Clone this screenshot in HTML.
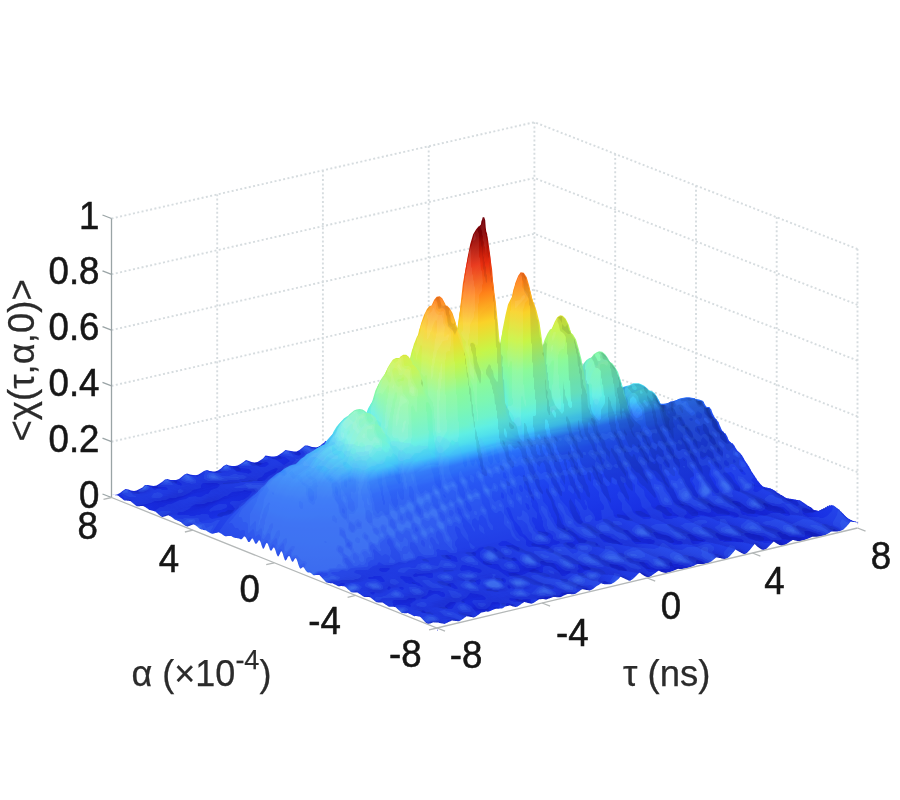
<!DOCTYPE html>
<html><head><meta charset="utf-8"><title>Ambiguity function</title><style>html,body{margin:0;padding:0;background:#fff}svg{display:block}</style></head><body>
<svg width="900" height="800" viewBox="0 0 900 800">
<rect width="900" height="800" fill="#fff"/>
<g stroke="#d6dcdf" stroke-width="1.9" stroke-dasharray="2 2.4" fill="none">
<path d="M111.5,441.7L534.4,345.4L857.5,472.2"/>
<path d="M111.5,385.9L534.4,289.6L857.5,416.4"/>
<path d="M111.5,330.1L534.4,233.8L857.5,360.6"/>
<path d="M111.5,274.3L534.4,178.0L857.5,304.8"/>
<path d="M111.5,218.5L534.4,122.2L857.5,249.0"/>
<path d="M217.2,473.4L217.2,194.4"/>
<path d="M615.2,432.9L615.2,153.9"/>
<path d="M322.9,449.4L322.9,170.4"/>
<path d="M696.0,464.6L696.0,185.6"/>
<path d="M428.7,425.3L428.7,146.3"/>
<path d="M776.7,496.3L776.7,217.3"/>
<path d="M534.4,401.2L534.4,122.2"/>
<path d="M857.5,528.0L857.5,249.0"/>
</g>
<defs><linearGradient id="g" gradientUnits="userSpaceOnUse" x1="0" y1="0" x2="-133.13" y2="-559.82"><stop offset="0" stop-color="#1422cf"/><stop offset="0.007547" stop-color="#172bdd"/><stop offset="0.01887" stop-color="#1931e4"/><stop offset="0.0566" stop-color="#1b37e8"/><stop offset="0.1132" stop-color="#1d3eec"/><stop offset="0.1887" stop-color="#2150f3"/><stop offset="0.2358" stop-color="#2a72f9"/><stop offset="0.283" stop-color="#34a0fc"/><stop offset="0.3396" stop-color="#44d4f6"/><stop offset="0.3962" stop-color="#60f0e2"/><stop offset="0.4717" stop-color="#8cfa98"/><stop offset="0.566" stop-color="#c8f546"/><stop offset="0.6604" stop-color="#fad228"/><stop offset="0.7547" stop-color="#ff8219"/><stop offset="0.8491" stop-color="#e82d0f"/><stop offset="0.9434" stop-color="#8a0000"/><stop offset="1" stop-color="#6e000a"/></linearGradient>
<linearGradient id="h1" href="#g"><stop offset="0" stop-color="#1422cf"/><stop offset="0.007547" stop-color="#172bdd"/><stop offset="0.01887" stop-color="#1931e4"/><stop offset="0.0566" stop-color="#1b37e8"/><stop offset="0.1132" stop-color="#1d3eec"/><stop offset="0.1887" stop-color="#2150f3"/><stop offset="0.2358" stop-color="#2a72f9"/><stop offset="0.2547" stop-color="#2f89fa"/><stop offset="0.2736" stop-color="#349ffc"/><stop offset="0.3019" stop-color="#3cbbf9"/><stop offset="0.3302" stop-color="#45d5f6"/><stop offset="0.3585" stop-color="#52e2ec"/><stop offset="0.3868" stop-color="#5fefe3"/><stop offset="0.4151" stop-color="#6ef3ca"/><stop offset="0.4434" stop-color="#7df7b1"/><stop offset="0.4717" stop-color="#8cfa98"/><stop offset="0.566" stop-color="#c8f546"/><stop offset="0.6604" stop-color="#fad228"/><stop offset="0.7547" stop-color="#ff8219"/><stop offset="0.8491" stop-color="#e82d0f"/><stop offset="0.9434" stop-color="#8a0000"/><stop offset="1" stop-color="#6e000a"/></linearGradient>
<linearGradient id="h2" href="#g"><stop offset="0" stop-color="#1422cf"/><stop offset="0.007547" stop-color="#172bdd"/><stop offset="0.01887" stop-color="#1931e4"/><stop offset="0.0566" stop-color="#1b37e8"/><stop offset="0.1132" stop-color="#1d3eec"/><stop offset="0.1887" stop-color="#2150f3"/><stop offset="0.2358" stop-color="#2a72f9"/><stop offset="0.2547" stop-color="#308dfb"/><stop offset="0.2736" stop-color="#36a8fb"/><stop offset="0.3019" stop-color="#3fc5f8"/><stop offset="0.3302" stop-color="#4adaf2"/><stop offset="0.3585" stop-color="#57e7e8"/><stop offset="0.3868" stop-color="#63f1dc"/><stop offset="0.4151" stop-color="#71f4c5"/><stop offset="0.4434" stop-color="#7ef7af"/><stop offset="0.4717" stop-color="#8cfa98"/><stop offset="0.566" stop-color="#c8f546"/><stop offset="0.6604" stop-color="#fad228"/><stop offset="0.7547" stop-color="#ff8219"/><stop offset="0.8491" stop-color="#e82d0f"/><stop offset="0.9434" stop-color="#8a0000"/><stop offset="1" stop-color="#6e000a"/></linearGradient>
<linearGradient id="h3" href="#g"><stop offset="0" stop-color="#1422cf"/><stop offset="0.007547" stop-color="#172bdd"/><stop offset="0.01887" stop-color="#1931e4"/><stop offset="0.0566" stop-color="#1b37e8"/><stop offset="0.1132" stop-color="#1d3eec"/><stop offset="0.1887" stop-color="#2150f3"/><stop offset="0.2358" stop-color="#2a72f9"/><stop offset="0.2547" stop-color="#3191fb"/><stop offset="0.2736" stop-color="#39b0fa"/><stop offset="0.3019" stop-color="#42cff7"/><stop offset="0.3302" stop-color="#4fdfee"/><stop offset="0.3585" stop-color="#5cece4"/><stop offset="0.3868" stop-color="#68f2d5"/><stop offset="0.4151" stop-color="#74f5c0"/><stop offset="0.4434" stop-color="#80f7ac"/><stop offset="0.4717" stop-color="#8cfa98"/><stop offset="0.566" stop-color="#c8f546"/><stop offset="0.6604" stop-color="#fad228"/><stop offset="0.7547" stop-color="#ff8219"/><stop offset="0.8491" stop-color="#e82d0f"/><stop offset="0.9434" stop-color="#8a0000"/><stop offset="1" stop-color="#6e000a"/></linearGradient>
<linearGradient id="h4" href="#g"><stop offset="0" stop-color="#1422cf"/><stop offset="0.007547" stop-color="#172bdd"/><stop offset="0.01887" stop-color="#1931e4"/><stop offset="0.0566" stop-color="#1b37e8"/><stop offset="0.1132" stop-color="#1d3eec"/><stop offset="0.1887" stop-color="#2150f3"/><stop offset="0.2358" stop-color="#2a72f9"/><stop offset="0.2547" stop-color="#3296fb"/><stop offset="0.2736" stop-color="#3bb8f9"/><stop offset="0.3019" stop-color="#47d7f4"/><stop offset="0.3302" stop-color="#54e4ea"/><stop offset="0.3585" stop-color="#62f0df"/><stop offset="0.3868" stop-color="#6cf3cd"/><stop offset="0.4151" stop-color="#77f5bb"/><stop offset="0.4434" stop-color="#81f8aa"/><stop offset="0.4717" stop-color="#8cfa98"/><stop offset="0.566" stop-color="#c8f546"/><stop offset="0.6604" stop-color="#fad228"/><stop offset="0.7547" stop-color="#ff8219"/><stop offset="0.8491" stop-color="#e82d0f"/><stop offset="0.9434" stop-color="#8a0000"/><stop offset="1" stop-color="#6e000a"/></linearGradient>
<linearGradient id="h5" href="#g"><stop offset="0" stop-color="#1422cf"/><stop offset="0.007547" stop-color="#172bdd"/><stop offset="0.01887" stop-color="#1931e4"/><stop offset="0.0566" stop-color="#1b37e8"/><stop offset="0.1132" stop-color="#1d3eec"/><stop offset="0.1887" stop-color="#2150f3"/><stop offset="0.2358" stop-color="#2a72f9"/><stop offset="0.2547" stop-color="#339afc"/><stop offset="0.2736" stop-color="#3ec0f8"/><stop offset="0.3019" stop-color="#4cdcf0"/><stop offset="0.3302" stop-color="#59e9e7"/><stop offset="0.3585" stop-color="#68f2d5"/><stop offset="0.3868" stop-color="#71f4c6"/><stop offset="0.4151" stop-color="#7af6b6"/><stop offset="0.4434" stop-color="#83f8a7"/><stop offset="0.4717" stop-color="#8cfa98"/><stop offset="0.566" stop-color="#c8f546"/><stop offset="0.6604" stop-color="#fad228"/><stop offset="0.7547" stop-color="#ff8219"/><stop offset="0.8491" stop-color="#e82d0f"/><stop offset="0.9434" stop-color="#8a0000"/><stop offset="1" stop-color="#6e000a"/></linearGradient>
<linearGradient id="h6" href="#g"><stop offset="0" stop-color="#1422cf"/><stop offset="0.007547" stop-color="#172bdd"/><stop offset="0.01887" stop-color="#1931e4"/><stop offset="0.0566" stop-color="#1b37e8"/><stop offset="0.1132" stop-color="#1d3eec"/><stop offset="0.1887" stop-color="#2150f3"/><stop offset="0.2358" stop-color="#2a72f9"/><stop offset="0.2547" stop-color="#349efc"/><stop offset="0.2736" stop-color="#40c8f7"/><stop offset="0.3019" stop-color="#51e1ec"/><stop offset="0.3302" stop-color="#5fefe3"/><stop offset="0.3585" stop-color="#6ef3cb"/><stop offset="0.3868" stop-color="#75f5be"/><stop offset="0.4151" stop-color="#7df7b1"/><stop offset="0.4434" stop-color="#84f8a5"/><stop offset="0.4717" stop-color="#8cfa98"/><stop offset="0.566" stop-color="#c8f546"/><stop offset="0.6604" stop-color="#fad228"/><stop offset="0.7547" stop-color="#ff8219"/><stop offset="0.8491" stop-color="#e82d0f"/><stop offset="0.9434" stop-color="#8a0000"/><stop offset="1" stop-color="#6e000a"/></linearGradient>
</defs>
<g fill="url(#g)">
<path transform="translate(111.5,497.5)scale(.5)" d="M4,-5l-4-1l6 1l5-1l6-3l5-4l6-4l6 1l5 2l6 1l5-1l6-3l6-3l5-5l6 0l5 1l6 1l6-1l5-3l6-4l6-5l5-1l6 2l5 0l6 0l6-2l5-4l6-5l5-2l6 2l6 1l5 1l6-2l5-3l6-4l6-2l5 2l6 1l5 0l6-2l6-4l5-5l6-3l5 2l6 1l6 0l5-1l6-3l6-4l5-4l6 2l5 2l6 1l6-1l5-3l6-4l5-6l6 1l6 1l5 0l6-1l5-3l6-4l6-5l5 1l6 1l5 1l6 0l6-3l5-4l6-5l5 0l6 2l6 2l5 0l1 0l1-1l2 0l1-1l1 0l0-1l2 0l1-1l1-1l1-1l0 0l2-1l1-1l1-1l2-1l0-1l1-1l1-1l4 1l5 2l6 1l6-1l5-2l6-4l5-5l6-2l6 2l5 1l6 0l5-2l6-3l6-5l5-2l6 2l5 1l6 1l6-2l5-4l6-5l5-4l6 2l6 1l5 1l6-1l5-4l6-5l6-5l5 3l6 2l6 1l5-1l6-4l5-4l6-6l6 3l5 2l6 2l5-1l6-4l6-4l5-5l6 1l5 2l6 1l6-1l5-3l6-5l5-4l6 0l6 2l5 1l6-1l5-3l6-4l6-4l5-1l6 2l6 1l5 0l6-3l5-5l6-4l6-2l5 3l6 1l5 0l6-3l6-4l5-5l6-2l5 2l6 1l4 1l0 13l-841 200z"/>
<path transform="translate(113.3,498.2)scale(.5)" d="M4,-6l-4-1l6 1l5-1l6-2l5-3l6-3l6 1l5 1l6 1l5-1l6-3l6-3l5-4l6 0l5 0l6 0l6-1l5-3l6-4l6-4l5-1l6 1l5 1l6-1l6-3l5-3l6-4l5-2l6 1l6 0l5 0l6-1l5-3l6-3l6-2l5 2l6 1l5 0l6-2l6-3l5-4l6-3l5 1l6 0l6 1l5-2l6-2l6-4l5-3l6 2l5 1l6 0l6-1l5-3l6-4l5-4l6 0l6 0l5 0l6-1l5-3l6-3l6-4l5 0l6 0l5 1l6-1l6-2l5-3l6-5l5 0l6 1l6 1l5 0l1 0l1-1l2 0l1-1l1 0l0 0l2-1l1 0l1-1l1-1l0 0l2-1l1-1l1 0l2-1l0-1l1 0l1-1l4 0l5 1l6 1l6 0l5-3l6-3l5-4l6-2l6 1l5 0l6 0l5-2l6-3l6-3l5-3l6 2l5 0l6 1l6-2l5-4l6-4l5-4l6 1l6 1l5 1l6-2l5-3l6-4l6-4l5 2l6 1l6 1l5-1l6-4l5-4l6-4l6 2l5 2l6 0l5-1l6-2l6-4l5-4l6 0l5 2l6 0l6-1l5-3l6-4l5-4l6 0l6 1l5 1l6-1l5-2l6-4l6-4l5 0l6 1l6 0l5-1l6-2l5-4l6-4l6-1l5 1l6 1l5-1l6-2l6-4l5-4l6-2l5 2l6 0l4 1l0 13l-841 200z"/>
<path transform="translate(115.1,498.9)scale(.5)" d="M4,-7l-4-1l6 1l5 0l6-2l5-2l6-3l6 1l5 0l6 1l5-1l6-2l6-3l5-4l6-1l5 0l6 0l6-2l5-2l6-3l6-4l5-1l6 1l5 0l6-1l6-3l5-3l6-3l5-2l6 0l6 0l5-1l6-1l5-3l6-3l6-1l5 1l6 1l5 0l6-2l6-2l5-3l6-3l5 1l6 0l6 0l5-2l6-2l6-3l5-3l6 1l5 1l6 0l6-2l5-2l6-4l5-4l6 0l6-1l5 0l6-1l5-2l6-3l6-3l5 0l6 0l5 0l6-1l6-2l5-3l6-4l5-1l6 0l6 1l5 0l1 0l1-1l2 0l1 0l1-1l0 0l2 0l1-1l1 0l1-1l0 0l2-1l1 0l1-1l2-1l0 0l1-1l1-1l4 1l5 1l6 0l6-1l5-2l6-3l5-3l6-2l6 0l5 1l6-1l5-1l6-3l6-3l5-2l6 0l5 0l6 0l6-2l5-3l6-4l5-3l6 1l6 0l5 1l6-2l5-3l6-3l6-3l5 1l6 1l6 0l5-1l6-3l5-4l6-4l6 1l5 2l6 0l5-1l6-2l6-4l5-3l6 0l5 1l6 0l6-1l5-3l6-3l5-3l6-1l6 1l5 0l6-1l5-2l6-3l6-4l5-1l6 1l6 0l5-1l6-3l5-3l6-3l6-2l5 1l6 1l5-1l6-3l6-3l5-3l6-2l5 0l6 0l4 1l0 14l-841 200z"/>
<path transform="translate(116.9,499.7)scale(.5)" d="M4,-7l-4-2l6 1l5 0l6-2l5-1l6-3l6 1l5 0l6 0l5-1l6-2l6-2l5-4l6-1l5 0l6-1l6-2l5-2l6-2l6-3l5-1l6 0l5 0l6-1l6-2l5-3l6-3l5-2l6 0l6-1l5-1l6-2l5-2l6-3l6-1l5 1l6 0l5 0l6-1l6-2l5-3l6-2l5 0l6 0l6-1l5-1l6-2l6-2l5-3l6 1l5-1l6 0l6-2l5-2l6-3l5-4l6 0l6-1l5-1l6 0l5-2l6-2l6-3l5-1l6 0l5 0l6-1l6-2l5-2l6-4l5-1l6-1l6 1l5-1l1 0l1 0l2-1l1 0l1 0l0-1l2 0l1 0l1-1l1-1l0 0l2 0l1-1l1 0l2-1l0 0l1-1l1 0l4 0l5 0l6 1l6-1l5-2l6-2l5-3l6-2l6 0l5 0l6-1l5-1l6-3l6-3l5-2l6 0l5 0l6-1l6-1l5-3l6-3l5-3l6 0l6 0l5 0l6-1l5-2l6-3l6-3l5 0l6 1l6 0l5-1l6-3l5-3l6-4l6 1l5 0l6 1l5-1l6-3l6-2l5-3l6 0l5 0l6 0l6-1l5-2l6-3l5-3l6-1l6 0l5 0l6-1l5-2l6-3l6-3l5-1l6 0l6 0l5-1l6-3l5-2l6-3l6-2l5 1l6 0l5-1l6-3l6-3l5-3l6-2l5 0l6-1l4 1l0 15l-841 200z"/>
<path transform="translate(118.7,500.4)scale(.5)" d="M4,-6l-4-3l6 1l5 0l6-2l5-2l6-2l6 0l5 1l6-1l5-1l6-2l6-2l5-3l6-1l5-1l6-1l6-1l5-2l6-2l6-3l5-1l6 0l5 0l6-1l6-2l5-3l6-2l5-2l6-1l6-1l5-1l6-2l5-2l6-2l6-2l5 0l6 0l5 0l6-1l6-1l5-3l6-2l5 0l6 0l6-1l5-1l6-2l6-2l5-2l6-1l5 0l6-1l6-2l5-2l6-3l5-3l6-1l6-1l5 0l6-1l5-1l6-2l6-2l5-1l6-1l5 0l6-1l6-1l5-3l6-3l5-1l6-1l6-1l5 0l1-1l1 0l2 0l1-1l1 0l0 0l2 0l1-1l1 0l1-1l0 0l2 0l1-1l1-1l2 0l0 0l1-1l1 0l4 0l5 0l6 0l6-1l5-1l6-2l5-3l6-2l6 0l5 0l6-1l5-1l6-3l6-2l5-2l6-1l5 0l6-1l6-2l5-2l6-3l5-2l6-1l6 1l5-1l6-1l5-2l6-3l6-2l5 0l6 0l6 0l5-1l6-3l5-3l6-3l6 0l5 0l6 0l5-1l6-2l6-2l5-3l6 0l5 0l6 0l6-1l5-3l6-2l5-3l6 0l6-1l5 0l6-1l5-2l6-2l6-3l5-1l6-1l6 0l5-1l6-2l5-3l6-3l6-1l5 0l6 0l5-2l6-2l6-3l5-3l6-2l5 0l6-2l4 1l0 16l-841 200z"/>
<path transform="translate(120.5,501.1)scale(.5)" d="M4,-4l-4-3l6 0l5-1l6-1l5-2l6-2l6-1l5 0l6-1l5-1l6-2l6-2l5-3l6-1l5-1l6-1l6-1l5-2l6-1l6-2l5-1l6 0l5-1l6-1l6-2l5-2l6-2l5-2l6-1l6-1l5-1l6-2l5-2l6-3l6-1l5-1l6 0l5-1l6 0l6-2l5-2l6-1l5 0l6-1l6-1l5-1l6-2l6-2l5-2l6-1l5-1l6-1l6-2l5-2l6-3l5-2l6-1l6-1l5 0l6-1l5-1l6-1l6-3l5 0l6-1l5-1l6-1l6-1l5-2l6-3l5-2l6-1l6-1l5 0l1-1l1 0l2 0l1-1l1 0l0 0l2-1l1 0l1-1l1 0l0 0l2-1l1 0l1-1l2 0l0 0l1-1l1 0l4-1l5 0l6 0l6 0l5-1l6-2l5-3l6-1l6-1l5 0l6-1l5-1l6-3l6-2l5-2l6-1l5 0l6-1l6-2l5-2l6-2l5-3l6 0l6 0l5 0l6-1l5-2l6-3l6-3l5 0l6 0l6 0l5-1l6-3l5-2l6-3l6-1l5 0l6 0l5-1l6-2l6-3l5-2l6 0l5 0l6-1l6-1l5-2l6-2l5-3l6 0l6 0l5-1l6-1l5-2l6-2l6-3l5-1l6 0l6-1l5-1l6-2l5-2l6-3l6-1l5 0l6-1l5-1l6-3l6-3l5-2l6-3l5-1l6-1l4 0l0 17l-841 200z"/>
<path transform="translate(122.3,501.9)scale(.5)" d="M4,-3l-4-3l6 0l5-1l6-2l5-2l6-2l6-1l5-1l6-1l5-1l6-2l6-3l5-2l6-1l5-1l6-1l6-1l5-1l6-1l6-2l5-1l6 0l5-1l6-1l6-2l5-1l6-2l5-2l6 0l6-2l5-1l6-2l5-2l6-2l6-2l5-1l6-1l5-1l6-1l6-1l5-2l6-1l5 0l6-1l6-1l5-1l6-2l6-2l5-2l6-1l5-1l6-2l6-2l5-2l6-2l5-2l6-1l6 0l5-1l6 0l5-1l6-2l6-2l5-1l6-1l5-1l6-1l6-1l5-2l6-2l5-2l6-1l6-1l5-1l1 0l1-1l2 0l1-1l1 0l0 0l2 0l1-1l1 0l1-1l0 0l2 0l1-1l1-1l2 0l0 0l1-1l1 0l4-1l5 0l6-1l6 0l5-1l6-2l5-2l6-1l6-1l5 0l6-1l5-2l6-1l6-3l5-2l6 0l5-1l6-1l6-2l5-2l6-2l5-2l6 0l6 0l5-1l6-1l5-2l6-2l6-3l5 0l6-1l6 0l5-1l6-2l5-3l6-3l6 0l5-1l6 0l5-1l6-3l6-2l5-2l6-1l5 0l6 0l6-1l5-2l6-2l5-2l6-1l6 0l5-1l6-1l5-2l6-2l6-2l5-1l6-1l6-1l5-1l6-2l5-2l6-2l6-1l5-1l6-1l5-1l6-3l6-2l5-3l6-2l5-2l6-2l4 1l0 17l-841 200z"/>
<path transform="translate(124.2,502.6)scale(.5)" d="M4,-4l-4 0l6-1l5-2l6-2l5-2l6-2l6-1l5-1l6-2l5-1l6-2l6-2l5-2l6-1l5-1l6-1l6-1l5-1l6-1l6-1l5-1l6-1l5-1l6-1l6-1l5-2l6-2l5-1l6 0l6-1l5-2l6-1l5-2l6-3l6-2l5-1l6-1l5-2l6-1l6-1l5-2l6-1l5 0l6-1l6-1l5-1l6-2l6-2l5-2l6-1l5-2l6-1l6-2l5-2l6-2l5-1l6-1l6 0l5-1l6-1l5-1l6-1l6-2l5-1l6-2l5-1l6 0l6-2l5-1l6-3l5-1l6-2l6-1l5-1l1 0l1 0l2-1l1 0l1 0l0 0l2-1l1 0l1-1l1 0l0 0l2-1l1 0l1-1l2-1l0 0l1 0l1-1l4 0l5-2l6 0l6 0l5-1l6-2l5-2l6-1l6-1l5 0l6-1l5-2l6-1l6-2l5-2l6-1l5-1l6-1l6-1l5-2l6-2l5-2l6 0l6-1l5 0l6-2l5-1l6-3l6-2l5-1l6 0l6-1l5-1l6-2l5-3l6-2l6-1l5 0l6-1l5-1l6-3l6-2l5-2l6-1l5 0l6 0l6-2l5-1l6-2l5-2l6-1l6 0l5-1l6-1l5-2l6-2l6-2l5-1l6-1l6 0l5-2l6-1l5-2l6-2l6-1l5-1l6-1l5-2l6-2l6-3l5-3l6-2l5-2l6-2l4 2l0 16l-841 200z"/>
<path transform="translate(126.0,503.3)scale(.5)" d="M4,-5l-4-1l6 0l5-1l6-2l5-2l6-2l6-1l5-2l6-1l5-2l6-2l6-1l5-2l6-1l5-1l6 0l6-1l5-1l6-1l6-1l5-1l6-1l5-1l6-2l6-1l5-2l6-1l5-1l6-1l6-1l5-1l6-1l5-2l6-2l6-2l5-2l6-1l5-2l6-2l6-1l5-1l6-2l5 0l6-1l6-1l5-2l6-1l6-2l5-2l6-1l5-2l6-1l6-2l5-1l6-2l5-1l6-1l6 0l5-1l6-1l5-1l6-1l6-2l5-2l6-1l5-1l6-1l6-2l5-1l6-2l5-2l6-1l6-1l5-1l1 0l1-1l2 0l1 0l1-1l0 0l2 0l1-1l1 0l1 0l0 0l2-1l1-1l1 0l2-1l0 0l1 0l1-1l4-1l5-1l6-1l6-1l5-1l6-1l5-2l6-1l6-1l5 0l6-1l5-2l6-1l6-2l5-2l6-1l5-1l6-1l6-1l5-1l6-2l5-2l6 0l6-1l5-1l6-1l5-2l6-2l6-2l5-1l6-1l6-1l5-1l6-2l5-2l6-3l6-1l5 0l6-1l5-1l6-2l6-3l5-2l6-1l5 0l6-1l6-1l5-1l6-2l5-2l6-1l6 0l5-1l6-1l5-2l6-2l6-2l5-1l6 0l6-1l5-1l6-2l5-1l6-2l6-1l5-1l6-2l5-1l6-2l6-3l5-3l6-2l5-2l6-2l4 3l0 14l-841 200z"/>
<path transform="translate(127.8,504.0)scale(.5)" d="M4,-6l-4-1l6 0l5-1l6-1l5-2l6-2l6-1l5-1l6-2l5-2l6-1l6-2l5-2l6 0l5-1l6-1l6 0l5-1l6-1l6-2l5-1l6-1l5-1l6-2l6-1l5-1l6-2l5-1l6 0l6-1l5-1l6-2l5-1l6-2l6-2l5-1l6-2l5-2l6-2l6-1l5-2l6-1l5-1l6-1l6-1l5-2l6-1l6-2l5-2l6-1l5-1l6-2l6-1l5-1l6-2l5-1l6 0l6-1l5-1l6-1l5-1l6-2l6-2l5-1l6-2l5-1l6-1l6-2l5-1l6-2l5-1l6-2l6-1l5 0l1-1l1 0l2 0l1-1l1 0l0 0l2 0l1-1l1 0l1-1l0 0l2 0l1-1l1 0l2-1l0 0l1 0l1-1l4-1l5-2l6-1l6 0l5-2l6-1l5-2l6-1l6-1l5-1l6 0l5-2l6-1l6-2l5-2l6-1l5-1l6 0l6-1l5-2l6-1l5-2l6-1l6-1l5-1l6-1l5-2l6-2l6-2l5-1l6-1l6-1l5-1l6-2l5-2l6-2l6-1l5-1l6-1l5-1l6-2l6-2l5-3l6-1l5 0l6-1l6-1l5-1l6-2l5-2l6-1l6 0l5-1l6-1l5-2l6-2l6-1l5-1l6-1l6-1l5-1l6-1l5-2l6-2l6-1l5-1l6-1l5-2l6-2l6-2l5-3l6-2l5-2l6-2l4 3l0 13l-841 200z"/>
<path transform="translate(129.6,504.8)scale(.5)" d="M4,-6l-4-2l6 0l5 0l6-1l5-2l6-1l6-2l5-1l6-1l5-2l6-1l6-2l5-1l6-1l5-1l6 0l6-1l5-1l6-1l6-2l5-1l6-2l5-1l6-2l6-1l5-1l6-2l5-1l6 0l6-1l5-1l6-1l5-1l6-2l6-1l5-2l6-2l5-2l6-2l6-2l5-1l6-2l5-1l6-1l6-1l5-2l6-1l6-2l5-1l6-2l5-1l6-1l6-1l5-1l6-1l5-1l6-1l6-1l5-1l6-1l5-2l6-1l6-2l5-2l6-2l5-1l6-1l6-2l5-1l6-2l5-1l6-1l6-1l5-1l1 0l1 0l2-1l1 0l1 0l0 0l2-1l1 0l1 0l1-1l0 0l2 0l1-1l1 0l2-1l0 0l1 0l1-1l4-1l5-2l6-1l6-1l5-1l6-2l5-1l6-2l6-1l5-1l6 0l5-2l6-1l6-2l5-1l6-1l5-1l6-1l6-1l5-1l6-2l5-1l6-1l6-1l5-1l6-2l5-2l6-1l6-3l5-1l6-1l6-1l5-1l6-2l5-2l6-2l6-1l5-1l6 0l5-2l6-2l6-2l5-2l6-1l5-1l6-1l6-1l5-1l6-2l5-2l6-1l6 0l5-1l6-1l5-2l6-1l6-2l5-1l6-1l6-1l5-1l6-1l5-2l6-1l6-2l5-1l6-1l5-1l6-2l6-2l5-3l6-2l5-2l6-2l4 3l0 12l-841 200z"/>
<path transform="translate(131.4,505.5)scale(.5)" d="M4,-4l-4-3l6-1l5 0l6-1l5-1l6-2l6-1l5-1l6-2l5-1l6-1l6-2l5-1l6 0l5-1l6-1l6-1l5-1l6-2l6-1l5-2l6-1l5-2l6-2l6-1l5-1l6-2l5-1l6-1l6-1l5-1l6-1l5 0l6-2l6-1l5-1l6-2l5-2l6-2l6-2l5-1l6-2l5-2l6-1l6-1l5-1l6-2l6-1l5-2l6-1l5-1l6-1l6-1l5-1l6-1l5-1l6-1l6-1l5-1l6-2l5-1l6-2l6-2l5-2l6-2l5-1l6-1l6-2l5-1l6-2l5-1l6-1l6-1l5-1l1 0l1 0l2 0l1-1l1 0l0 0l2 0l1 0l1-1l1 0l0 0l2 0l1-1l1 0l2-1l0 0l1 0l1-1l4-1l5-2l6-1l6-1l5-2l6-1l5-2l6-1l6-2l5-1l6 0l5-2l6-1l6-2l5-1l6-1l5-1l6-1l6-1l5-1l6-2l5-1l6-1l6-1l5-2l6-1l5-2l6-1l6-2l5-2l6-1l6-1l5-1l6-2l5-2l6-2l6-1l5 0l6-1l5-1l6-2l6-2l5-2l6-2l5 0l6-1l6-1l5-2l6-2l5-2l6-1l6 0l5-1l6-1l5-2l6-1l6-2l5-1l6-1l6-1l5-1l6-1l5-2l6-1l6-2l5-1l6-1l5-1l6-2l6-2l5-2l6-2l5-2l6-2l4 3l0 11l-841 200z"/>
<path transform="translate(133.2,506.2)scale(.5)" d="M4,-3l-4-3l6 0l5-1l6-2l5-1l6-1l6-1l5-1l6-2l5-1l6-1l6-1l5-1l6-1l5-1l6-1l6-1l5-1l6-2l6-2l5-2l6-1l5-2l6-2l6-1l5-2l6-1l5-1l6-1l6-1l5-1l6-1l5-1l6-1l6-1l5-1l6-1l5-2l6-2l6-2l5-2l6-1l5-2l6-2l6-1l5-1l6-2l6-1l5-2l6-1l5-1l6-1l6-1l5 0l6-1l5-1l6-2l6-1l5-1l6-2l5-2l6-2l6-2l5-1l6-2l5-1l6-2l6-1l5-1l6-2l5-1l6-1l6-2l5 0l1 0l1 0l2-1l1 0l1 0l0 0l2 0l1 0l1-1l1 0l0 0l2 0l1-1l1 0l2 0l0-1l1 0l1 0l4-1l5-2l6-2l6-1l5-1l6-1l5-2l6-2l6-2l5-1l6 0l5-2l6-1l6-1l5-2l6-1l5-1l6-1l6-1l5-1l6-2l5-1l6-2l6-1l5-1l6-1l5-2l6-2l6-1l5-2l6-1l6-1l5-1l6-2l5-1l6-2l6-2l5 0l6-1l5-1l6-2l6-2l5-2l6-1l5-1l6-1l6-1l5-1l6-2l5-2l6-1l6-1l5-1l6-1l5-2l6-1l6-2l5-1l6-1l6-1l5-1l6-1l5-2l6-2l6-1l5-1l6-1l5-2l6-1l6-2l5-2l6-1l5-2l6-2l4 3l0 10l-841 200z"/>
<path transform="translate(135.0,506.9)scale(.5)" d="M4,-1l-4-3l6-1l5-2l6-1l5-1l6-2l6-1l5-1l6-1l5-1l6-1l6-1l5-1l6-1l5-1l6-1l6-1l5-2l6-2l6-2l5-2l6-2l5-1l6-2l6-1l5-2l6-1l5-1l6-2l6-1l5-1l6-1l5-1l6-1l6-1l5-1l6-1l5-1l6-2l6-1l5-2l6-2l5-2l6-1l6-2l5-1l6-2l6-1l5-1l6-1l5-1l6-1l6-1l5-1l6-1l5-1l6-2l6-1l5-2l6-2l5-2l6-1l6-2l5-2l6-1l5-2l6-1l6-1l5-1l6-2l5-1l6-2l6-1l5 0l1-1l1 0l2 0l1 0l1 0l0 0l2 0l1-1l1 0l1 0l0 0l2 0l1-1l1 0l2 0l0 0l1-1l1 0l4-1l5-2l6-1l6-1l5-1l6-2l5-2l6-2l6-1l5-2l6 0l5-2l6-1l6-1l5-2l6-1l5-1l6-1l6-1l5-1l6-2l5-2l6-1l6-1l5-2l6-1l5-1l6-2l6-2l5-1l6-1l6-1l5-1l6-2l5-1l6-2l6-2l5 0l6-1l5-1l6-1l6-2l5-2l6-2l5 0l6-1l6-1l5-2l6-2l5-2l6-1l6-1l5-1l6-1l5-2l6-1l6-2l5-1l6-1l6-1l5-1l6-2l5-1l6-2l6-1l5-1l6-2l5-1l6-1l6-2l5-2l6-1l5-1l6-2l4 3l0 9l-841 200z"/>
<path transform="translate(136.8,507.6)scale(.5)" d="M4,-3l-4 0l6-1l5-2l6-2l5-1l6-1l6-1l5-1l6-1l5-1l6-1l6-1l5-1l6-1l5-2l6-1l6-2l5-2l6-2l6-2l5-2l6-1l5-2l6-1l6-2l5-1l6-1l5-2l6-1l6-2l5-1l6-1l5-1l6-1l6-1l5-1l6-1l5-1l6-1l6-1l5-2l6-1l5-2l6-2l6-2l5-1l6-2l6-1l5-1l6-1l5-1l6-1l6-1l5-1l6-1l5-2l6-1l6-2l5-2l6-2l5-2l6-1l6-2l5-1l6-2l5-1l6-1l6-1l5-1l6-2l5-1l6-2l6-1l5-1l1 0l1 0l2 0l1-1l1 0l0 0l2 0l1 0l1 0l1 0l0 0l2-1l1 0l1 0l2-1l0 0l1 0l1 0l4-1l5-2l6-1l6-1l5-1l6-1l5-2l6-2l6-2l5-1l6-1l5-2l6-1l6-1l5-2l6-1l5-1l6-1l6-1l5-2l6-1l5-2l6-2l6-1l5-1l6-2l5-1l6-1l6-2l5-1l6-1l6-1l5-1l6-2l5-1l6-2l6-2l5 0l6-1l5-1l6-1l6-2l5-2l6-1l5-1l6-1l6-1l5-2l6-2l5-2l6-1l6-1l5-1l6-1l5-2l6-1l6-2l5-1l6-1l6-1l5-1l6-2l5-2l6-1l6-2l5-1l6-1l5-1l6-2l6-1l5-1l6-2l5-1l6-1l4 1l0 10l-841 200z"/>
<path transform="translate(138.6,508.4)scale(.5)" d="M4,-4l-4 0l6-1l5-2l6-1l5-1l6-2l6-1l5 0l6-1l5-1l6-1l6-1l5-1l6-2l5-1l6-2l6-2l5-2l6-2l6-2l5-1l6-2l5-1l6-1l6-2l5-1l6-1l5-2l6-1l6-2l5-2l6-1l5-1l6-1l6-1l5-1l6-1l5-1l6-1l6-1l5-1l6-1l5-2l6-2l6-2l5-1l6-2l6-1l5-1l6-1l5-1l6-2l6-1l5-1l6-1l5-2l6-1l6-2l5-2l6-2l5-2l6-1l6-1l5-2l6-1l5-1l6-1l6-1l5-1l6-2l5-1l6-2l6-2l5-1l1 0l1 0l2 0l1 0l1 0l0 0l2-1l1 0l1 0l1 0l0 0l2 0l1-1l1 0l2 0l0 0l1 0l1-1l4-1l5-1l6-1l6-1l5-1l6-1l5-2l6-2l6-2l5-2l6 0l5-2l6-1l6-2l5-1l6-2l5-1l6-1l6-1l5-1l6-2l5-2l6-1l6-2l5-1l6-1l5-2l6-1l6-1l5-2l6 0l6-1l5-2l6-1l5-1l6-2l6-2l5-1l6 0l5-1l6-2l6-1l5-2l6-1l5-1l6-1l6-1l5-1l6-2l5-2l6-2l6-1l5-1l6-1l5-2l6-2l6-1l5-2l6 0l6-1l5-2l6-1l5-2l6-2l6-1l5-1l6-1l5-2l6-1l6-2l5-1l6-1l5-1l6-1l4 0l0 11l-841 200z"/>
<path transform="translate(140.4,509.1)scale(.5)" d="M4,-6l-4 0l6-1l5 0l6-2l5-1l6-1l6-1l5-1l6-1l5-1l6-1l6-1l5-1l6-2l5-1l6-2l6-2l5-2l6-2l6-2l5-1l6-1l5-1l6-2l6-1l5-1l6-1l5-2l6-1l6-2l5-2l6-2l5-1l6-1l6-2l5 0l6-1l5-1l6-1l6-1l5-1l6-1l5-1l6-2l6-2l5-1l6-2l6-1l5-1l6-1l5-2l6-1l6-1l5-1l6-2l5-2l6-2l6-2l5-1l6-2l5-2l6-1l6-1l5-1l6-1l5-1l6-1l6-1l5-2l6-1l5-2l6-1l6-2l5-1l1 0l1 0l2-1l1 0l1 0l0 0l2 0l1 0l1-1l1 0l0 0l2 0l1 0l1-1l2 0l0 0l1 0l1-1l4 0l5-2l6-1l6-1l5 0l6-1l5-2l6-2l6-2l5-2l6-1l5-1l6-1l6-2l5-1l6-2l5-1l6-1l6-1l5-2l6-2l5-1l6-2l6-1l5-1l6-2l5-1l6-1l6-1l5-2l6-1l6-1l5-1l6-1l5-1l6-2l6-2l5-1l6-1l5-1l6-1l6-1l5-2l6-1l5-1l6-1l6-1l5-1l6-2l5-3l6-1l6-1l5-1l6-1l5-2l6-2l6-1l5-2l6-1l6-1l5-1l6-2l5-1l6-2l6-1l5-2l6-1l5-1l6-2l6-1l5-2l6-1l5-1l6-2l4 1l0 12l-841 200z"/>
<path transform="translate(142.2,509.8)scale(.5)" d="M4,-7l-4-1l6 0l5 0l6-1l5-1l6-1l6-1l5-1l6-1l5-1l6-1l6-2l5-1l6-2l5-2l6-2l6-2l5-1l6-2l6-2l5-1l6-1l5-1l6-1l6-1l5-1l6-1l5-2l6-1l6-2l5-2l6-2l5-1l6-2l6-1l5-2l6-1l5-1l6 0l6-1l5-1l6-1l5-1l6-1l6-2l5-2l6-1l6-1l5-1l6-2l5-1l6-1l6-2l5-1l6-2l5-2l6-2l6-2l5-1l6-2l5-1l6-1l6-1l5-1l6-1l5-1l6-1l6-1l5-2l6-1l5-2l6-1l6-2l5-1l1 0l1-1l2 0l1 0l1 0l0 0l2-1l1 0l1 0l1 0l0 0l2-1l1 0l1 0l2-1l0 0l1 0l1 0l4-1l5-2l6-1l6 0l5-1l6-1l5-2l6-1l6-2l5-2l6-1l5-1l6-1l6-2l5-1l6-2l5-1l6-1l6-2l5-1l6-2l5-2l6-1l6-1l5-1l6-2l5-1l6-1l6-1l5-2l6-1l6-1l5-1l6-1l5-2l6-1l6-2l5-1l6-1l5-1l6-1l6-2l5-1l6-2l5-1l6 0l6-1l5-2l6-2l5-2l6-1l6-1l5-1l6-1l5-2l6-2l6-2l5-1l6-1l6-1l5-1l6-2l5-1l6-2l6-2l5-1l6-1l5-1l6-2l6-2l5-1l6-2l5-1l6-2l4 0l0 14l-841 200z"/>
<path transform="translate(144.0,510.6)scale(.5)" d="M4,-6l-4-2l6 0l5-1l6 0l5-1l6-1l6-1l5-2l6-1l5-1l6-1l6-2l5-1l6-2l5-2l6-2l6-2l5-2l6-1l6-1l5-1l6-1l5-1l6-1l6-1l5-1l6-1l5-2l6-1l6-2l5-2l6-1l5-2l6-2l6-2l5-1l6-2l5-1l6-1l6 0l5-1l6-1l5-1l6-1l6-1l5-2l6-1l6-1l5-2l6-1l5-1l6-2l6-2l5-1l6-2l5-2l6-2l6-1l5-2l6-1l5-1l6-1l6-1l5-1l6-1l5-1l6-1l6-1l5-2l6-1l5-2l6-1l6-2l5-1l1-1l1 0l2 0l1 0l1-1l0 0l2 0l1 0l1-1l1 0l0 0l2 0l1 0l1-1l2 0l0 0l1-1l1 0l4-1l5-1l6-2l6 0l5-1l6-1l5-1l6-2l6-2l5-1l6-1l5-1l6-1l6-2l5-2l6-1l5-2l6-1l6-1l5-1l6-2l5-2l6-1l6-1l5-1l6-1l5-2l6-1l6-1l5-2l6-1l6-1l5-1l6-1l5-2l6-1l6-2l5-1l6-1l5-1l6-1l6-2l5-2l6-1l5-1l6-1l6-1l5-1l6-2l5-2l6-2l6-1l5-1l6-1l5-1l6-2l6-2l5-1l6-1l6-1l5-1l6-2l5-1l6-2l6-2l5-1l6-1l5-1l6-2l6-2l5-2l6-1l5-2l6-2l4 0l0 15l-841 200z"/>
<path transform="translate(145.9,511.3)scale(.5)" d="M4,-5l-4-3l6 0l5 0l6-1l5-1l6-1l6-2l5-1l6-1l5-2l6-1l6-2l5-2l6-1l5-2l6-2l6-2l5-1l6-1l6-1l5-1l6-1l5-1l6-1l6-1l5-1l6-1l5-2l6-1l6-1l5-2l6-2l5-2l6-1l6-2l5-2l6-2l5-1l6-2l6 0l5-1l6-1l5-1l6-1l6-1l5-1l6-1l6-2l5-1l6-1l5-2l6-1l6-2l5-2l6-1l5-2l6-2l6-1l5-2l6-1l5-1l6 0l6-1l5-2l6-1l5-1l6-1l6-1l5-2l6-1l5-1l6-2l6-2l5-1l1 0l1-1l2 0l1 0l1-1l0 0l2 0l1 0l1-1l1 0l0 0l2 0l1-1l1 0l2 0l0-1l1 0l1 0l4-1l5-2l6-2l6 0l5-1l6-1l5-1l6-2l6-1l5-2l6-1l5 0l6-1l6-2l5-2l6-1l5-2l6-1l6-1l5-1l6-2l5-1l6-2l6-1l5-1l6-1l5-1l6-2l6-1l5-1l6-2l6-1l5-1l6-1l5-2l6-1l6-2l5-1l6-1l5-1l6-2l6-1l5-2l6-2l5-1l6 0l6-1l5-2l6-2l5-2l6-1l6-1l5-1l6-1l5-1l6-2l6-2l5-1l6-1l6-1l5-1l6-2l5-1l6-2l6-1l5-1l6-2l5-1l6-2l6-2l5-2l6-2l5-2l6-2l4 1l0 15l-841 200z"/>
<path transform="translate(147.7,512.0)scale(.5)" d="M4,-4l-4-3l6 0l5-1l6-1l5-1l6-1l6-2l5-1l6-1l5-2l6-2l6-2l5-1l6-2l5-2l6-2l6-1l5-1l6-1l6-1l5 0l6-1l5-1l6-1l6-2l5-1l6-1l5-1l6-2l6-1l5-2l6-1l5-2l6-2l6-1l5-2l6-2l5-2l6-2l6-1l5-1l6-1l5 0l6-1l6-2l5-1l6-1l6-1l5-1l6-1l5-2l6-2l6-1l5-2l6-1l5-2l6-2l6-1l5-1l6-1l5-1l6-1l6-1l5-1l6-1l5-2l6-1l6-1l5-2l6-1l5-1l6-2l6-2l5-1l1 0l1-1l2 0l1 0l1 0l0-1l2 0l1 0l1-1l1 0l0 0l2 0l1-1l1 0l2 0l0-1l1 0l1 0l4-1l5-2l6-2l6-1l5-1l6 0l5-2l6-1l6-2l5-1l6-1l5-1l6-1l6-1l5-2l6-2l5-1l6-1l6-1l5-1l6-2l5-1l6-1l6-2l5 0l6-1l5-2l6-1l6-2l5-1l6-1l6-2l5-1l6-1l5-2l6-1l6-2l5-1l6-1l5-1l6-2l6-1l5-2l6-2l5-1l6-1l6-1l5-1l6-2l5-2l6-2l6 0l5-1l6-1l5-1l6-2l6-2l5-1l6-1l6-1l5-1l6-1l5-2l6-2l6-1l5-1l6-1l5-2l6-2l6-2l5-2l6-2l5-2l6-3l4 1l0 16l-841 200z"/>
<path transform="translate(149.5,512.7)scale(.5)" d="M4,-5l-4 0l6-2l5-1l6-1l5-1l6-1l6-2l5-1l6-2l5-1l6-2l6-2l5-2l6-1l5-2l6-1l6-1l5-1l6-1l6-1l5-1l6 0l5-2l6-1l6-1l5-2l6-1l5-1l6-2l6-1l5-1l6-2l5-1l6-2l6-1l5-2l6-2l5-2l6-2l6-2l5-1l6-1l5-1l6-1l6-1l5-1l6-1l6-1l5-1l6-1l5-2l6-2l6-1l5-2l6-1l5-2l6-1l6-1l5-1l6-1l5-1l6-1l6-1l5-1l6-1l5-2l6-2l6-1l5-1l6-2l5-1l6-2l6-1l5-2l1 0l1 0l2-1l1 0l1 0l0 0l2-1l1 0l1 0l1-1l0 0l2 0l1 0l1-1l2 0l0 0l1-1l1 0l4-1l5-2l6-2l6-1l5-1l6-1l5-1l6-2l6-1l5-2l6 0l5-1l6-1l6-1l5-2l6-2l5-1l6-1l6-1l5-1l6-1l5-2l6-1l6-1l5-1l6-1l5-1l6-2l6-1l5-2l6-1l6-1l5-2l6-1l5-2l6-1l6-1l5-2l6-1l5-1l6-2l6-1l5-2l6-2l5-1l6-1l6-1l5-2l6-1l5-2l6-2l6-1l5 0l6-1l5-1l6-2l6-2l5-1l6-1l6-1l5-1l6-1l5-2l6-2l6-1l5-1l6-1l5-2l6-2l6-2l5-2l6-2l5-3l6-3l4 1l0 17l-841 200z"/>
<path transform="translate(151.3,513.5)scale(.5)" d="M4,-5l-4-1l6-1l5-1l6-1l5-2l6-1l6-1l5-1l6-2l5-1l6-2l6-2l5-2l6-1l5-1l6-2l6 0l5-1l6-1l6-1l5 0l6-1l5-2l6-1l6-2l5-1l6-2l5-1l6-2l6-1l5-1l6-1l5-2l6-1l6-1l5-2l6-2l5-2l6-2l6-2l5-2l6-1l5-1l6-1l6-1l5-1l6-1l6-1l5-1l6-2l5-1l6-2l6-1l5-2l6-1l5-1l6-1l6-1l5-1l6-1l5-1l6-1l6-1l5-1l6-2l5-2l6-1l6-2l5-1l6-2l5-1l6-2l6-1l5-2l1 0l1 0l2 0l1-1l1 0l0 0l2 0l1-1l1 0l1 0l0 0l2-1l1 0l1 0l2-1l0 0l1 0l1-1l4-1l5-2l6-2l6-1l5-1l6-1l5-1l6-2l6-2l5-1l6-1l5 0l6-1l6-1l5-2l6-2l5-1l6-1l6-1l5-1l6-1l5-1l6-2l6-1l5-1l6-1l5-1l6-1l6-2l5-1l6-2l6-1l5-2l6-1l5-1l6-2l6-1l5-2l6-1l5-1l6-2l6-1l5-2l6-2l5-1l6-1l6-2l5-1l6-2l5-1l6-2l6-1l5 0l6-1l5-1l6-2l6-2l5-1l6-1l6-1l5-1l6-1l5-2l6-2l6-1l5-1l6-1l5-1l6-2l6-3l5-2l6-3l5-2l6-3l4 2l0 16l-841 200z"/>
<path transform="translate(153.1,514.2)scale(.5)" d="M4,-5l-4-2l6-1l5-1l6-1l5-1l6-1l6-1l5-1l6-2l5-1l6-2l6-2l5-1l6-1l5-1l6-1l6-1l5-1l6 0l6-1l5-1l6-2l5-1l6-2l6-2l5-1l6-2l5-1l6-2l6-1l5-1l6-1l5-1l6-1l6-2l5-1l6-2l5-2l6-2l6-2l5-2l6-1l5-2l6-1l6-1l5-2l6 0l6-1l5-1l6-2l5-1l6-2l6-1l5-1l6-1l5-1l6-1l6-1l5-1l6-1l5-1l6-1l6-1l5-2l6-2l5-2l6-1l6-2l5-1l6-2l5-1l6-2l6-1l5-2l1 0l1 0l2 0l1-1l1 0l0 0l2 0l1 0l1-1l1 0l0 0l2 0l1-1l1 0l2 0l0-1l1 0l1 0l4-1l5-2l6-2l6-2l5-1l6-1l5-1l6-2l6-1l5-2l6-1l5 0l6-1l6-1l5-2l6-2l5-1l6-1l6-1l5-1l6-1l5-1l6-2l6-1l5-1l6-1l5-1l6-1l6-2l5-1l6-2l6-1l5-1l6-2l5-1l6-2l6-1l5-2l6-1l5-1l6-2l6-1l5-2l6-2l5-1l6-1l6-1l5-2l6-1l5-2l6-2l6 0l5-1l6-1l5-1l6-2l6-2l5-1l6-1l6-1l5-1l6-1l5-2l6-2l6-1l5-1l6-1l5-1l6-2l6-2l5-3l6-2l5-3l6-3l4 3l0 15l-841 200z"/>
<path transform="translate(154.9,514.9)scale(.5)" d="M4,-4l-4-3l6-1l5-1l6-1l5-1l6-1l6-1l5-1l6-2l5-1l6-2l6-1l5-1l6-1l5-1l6-1l6-1l5 0l6-1l6-1l5-2l6-1l5-2l6-2l6-2l5-1l6-2l5-1l6-2l6-1l5-1l6-1l5-1l6-1l6-1l5-1l6-2l5-2l6-2l6-2l5-1l6-2l5-2l6-1l6-2l5-1l6-1l6-1l5-1l6-2l5-1l6-2l6-1l5-1l6-1l5-1l6-1l6-1l5-1l6-1l5-1l6-1l6-1l5-2l6-2l5-2l6-1l6-2l5-1l6-2l5-1l6-2l6-1l5-2l1 0l1 0l2 0l1 0l1-1l0 0l2 0l1 0l1-1l1 0l0 0l2 0l1 0l1-1l2 0l0 0l1 0l1-1l4-1l5-2l6-1l6-2l5-1l6-1l5-2l6-1l6-2l5-2l6 0l5-1l6-1l6-1l5-2l6-2l5-1l6-1l6-1l5-1l6-1l5-1l6-2l6-1l5-1l6-1l5-1l6-1l6-2l5-1l6-2l6-1l5-1l6-2l5-1l6-2l6-1l5-2l6-1l5-1l6-2l6-1l5-2l6-1l5-2l6-1l6-1l5-1l6-2l5-2l6-1l6-1l5-1l6-1l5-1l6-2l6-1l5-2l6-1l6-1l5-1l6-1l5-2l6-2l6-1l5-1l6-1l5-1l6-2l6-2l5-2l6-3l5-2l6-2l4 2l0 14l-841 200z"/>
<path transform="translate(156.7,515.6)scale(.5)" d="M4,-2l-4-4l6-1l5-1l6-1l5-2l6-1l6-1l5-1l6-1l5-2l6-1l6-2l5-1l6 0l5-1l6-1l6-1l5-1l6-1l6-1l5-2l6-1l5-2l6-2l6-2l5-2l6-1l5-2l6-1l6-1l5-2l6-1l5-1l6-1l6 0l5-1l6-2l5-1l6-2l6-1l5-2l6-2l5-2l6-1l6-2l5-2l6-1l6-1l5-1l6-2l5-1l6-2l6-1l5-1l6-1l5 0l6-1l6-1l5-2l6-1l5-1l6-2l6-1l5-2l6-2l5-1l6-2l6-1l5-2l6-1l5-1l6-2l6-1l5-2l1 0l1 0l2 0l1-1l1 0l0 0l2 0l1 0l1-1l1 0l0 0l2 0l1 0l1-1l2 0l0 0l1 0l1-1l4 0l5-2l6-2l6-1l5-1l6-2l5-1l6-2l6-2l5-1l6-1l5-1l6-1l6-1l5-2l6-2l5-1l6-1l6-1l5-1l6-1l5-2l6-1l6-2l5 0l6-1l5-1l6-2l6-1l5-2l6-1l6-1l5-1l6-2l5-1l6-2l6-1l5-2l6-1l5-1l6-1l6-2l5-1l6-2l5-1l6-1l6-2l5-1l6-1l5-2l6-2l6 0l5-1l6-1l5-2l6-1l6-2l5-2l6-1l6-1l5-1l6-1l5-2l6-2l6-2l5 0l6-1l5-1l6-2l6-2l5-2l6-2l5-2l6-2l4 2l0 13l-841 200z"/>
<path transform="translate(158.5,516.4)scale(.5)" d="M4,-1l-4-3l6-1l5-2l6-1l5-2l6-1l6-2l5-1l6-1l5-2l6-1l6-1l5-1l6-1l5 0l6-1l6-1l5-1l6-2l6-1l5-2l6-2l5-2l6-2l6-1l5-2l6-1l5-2l6-1l6-2l5-1l6-1l5-1l6-1l6-1l5-1l6-1l5-1l6-1l6-2l5-1l6-2l5-2l6-2l6-1l5-2l6-2l6-1l5-1l6-1l5-2l6-2l6-1l5-1l6-1l5 0l6-1l6-2l5-1l6-2l5-1l6-2l6-1l5-2l6-1l5-2l6-1l6-2l5-1l6-1l5-2l6-1l6-2l5-1l1 0l1 0l2 0l1-1l1 0l0 0l2 0l1 0l1-1l1 0l0 0l2 0l1 0l1-1l2 0l0 0l1 0l1-1l4 0l5-2l6-1l6-2l5-1l6-1l5-1l6-2l6-2l5-2l6-1l5-1l6-1l6-1l5-2l6-2l5-1l6-1l6-1l5-1l6-1l5-2l6-2l6-1l5-1l6-1l5-1l6-1l6-2l5-2l6-1l6-1l5-1l6-1l5-1l6-2l6-2l5-1l6-1l5-1l6-1l6-2l5-1l6-2l5-1l6-1l6-1l5-1l6-2l5-1l6-2l6-1l5-1l6-1l5-2l6-1l6-2l5-2l6-1l6-1l5-1l6-1l5-2l6-2l6-2l5-1l6-1l5-1l6-1l6-2l5-2l6-2l5-1l6-2l4 2l0 12l-841 200z"/>
<path transform="translate(160.3,517.1)scale(.5)" d="M4,0l-4-2l6-2l5-2l6-2l5-2l6-1l6-1l5-2l6-1l5-2l6-1l6-1l5-1l6 0l5-1l6-1l6-1l5-2l6-2l6-1l5-2l6-2l5-2l6-2l6-1l5-2l6-1l5-1l6-1l6-2l5-1l6-1l5-2l6-1l6-1l5 0l6-1l5-1l6-1l6-1l5-2l6-1l5-2l6-2l6-2l5-2l6-1l6-2l5-1l6-1l5-2l6-2l6-1l5-1l6-1l5-1l6-1l6-1l5-2l6-2l5-1l6-2l6-1l5-2l6-2l5-1l6-1l6-1l5-1l6-2l5-1l6-1l6-2l5-1l1 0l1 0l2-1l1 0l1 0l0 0l2 0l1-1l1 0l1 0l0 0l2 0l1-1l1 0l2 0l0 0l1 0l1-1l4 0l5-2l6-1l6-1l5-1l6-2l5-1l6-2l6-1l5-2l6-1l5-1l6-1l6-2l5-2l6-2l5-2l6 0l6-1l5-1l6-1l5-2l6-2l6-2l5-1l6-1l5-1l6-1l6-2l5-1l6-1l6-1l5-1l6-1l5-2l6-1l6-2l5-1l6-1l5-1l6-2l6-1l5-1l6-1l5-2l6-1l6-1l5-1l6-1l5-2l6-2l6-1l5-1l6-1l5-1l6-2l6-2l5-2l6-1l6-1l5-1l6-2l5-1l6-2l6-2l5-1l6-1l5-1l6-2l6-1l5-2l6-2l5-1l6-2l4 2l0 12l-841 200z"/>
<path transform="translate(162.1,517.8)scale(.5)" d="M4,-2l-4 0l6-1l5-2l6-2l5-2l6-2l6-1l5-2l6-1l5-2l6-1l6-1l5-1l6-1l5-1l6-1l6-1l5-2l6-2l6-2l5-2l6-1l5-2l6-2l6-1l5-1l6-1l5-2l6-1l6-1l5-1l6-2l5-1l6-1l6-1l5-1l6-1l5-1l6-1l6-1l5-1l6-1l5-2l6-1l6-2l5-2l6-2l6-1l5-2l6-1l5-2l6-2l6-1l5-1l6-1l5-1l6-2l6-1l5-2l6-2l5-2l6-1l6-2l5-1l6-2l5-1l6-1l6-1l5-1l6-1l5-1l6-2l6-1l5-1l1 0l1-1l2 0l1 0l1 0l0-1l2 0l1 0l1 0l1-1l0 0l2 0l1 0l1 0l2-1l0 0l1 0l1 0l4-1l5-1l6-1l6-1l5-1l6-1l5-2l6-1l6-2l5-2l6-1l5-1l6-1l6-2l5-2l6-2l5-2l6-1l6 0l5-1l6-2l5-2l6-2l6-1l5-1l6-1l5-1l6-2l6-1l5-2l6-1l6-1l5-1l6-1l5-1l6-1l6-2l5-1l6-1l5-1l6-2l6-1l5-1l6-1l5-2l6-1l6-1l5-1l6-1l5-2l6-1l6-2l5-1l6-1l5-2l6-1l6-2l5-2l6-1l6-1l5-1l6-2l5-1l6-2l6-2l5-1l6-1l5-1l6-2l6-2l5-2l6-1l5-1l6-1l4 2l0 11l-841 200z"/>
<path transform="translate(163.9,518.5)scale(.5)" d="M4,-5l-4 1l6-1l5-1l6-2l5-1l6-2l6-2l5-1l6-1l5-2l6-1l6-1l5-1l6-1l5-1l6-2l6-2l5-1l6-2l6-2l5-2l6-2l5-1l6-2l6-1l5-1l6-1l5-1l6-1l6-1l5-2l6-1l5-2l6-1l6-1l5-1l6-1l5-1l6-1l6-1l5-1l6-1l5-1l6-1l6-2l5-2l6-2l6-1l5-2l6-1l5-2l6-2l6-1l5-1l6-2l5-1l6-1l6-2l5-2l6-2l5-2l6-1l6-2l5-1l6-1l5-2l6-1l6-1l5 0l6-1l5-2l6-1l6-1l5-2l1 0l1 0l2 0l1-1l1 0l0 0l2 0l1 0l1-1l1 0l0 0l2 0l1 0l1-1l2 0l0 0l1 0l1-1l4 0l5-1l6-2l6 0l5-1l6-1l5-2l6-1l6-2l5-2l6-1l5-1l6-2l6-1l5-2l6-2l5-2l6-1l6-1l5-1l6-1l5-2l6-2l6-2l5-1l6-1l5-1l6-1l6-2l5-2l6-1l6 0l5-1l6-1l5-1l6-2l6-1l5-1l6-1l5-2l6-1l6-1l5-1l6-2l5-1l6-1l6-1l5-1l6-1l5-2l6-1l6-2l5-1l6-1l5-2l6-2l6-2l5-1l6-1l6-1l5-1l6-2l5-1l6-2l6-2l5-1l6-1l5-1l6-2l6-2l5-2l6-1l5-1l6-1l4 2l0 11l-841 200z"/>
<path transform="translate(165.8,519.2)scale(.5)" d="M4,-8l-4 2l6-1l5-1l6-1l5-1l6-2l6-1l5-1l6-2l5-1l6-1l6-2l5-1l6-1l5-1l6-2l6-2l5-2l6-2l6-2l5-2l6-1l5-1l6-1l6-1l5-1l6-1l5-1l6-1l6-1l5-2l6-1l5-2l6-1l6-2l5-1l6-1l5-2l6-1l6 0l5-1l6-1l5-1l6-1l6-2l5-2l6-1l6-2l5-1l6-2l5-1l6-2l6-2l5-1l6-1l5-1l6-2l6-2l5-2l6-2l5-2l6-1l6-1l5-1l6-2l5-1l6-1l6-1l5-1l6-1l5-1l6-1l6-2l5-1l1 0l1 0l2-1l1 0l1 0l0 0l2 0l1-1l1 0l1 0l0 0l2-1l1 0l1 0l2 0l0-1l1 0l1 0l4-1l5-1l6-1l6-1l5-1l6-1l5-1l6-2l6-1l5-2l6-1l5-2l6-1l6-1l5-2l6-2l5-2l6-1l6-1l5-1l6-1l5-2l6-2l6-2l5-1l6-1l5-1l6-2l6-1l5-2l6-1l6-1l5-1l6-1l5-1l6-1l6-2l5-1l6-1l5-1l6-1l6-1l5-2l6-1l5-1l6-1l6-1l5-1l6-2l5-1l6-2l6-1l5-2l6-1l5-1l6-2l6-2l5-2l6 0l6-1l5-1l6-2l5-1l6-2l6-2l5-1l6-1l5-1l6-2l6-2l5-2l6-1l5-1l6 0l4 0l0 12l-841 200z"/>
<path transform="translate(167.6,520.0)scale(.5)" d="M4,-9l-4 0l6 0l5 0l6-1l5-1l6-1l6-1l5-2l6-1l5-2l6-1l6-1l5-2l6-1l5-2l6-1l6-2l5-2l6-2l6-2l5-1l6-2l5-1l6-1l6-1l5 0l6-1l5-1l6-1l6-2l5-1l6-1l5-2l6-1l6-2l5-2l6-1l5-2l6-1l6-1l5 0l6-1l5-1l6-1l6-2l5-1l6-2l6-1l5-1l6-2l5-2l6-1l6-2l5-1l6-1l5-2l6-2l6-2l5-2l6-2l5-1l6-1l6-1l5-1l6-2l5-1l6-1l6-1l5-1l6-1l5-1l6-2l6-1l5-1l1 0l1-1l2 0l1 0l1 0l0 0l2-1l1 0l1 0l1-1l0 0l2 0l1 0l1 0l2-1l0 0l1 0l1 0l4-1l5-2l6-1l6-1l5-1l6-1l5-1l6-1l6-2l5-2l6-1l5-1l6-1l6-2l5-2l6-1l5-2l6-1l6-1l5-1l6-1l5-2l6-2l6-2l5-1l6-1l5-1l6-1l6-2l5-2l6-1l6-1l5-1l6-1l5-1l6-2l6-1l5-1l6-1l5-1l6-1l6-2l5-1l6-1l5-1l6-1l6-2l5-1l6-1l5-2l6-1l6-2l5-1l6-1l5-2l6-1l6-2l5-2l6-1l6 0l5-1l6-2l5-2l6-1l6-2l5-1l6-1l5-1l6-2l6-2l5-2l6-2l5-1l6 0l4 0l0 13l-841 200z"/>
<path transform="translate(169.4,520.7)scale(.5)" d="M4,-8l-4-2l6 0l5 0l6-1l5-1l6-1l6-1l5-1l6-1l5-2l6-1l6-2l5-1l6-2l5-1l6-2l6-2l5-2l6-2l6-1l5-2l6-1l5 0l6-1l6-1l5-1l6-1l5-1l6-1l6-2l5-1l6-1l5-2l6-1l6-2l5-2l6-2l5-1l6-2l6-1l5-1l6-1l5-1l6-1l6-1l5-1l6-2l6-1l5-1l6-1l5-2l6-2l6-1l5-1l6-2l5-1l6-2l6-2l5-2l6-2l5-1l6-1l6-1l5-1l6-1l5-2l6-1l6-1l5-1l6-1l5-1l6-2l6-1l5-1l1 0l1-1l2 0l1 0l1-1l0 0l2 0l1 0l1 0l1-1l0 0l2 0l1 0l1-1l2 0l0 0l1 0l1-1l4-1l5-1l6-1l6-2l5-1l6-1l5-1l6-1l6-2l5-1l6-2l5-1l6-1l6-1l5-2l6-2l5-1l6-1l6-1l5-1l6-2l5-1l6-2l6-2l5-1l6-1l5-1l6-1l6-2l5-2l6-1l6-1l5-1l6-1l5-1l6-2l6-1l5-1l6-1l5-1l6-1l6-2l5-1l6-2l5-1l6-1l6-1l5-1l6-2l5-1l6-2l6-1l5-2l6-1l5-1l6-2l6-1l5-2l6-1l6-1l5-1l6-1l5-2l6-1l6-2l5-1l6-1l5-1l6-2l6-2l5-2l6-2l5-1l6-2l4 1l0 14l-841 200z"/>
<path transform="translate(171.2,521.4)scale(.5)" d="M4,-7l-4-2l6-1l5-1l6 0l5-1l6-1l6-1l5-1l6-2l5-1l6-2l6-1l5-2l6-1l5-2l6-2l6-2l5-2l6-1l6-1l5-1l6-1l5-1l6-1l6-1l5-1l6-1l5-1l6-1l6-2l5-1l6-2l5-1l6-1l6-2l5-2l6-2l5-1l6-2l6-2l5-1l6-1l5-1l6-1l6-1l5-2l6-1l6-1l5-1l6-1l5-1l6-2l6-2l5-1l6-1l5-1l6-2l6-2l5-2l6-1l5-1l6-1l6-1l5-1l6-2l5-1l6-1l6-1l5-2l6-1l5-1l6-2l6-1l5-2l1 0l1 0l2 0l1-1l1 0l0 0l2 0l1 0l1-1l1 0l0 0l2 0l1-1l1 0l2 0l0 0l1-1l1 0l4-1l5-1l6-2l6-1l5-1l6-2l5-1l6-1l6-2l5-1l6-1l5-2l6-1l6-1l5-1l6-2l5-1l6-1l6-1l5-1l6-2l5-1l6-2l6-2l5-1l6 0l5-1l6-2l6-2l5-1l6-2l6-1l5-1l6-1l5-1l6-2l6-1l5-2l6 0l5-1l6-1l6-2l5-1l6-2l5-1l6-1l6-2l5-1l6-1l5-2l6-1l6-2l5-1l6-1l5-2l6-1l6-1l5-2l6-1l6-1l5-1l6-1l5-2l6-1l6-2l5-1l6-1l5-1l6-2l6-2l5-2l6-2l5-2l6-1l4 0l0 15l-841 200z"/>
<path transform="translate(173.0,522.1)scale(.5)" d="M4,-5l-4-3l6-2l5-1l6-1l5-1l6-1l6-1l5-1l6-1l5-2l6-1l6-2l5-1l6-2l5-2l6-1l6-2l5-2l6-1l6-1l5 0l6-1l5-1l6-1l6-1l5-1l6-1l5-2l6-1l6-2l5-1l6-2l5-1l6-1l6-2l5-2l6-1l5-2l6-2l6-2l5-2l6-1l5-1l6-1l6-1l5-2l6-1l6-1l5 0l6-2l5-1l6-1l6-2l5-1l6-1l5-1l6-2l6-2l5-1l6-2l5 0l6-1l6-1l5-1l6-2l5-1l6-2l6-1l5-1l6-2l5-1l6-2l6-2l5-1l1 0l1 0l2 0l1-1l1 0l0 0l2 0l1-1l1 0l1 0l0 0l2 0l1-1l1 0l2 0l0-1l1 0l1 0l4-1l5-2l6-1l6-2l5-1l6-1l5-2l6-1l6-1l5-2l6-1l5-1l6-1l6-1l5-2l6-1l5-2l6 0l6-1l5-1l6-2l5-1l6-2l6-2l5 0l6-1l5-1l6-1l6-2l5-2l6-2l6 0l5-1l6-2l5-1l6-2l6-2l5-1l6-1l5-1l6-1l6-1l5-2l6-1l5-1l6-2l6-1l5-1l6-2l5-1l6-2l6-1l5-1l6-2l5-1l6-1l6-1l5-2l6-1l6-1l5-1l6-1l5-2l6-1l6-2l5-1l6-1l5-1l6-2l6-2l5-2l6-3l5-1l6-2l4 1l0 15l-841 200z"/>
<path transform="translate(174.8,522.9)scale(.5)" d="M4,-5l-4-2l6-2l5-1l6-2l5-1l6-1l6-1l5-1l6-2l5-1l6-2l6-1l5-2l6-1l5-2l6-1l6-2l5-1l6-1l6-1l5 0l6-1l5-1l6-1l6-1l5-2l6-1l5-2l6-1l6-2l5-1l6-2l5-1l6-1l6-2l5-1l6-2l5-2l6-2l6-2l5-1l6-2l5-2l6-1l6-1l5-1l6-1l6-1l5-1l6-1l5-1l6-2l6-1l5-1l6-1l5-1l6-2l6-1l5-2l6-1l5-1l6 0l6-1l5-1l6-2l5-2l6-1l6-1l5-2l6-1l5-2l6-2l6-2l5-1l1 0l1 0l2-1l1 0l1 0l0 0l2 0l1-1l1 0l1 0l0 0l2-1l1 0l1 0l2-1l0 0l1 0l1 0l4-1l5-2l6-2l6-1l5-1l6-2l5-1l6-2l6-1l5-1l6-2l5-1l6-1l6-1l5-1l6-1l5-2l6 0l6-1l5-1l6-2l5-1l6-2l6-2l5 0l6-1l5-1l6-1l6-2l5-2l6-1l6-1l5-1l6-1l5-2l6-2l6-2l5-1l6-1l5-1l6-1l6-1l5-2l6-1l5-2l6-1l6-1l5-2l6-1l5-2l6-1l6-1l5-1l6-2l5-1l6-1l6-1l5-1l6-1l6-2l5-1l6-1l5-2l6-1l6-2l5-1l6-1l5-1l6-2l6-2l5-2l6-3l5-2l6-2l4 1l0 16l-841 200z"/>
<path transform="translate(176.6,523.6)scale(.5)" d="M4,-5l-4-2l6-2l5-2l6-1l5-2l6-1l6-1l5-1l6-1l5-1l6-2l6-1l5-2l6-1l5-2l6-1l6-1l5-1l6-1l6 0l5-1l6-1l5-1l6-1l6-2l5-1l6-2l5-2l6-1l6-2l5-1l6-2l5-1l6-2l6-1l5-1l6-2l5-1l6-2l6-2l5-2l6-2l5-1l6-2l6-1l5-2l6-1l6 0l5-1l6-1l5-1l6-2l6-1l5-1l6-1l5-1l6-2l6-1l5-2l6-1l5 0l6-1l6-1l5-1l6-2l5-2l6-1l6-1l5-2l6-1l5-2l6-2l6-2l5-1l1 0l1-1l2 0l1 0l1 0l0 0l2-1l1 0l1 0l1-1l0 0l2 0l1 0l1 0l2-1l0 0l1 0l1 0l4-1l5-2l6-2l6-1l5-1l6-2l5-1l6-2l6-1l5-2l6-1l5-1l6-1l6-1l5-1l6-1l5-2l6-1l6-1l5-1l6-1l5-2l6-1l6-2l5 0l6-1l5-1l6-1l6-2l5-2l6-1l6-1l5-1l6-1l5-2l6-2l6-2l5-1l6-1l5-1l6-1l6-1l5-2l6-2l5-1l6-1l6-1l5-2l6-1l5-2l6-1l6-1l5-1l6-1l5-1l6-2l6-1l5-1l6-1l6-1l5-2l6-1l5-2l6-2l6-1l5-1l6-1l5-1l6-2l6-2l5-3l6-2l5-2l6-2l4 1l0 16l-841 200z"/>
<path transform="translate(178.4,524.3)scale(.5)" d="M4,-5l-4-2l6-1l5-2l6-2l5-2l6-1l6-1l5-1l6-2l5-1l6-1l6-2l5-1l6-1l5-1l6-2l6-1l5-1l6 0l6-1l5 0l6-1l5-2l6-1l6-2l5-1l6-2l5-2l6-1l6-2l5-2l6-1l5-2l6-1l6-1l5-1l6-1l5-2l6-1l6-2l5-2l6-2l5-2l6-1l6-2l5-1l6-1l6-1l5-1l6-1l5-2l6-1l6-1l5-1l6-1l5-2l6-1l6-1l5-2l6-1l5 0l6-1l6-1l5-1l6-2l5-2l6-1l6-1l5-2l6-1l5-2l6-2l6-2l5-1l1-1l1 0l2 0l1 0l1-1l0 0l2 0l1 0l1 0l1-1l0 0l2 0l1 0l1-1l2 0l0 0l1 0l1-1l4 0l5-2l6-2l6-1l5-1l6-2l5-1l6-2l6-1l5-1l6-1l5-1l6-1l6-2l5-1l6-1l5-1l6-2l6-1l5-1l6-1l5-2l6-1l6-2l5 0l6-1l5-1l6-1l6-2l5-2l6-1l6-1l5-1l6-1l5-2l6-2l6-2l5-1l6-1l5-1l6-1l6-2l5-1l6-2l5-1l6-1l6-1l5-2l6-1l5-2l6-1l6-1l5-1l6-1l5-1l6-1l6-2l5-1l6-1l6-1l5-2l6-1l5-2l6-2l6-1l5-1l6-2l5-1l6-1l6-3l5-2l6-2l5-2l6-3l4 1l0 17l-841 200z"/>
<path transform="translate(180.2,525.0)scale(.5)" d="M4,-4l-4-2l6-2l5-2l6-2l5-2l6-1l6-1l5-2l6-1l5-1l6-2l6-1l5-1l6-2l5-1l6-1l6-1l5 0l6-1l6-1l5-1l6-1l5-1l6-2l6-2l5-1l6-2l5-1l6-2l6-2l5-1l6-2l5-1l6-1l6-1l5-1l6-2l5-1l6-1l6-2l5-1l6-2l5-2l6-2l6-1l5-2l6-1l6-1l5-1l6-1l5-2l6-1l6-1l5-1l6-2l5-1l6-1l6-1l5-2l6-1l5-1l6-1l6-1l5-1l6-2l5-2l6-1l6-1l5-1l6-2l5-1l6-2l6-2l5-2l1 0l1 0l2 0l1-1l1 0l0 0l2 0l1-1l1 0l1 0l0 0l2 0l1-1l1 0l2 0l0 0l1-1l1 0l4-1l5-1l6-2l6-1l5-1l6-1l5-2l6-1l6-2l5-1l6-1l5-1l6-1l6-1l5-2l6-1l5-1l6-2l6-1l5-1l6-1l5-2l6-2l6-1l5-1l6-1l5-1l6-1l6-2l5-1l6-2l6 0l5-1l6-1l5-2l6-2l6-2l5-1l6-1l5-1l6-1l6-2l5-2l6-1l5-1l6-1l6-1l5-2l6-1l5-1l6-2l6-1l5-1l6-1l5-1l6-1l6-1l5-2l6-1l6-2l5-1l6-1l5-2l6-2l6-1l5-2l6-1l5-1l6-2l6-2l5-3l6-2l5-2l6-3l4 3l0 16l-841 200z"/>
<path transform="translate(182.0,525.8)scale(.5)" d="M4,-2l-4-3l6-2l5-2l6-2l5-2l6-2l6-1l5-2l6-1l5-2l6-1l6-2l5-1l6-1l5-1l6-1l6-1l5-1l6-1l6 0l5-1l6-2l5-1l6-2l6-2l5-2l6-1l5-1l6-2l6-1l5-2l6-1l5-2l6-1l6-1l5-1l6-1l5-1l6-1l6-1l5-2l6-1l5-2l6-2l6-1l5-2l6-1l6-2l5-1l6-1l5-1l6-2l6-1l5-2l6-1l5-1l6-1l6-2l5-1l6-2l5 0l6-2l6-1l5-1l6-2l5-2l6-1l6-1l5-1l6-1l5-2l6-2l6-2l5-1l1 0l1-1l2 0l1 0l1 0l0 0l2-1l1 0l1 0l1 0l0 0l2-1l1 0l1 0l2-1l0 0l1 0l1 0l4-1l5-2l6-1l6-1l5-1l6-1l5-2l6-1l6-1l5-2l6-1l5-1l6-1l6-1l5-2l6-1l5-2l6-1l6-1l5-1l6-2l5-1l6-2l6-1l5-1l6-1l5-1l6-2l6-1l5-2l6-1l6-1l5-1l6-1l5-1l6-2l6-2l5-1l6-1l5-1l6-1l6-2l5-2l6-1l5-1l6-1l6-1l5-2l6-1l5-1l6-2l6 0l5-1l6-1l5-2l6-1l6-1l5-2l6-1l6-2l5-1l6-2l5-1l6-2l6-1l5-2l6-1l5-1l6-2l6-2l5-2l6-2l5-2l6-3l4 2l0 16l-841 200z"/>
<path transform="translate(183.8,526.5)scale(.5)" d="M4,-1l-4-3l6-1l5-2l6-3l5-2l6-2l6-2l5-2l6-1l5-2l6-2l6-1l5-1l6-2l5-1l6 0l6-1l5-1l6-1l6-2l5-1l6-1l5-2l6-2l6-2l5-1l6-2l5-1l6-1l6-1l5-2l6-1l5-1l6-1l6-1l5-2l6-1l5-1l6 0l6-1l5-2l6-1l5-1l6-2l6-1l5-2l6-2l6-1l5-1l6-2l5-1l6-2l6-2l5-1l6-1l5-2l6-1l6-1l5-2l6-1l5-1l6-2l6-1l5-2l6-2l5-1l6-2l6 0l5-1l6-1l5-2l6-2l6-1l5-2l1 0l1 0l2 0l1-1l1 0l0 0l2 0l1 0l1-1l1 0l0 0l2 0l1 0l1-1l2 0l0 0l1 0l1-1l4-1l5-1l6-1l6-1l5-1l6-1l5-1l6-2l6-1l5-1l6-2l5-1l6-1l6-1l5-2l6-1l5-2l6-1l6-1l5-2l6-1l5-2l6-1l6-2l5-1l6-1l5-1l6-1l6-2l5-2l6-1l6-1l5 0l6-1l5-2l6-1l6-2l5-2l6 0l5-1l6-2l6-1l5-2l6-2l5-1l6 0l6-1l5-2l6-1l5-1l6-1l6-1l5-1l6-1l5-2l6-1l6-2l5-1l6-2l6-1l5-1l6-2l5-1l6-2l6-1l5-2l6-1l5-1l6-2l6-2l5-2l6-2l5-2l6-2l4 2l0 15l-841 200z"/>
<path transform="translate(185.6,527.2)scale(.5)" d="M4,-1l-4-2l6-2l5-2l6-2l5-2l6-3l6-2l5-2l6-2l5-2l6-1l6-2l5-1l6-1l5-1l6-1l6-1l5-2l6-1l6-1l5-2l6-1l5-2l6-2l6-2l5-1l6-1l5-1l6-1l6-1l5-2l6-1l5-1l6-1l6-1l5-1l6-1l5-1l6-1l6-1l5-1l6-1l5-1l6-2l6-1l5-2l6-1l6-2l5-1l6-2l5-2l6-1l6-2l5-1l6-2l5-1l6-2l6-1l5-2l6-1l5-2l6-1l6-1l5-2l6-2l5-2l6-1l6-1l5-1l6-1l5-1l6-2l6-1l5-1l1 0l1-1l2 0l1 0l1 0l0 0l2-1l1 0l1 0l1 0l0 0l2-1l1 0l1 0l2 0l0-1l1 0l1 0l4-1l5-2l6-1l6-1l5-1l6 0l5-2l6-1l6-1l5-1l6-1l5-2l6-1l6-1l5-2l6-1l5-2l6-1l6-2l5-1l6-2l5-1l6-2l6-1l5-1l6-1l5-1l6-2l6-2l5-2l6-1l6 0l5-1l6-1l5-1l6-2l6-2l5-1l6-1l5-1l6-1l6-2l5-1l6-2l5-1l6-1l6-1l5-1l6-1l5-1l6-2l6 0l5-1l6-2l5-1l6-1l6-2l5-2l6-1l6-1l5-2l6-1l5-2l6-1l6-1l5-2l6-1l5-2l6-1l6-2l5-2l6-2l5-2l6-2l4 2l0 15l-841 200z"/>
<path transform="translate(187.4,528.0)scale(.5)" d="M4,-4l-4 1l6-2l5-2l6-3l5-2l6-2l6-2l5-2l6-2l5-2l6-2l6-2l5-1l6-1l5-2l6-1l6-1l5-1l6-2l6-1l5-2l6-2l5-1l6-2l6-2l5-1l6-1l5-1l6-1l6-1l5-1l6-1l5-1l6-1l6-1l5-1l6-1l5-2l6 0l6-1l5-1l6-1l5-1l6-1l6-2l5-1l6-1l6-2l5-2l6-1l5-2l6-2l6-1l5-2l6-1l5-2l6-1l6-2l5-2l6-1l5-2l6-1l6-2l5-2l6-2l5-1l6-1l6-1l5-1l6-1l5-1l6-2l6-1l5-1l1 0l1 0l2-1l1 0l1 0l0 0l2 0l1-1l1 0l1 0l0 0l2 0l1-1l1 0l2 0l0 0l1-1l1 0l4-1l5-1l6-2l6 0l5-1l6-1l5-1l6-1l6-2l5-1l6-1l5-1l6-1l6-2l5-2l6-1l5-2l6-1l6-1l5-2l6-1l5-2l6-1l6-2l5-1l6-1l5-1l6-2l6-2l5-1l6-2l6 0l5-1l6-1l5-1l6-2l6-2l5 0l6-1l5-1l6-1l6-2l5-2l6-2l5 0l6-1l6-1l5-1l6-1l5-2l6-1l6-1l5-1l6-1l5-2l6-1l6-2l5-1l6-2l6-1l5-1l6-1l5-2l6-1l6-2l5-1l6-1l5-2l6-1l6-2l5-2l6-2l5-2l6-1l4 1l0 15l-841 200z"/>
<path transform="translate(189.3,528.7)scale(.5)" d="M4,-7l-4 2l6-2l5-2l6-2l5-2l6-3l6-2l5-2l6-2l5-2l6-1l6-2l5-1l6-2l5-1l6-1l6-2l5-1l6-2l6-1l5-2l6-2l5-1l6-2l6-2l5-1l6 0l5-1l6-1l6-1l5-1l6-1l5-1l6-1l6-1l5-1l6-2l5-1l6-1l6-1l5-1l6-1l5-1l6-1l6-1l5-1l6-1l6-2l5-2l6-1l5-2l6-2l6-1l5-2l6-1l5-2l6-1l6-2l5-2l6-1l5-2l6-1l6-2l5-2l6-2l5-1l6-1l6-1l5-1l6-1l5-2l6-1l6-2l5 0l1 0l1 0l2-1l1 0l1 0l0 0l2 0l1 0l1-1l1 0l0 0l2 0l1 0l1-1l2 0l0 0l1 0l1-1l4-1l5-1l6-2l6 0l5-1l6-1l5-1l6-1l6-2l5-1l6-1l5-1l6-1l6-2l5-2l6-1l5-2l6-1l6-1l5-1l6-2l5-1l6-2l6-1l5-1l6-1l5-2l6-1l6-2l5-2l6-1l6-1l5-1l6-1l5-1l6-2l6-2l5 0l6-1l5-1l6-1l6-2l5-1l6-2l5-1l6-1l6 0l5-2l6-1l5-1l6-2l6-1l5-1l6-1l5-1l6-2l6-2l5-1l6-1l6-1l5-2l6-1l5-1l6-1l6-2l5-1l6-1l5-2l6-1l6-2l5-2l6-2l5-1l6-2l4 2l0 14l-841 200z"/>
<path transform="translate(191.1,529.4)scale(.5)" d="M4,-10l-4 2l6-2l5-2l6-2l5-1l6-2l6-2l5-2l6-2l5-2l6-2l6-1l5-2l6-1l5-1l6-2l6-1l5-2l6-1l6-2l5-2l6-1l5-2l6-1l6-2l5-1l6 0l5-1l6-1l6-1l5-1l6-1l5-1l6-1l6-1l5-1l6-2l5-1l6-1l6-1l5-1l6-1l5-1l6-1l6-2l5-1l6-1l6-1l5-2l6-2l5-1l6-2l6-1l5-2l6-1l5-2l6-1l6-2l5-2l6-1l5-2l6-1l6-2l5-2l6-1l5-2l6-1l6-1l5-1l6-1l5-2l6-1l6-2l5 0l1 0l1 0l2-1l1 0l1 0l0 0l2 0l1 0l1 0l1-1l0 0l2 0l1 0l1 0l2-1l0 0l1 0l1 0l4-1l5-2l6-1l6-1l5-1l6-1l5-1l6-1l6-2l5-1l6-1l5-1l6-1l6-2l5-2l6-1l5-2l6-1l6-1l5-1l6-1l5-2l6-1l6-1l5-2l6-1l5-1l6-2l6-2l5-1l6-2l6-1l5-1l6-1l5-1l6-2l6-1l5-1l6-1l5 0l6-2l6-1l5-2l6-2l5 0l6-1l6-1l5-1l6-2l5-1l6-2l6 0l5-1l6-2l5-1l6-2l6-1l5-2l6-1l6-1l5-1l6-1l5-1l6-2l6-1l5-1l6-1l5-2l6-1l6-2l5-2l6-1l5-2l6-1l4 2l0 13l-841 200z"/>
<path transform="translate(192.9,530.1)scale(.5)" d="M4,-10l-4-1l6-2l5-1l6-2l5-2l6-1l6-2l5-2l6-2l5-1l6-2l6-2l5-1l6-1l5-2l6-1l6-2l5-1l6-2l6-1l5-2l6-1l5-2l6-1l6-1l5-1l6-1l5-1l6-1l6-1l5-1l6-1l5-1l6-1l6-1l5-1l6-1l5-2l6-1l6-1l5-2l6-1l5-1l6-1l6-2l5-1l6-1l6-1l5-2l6-1l5-2l6-1l6-1l5-2l6-1l5-2l6-1l6-2l5-1l6-2l5-1l6-2l6-1l5-2l6-1l5-2l6-1l6-1l5-1l6-2l5-1l6-2l6-1l5-1l1 0l1 0l2 0l1-1l1 0l0 0l2 0l1 0l1 0l1-1l0 0l2 0l1 0l1 0l2-1l0 0l1 0l1 0l4-1l5-2l6-1l6-1l5-1l6-1l5-1l6-2l6-1l5-1l6-1l5-1l6-2l6-1l5-2l6-1l5-2l6-1l6-1l5-1l6-1l5-1l6-2l6-1l5-1l6-1l5-2l6-1l6-2l5-2l6-1l6-1l5-1l6-1l5-2l6-2l6-1l5-1l6 0l5-1l6-1l6-2l5-2l6-1l5-1l6-1l6 0l5-2l6-1l5-2l6-1l6-1l5-1l6-2l5-1l6-2l6-1l5-1l6-1l6-1l5-1l6-1l5-2l6-1l6-1l5-1l6-1l5-2l6-1l6-2l5-2l6-1l5-1l6-2l4 2l0 13l-841 200z"/>
<path transform="translate(194.7,530.9)scale(.5)" d="M4,-10l-4-2l6-2l5-2l6-2l5-2l6-2l6-2l5-1l6-2l5-2l6-1l6-2l5-1l6-1l5-2l6-1l6-1l5-2l6-1l6-2l5-1l6-1l5-1l6-1l6-1l5-1l6-1l5-1l6-1l6-1l5-2l6-1l5-1l6-1l6-1l5-1l6-2l5-1l6-2l6-1l5-2l6-1l5-2l6-1l6-1l5-1l6-1l6-2l5-1l6-1l5-2l6-1l6-1l5-1l6-1l5-2l6-1l6-2l5-1l6-2l5-1l6-2l6-1l5-1l6-2l5-1l6-1l6-1l5-1l6-2l5-2l6-2l6-1l5-1l1 0l1 0l2 0l1-1l1 0l0 0l2 0l1 0l1 0l1-1l0 0l2 0l1 0l1 0l2-1l0 0l1 0l1 0l4-1l5-2l6-1l6-1l5-1l6-1l5-1l6-2l6-2l5-1l6-1l5-1l6-1l6-2l5-1l6-2l5-1l6-1l6-1l5-1l6-1l5-1l6-1l6-2l5-1l6-1l5-1l6-2l6-1l5-2l6-1l6-1l5-1l6-2l5-2l6-1l6-2l5-1l6 0l5-1l6-1l6-2l5-1l6-2l5-1l6 0l6-1l5-2l6-1l5-2l6-1l6-1l5-1l6-1l5-2l6-1l6-2l5-1l6-1l6-1l5-1l6-1l5-1l6-1l6-1l5-1l6-2l5-1l6-1l6-2l5-1l6-2l5-1l6-1l4 0l0 14l-841 200z"/>
<path transform="translate(196.5,531.6)scale(.5)" d="M4,-8l-4-3l6-3l5-3l6-3l5-2l6-2l6-2l5-2l6-2l5-1l6-2l6-1l5-1l6-1l5-2l6-1l6-1l5-2l6-1l6-1l5-1l6-1l5-1l6-1l6-1l5-1l6-1l5-1l6-1l6-1l5-2l6-1l5-1l6-1l6-2l5-1l6-1l5-1l6-2l6-1l5-2l6-2l5-2l6-1l6-2l5-1l6-1l6-1l5-2l6-1l5-1l6-1l6-1l5-1l6-1l5-1l6-2l6-1l5-2l6-1l5-1l6-2l6-1l5-1l6-1l5-1l6-1l6-1l5-2l6-1l5-2l6-2l6-2l5-1l1 0l1 0l2-1l1 0l1 0l0 0l2 0l1 0l1-1l1 0l0 0l2 0l1 0l1-1l2 0l0 0l1 0l1-1l4-1l5-1l6-2l6 0l5-1l6-1l5-2l6-2l6-1l5-2l6-1l5-1l6-1l6-1l5-2l6-1l5-1l6-1l6-1l5-1l6-1l5-1l6-1l6-2l5-1l6-1l5-1l6-1l6-2l5-1l6-1l6-2l5-1l6-1l5-2l6-2l6-2l5 0l6-1l5-1l6-1l6-2l5-1l6-2l5 0l6-1l6-1l5-1l6-2l5-2l6-1l6-1l5-1l6-1l5-2l6-1l6-2l5 0l6-1l6-1l5-1l6-1l5-1l6-2l6-1l5-1l6-1l5-1l6-2l6-1l5-2l6-1l5-2l6-1l4 0l0 15l-841 200z"/>
<path transform="translate(198.3,532.3)scale(.5)" d="M4,-7l-4-3l6-4l5-3l6-4l5-3l6-2l6-2l5-2l6-2l5-1l6-2l6-1l5-1l6-1l5-1l6-2l6-1l5-1l6-1l6-1l5-1l6-1l5 0l6-1l6-1l5-1l6-1l5-1l6-1l6-2l5-2l6-1l5-1l6-2l6-1l5-1l6-1l5-2l6-1l6-1l5-3l6-2l5-1l6-2l6-2l5-1l6-1l6-1l5-2l6-1l5-1l6 0l6-1l5-1l6-1l5-2l6-1l6-2l5-1l6-1l5-2l6-1l6-1l5-1l6-1l5-1l6 0l6-2l5-1l6-2l5-2l6-2l6-2l5-1l1 0l1 0l2 0l1-1l1 0l0 0l2 0l1 0l1-1l1 0l0 0l2 0l1 0l1-1l2 0l0 0l1-1l1 0l4-1l5-1l6-2l6-1l5-1l6-1l5-1l6-2l6-2l5-1l6-1l5-1l6-1l6-2l5-1l6-1l5-1l6-1l6 0l5-1l6-2l5-1l6-1l6-1l5-1l6-2l5-1l6-1l6-1l5-2l6-1l6-1l5-1l6-2l5-1l6-2l6-2l5-1l6-1l5-1l6-1l6-1l5-2l6-1l5-1l6-1l6-1l5-1l6-2l5-2l6-1l6-1l5-1l6-1l5-1l6-2l6-1l5-1l6 0l6-1l5-1l6-1l5-2l6-1l6-1l5-1l6-2l5-1l6-1l6-2l5-1l6-2l5-1l6-2l4 0l0 16l-841 200z"/>
<path transform="translate(200.1,533.0)scale(.5)" d="M4,-7l-4-1l6-5l5-4l6-4l5-4l6-2l6-3l5-2l6-1l5-2l6-1l6-2l5-1l6-1l5-1l6-1l6-1l5-1l6-1l6-1l5 0l6-1l5-1l6-1l6-1l5-1l6-1l5-1l6-1l6-1l5-2l6-2l5-1l6-2l6-1l5-1l6-1l5-2l6-1l6-1l5-3l6-2l5-2l6-2l6-1l5-2l6-1l6-1l5-1l6-1l5-1l6-1l6 0l5-1l6-1l5-2l6-1l6-2l5-1l6-2l5-1l6-1l6-1l5-1l6-1l5 0l6-1l6-1l5-1l6-2l5-2l6-2l6-2l5-1l1 0l1-1l2 0l1 0l1 0l0-1l2 0l1 0l1 0l1-1l0 0l2 0l1 0l1-1l2 0l0 0l1 0l1-1l4-1l5-1l6-2l6-1l5 0l6-2l5-1l6-2l6-2l5-1l6-1l5-1l6-1l6-1l5-2l6-1l5 0l6-1l6-1l5-1l6-1l5-2l6-1l6-1l5-1l6-1l5-2l6-1l6-1l5-1l6-1l6-1l5-1l6-2l5-2l6-1l6-2l5-1l6-1l5-1l6-2l6-1l5-2l6-1l5-1l6 0l6-1l5-2l6-2l5-1l6-2l6 0l5-1l6-1l5-1l6-2l6-1l5-1l6 0l6-1l5-1l6-2l5-1l6-2l6-1l5-1l6-1l5-2l6-1l6-1l5-2l6-2l5-1l6-2l4 0l0 17l-841 200z"/>
<path transform="translate(201.9,533.8)scale(.5)" d="M4,-8l-4 0l6-5l5-5l6-4l5-4l6-3l6-3l5-2l6-2l5-1l6-2l6-1l5-1l6-1l5-1l6-2l6-1l5-1l6 0l6-1l5 0l6-1l5-1l6 0l6-1l5-1l6-1l5-1l6-2l6-1l5-2l6-2l5-1l6-1l6-2l5-1l6-1l5-1l6-1l6-2l5-2l6-2l5-2l6-2l6-2l5-2l6-1l6-1l5-1l6-1l5-1l6 0l6 0l5-2l6-1l5-2l6-1l6-2l5-1l6-2l5-1l6-1l6 0l5-1l6-1l5-1l6 0l6-1l5-2l6-1l5-2l6-2l6-2l5-1l1 0l1-1l2 0l1 0l1-1l0 0l2 0l1 0l1-1l1 0l0 0l2 0l1-1l1 0l2 0l0-1l1 0l1 0l4-1l5-2l6-1l6-1l5-1l6-1l5-2l6-1l6-2l5-1l6-1l5-1l6-1l6-1l5-1l6-2l5 0l6-1l6-1l5-1l6-2l5-1l6-1l6-1l5-1l6-2l5-1l6-1l6-1l5-1l6-1l6-1l5-1l6-2l5-1l6-2l6-1l5-2l6-1l5-1l6-1l6-2l5-2l6-1l5-1l6 0l6-1l5-2l6-1l5-2l6-1l6-1l5-1l6 0l5-2l6-1l6-1l5-1l6-1l6-1l5-1l6-1l5-2l6-1l6-1l5-2l6-1l5-1l6-2l6-1l5-2l6-1l5-2l6-2l4 0l0 18l-841 200z"/>
<path transform="translate(203.7,534.5)scale(.5)" d="M4,-8l-4-1l6-5l5-5l6-4l5-4l6-4l6-3l5-2l6-2l5-2l6-2l6-1l5-1l6-1l5-2l6-1l6-1l5 0l6-1l6 0l5-1l6-1l5-1l6-1l6-1l5-1l6 0l5-1l6-2l6-1l5-2l6-1l5-2l6-1l6-1l5-1l6-2l5-1l6 0l6-2l5-2l6-2l5-2l6-2l6-2l5-1l6-2l6-1l5-1l6-1l5 0l6-1l6 0l5-1l6-2l5-2l6-2l6-1l5-2l6-1l5-1l6-1l6-1l5-1l6-1l5 0l6-1l6-1l5-1l6-1l5-2l6-2l6-1l5-2l1 0l1 0l2-1l1 0l1 0l0 0l2-1l1 0l1 0l1-1l0 0l2 0l1-1l1 0l2 0l0 0l1-1l1 0l4-1l5-2l6-1l6-1l5-1l6-1l5-1l6-2l6-2l5-1l6-1l5 0l6-1l6-2l5-1l6-1l5-1l6-1l6-1l5-1l6-1l5-2l6-1l6-1l5-1l6-1l5-1l6-2l6-1l5-1l6-1l6-1l5-1l6-1l5-1l6-2l6-1l5-2l6-1l5-1l6-2l6-1l5-2l6-1l5-1l6-1l6-1l5-1l6-2l5-1l6-1l6-1l5 0l6-1l5-1l6-2l6-1l5-1l6 0l6-1l5-2l6-1l5-2l6-1l6-1l5-2l6-1l5-1l6-2l6-1l5-2l6-2l5-2l6-2l4 0l0 20l-841 200z"/>
<path transform="translate(205.5,535.2)scale(.5)" d="M4,-8l-4-2l6-5l5-4l6-5l5-4l6-4l6-3l5-3l6-2l5-2l6-2l6-2l5-1l6-1l5-1l6-2l6-1l5 0l6-1l6 0l5-1l6-1l5-1l6-1l6-1l5-1l6-1l5-1l6-1l6-1l5-2l6-1l5-1l6-1l6-2l5-1l6-1l5-1l6-1l6-1l5-2l6-2l5-2l6-2l6-2l5-1l6-1l6-1l5-1l6-1l5-1l6-1l6 0l5-1l6-2l5-2l6-2l6-2l5-2l6-1l5-1l6-1l6-1l5-1l6-1l5 0l6 0l6-1l5-1l6-2l5-1l6-2l6-1l5-2l1 0l1 0l2 0l1-1l1 0l0 0l2 0l1-1l1 0l1-1l0 0l2 0l1 0l1-1l2 0l0 0l1-1l1 0l4-1l5-2l6-1l6-1l5 0l6-1l5-2l6-2l6-1l5-1l6-1l5-1l6 0l6-2l5-1l6-1l5-1l6-1l6-1l5-1l6-2l5-1l6-2l6-1l5-1l6-1l5-1l6-1l6-1l5-2l6-1l6 0l5-1l6-1l5-2l6-1l6-1l5-2l6-1l5-1l6-2l6-1l5-2l6-1l5-1l6-1l6-1l5-1l6-2l5-1l6-1l6-1l5 0l6-1l5-1l6-1l6-2l5-1l6 0l6-1l5-2l6-1l5-2l6-1l6-1l5-2l6-1l5-1l6-2l6-2l5-1l6-2l5-2l6-2l4 0l0 21l-841 200z"/>
<path transform="translate(207.3,535.9)scale(.5)" d="M4,-7l-4-2l6-5l5-5l6-5l5-5l6-3l6-4l5-3l6-2l5-3l6-2l6-1l5-2l6-1l5-2l6-1l6-1l5-1l6 0l6 0l5-1l6-1l5-2l6-1l6-1l5-1l6-1l5-1l6-1l6-1l5-1l6-2l5-1l6-1l6-1l5-1l6-1l5-1l6 0l6-1l5-3l6-2l5-2l6-2l6-1l5-2l6-1l6 0l5-2l6-1l5 0l6-1l6 0l5-2l6-2l5-2l6-3l6-1l5-2l6-1l5-2l6-1l6-1l5-1l6 0l5 0l6-1l6-1l5-1l6-1l5-1l6-2l6-1l5-1l1 0l1-1l2 0l1 0l1-1l0 0l2 0l1 0l1-1l1 0l0 0l2 0l1-1l1 0l2-1l0 0l1 0l1 0l4-1l5-2l6-1l6-1l5-1l6-1l5-1l6-2l6-1l5-1l6-1l5 0l6-1l6-2l5-1l6-1l5-1l6-1l6-1l5-2l6-1l5-2l6-1l6-1l5-1l6-1l5-1l6-2l6-1l5-1l6-1l6-1l5-1l6-1l5-1l6-1l6-1l5-2l6-1l5-1l6-1l6-2l5-2l6-1l5-1l6-1l6-1l5-1l6-2l5-1l6-1l6 0l5-1l6-1l5-1l6-1l6-2l5 0l6-1l6-1l5-2l6-1l5-2l6-1l6-1l5-1l6-2l5-1l6-2l6-2l5-1l6-2l5-2l6-3l4 0l0 23l-841 200z"/>
<path transform="translate(209.1,536.6)scale(.5)" d="M4,-7l-4-1l6-6l5-5l6-6l5-4l6-5l6-3l5-3l6-3l5-3l6-2l6-2l5-2l6-1l5-2l6-1l6-1l5-1l6 0l6-1l5-1l6-1l5-1l6-2l6-1l5-1l6-1l5-1l6-1l6-1l5-1l6-1l5-1l6-1l6-1l5-1l6-1l5 0l6-1l6-1l5-3l6-2l5-2l6-1l6-2l5-1l6-1l6-1l5-1l6-1l5-1l6 0l6 0l5-3l6-2l5-2l6-3l6-2l5-1l6-2l5-1l6-1l6-1l5-1l6-1l5 0l6 0l6-1l5-1l6-1l5-1l6-2l6-1l5-1l1 0l1 0l2-1l1 0l1 0l0 0l2 0l1-1l1 0l1 0l0 0l2-1l1 0l1 0l2-1l0 0l1 0l1-1l4 0l5-2l6-1l6-1l5-1l6-1l5-1l6-2l6-1l5-1l6 0l5-1l6-1l6-1l5-2l6-1l5-1l6-1l6-1l5-2l6-1l5-2l6-1l6-1l5-1l6-1l5-1l6-2l6-1l5-1l6-1l6-1l5-1l6-1l5-1l6-1l6-1l5-1l6-1l5-1l6-2l6-1l5-2l6-1l5-1l6-1l6-1l5-1l6-2l5-1l6-1l6 0l5-1l6-1l5-1l6-2l6-1l5-1l6-1l6-1l5-1l6-2l5-1l6-2l6-1l5-1l6-1l5-1l6-2l6-2l5-2l6-1l5-3l6-2l4 1l0 23l-841 200z"/>
<path transform="translate(211.0,537.4)scale(.5)" d="M4,-7l-4-1l6-7l5-6l6-6l5-5l6-5l6-3l5-4l6-3l5-3l6-2l6-2l5-2l6-2l5-1l6-2l6-1l5 0l6-1l6 0l5-2l6-1l5-2l6-1l6-1l5-2l6 0l5-1l6-1l6-1l5-1l6-1l5-1l6 0l6-1l5-1l6-1l5 0l6-1l6-1l5-3l6-2l5-2l6-2l6-1l5-1l6-1l6-1l5-1l6-1l5 0l6-1l6 0l5-3l6-2l5-3l6-2l6-2l5-2l6-1l5-2l6-1l6-1l5 0l6-1l5 0l6 0l6-1l5-1l6-2l5-1l6-1l6-1l5-1l1 0l1 0l2 0l1-1l1 0l0 0l2 0l1 0l1-1l1 0l0 0l2 0l1-1l1 0l2 0l0 0l1-1l1 0l4-1l5-1l6-1l6-1l5-1l6-1l5-1l6-2l6-1l5-1l6 0l5-1l6-1l6-1l5-2l6-1l5-1l6-1l6-1l5-2l6-1l5-2l6-1l6-1l5-1l6-1l5-1l6-1l6-2l5-1l6-1l6-1l5-1l6-1l5-1l6-1l6-1l5-1l6-1l5-1l6-1l6-2l5-1l6-1l5-1l6-1l6-1l5-1l6-2l5-1l6-1l6 0l5-1l6-1l5-1l6-2l6-1l5-1l6-1l6-1l5-1l6-2l5-1l6-1l6-1l5-1l6-1l5-1l6-2l6-2l5-2l6-1l5-2l6-3l4 1l0 24l-841 200z"/>
<path transform="translate(212.8,538.1)scale(.5)" d="M4,-10l-4 1l6-7l5-7l6-7l5-5l6-5l6-4l5-4l6-3l5-3l6-3l6-2l5-2l6-2l5-1l6-1l6-1l5-1l6-1l6 0l5-1l6-2l5-2l6-1l6-1l5-1l6-1l5-1l6-1l6-1l5-1l6-1l5-1l6 0l6-1l5 0l6-1l5 0l6 0l6-2l5-3l6-2l5-3l6-1l6-2l5-1l6-1l6 0l5-1l6-1l5-1l6 0l6 0l5-3l6-3l5-3l6-2l6-2l5-2l6-1l5-1l6-2l6 0l5-1l6 0l5 0l6 0l6-1l5-2l6-1l5-1l6-1l6-1l5-1l1 0l1 0l2 0l1-1l1 0l0 0l2 0l1 0l1 0l1-1l0 0l2 0l1 0l1-1l2 0l0 0l1 0l1 0l4-1l5-2l6-1l6 0l5-1l6-1l5-2l6-1l6-1l5-1l6 0l5-1l6-1l6-2l5-1l6-2l5-1l6-1l6-1l5-1l6-2l5-1l6-1l6-1l5-1l6 0l5-2l6-1l6-1l5-1l6-1l6-1l5-2l6-1l5-1l6-1l6-1l5 0l6-1l5-1l6-1l6-2l5-1l6-1l5-1l6-1l6-1l5-2l6-1l5-1l6-1l6 0l5-1l6-1l5-1l6-2l6-1l5-1l6-1l6-1l5-1l6-1l5-2l6-1l6-1l5 0l6-1l5-2l6-1l6-2l5-1l6-2l5-2l6-2l4 1l0 24l-841 200z"/>
<path transform="translate(214.6,538.8)scale(.5)" d="M4,-12l-4 1l6-8l5-6l6-7l5-6l6-5l6-4l5-4l6-3l5-3l6-3l6-2l5-2l6-2l5-1l6-1l6-1l5-1l6-1l6 0l5-2l6-1l5-2l6-1l6-2l5-1l6 0l5-1l6-1l6-1l5-2l6-1l5 0l6-1l6 0l5-1l6 0l5 0l6 0l6-1l5-4l6-3l5-2l6-2l6-2l5-1l6-1l6 0l5-1l6-1l5-1l6 0l6 0l5-3l6-3l5-3l6-2l6-3l5-1l6-1l5-2l6 0l6-1l5-1l6 0l5 1l6 0l6-1l5-1l6-2l5-1l6-1l6-1l5-1l1 0l1 0l2 0l1-1l1 0l0 0l2 0l1 0l1 0l1-1l0 0l2 0l1 0l1 0l2-1l0 0l1 0l1 0l4-1l5-1l6-1l6-1l5-1l6-1l5-1l6-1l6-2l5 0l6-1l5-1l6-1l6-1l5-2l6-1l5-1l6-1l6-1l5-2l6-1l5-1l6-1l6-1l5-1l6 0l5-2l6-1l6-1l5-1l6-1l6-1l5-2l6-1l5-1l6-1l6-1l5-1l6-1l5 0l6-1l6-2l5-1l6-1l5-1l6-1l6-1l5-1l6-1l5-2l6 0l6-1l5 0l6-1l5-2l6-1l6-2l5-1l6 0l6-1l5-1l6-2l5-1l6-1l6-1l5 0l6-1l5-2l6-1l6-2l5-1l6-2l5-1l6-2l4 1l0 24l-841 200z"/>
<path transform="translate(216.4,539.5)scale(.5)" d="M4,-14l-4 1l6-8l5-7l6-7l5-6l6-5l6-5l5-4l6-3l5-3l6-3l6-2l5-2l6-2l5-1l6-1l6-1l5-1l6 0l6-1l5-1l6-2l5-2l6-1l6-1l5-1l6-1l5 0l6-1l6-2l5-1l6-1l5-1l6-1l6 0l5 0l6-1l5 1l6 0l6-2l5-4l6-3l5-3l6-2l6-2l5-1l6-1l6 0l5-2l6 0l5-1l6 0l6 1l5-4l6-3l5-3l6-2l6-2l5-2l6-1l5-1l6-1l6-1l5 0l6 1l5 1l6 0l6-2l5-1l6-1l5-1l6-1l6-1l5-1l1 0l1 0l2-1l1 0l1 0l0 0l2 0l1-1l1 0l1 0l0 0l2 0l1 0l1-1l2 0l0 0l1 0l1 0l4-1l5-1l6-1l6 0l5-1l6-1l5-2l6-1l6-1l5-1l6-1l5-1l6-1l6-1l5-2l6-2l5 0l6-1l6-1l5-1l6-2l5-1l6-1l6 0l5-1l6-1l5-1l6-1l6-1l5-1l6-1l6-2l5-1l6-1l5-1l6-1l6-1l5-1l6-1l5-1l6-1l6-1l5-1l6-1l5-1l6-1l6-1l5-1l6-1l5-1l6-1l6 0l5-1l6-1l5-2l6-1l6-2l5 0l6-1l6-1l5-1l6-1l5-2l6 0l6-1l5-1l6 0l5-2l6-1l6-2l5-1l6-1l5-2l6-1l4 0l0 25l-841 200z"/>
<path transform="translate(218.2,540.3)scale(.5)" d="M4,-15l-4-1l6-8l5-8l6-8l5-6l6-6l6-5l5-4l6-3l5-4l6-2l6-2l5-2l6-2l5-1l6-1l6-1l5-1l6 0l6-1l5-1l6-2l5-1l6-1l6-1l5-1l6-1l5 0l6-1l6-2l5-2l6-1l5-1l6-1l6 0l5 0l6 0l5 0l6 0l6-1l5-5l6-4l5-3l6-2l6-2l5-1l6-1l6-1l5-1l6-1l5 0l6 1l6 1l5-4l6-4l5-3l6-2l6-2l5-2l6-1l5-1l6-1l6 0l5 0l6 1l5 2l6-1l6-1l5 0l6-2l5-1l6-1l6-1l5-1l1 0l1 0l2-1l1 0l1 0l0 0l2 0l1-1l1 0l1 0l0 0l2 0l1-1l1 0l2 0l0 0l1 0l1 0l4-1l5-1l6 0l6-1l5-1l6-1l5-1l6-2l6-1l5-1l6 0l5-1l6-2l6-1l5-2l6-1l5-1l6-1l6 0l5-1l6-2l5-1l6-1l6 0l5-1l6-1l5-1l6-1l6-1l5-1l6-1l6-1l5-1l6-1l5-2l6-1l6-1l5-1l6-1l5 0l6-1l6-1l5-1l6-1l5-1l6-1l6-1l5-1l6-1l5-1l6-1l6 0l5-1l6-1l5-1l6-2l6-1l5-1l6 0l6-1l5-1l6-1l5-2l6 0l6-1l5 0l6-1l5-1l6-2l6-1l5-1l6-1l5-2l6-1l4 0l0 26l-841 200z"/>
<path transform="translate(220.0,541.0)scale(.5)" d="M4,-14l-4-2l6-10l5-9l6-9l5-7l6-6l6-6l5-4l6-4l5-3l6-3l6-2l5-2l6-2l5-1l6-1l6-1l5 0l6 0l6-1l5-2l6-1l5-1l6-1l6-1l5-1l6 0l5-1l6-1l6-2l5-2l6-1l5-1l6-1l6 0l5-1l6 1l5 0l6 1l6-2l5-5l6-4l5-4l6-3l6-2l5-1l6-1l6-1l5-1l6 0l5-1l6 1l6 2l5-4l6-4l5-3l6-3l6-2l5-2l6-1l5-1l6-1l6 0l5 1l6 1l5 3l6-1l6 0l5-1l6-1l5-1l6-1l6-1l5-1l1-1l1 0l2 0l1 0l1-1l0 0l2 0l1 0l1 0l1-1l0 0l2 0l1 0l1 0l2 0l0 0l1-1l1 0l4 0l5-1l6-1l6 0l5-1l6-1l5-1l6-2l6-1l5-1l6 0l5-1l6-2l6-1l5-2l6-1l5-1l6 0l6-1l5-1l6-1l5-1l6-1l6 0l5-1l6-1l5-1l6-1l6-1l5-1l6-1l6-1l5-1l6-1l5-1l6-2l6-1l5-1l6-1l5 0l6-1l6-1l5-1l6-1l5-1l6-1l6 0l5-1l6-1l5-1l6-1l6 0l5-1l6-1l5-1l6-2l6-1l5 0l6-1l6 0l5-1l6-1l5-2l6 0l6-1l5 0l6-1l5-1l6-2l6-1l5-1l6-1l5-1l6-1l4 1l0 26l-841 200z"/>
<path transform="translate(221.8,541.7)scale(.5)" d="M4,-13l-4-2l6-11l5-10l6-10l5-8l6-7l6-5l5-5l6-4l5-4l6-2l6-3l5-2l6-1l5-1l6-1l6-1l5 0l6 0l6-1l5-2l6-1l5-1l6-1l6-1l5-1l6 0l5 0l6-2l6-2l5-2l6-1l5-1l6-1l6-1l5 0l6 0l5 1l6 1l6-2l5-6l6-5l5-3l6-3l6-3l5-1l6-1l6-1l5-1l6-1l5 1l6 1l6 2l5-5l6-4l5-4l6-2l6-3l5-1l6-2l5 0l6-1l6 0l5 1l6 2l5 3l6 0l6-1l5 0l6-1l5-1l6-1l6-1l5-1l1 0l1-1l2 0l1 0l1 0l0 0l2-1l1 0l1 0l1 0l0 0l2-1l1 0l1 0l2 0l0 0l1 0l1-1l4 0l5-1l6 0l6-1l5-1l6-1l5-1l6-1l6-1l5-1l6-1l5-1l6-1l6-2l5-1l6-1l5-1l6 0l6-1l5-1l6-1l5-1l6-1l6 0l5-1l6-1l5-1l6-1l6-1l5-1l6-1l6-1l5-1l6-1l5-1l6-1l6-1l5-1l6-1l5-1l6-1l6-1l5-1l6-1l5-1l6 0l6-1l5-1l6-1l5-1l6 0l6-1l5 0l6-1l5-1l6-2l6-1l5 0l6 0l6-1l5-1l6-1l5-1l6-1l6 0l5-1l6-1l5-1l6-1l6-2l5 0l6-1l5-1l6-1l4 1l0 27l-841 200z"/>
<path transform="translate(223.6,542.5)scale(.5)" d="M4,-12l-4-2l6-12l5-10l6-11l5-9l6-7l6-6l5-5l6-4l5-4l6-3l6-2l5-2l6-1l5-2l6 0l6-1l5 0l6 0l6-2l5-1l6-2l5-1l6-1l6-1l5 0l6 0l5 0l6-2l6-2l5-2l6-2l5-1l6-1l6-1l5 0l6 0l5 1l6 1l6-2l5-7l6-5l5-3l6-4l6-2l5-2l6-1l6-1l5-1l6 0l5 1l6 1l6 3l5-6l6-4l5-4l6-3l6-3l5-2l6-1l5-1l6 0l6 0l5 2l6 2l5 4l6-1l6 0l5 0l6-1l5-1l6-1l6-1l5 0l1-1l1 0l2 0l1 0l1-1l0 0l2 0l1 0l1 0l1-1l0 0l2 0l1 0l1 0l2-1l0 0l1 0l1 0l4 0l5-1l6-1l6 0l5-1l6-1l5-1l6-1l6-1l5-1l6-1l5-1l6-1l6-2l5-1l6-1l5 0l6-1l6-1l5-1l6-1l5-1l6-1l6 0l5-1l6-1l5-1l6-1l6-1l5-1l6 0l6-1l5-1l6-1l5-1l6-1l6-1l5-1l6-1l5-1l6-2l6 0l5-1l6-1l5-1l6-1l6 0l5-1l6-1l5-1l6 0l6-1l5 0l6-1l5-1l6-1l6-1l5 0l6-1l6 0l5-1l6-1l5-1l6-1l6-1l5 0l6-1l5-1l6-2l6-1l5-1l6 0l5-1l6-1l4-1l0 30l-841 200z"/>
<path transform="translate(225.4,543.2)scale(.5)" d="M4,-14l-4 0l6-13l5-11l6-12l5-9l6-8l6-7l5-5l6-5l5-4l6-3l6-2l5-2l6-2l5-1l6-1l6 0l5-1l6 0l6-1l5-2l6-2l5-1l6-1l6 0l5-1l6 0l5 0l6-2l6-2l5-2l6-2l5-1l6-1l6-1l5 0l6 1l5 1l6 1l6-3l5-7l6-5l5-5l6-3l6-3l5-2l6-1l6 0l5-1l6 0l5 1l6 2l6 3l5-7l6-5l5-4l6-3l6-3l5-2l6-2l5 0l6 0l6 0l5 2l6 3l5 4l6-1l6 0l5 0l6 0l5 0l6-1l6-1l5-1l1 0l1 0l2 0l1 0l1 0l0-1l2 0l1 0l1 0l1-1l0 0l2 0l1 0l1 0l2 0l0 0l1-1l1 0l4 0l5-1l6 0l6-1l5-1l6 0l5-2l6-1l6-1l5-1l6 0l5-1l6-2l6-1l5-1l6-1l5 0l6-1l6 0l5-1l6-2l5-1l6 0l6-1l5-1l6-1l5-1l6-1l6-1l5-1l6 0l6-1l5 0l6-1l5-2l6-1l6 0l5-1l6-1l5-1l6-2l6-1l5 0l6-1l5-1l6-1l6 0l5-1l6-1l5 0l6-1l6 0l5-1l6-1l5 0l6-1l6-1l5 0l6 0l6-1l5-1l6-1l5-1l6-1l6 0l5-1l6-1l5-1l6-1l6-2l5 0l6-1l5-1l6-1l4-2l0 34l-841 200z"/>
<path transform="translate(227.2,543.9)scale(.5)" d="M4,-16l-4 1l6-14l5-12l6-13l5-10l6-8l6-8l5-6l6-5l5-4l6-3l6-3l5-2l6-2l5-1l6-1l6-1l5 0l6 0l6-2l5-2l6-2l5-1l6-1l6 0l5-1l6 0l5 0l6-3l6-2l5-2l6-1l5-1l6-1l6-1l5 0l6 1l5 1l6 2l6-3l5-8l6-6l5-5l6-4l6-2l5-2l6-2l6 0l5-1l6 1l5 1l6 3l6 3l5-7l6-6l5-5l6-4l6-3l5-3l6-1l5-1l6 1l6 1l5 2l6 4l5 4l6-1l6 0l5 0l6 0l5 0l6 0l6 0l5-1l1 0l1 0l2 0l1 0l1 0l0-1l2 0l1 0l1 0l1 0l0 0l2-1l1 0l1 0l2 0l0 0l1 0l1 0l4-1l5 0l6-1l6 0l5-1l6-1l5-1l6-1l6-1l5-1l6 0l5-1l6-1l6-1l5-2l6 0l5-1l6 0l6-1l5-1l6-1l5-1l6-1l6 0l5-1l6-1l5-1l6-1l6-1l5-1l6 0l6-1l5 0l6-1l5-1l6-1l6-1l5-1l6-1l5-1l6-1l6-1l5-1l6 0l5-1l6-1l6 0l5-1l6 0l5-1l6 0l6-1l5 0l6-1l5-1l6 0l6-1l5 0l6 0l6-1l5 0l6-1l5-2l6 0l6-1l5 0l6-1l5-2l6-1l6-1l5-1l6-1l5 0l6-2l4-1l0 37l-841 200z"/>
<path transform="translate(229.0,544.6)scale(.5)" d="M4,-17l-4 0l6-14l5-12l6-13l5-10l6-9l6-8l5-6l6-6l5-4l6-4l6-2l5-3l6-2l5-1l6-1l6-1l5 0l6 0l6-3l5-2l6-2l5-1l6-1l6-1l5 0l6 0l5-1l6-3l6-2l5-2l6-1l5-1l6-1l6 0l5 0l6 1l5 1l6 2l6-3l5-9l6-7l5-5l6-4l6-3l5-2l6-1l6 0l5-1l6 1l5 2l6 3l6 4l5-9l6-7l5-5l6-5l6-3l5-3l6-1l5-1l6 1l6 1l5 3l6 4l5 4l6 0l6 0l5 0l6 1l5 0l6 0l6 0l5 0l1 0l1 0l2 0l1-1l1 0l0 0l2 0l1 0l1 0l1 0l0 0l2 0l1-1l1 0l2 0l0 0l1 0l1 0l4 0l5-1l6 0l6 0l5-1l6-1l5-1l6-1l6-1l5-1l6-1l5 0l6-1l6-1l5-1l6-1l5-1l6 0l6-1l5-1l6-1l5-1l6-1l6 0l5-1l6-1l5-1l6-1l6-1l5 0l6-1l6 0l5-1l6-1l5-1l6 0l6-1l5-1l6-1l5-1l6-1l6-1l5 0l6-1l5-1l6 0l6-1l5 0l6-1l5-1l6 0l6 0l5-1l6 0l5-1l6-1l6 0l5 0l6 0l6-1l5 0l6-1l5-2l6 0l6-1l5 0l6-1l5-1l6-2l6-1l5-1l6-1l5 0l6-2l4-1l0 40l-841 200z"/>
<path transform="translate(230.9,545.4)scale(.5)" d="M4,-17l-4-2l6-13l5-11l6-13l5-11l6-9l6-8l5-7l6-5l5-5l6-3l6-3l5-3l6-2l5-1l6-2l6-1l5 0l6-1l6-2l5-2l6-2l5-2l6-1l6-1l5 0l6 0l5-2l6-3l6-2l5-2l6-2l5-1l6 0l6 0l5 0l6 1l5 2l6 2l6-3l5-10l6-7l5-6l6-4l6-3l5-2l6-1l6 0l5-1l6 1l5 2l6 4l6 4l5-10l6-8l5-6l6-4l6-4l5-3l6-1l5-1l6 1l6 2l5 3l6 5l5 4l6-1l6 1l5 0l6 1l5 0l6 0l6 0l5 1l1 0l1 0l2 0l1 0l1 0l0 0l2 0l1 0l1-1l1 0l0 0l2 0l1 0l1 0l2 0l0 0l1 0l1 0l4 0l5 0l6-1l6 0l5-1l6-1l5-1l6-1l6 0l5-1l6-1l5-1l6-1l6-1l5-1l6 0l5-1l6-1l6 0l5-1l6-1l5-2l6 0l6-1l5 0l6-1l5-1l6-1l6-1l5 0l6-1l6 0l5-1l6-1l5-1l6 0l6-1l5-1l6 0l5-1l6-1l6-1l5-1l6-1l5 0l6-1l6 0l5-1l6-1l5 0l6-1l6 0l5 0l6-1l5 0l6-1l6 0l5 0l6 0l6-1l5-1l6-1l5-1l6-1l6 0l5 0l6-1l5-1l6-2l6-1l5-1l6-1l5-1l6-1l4-2l0 43l-841 200z"/>
<path transform="translate(232.7,546.1)scale(.5)" d="M4,-17l-4-1l6-15l5-12l6-14l5-11l6-10l6-8l5-7l6-5l5-5l6-4l6-3l5-3l6-2l5-2l6-1l6-1l5-1l6-1l6-3l5-2l6-2l5-2l6-1l6-1l5 0l6 0l5-3l6-3l6-3l5-2l6-1l5-1l6-1l6 1l5 0l6 2l5 2l6 2l6-3l5-11l6-8l5-6l6-5l6-3l5-2l6-1l6 0l5 0l6 1l5 2l6 5l6 3l5-11l6-8l5-7l6-5l6-4l5-3l6-1l5-1l6 1l6 2l5 4l6 6l5 4l6-1l6 1l5 0l6 1l5 0l6 1l6 0l5 1l1 0l1 0l2 0l1 1l1 0l0 0l2 0l1 0l1 0l1 0l0 0l2 0l1 0l1 0l2 0l0 0l1 0l1 0l4 0l5 0l6 0l6 0l5-1l6-1l5-1l6-1l6-1l5 0l6-1l5-1l6-1l6-1l5-1l6 0l5-1l6-1l6-1l5-1l6-1l5-1l6 0l6-1l5 0l6-1l5-1l6-1l6-1l5 0l6 0l6-1l5 0l6-1l5-1l6-1l6 0l5-1l6 0l5-1l6-1l6-1l5-1l6 0l5-1l6 0l6 0l5-1l6-1l5 0l6-1l6 0l5-1l6 0l5 0l6-1l6 0l5 0l6 0l6-1l5 0l6-1l5-2l6 0l6-1l5 0l6-1l5-1l6-1l6-2l5 0l6-1l5-1l6-2l4-3l0 48l-841 200z"/>
<path transform="translate(234.5,546.8)scale(.5)" d="M4,-18l-4 0l6-16l5-14l6-15l5-12l6-11l6-8l5-8l6-6l5-5l6-5l6-3l5-3l6-3l5-2l6-1l6-1l5 0l6-2l6-3l5-3l6-2l5-2l6-1l6-1l5 0l6 0l5-4l6-3l6-3l5-3l6-1l5-1l6 0l6 0l5 1l6 2l5 3l6 3l6-4l5-13l6-9l5-6l6-5l6-4l5-2l6-1l6 0l5 0l6 2l5 3l6 5l6 3l5-12l6-10l5-7l6-6l6-5l5-2l6-2l5 0l6 1l6 3l5 5l6 7l5 4l6-1l6 0l5 1l6 1l5 1l6 0l6 1l5 1l1 0l1 1l2 0l1 0l1 0l0 0l2 1l1 0l1 0l1 0l0 0l2 0l1 0l1 0l2 1l0 0l1 0l1 0l4 0l5 1l6 0l6 0l5-1l6 0l5-1l6-1l6-1l5-1l6-1l5 0l6-1l6-1l5-1l6-1l5 0l6-1l6-1l5-1l6-1l5-1l6-1l6 0l5 0l6-1l5 0l6-1l6-1l5 0l6 0l6-1l5 0l6-1l5-1l6-1l6 0l5-1l6 0l5-1l6-1l6-1l5 0l6-1l5 0l6 0l6 0l5-1l6-1l5 0l6 0l6-1l5 0l6 0l5-1l6 0l6 0l5 0l6 0l6 0l5-1l6-1l5-1l6-1l6 0l5 0l6-1l5-1l6-1l6-2l5 0l6-1l5-1l6-2l4-3l0 53l-841 200z"/>
<path transform="translate(236.3,547.5)scale(.5)" d="M4,-18l-4-1l6-17l5-14l6-16l5-13l6-11l6-9l5-8l6-7l5-5l6-5l6-3l5-4l6-2l5-2l6-2l6-1l5 0l6-3l6-3l5-3l6-2l5-2l6-1l6-1l5-1l6 0l5-4l6-4l6-3l5-3l6-1l5-1l6-1l6 1l5 1l6 2l5 4l6 3l6-4l5-14l6-9l5-8l6-5l6-4l5-3l6-1l6 0l5 1l6 2l5 3l6 6l6 3l5-14l6-10l5-9l6-6l6-5l5-3l6-1l5 0l6 2l6 3l5 6l6 8l5 3l6-1l6 1l5 1l6 1l5 1l6 1l6 0l5 2l1 1l1 0l2 0l1 1l1 0l0 0l2 0l1 1l1 0l1 0l0 0l2 0l1 1l1 0l2 0l0 0l1 0l1 0l4 1l5 1l6 1l6 0l5 0l6-1l5-1l6-1l6-1l5-1l6 0l5-1l6-1l6-1l5-1l6-1l5 0l6-1l6-1l5-1l6-1l5-1l6 0l6 0l5 0l6-1l5 0l6-1l6-1l5 0l6 0l6 0l5-1l6 0l5-2l6-1l6 0l5-1l6 0l5-1l6-1l6 0l5-1l6 0l5 0l6 0l6 1l5-1l6-1l5-1l6 0l6 0l5-1l6 0l5 0l6 0l6 0l5 0l6 0l6 0l5-1l6-1l5 0l6-1l6 0l5-1l6 0l5-1l6-1l6-2l5 0l6-1l5-1l6-2l4-1l0 55l-841 200z"/>
<path transform="translate(238.1,548.2)scale(.5)" d="M4,-19l-4-1l6-17l5-14l6-16l5-13l6-11l6-9l5-8l6-7l5-5l6-5l6-4l5-3l6-3l5-2l6-2l6-1l5 0l6-3l6-4l5-2l6-3l5-2l6-1l6-1l5-1l6 0l5-5l6-4l6-4l5-3l6-2l5-1l6 0l6 1l5 1l6 2l5 4l6 4l6-4l5-15l6-11l5-7l6-6l6-4l5-3l6-1l6 0l5 1l6 2l5 4l6 6l6 3l5-15l6-12l5-9l6-6l6-5l5-3l6-2l5 1l6 2l6 4l5 6l6 9l5 2l6-1l6 1l5 1l6 1l5 1l6 1l6 1l5 2l1 1l1 0l2 1l1 0l1 1l0 0l2 0l1 0l1 1l1 0l0 0l2 0l1 1l1 0l2 0l0 0l1 1l1 0l4 1l5 1l6 2l6 0l5 0l6-1l5-1l6-1l6-1l5 0l6-1l5-1l6-1l6-1l5-1l6-1l5-1l6-1l6-1l5-1l6 0l5-1l6 0l6 0l5-1l6 0l5 0l6-1l6 0l5-1l6 0l6 0l5 0l6-1l5-1l6-2l6 0l5-1l6-1l5 0l6-1l6 0l5-1l6 0l5 1l6 0l6 1l5-1l6-1l5-1l6 0l6-1l5 0l6 0l5 0l6 0l6 0l5 0l6 0l6 0l5 0l6-1l5-1l6 0l6-1l5 0l6-1l5-1l6-1l6-1l5 0l6-1l5-1l6-2l4-1l0 57l-841 200z"/>
<path transform="translate(239.9,549.0)scale(.5)" d="M4,-20l-4 0l6-18l5-14l6-17l5-13l6-11l6-10l5-8l6-7l5-6l6-5l6-4l5-3l6-3l5-2l6-2l6-1l5 0l6-4l6-4l5-2l6-3l5-2l6-1l6-1l5-1l6 0l5-6l6-5l6-4l5-3l6-2l5-1l6 0l6 0l5 2l6 2l5 4l6 5l6-5l5-16l6-11l5-8l6-7l6-4l5-3l6-1l6 0l5 1l6 2l5 4l6 7l6 3l5-17l6-12l5-10l6-7l6-5l5-3l6-1l5 0l6 2l6 5l5 7l6 10l5 2l6-1l6 0l5 1l6 2l5 1l6 1l6 1l5 3l1 0l1 1l2 1l1 0l1 1l0 0l2 0l1 1l1 0l1 1l0 0l2 0l1 1l1 0l2 0l0 0l1 1l1 0l4 1l5 2l6 2l6 1l5 0l6-1l5-1l6-1l6-1l5 0l6-1l5-1l6-1l6-1l5-1l6-1l5-1l6-1l6-1l5-1l6-1l5 0l6 0l6 0l5 0l6-1l5 0l6-1l6 0l5 0l6 0l6 0l5 0l6-1l5-2l6-1l6-1l5-1l6-1l5 0l6-1l6 0l5 0l6 0l5 0l6 1l6 1l5-1l6-1l5 0l6-1l6 0l5 0l6-1l5 0l6 0l6 0l5 1l6 0l6 1l5-1l6 0l5-1l6-1l6 0l5 0l6-1l5-1l6-1l6-1l5 0l6-1l5-1l6-1l4-3l0 61l-841 200z"/>
<path transform="translate(241.7,549.7)scale(.5)" d="M4,-25l-4 4l6-19l5-15l6-18l5-15l6-12l6-10l5-9l6-7l5-7l6-5l6-4l5-4l6-3l5-2l6-1l6-2l5 0l6-5l6-3l5-3l6-3l5-2l6-2l6-1l5 0l6-1l5-7l6-5l6-4l5-3l6-2l5-2l6 0l6 1l5 1l6 3l5 5l6 5l6-5l5-18l6-12l5-10l6-7l6-5l5-3l6-1l6 0l5 1l6 3l5 5l6 7l6 3l5-19l6-13l5-11l6-8l6-5l5-4l6-1l5 1l6 3l6 5l5 8l6 12l5 1l6-2l6 1l5 2l6 1l5 2l6 1l6 2l5 3l1 1l1 0l2 1l1 1l1 0l0 1l2 0l1 1l1 0l1 1l0 0l2 1l1 0l1 1l2 0l0 0l1 1l1 0l4 2l5 2l6 3l6 2l5-1l6 0l5-1l6-1l6-1l5-1l6-1l5-1l6 0l6-1l5-2l6-1l5-1l6-1l6-1l5 0l6-1l5 0l6 0l6 0l5-1l6 0l5-1l6 0l6 0l5 0l6 1l6 1l5-1l6 0l5-3l6-2l6-1l5-1l6 0l5-1l6 0l6-1l5 0l6 1l5 1l6 1l6 2l5-1l6-1l5-1l6 0l6-1l5 0l6 0l5 0l6 0l6 1l5 0l6 1l6 1l5 0l6-1l5 0l6 0l6-1l5 0l6 0l5-1l6-1l6-1l5-1l6 0l5-1l6-1l4-3l0 66l-841 200z"/>
<path transform="translate(243.5,550.4)scale(.5)" d="M4,-27l-4 0l6-18l5-15l6-18l5-14l6-13l6-11l5-9l6-8l5-7l6-5l6-5l5-4l6-3l5-2l6-1l6-2l5-1l6-4l6-4l5-4l6-2l5-3l6-1l6-1l5-1l6-1l5-8l6-5l6-5l5-3l6-3l5-1l6 0l6 0l5 2l6 3l5 5l6 6l6-6l5-19l6-14l5-10l6-8l6-5l5-3l6-2l6 0l5 2l6 3l5 5l6 9l6 2l5-20l6-16l5-11l6-9l6-6l5-3l6-2l5 1l6 4l6 6l5 9l6 14l5-1l6-1l6 0l5 2l6 2l5 2l6 2l6 2l5 4l1 0l1 1l2 1l1 1l1 1l0 0l2 1l1 1l1 0l1 1l0 0l2 1l1 1l1 0l2 1l0 0l1 1l1 0l4 2l5 4l6 3l6 2l5 0l6-1l5-1l6-2l6-1l5-1l6-1l5-1l6 0l6 0l5-1l6-1l5-1l6-1l6-1l5-1l6 0l5 0l6 0l6-1l5-1l6-1l5 0l6 0l6 0l5 0l6 2l6 2l5 0l6-1l5-3l6-2l6-2l5-1l6-1l5 0l6-1l6 0l5 0l6 1l5 2l6 2l6 3l5-2l6-1l5-1l6 0l6-1l5 0l6 0l5 1l6 0l6 0l5 1l6 2l6 1l5 0l6 0l5-1l6 0l6 0l5 0l6-1l5 0l6-1l6-1l5-1l6 0l5 0l6-1l4-1l0 68l-841 200z"/>
<path transform="translate(245.3,551.1)scale(.5)" d="M4,-22l-4-7l6-17l5-14l6-18l5-15l6-12l6-11l5-10l6-8l5-6l6-6l6-5l5-3l6-3l5-3l6-1l6-2l5-2l6-4l6-4l5-4l6-3l5-2l6-2l6-1l5 0l6-3l5-7l6-6l6-5l5-4l6-2l5-2l6 0l6 0l5 2l6 4l5 5l6 6l6-6l5-21l6-14l5-11l6-8l6-6l5-3l6-2l6 1l5 1l6 3l5 6l6 9l6 2l5-22l6-16l5-12l6-9l6-6l5-4l6-1l5 1l6 3l6 7l5 10l6 15l5-2l6-2l6 0l5 3l6 2l5 2l6 2l6 2l5 4l1 1l1 1l2 1l1 1l1 1l0 0l2 1l1 1l1 1l1 1l0 0l2 1l1 1l1 0l2 1l0 1l1 0l1 1l4 2l5 4l6 4l6 3l5-1l6 0l5-3l6-2l6-2l5-1l6-1l5-1l6 0l6 0l5 0l6 0l5-1l6-1l6-1l5-1l6 0l5 0l6-2l6-1l5-1l6-1l5 0l6 0l6 0l5 1l6 2l6 3l5 1l6-1l5-4l6-3l6-1l5-2l6-1l5 0l6-1l6 0l5 1l6 1l5 2l6 3l6 4l5-2l6-2l5-1l6-1l6 0l5 0l6 0l5 0l6 1l6 1l5 1l6 2l6 2l5 0l6-1l5 0l6 0l6 0l5 0l6-1l5-1l6-1l6-1l5 0l6 0l5-1l6 0l4-1l0 70l-841 200z"/>
<path transform="translate(247.1,551.9)scale(.5)" d="M4,-19l-4-5l6-19l5-15l6-19l5-15l6-13l6-11l5-10l6-8l5-7l6-5l6-5l5-4l6-3l5-2l6-2l6-1l5-3l6-5l6-4l5-4l6-3l5-2l6-2l6-1l5-1l6-3l5-8l6-6l6-5l5-4l6-3l5-1l6-1l6 1l5 2l6 3l5 6l6 7l6-7l5-22l6-15l5-12l6-8l6-6l5-4l6-1l6 0l5 1l6 4l5 6l6 10l6 1l5-23l6-17l5-13l6-9l6-7l5-4l6-1l5 1l6 4l6 7l5 11l6 15l5-2l6-2l6-1l5 3l6 2l5 2l6 3l6 2l5 5l1 0l1 2l2 1l1 1l1 1l0 0l2 2l1 1l1 1l1 1l0 0l2 1l1 1l1 1l2 1l0 0l1 1l1 1l4 2l5 5l6 4l6 3l5 0l6 0l5-5l6-3l6-3l5-1l6-1l5-1l6-1l6 1l5 0l6 1l5 1l6-1l6-1l5-1l6 0l5-1l6-3l6-1l5-2l6 0l5-1l6 0l6 1l5 2l6 2l6 4l5 2l6-2l5-4l6-3l6-2l5-2l6-1l5-1l6 0l6 0l5 1l6 1l5 3l6 3l6 5l5-2l6-2l5-1l6-1l6 0l5 0l6 0l5 0l6 1l6 1l5 1l6 3l6 2l5 0l6 0l5 0l6 0l6-1l5 0l6-1l5 0l6-1l6-1l5 0l6-1l5 0l6 0l4-4l0 75l-841 200z"/>
<path transform="translate(248.9,552.6)scale(.5)" d="M4,-25l-4 4l6-21l5-17l6-20l5-17l6-13l6-12l5-10l6-9l5-7l6-6l6-4l5-4l6-4l5-2l6-2l6-1l5-4l6-5l6-5l5-4l6-3l5-2l6-2l6-2l5 0l6-5l5-9l6-6l6-6l5-4l6-2l5-2l6 0l6 0l5 2l6 4l5 6l6 8l6-8l5-24l6-16l5-13l6-9l6-6l5-4l6-2l6 0l5 2l6 4l5 7l6 11l6 0l5-25l6-19l5-14l6-10l6-7l5-5l6-1l5 2l6 4l6 8l5 13l6 16l5-4l6-2l6-1l5 3l6 3l5 2l6 3l6 2l5 6l1 1l1 1l2 2l1 1l1 1l0 1l2 1l1 1l1 2l1 1l0 0l2 1l1 1l1 2l2 1l0 0l1 1l1 1l4 3l5 6l6 5l6 4l5 0l6 0l5-7l6-5l6-4l5-2l6-1l5-1l6-1l6 1l5 1l6 2l5 3l6 0l6-1l5-1l6 1l5-4l6-3l6-2l5-2l6-1l5 0l6 0l6 1l5 3l6 3l6 5l5 4l6-2l5-5l6-4l6-3l5-1l6-2l5 0l6-1l6 1l5 1l6 2l5 3l6 5l6 6l5-3l6-2l5-1l6-1l6 0l5 0l6 0l5 0l6 1l6 1l5 2l6 4l6 3l5 0l6 0l5 0l6-1l6 0l5 0l6-1l5 0l6-1l6-1l5 0l6 0l5 0l6-1l4-5l0 82l-841 200z"/>
<path transform="translate(250.7,553.3)scale(.5)" d="M4,-29l-4 3l6-21l5-16l6-20l5-17l6-14l6-12l5-11l6-9l5-7l6-6l6-6l5-4l6-3l5-3l6-2l6-1l5-5l6-6l6-4l5-5l6-3l5-3l6-2l6-1l5-1l6-6l5-10l6-7l6-6l5-4l6-3l5-2l6 0l6 1l5 2l6 4l5 7l6 9l6-9l5-26l6-19l5-13l6-10l6-7l5-4l6-2l6 0l5 2l6 5l5 8l6 12l6-1l5-28l6-20l5-16l6-11l6-8l5-4l6-2l5 2l6 5l6 9l5 14l6 17l5-3l6-4l6 0l5 3l6 3l5 2l6 3l6 3l5 7l1 1l1 1l2 2l1 2l1 1l0 0l2 2l1 2l1 1l1 2l0 0l2 1l1 2l1 1l2 2l0 0l1 1l1 2l4 4l5 6l6 7l6 5l5 0l6-1l5-11l6-7l6-4l5-3l6-2l5-2l6 0l6 1l5 2l6 3l5 5l6 4l6-2l5 0l6 0l5-6l6-5l6-3l5-2l6-1l5 0l6 1l6 2l5 3l6 5l6 7l5 6l6-3l5-7l6-4l6-3l5-2l6-1l5-1l6 0l6 0l5 2l6 3l5 4l6 6l6 9l5-4l6-3l5-2l6-1l6 0l5 0l6 0l5 1l6 1l6 2l5 2l6 5l6 3l5 0l6 0l5 0l6 0l6 0l5 0l6-1l5 0l6-1l6-1l5 0l6 0l5 0l6 0l4-2l0 85l-841 200z"/>
<path transform="translate(252.6,554.0)scale(.5)" d="M4,-25l-4-6l6-19l5-15l6-18l5-16l6-15l6-12l5-10l6-9l5-8l6-6l6-5l5-4l6-4l5-3l6-2l6-1l5-6l6-6l6-5l5-4l6-4l5-3l6-2l6-2l5 0l6-8l5-10l6-8l6-6l5-4l6-3l5-2l6 0l6 1l5 2l6 5l5 6l6 10l6-10l5-27l6-19l5-14l6-11l6-7l5-5l6-2l6 0l5 3l6 5l5 8l6 13l6-2l5-29l6-22l5-16l6-12l6-8l5-5l6-1l5 2l6 5l6 10l5 15l6 17l5-4l6-4l6-1l5 3l6 3l5 3l6 2l6 3l5 8l1 1l1 2l2 2l1 2l1 1l0 0l2 2l1 2l1 2l1 2l0 0l2 1l1 2l1 2l2 2l0 0l1 1l1 2l4 4l5 8l6 8l6 5l5 0l6-1l5-15l6-9l6-7l5-4l6-2l5-2l6 0l6 1l5 3l6 4l5 7l6 9l6-2l5 0l6-2l5-8l6-6l6-4l5-2l6-1l5 0l6 1l6 2l5 4l6 6l6 10l5 9l6-5l5-8l6-5l6-3l5-3l6-1l5-1l6 0l6 1l5 2l6 3l5 5l6 7l6 11l5-4l6-4l5-2l6-1l6-1l5 0l6 1l5 1l6 1l6 2l5 3l6 5l6 4l5 0l6 0l5 0l6 0l6 0l5 0l6-1l5-1l6-1l6 0l5 0l6-1l5 0l6 1l4-1l0 87l-841 200z"/>
<path transform="translate(254.4,554.8)scale(.5)" d="M4,-22l-4-4l6-19l5-16l6-20l5-16l6-14l6-12l5-10l6-9l5-7l6-6l6-5l5-5l6-3l5-3l6-2l6-2l5-6l6-7l6-5l5-4l6-4l5-3l6-2l6-2l5-1l6-9l5-10l6-8l6-6l5-5l6-3l5-2l6 0l6 1l5 3l6 4l5 7l6 10l6-10l5-29l6-19l5-15l6-10l6-8l5-5l6-2l6 0l5 3l6 5l5 9l6 13l6-3l5-30l6-23l5-16l6-13l6-8l5-5l6-1l5 2l6 6l6 10l5 15l6 17l5-4l6-5l6-1l5 3l6 3l5 3l6 2l6 3l5 8l1 1l1 2l2 2l1 2l1 2l0 0l2 2l1 2l1 2l1 2l0 0l2 2l1 2l1 1l2 2l0 1l1 1l1 2l4 5l5 8l6 9l6 6l5-1l6 0l5-21l6-12l6-8l5-5l6-3l5-2l6 0l6 2l5 3l6 6l5 8l6 13l6 1l5-1l6-5l5-10l6-6l6-5l5-3l6-1l5 0l6 1l6 3l5 5l6 8l6 11l5 12l6-5l5-10l6-6l6-4l5-3l6-1l5-1l6 0l6 1l5 2l6 4l5 6l6 8l6 13l5-5l6-4l5-3l6-1l6-1l5 0l6 1l5 0l6 2l6 2l5 3l6 6l6 5l5 0l6 0l5 0l6-1l6 0l5 0l6-1l5-1l6-1l6 0l5-1l6 0l5 0l6 0l4-4l0 93l-841 200z"/>
<path transform="translate(256.2,555.5)scale(.5)" d="M4,-28l-4 5l6-21l5-17l6-20l5-17l6-14l6-12l5-11l6-9l5-7l6-6l6-6l5-4l6-4l5-3l6-2l6-2l5-8l6-6l6-6l5-4l6-4l5-3l6-3l6-1l5-1l6-11l5-11l6-9l6-6l5-5l6-4l5-1l6-1l6 1l5 3l6 5l5 7l6 11l6-11l5-30l6-21l5-15l6-12l6-8l5-5l6-2l6 0l5 3l6 6l5 9l6 14l6-4l5-32l6-24l5-18l6-13l6-9l5-5l6-2l5 3l6 6l6 11l5 17l6 17l5-5l6-4l6-2l5 3l6 3l5 2l6 3l6 3l5 9l1 1l1 2l2 2l1 3l1 1l0 1l2 2l1 2l1 2l1 2l0 0l2 3l1 2l1 2l2 2l0 1l1 2l1 2l4 5l5 10l6 10l6 6l5 0l6 0l5-29l6-15l6-11l5-6l6-5l5-2l6 0l6 3l5 4l6 8l5 11l6 17l6 5l5-1l6-9l5-12l6-8l6-6l5-3l6-2l5 1l6 2l6 4l5 6l6 9l6 14l5 16l6-7l5-11l6-7l6-5l5-3l6-2l5-1l6 1l6 1l5 3l6 5l5 6l6 11l6 15l5-6l6-5l5-3l6-1l6-1l5 0l6 0l5 1l6 2l6 2l5 4l6 7l6 5l5 0l6 0l5 0l6 0l6 0l5 0l6-2l5-1l6-1l6 0l5-1l6 0l5 0l6 0l4-7l0 102l-841 200z"/>
<path transform="translate(258.0,556.2)scale(.5)" d="M4,-31l-4 2l6-20l5-16l6-20l5-17l6-14l6-13l5-11l6-9l5-8l6-6l6-6l5-5l6-3l5-4l6-2l6-3l5-8l6-7l6-6l5-5l6-4l5-3l6-3l6-2l5-1l6-12l5-12l6-10l6-7l5-5l6-4l5-2l6 0l6 1l5 3l6 5l5 8l6 12l6-12l5-32l6-23l5-17l6-12l6-9l5-5l6-3l6 1l5 3l6 6l5 10l6 16l6-5l5-36l6-26l5-20l6-14l6-10l5-5l6-1l5 2l6 8l6 12l5 18l6 19l5-6l6-5l6-2l5 3l6 3l5 3l6 3l6 3l5 9l1 2l1 2l2 3l1 2l1 2l0 1l2 2l1 3l1 2l1 3l0 0l2 2l1 3l1 2l2 3l0 1l1 2l1 2l4 7l5 11l6 11l6 8l5 0l6 0l5-39l6-20l6-13l5-9l6-6l5-2l6 0l6 3l5 6l6 10l5 15l6 22l6 10l5 0l6-14l5-14l6-10l6-7l5-4l6-2l5 0l6 3l6 5l5 8l6 11l6 18l5 22l6-10l5-12l6-9l6-6l5-4l6-2l5-1l6 1l6 2l5 3l6 6l5 8l6 13l6 19l5-8l6-5l5-4l6-2l6-1l5 0l6 1l5 1l6 2l6 3l5 5l6 8l6 6l5 0l6 0l5 0l6 0l6 0l5 0l6-2l5-2l6 0l6-1l5 0l6 0l5 0l6 0l4-3l0 106l-841 200z"/>
<path transform="translate(259.8,557.0)scale(.5)" d="M4,-23l-4-10l6-18l5-15l6-18l5-17l6-14l6-13l5-11l6-9l5-8l6-7l6-6l5-4l6-5l5-3l6-3l6-3l5-9l6-6l6-6l5-5l6-5l5-3l6-3l6-2l5-1l6-14l5-13l6-9l6-8l5-6l6-4l5-2l6 0l6 1l5 3l6 6l5 8l6 12l6-12l5-34l6-23l5-18l6-13l6-9l5-6l6-2l6 0l5 3l6 7l5 11l6 16l6-6l5-38l6-27l5-21l6-15l6-10l5-6l6-1l5 3l6 8l6 13l5 19l6 20l5-6l6-6l6-2l5 2l6 3l5 3l6 3l6 3l5 10l1 1l1 3l2 3l1 3l1 2l0 0l2 3l1 3l1 2l1 3l0 0l2 3l1 2l1 3l2 3l0 1l1 2l1 3l4 7l5 11l6 14l6 8l5 0l6 0l5-48l6-25l6-16l5-12l6-6l5-3l6 0l6 4l5 8l6 12l5 18l6 28l6 16l5-1l6-18l5-17l6-12l6-8l5-5l6-2l5 0l6 4l6 6l5 9l6 14l6 20l5 27l6-11l5-14l6-10l6-7l5-4l6-3l5-1l6 1l6 2l5 4l6 7l5 10l6 14l6 21l5-8l6-6l5-4l6-2l6-1l5-1l6 1l5 1l6 2l6 4l5 5l6 9l6 7l5 0l6 0l5 0l6-1l6 0l5 0l6-2l5-1l6-1l6-1l5 0l6 0l5 0l6 0l4 0l0 108l-841 200z"/>
<path transform="translate(261.6,557.7)scale(.5)" d="M4,-18l-4-7l6-19l5-16l6-19l5-17l6-14l6-12l5-11l6-9l5-8l6-7l6-5l5-5l6-5l5-3l6-3l6-4l5-8l6-7l6-6l5-5l6-4l5-4l6-2l6-2l5-2l6-15l5-13l6-10l6-7l5-6l6-4l5-2l6-1l6 1l5 4l6 5l5 8l6 12l6-12l5-34l6-23l5-18l6-13l6-9l5-6l6-3l6 0l5 4l6 6l5 11l6 16l6-7l5-38l6-28l5-20l6-15l6-11l5-5l6-1l5 3l6 8l6 13l5 19l6 20l5-7l6-6l6-2l5 2l6 3l5 2l6 3l6 3l5 10l1 1l1 3l2 3l1 3l1 2l0 0l2 3l1 3l1 1l1 0l0 0l2 1l1 1l1 1l2 1l0 0l1 1l1 1l4 6l5 13l6 30l6 9l5 0l6 0l5-57l6-29l6-19l5-13l6-8l5-3l6 0l6 5l5 9l6 14l5 21l6 32l6 23l5-1l6-23l5-19l6-13l6-9l5-6l6-2l5 0l6 4l6 7l5 10l6 15l6 23l5 31l6-12l5-16l6-11l6-7l5-5l6-3l5-1l6 1l6 3l5 4l6 7l5 11l6 15l6 23l5-9l6-6l5-4l6-3l6-1l5-1l6 1l5 1l6 3l6 3l5 6l6 9l6 7l5 0l6 0l5 0l6-1l6 0l5 0l6-2l5-2l6-1l6-1l5 0l6 0l5 0l6 0l4-3l0 112l-841 200z"/>
<path transform="translate(263.4,558.4)scale(.5)" fill="url(#h1)" d="M4,-26l-4 7l6-21l5-17l6-20l5-17l6-14l6-12l5-11l6-9l5-8l6-7l6-6l5-5l6-4l5-4l6-3l6-4l5-9l6-7l6-6l5-5l6-4l5-4l6-2l6-2l5-2l6-17l5-13l6-10l6-8l5-6l6-4l5-3l6 0l6 1l5 3l6 6l5 8l6 12l6-12l5-35l6-24l5-18l6-14l6-10l5-6l6-3l6 1l5 3l6 7l5 11l6 16l6-8l5-39l6-29l5-21l6-16l6-10l5-6l6-1l5 3l6 9l6 13l5 21l6 20l5-7l6-7l6-2l5 2l6 3l5 2l6 3l6 2l5 4l1-1l1 0l2-1l1-1l1 0l0-1l2 0l1-1l1 0l1 0l0 0l2 1l1 2l1 2l2 1l0 1l1 1l1 2l4 9l5 20l6 45l6 16l5 0l6 0l5-67l6-34l6-22l5-15l6-9l5-4l6 0l6 6l5 10l6 17l5 24l6 37l6 30l5 0l6-28l5-22l6-15l6-10l5-6l6-3l5 1l6 4l6 8l5 12l6 17l6 26l5 36l6-15l5-17l6-12l6-8l5-5l6-3l5-1l6 0l6 3l5 5l6 8l5 12l6 17l6 26l5-10l6-8l5-4l6-3l6-1l5-1l6 1l5 1l6 3l6 3l5 6l6 10l6 8l5 0l6 0l5 0l6-1l6 0l5 0l6-3l5-2l6-1l6-1l5 0l6-1l5 1l6 0l4-7l0 120l-841 200z"/>
<path transform="translate(265.2,559.1)scale(.5)" fill="url(#h1)" d="M4,-32l-4 5l6-18l5-15l6-19l5-17l6-14l6-12l5-11l6-10l5-8l6-7l6-6l5-6l6-4l5-4l6-3l6-5l5-9l6-7l6-7l5-5l6-5l5-4l6-3l6-2l5-3l6-18l5-14l6-11l6-8l5-7l6-4l5-2l6-1l6 1l5 3l6 6l5 9l6 13l6-13l5-37l6-26l5-20l6-14l6-10l5-7l6-3l6 0l5 4l6 7l5 12l6 18l6-9l5-43l6-31l5-23l6-16l6-11l5-6l6-2l5 4l6 9l6 15l5 22l6 23l5-8l6-8l6-3l5 3l6 3l5-10l6-10l6-6l5-4l1 0l1-1l2-1l1-1l1 0l0-1l2-1l1-2l1 1l1 1l0 0l2 2l1 3l1 2l2 3l0 1l1 1l1 3l4 13l5 29l6 67l6 27l5 0l6 0l5-80l6-40l6-26l5-18l6-11l5-5l6 1l6 6l5 13l6 19l5 29l6 45l6 39l5-1l6-34l5-25l6-17l6-11l5-8l6-3l5 1l6 5l6 9l5 14l6 20l6 30l5 42l6-17l5-19l6-13l6-9l5-7l6-3l5-1l6 1l6 3l5 6l6 9l5 13l6 19l6 30l5-11l6-8l5-5l6-3l6-2l5 0l6 0l5 2l6 3l6 4l5 6l6 12l6 8l5 0l6 0l5 0l6 0l6 0l5 0l6-4l5-2l6-1l6-1l5-1l6 0l5 0l6 1l4-4l0 125l-841 200z"/>
<path transform="translate(267.0,559.9)scale(.5)" fill="url(#h2)" d="M4,-27l-4-7l6-15l5-13l6-17l5-16l6-14l6-13l5-10l6-10l5-8l6-7l6-7l5-5l6-5l5-4l6-3l6-5l5-9l6-8l6-6l5-6l6-5l5-4l6-3l6-2l5-5l6-19l5-14l6-12l6-8l5-7l6-5l5-2l6-1l6 1l5 3l6 6l5 9l6 14l6-14l5-38l6-27l5-21l6-15l6-10l5-7l6-3l6 0l5 4l6 8l5 12l6 18l6-10l5-45l6-32l5-24l6-17l6-12l5-6l6-1l5 4l6 10l6 15l5 23l6 24l5-8l6-8l6-3l5-10l6-23l5-15l6-13l6-7l5-5l1 0l1-1l2-1l1-1l1-2l0 0l2-3l1-3l1 0l1 2l0 0l2 5l1 5l1 4l2 3l0 1l1 2l1 4l4 18l5 39l6 90l6 39l5 0l6 0l5-92l6-44l6-30l5-21l6-12l5-6l6 1l6 8l5 14l6 22l5 33l6 51l6 47l5-1l6-39l5-28l6-19l6-13l5-8l6-3l5 1l6 5l6 10l5 15l6 23l6 33l5 48l6-19l5-22l6-14l6-10l5-6l6-4l5-1l6 1l6 4l5 6l6 10l5 14l6 21l6 32l5-12l6-8l5-6l6-3l6-2l5-1l6 1l5 2l6 3l6 4l5 7l6 12l6 10l5 0l6 0l5 0l6-1l6 0l5 0l6-3l5-3l6-1l6-2l5 0l6 0l5 0l6 1l4 2l0 124l-841 200z"/>
<path transform="translate(268.8,560.6)scale(.5)" fill="url(#h3)" d="M4,-20l-4-8l6-16l5-13l6-18l5-15l6-13l6-12l5-11l6-9l5-8l6-7l6-6l5-5l6-5l5-4l6-3l6-5l5-9l6-7l6-6l5-6l6-5l5-4l6-3l6-3l5-5l6-19l5-14l6-12l6-9l5-6l6-5l5-3l6-1l6 1l5 3l6 6l5 9l6 13l6-14l5-38l6-27l5-20l6-14l6-11l5-7l6-3l6 0l5 4l6 7l5 13l6 18l6-12l5-44l6-32l5-23l6-18l6-11l5-6l6-2l5 5l6 9l6 16l5 23l6 24l5-8l6-8l6-14l5-36l6-26l5-18l6-15l6-8l5-5l1-1l1-1l2-1l1-1l1-2l0-1l2-6l1-5l1-2l1 5l0 0l2 8l1 8l1 5l2 4l0 1l1 3l1 5l4 21l5 48l6 107l6 50l5 0l6 0l5-97l6-48l6-31l5-21l6-13l5-6l6 1l6 7l5 15l6 24l5 34l6 53l6 52l5-1l6-42l5-29l6-19l6-13l5-9l6-3l5 1l6 5l6 10l5 16l6 23l6 34l5 50l6-19l5-22l6-15l6-10l5-6l6-4l5-2l6 2l6 3l5 7l6 10l5 14l6 21l6 33l5-12l6-9l5-6l6-3l6-2l5-1l6 1l5 2l6 3l6 4l5 7l6 12l6 10l5 0l6 0l5-1l6 0l6 0l5 0l6-4l5-3l6-1l6-2l5 0l6 0l5 0l6 1l4 1l0 124l-841 200z"/>
<path transform="translate(270.6,561.3)scale(.5)" fill="url(#h3)" d="M4,-25l-4 4l6-17l5-15l6-18l5-15l6-13l6-11l5-11l6-8l5-8l6-7l6-6l5-5l6-4l5-4l6-3l6-6l5-8l6-7l6-7l5-5l6-5l5-4l6-3l6-3l5-7l6-18l5-15l6-11l6-9l5-7l6-5l5-3l6-1l6 1l5 3l6 5l5 9l6 13l6-14l5-38l6-27l5-20l6-15l6-11l5-7l6-3l6 0l5 4l6 8l5 12l6 18l6-13l5-44l6-32l5-23l6-18l6-11l5-6l6-1l5 4l6 9l6 16l5 23l6 25l5-8l6-8l6-40l5-40l6-29l5-21l6-17l6-8l5-6l1 0l1-1l2-1l1-2l1-3l0-2l2-8l1-10l1-2l1 7l0 0l2 12l1 11l1 7l2 5l0 1l1 3l1 6l4 24l5 54l6 124l6 58l5 0l6 0l5-101l6-50l6-32l5-23l6-13l5-6l6 0l6 8l5 16l6 24l5 36l6 56l6 55l5-1l6-44l5-30l6-20l6-14l5-8l6-3l5 0l6 6l6 10l5 16l6 24l6 35l5 52l6-20l5-23l6-14l6-11l5-6l6-4l5-2l6 1l6 4l5 7l6 10l5 14l6 22l6 33l5-12l6-9l5-6l6-3l6-2l5-1l6 0l5 2l6 3l6 4l5 8l6 12l6 9l5 0l6 0l5 0l6-1l6 0l5 0l6-4l5-3l6-2l6-1l5-1l6 0l5 1l6 0l4-4l0 130l-841 200z"/>
<path transform="translate(272.4,562.0)scale(.5)" fill="url(#h4)" d="M4,-29l-4 3l6-16l5-12l6-17l5-15l6-13l6-11l5-10l6-9l5-8l6-7l6-6l5-5l6-5l5-3l6-4l6-6l5-8l6-8l6-6l5-6l6-5l5-4l6-4l6-2l5-8l6-19l5-16l6-11l6-10l5-7l6-5l5-3l6-1l6 0l5 3l6 6l5 9l6 13l6-14l5-41l6-28l5-21l6-15l6-12l5-7l6-4l6 0l5 4l6 8l5 13l6 19l6-14l5-46l6-34l5-24l6-19l6-12l5-6l6-1l5 4l6 10l6 17l5 24l6 29l5-9l6-9l6-59l5-45l6-33l5-24l6-19l6-9l5-5l1-1l1-1l2-1l1-3l1-3l0-2l2-11l1-11l1-4l1 9l0 0l2 15l1 13l1 9l2 6l0 1l1 4l1 6l4 28l5 61l6 141l6 66l5 1l6 0l5-109l6-53l6-35l5-24l6-15l5-6l6 1l6 8l5 17l6 26l5 39l6 59l6 60l5-1l6-47l5-31l6-22l6-14l5-9l6-4l5 1l6 6l6 11l5 17l6 25l6 38l5 55l6-21l5-24l6-15l6-11l5-7l6-5l5-1l6 1l6 4l5 7l6 11l5 15l6 23l6 36l5-14l6-9l5-6l6-4l6-2l5-1l6 1l5 2l6 3l6 4l5 8l6 13l6 10l5 0l6 0l5-1l6 0l6 0l5 0l6-5l5-3l6-2l6-1l5-1l6 0l5 1l6 1l4-4l0 135l-841 200z"/>
<path transform="translate(274.2,562.8)scale(.5)" fill="url(#h4)" d="M4,-21l-4-9l6-14l5-12l6-15l5-14l6-12l6-12l5-10l6-8l5-8l6-7l6-6l5-5l6-4l5-4l6-3l6-9l5-8l6-8l6-7l5-5l6-5l5-5l6-3l6-3l5-9l6-20l5-15l6-13l6-9l5-8l6-5l5-3l6-1l6 1l5 3l6 5l5 9l6 14l6-15l5-42l6-29l5-22l6-16l6-12l5-8l6-4l6 0l5 4l6 9l5 13l6 19l6-15l5-48l6-35l5-25l6-19l6-13l5-6l6-1l5 4l6 11l6 17l5 25l6 32l5-9l6-9l6-68l5-47l6-35l5-25l6-20l6-10l5-6l1 0l1-1l2-2l1-2l1-3l0-2l2-8l1 0l1 0l1 0l0 0l2 6l1 14l1 8l2 6l0 2l1 4l1 7l4 29l5 65l6 149l6 71l5 0l6 0l5-113l6-55l6-36l5-25l6-15l5-7l6 1l6 9l5 17l6 27l5 41l6 61l6 63l5-1l6-49l5-33l6-22l6-15l5-9l6-4l5 1l6 6l6 12l5 18l6 26l6 39l5 57l6-22l5-24l6-17l6-11l5-7l6-4l5-2l6 1l6 5l5 7l6 11l5 16l6 24l6 36l5-13l6-10l5-6l6-4l6-3l5 0l6 0l5 2l6 3l6 5l5 8l6 13l6 10l5 0l6 0l5 0l6-1l6 0l5 0l6-4l5-4l6-2l6-1l5-1l6 0l5 1l6 1l4 4l0 132l-841 200z"/>
<path transform="translate(276.1,563.5)scale(.5)" fill="url(#h5)" d="M4,-14l-4-8l6-16l5-12l6-15l5-14l6-11l6-11l5-9l6-8l5-7l6-6l6-6l5-5l6-4l5-3l6-5l6-11l5-8l6-8l6-6l5-6l6-5l5-4l6-4l6-3l5-8l6-20l5-15l6-12l6-9l5-8l6-5l5-3l6-1l6 1l5 3l6 5l5 9l6 13l6-15l5-41l6-28l5-22l6-16l6-12l5-8l6-4l6 0l5 4l6 8l5 13l6 19l6-15l5-48l6-34l5-25l6-19l6-12l5-6l6-2l5 5l6 10l6 17l5 25l6 32l5-8l6-9l6-56l5-45l6-33l5-23l6-19l6-9l5-6l1 0l1-1l2-2l1-2l1-2l0-2l2-8l1-9l1-2l1 7l0 0l2 12l1 11l1 7l2 6l0 1l1 4l1 6l4 27l5 61l6 139l6 66l5 0l6 0l5-110l6-52l6-36l5-24l6-14l5-7l6 1l6 8l5 17l6 26l5 39l6 60l6 60l5-1l6-48l5-32l6-21l6-15l5-9l6-3l5 1l6 5l6 12l5 17l6 25l6 38l5 55l6-21l5-24l6-16l6-11l5-7l6-5l5-1l6 1l6 4l5 7l6 11l5 15l6 23l6 36l5-14l6-9l5-7l6-4l6-2l5-1l6 1l5 1l6 3l6 5l5 7l6 13l6 10l5 0l6 0l5-1l6 0l6 0l5 0l6-5l5-4l6-2l6-1l5-1l6 0l5 1l6 1l4 5l0 129l-841 200z"/>
<path transform="translate(277.9,564.2)scale(.5)" fill="url(#h6)" d="M4,-20l-4 4l6-16l5-13l6-15l5-12l6-10l6-9l5-8l6-8l5-6l6-6l6-5l5-4l6-4l5-3l6-11l6-10l5-8l6-7l6-7l5-5l6-5l5-5l6-3l6-3l5-9l6-19l5-14l6-12l6-9l5-7l6-5l5-3l6-2l6 1l5 3l6 5l5 9l6 13l6-15l5-40l6-27l5-21l6-16l6-12l5-8l6-4l6 0l5 4l6 8l5 12l6 18l6-15l5-46l6-33l5-25l6-18l6-12l5-6l6-1l5 4l6 10l6 17l5 24l6 32l5-9l6-8l6-43l5-40l6-31l5-21l6-18l6-8l5-5l1-1l1-1l2-1l1-2l1-2l0-1l2-5l1-5l1-1l1 5l0 0l2 8l1 8l1 6l2 5l0 1l1 3l1 6l4 24l5 56l6 127l6 59l5 0l6 0l5-105l6-50l6-34l5-23l6-14l5-7l6 1l6 8l5 16l6 25l5 37l6 57l6 56l5 0l6-46l5-30l6-21l6-14l5-9l6-4l5 1l6 6l6 10l5 17l6 24l6 36l5 53l6-21l5-23l6-15l6-11l5-7l6-4l5-2l6 2l6 3l5 7l6 10l5 15l6 22l6 34l5-13l6-9l5-7l6-4l6-2l5-1l6 0l5 1l6 3l6 4l5 7l6 12l6 10l5 0l6 0l5-1l6-1l6 0l5 0l6-5l5-3l6-2l6-2l5 0l6 0l5 0l6 2l4-2l0 132l-841 200z"/>
<path transform="translate(279.7,564.9)scale(.5)" fill="url(#h6)" d="M4,-27l-4 5l6-13l5-12l6-11l5-10l6-10l6-8l5-7l6-7l5-6l6-5l6-4l5-5l6-3l5-8l6-13l6-10l5-8l6-8l6-6l5-6l6-5l5-4l6-4l6-2l5-10l6-19l5-15l6-12l6-10l5-7l6-5l5-3l6-1l6 1l5 3l6 5l5 9l6 13l6-15l5-40l6-29l5-21l6-16l6-12l5-8l6-4l6-1l5 4l6 8l5 13l6 19l6-16l5-47l6-34l5-25l6-18l6-12l5-7l6-1l5 5l6 10l6 17l5 25l6 33l5-9l6-8l6-19l5-37l6-28l5-19l6-16l6-8l5-5l1 0l1-1l2-2l1-1l1-1l0-1l2-2l1-3l1 1l1 2l0 0l2 5l1 5l1 5l2 4l0 1l1 3l1 5l4 22l5 50l6 113l6 52l5 0l6 0l5-103l6-50l6-33l5-23l6-14l5-6l6 0l6 8l5 16l6 25l5 36l6 56l6 55l5-1l6-45l5-30l6-21l6-14l5-9l6-4l5 1l6 6l6 10l5 17l6 24l6 36l5 53l6-21l5-24l6-15l6-11l5-7l6-4l5-2l6 1l6 4l5 7l6 10l5 15l6 23l6 34l5-13l6-10l5-7l6-4l6-2l5-2l6 0l5 2l6 2l6 5l5 6l6 13l6 9l5 0l6 0l5-1l6-1l6 0l5 0l6-5l5-4l6-2l6-1l5-1l6 0l5 1l6 1l4-3l0 136l-841 200z"/>
<path transform="translate(281.5,565.6)scale(.5)" fill="url(#h6)" d="M4,-20l-4-9l6-11l5-9l6-8l5-9l6-9l6-7l5-7l6-6l5-6l6-5l6-4l5-5l6-4l5-11l6-13l6-10l5-9l6-7l6-6l5-6l6-5l5-4l6-4l6-3l5-12l6-20l5-15l6-12l6-10l5-7l6-6l5-3l6-1l6 1l5 3l6 6l5 9l6 14l6-16l5-41l6-30l5-22l6-16l6-13l5-8l6-4l6-1l5 5l6 8l5 13l6 20l6-17l5-48l6-35l5-26l6-19l6-12l5-7l6-1l5 5l6 10l6 18l5 25l6 36l5-9l6-8l6-4l5-5l6-22l5-16l6-14l6-6l5-5l1-1l1-1l2-1l1-1l1 0l0-1l2-1l1-1l1 0l1 2l0 0l2 2l1 4l1 3l2 4l0 0l1 3l1 4l4 17l5 40l6 90l6 39l5 0l6 0l5-98l6-48l6-32l5-22l6-13l5-6l6 0l6 8l5 15l6 24l5 35l6 53l6 50l5-1l6-43l5-30l6-20l6-14l5-9l6-3l5 1l6 5l6 10l5 17l6 23l6 36l5 52l6-22l5-23l6-16l6-11l5-8l6-4l5-1l6 1l6 4l5 7l6 10l5 16l6 23l6 34l5-14l6-10l5-6l6-5l6-3l5-1l6 0l5 2l6 2l6 4l5 7l6 13l6 10l5 0l6-1l5-1l6-1l6 0l5-1l6-5l5-4l6-2l6-2l5-1l6 0l5 1l6 2l4 3l0 134l-841 200z"/>
<path transform="translate(283.3,566.4)scale(.5)" fill="url(#h6)" d="M4,-12l-4-10l6-12l5-10l6-9l5-9l6-8l6-7l5-7l6-6l5-5l6-5l6-5l5-4l6-4l5-11l6-11l6-9l5-8l6-7l6-6l5-6l6-5l5-4l6-3l6-3l5-16l6-20l5-15l6-12l6-9l5-8l6-5l5-3l6-1l6 1l5 3l6 5l5 9l6 14l6-15l5-41l6-29l5-21l6-17l6-12l5-8l6-4l6-1l5 4l6 9l5 13l6 19l6-17l5-47l6-35l5-26l6-18l6-12l5-7l6-1l5 5l6 10l6 17l5 26l6 36l5-7l6-9l6-4l5 2l6 3l5 2l6 2l6 2l5-3l1 0l1-1l2-1l1-1l1 0l0-1l2-1l1 0l1 0l1 1l0 0l2 1l1 2l1 2l2 2l0 0l1 2l1 2l4 12l5 25l6 57l6 20l5 0l6 0l5-81l6-40l6-27l5-18l6-11l5-6l6 1l6 6l5 13l6 19l5 29l6 45l6 36l5-1l6-34l5-27l6-18l6-12l5-8l6-3l5 0l6 5l6 9l5 15l6 21l6 31l5 44l6-19l5-23l6-15l6-10l5-7l6-4l5-2l6 1l6 4l5 6l6 10l5 15l6 21l6 33l5-14l6-9l5-7l6-5l6-2l5-2l6 0l5 1l6 3l6 4l5 6l6 13l6 9l5 0l6-1l5-1l6-1l6-1l5 0l6-6l5-3l6-3l6-2l5-1l6 0l5 1l6 1l4 7l0 128l-841 200z"/>
<path transform="translate(285.1,567.1)scale(.5)" fill="url(#h6)" d="M4,-17l-4 3l6-13l5-11l6-10l5-9l6-8l6-6l5-7l6-5l5-5l6-5l6-4l5-4l6-4l5-9l6-9l6-8l5-7l6-6l6-6l5-4l6-5l5-4l6-3l6-3l5-23l6-18l5-15l6-11l6-9l5-7l6-5l5-3l6-2l6 1l5 3l6 5l5 9l6 13l6-14l5-39l6-27l5-21l6-16l6-11l5-8l6-4l6 0l5 3l6 8l5 12l6 19l6-17l5-46l6-33l5-25l6-17l6-12l5-7l6-1l5 5l6 10l6 16l5 24l6 35l5-2l6-8l6-4l5 2l6 2l5 2l6 2l6 2l5 11l1 1l1 3l2 3l1 3l1 3l0 0l2 3l1 3l1 3l1 3l0 0l2 4l1 4l1 3l2 4l0 1l1 2l1 1l4 6l5 12l6 25l6 10l5 0l6 0l5-54l6-29l6-19l5-13l6-8l5-4l6 0l6 5l5 8l6 14l5 20l6 32l6 15l5-1l6-19l5-21l6-14l6-10l5-6l6-3l5 1l6 3l6 7l5 11l6 16l6 24l5 31l6-16l5-20l6-13l6-9l5-6l6-4l5-1l6 1l6 3l5 5l6 9l5 12l6 19l6 28l5-12l6-10l5-6l6-4l6-3l5-1l6-1l5 1l6 2l6 4l5 6l6 11l6 9l5-1l6-1l5-1l6-1l6-1l5 0l6-5l5-4l6-3l6-2l5-1l6 0l5 0l6 1l4 3l0 126l-841 200z"/>
<path transform="translate(286.9,567.8)scale(.5)" fill="url(#h6)" d="M4,-24l-4 6l6-11l5-9l6-9l5-8l6-7l6-7l5-5l6-6l5-5l6-4l6-5l5-4l6-3l5-6l6-8l6-7l5-5l6-6l6-4l5-5l6-3l5-4l6-3l6-9l5-26l6-18l5-15l6-11l6-9l5-7l6-5l5-3l6-1l6 1l5 2l6 6l5 8l6 12l6-12l5-38l6-27l5-20l6-15l6-11l5-8l6-4l6-1l5 4l6 8l5 11l6 18l6-19l5-45l6-33l5-25l6-17l6-12l5-6l6-1l5 4l6 10l6 17l5 23l6 35l5 7l6-8l6-3l5 2l6 1l5 2l6 2l6 1l5 10l1 2l1 3l2 2l1 3l1 2l0 1l2 3l1 3l1 2l1 3l0 0l2 3l1 4l1 3l2 3l0 1l1 3l1 3l4 8l5 14l6 14l6 10l5 0l6-1l5-30l6-17l6-12l5-8l6-5l5-2l6 0l6 2l5 5l6 8l5 12l6 19l6-2l5-1l6-4l5-14l6-10l6-7l5-4l6-2l5 0l6 3l6 4l5 7l6 11l6 16l5 18l6-12l5-17l6-10l6-8l5-5l6-3l5-1l6 0l6 3l5 4l6 7l5 10l6 16l6 22l5-12l6-8l5-6l6-4l6-3l5-1l6-1l5 1l6 2l6 3l5 5l6 11l6 7l5 0l6-1l5-1l6-1l6-1l5-1l6-5l5-4l6-3l6-2l5-1l6-1l5 1l6 0l4 0l0 128l-841 200z"/>
<path transform="translate(288.7,568.5)scale(.5)" fill="url(#h6)" d="M4,-21l-4-4l6-9l5-7l6-6l5-7l6-7l6-6l5-6l6-6l5-5l6-4l6-4l5-4l6-4l5-4l6-6l6-6l5-4l6-5l6-4l5-4l6-3l5-3l6-4l6-17l5-26l6-18l5-14l6-12l6-8l5-7l6-5l5-3l6-2l6 1l5 2l6 5l5 8l6 13l6-11l5-36l6-26l5-19l6-15l6-11l5-8l6-4l6 0l5 3l6 7l5 11l6 17l6-24l5-46l6-33l5-24l6-18l6-12l5-6l6-1l5 4l6 10l6 17l5 24l6 34l5 24l6-7l6-3l5 2l6 1l5 2l6 1l6 1l5 9l1 1l1 3l2 2l1 2l1 2l0 1l2 2l1 2l1 3l1 2l0 0l2 3l1 3l1 3l2 2l0 1l1 2l1 3l4 7l5 12l6 12l6 8l5 0l6 0l5-13l6-9l6-7l5-4l6-3l5-1l6 0l6 1l5 2l6 4l5 6l6-1l6-2l5-1l6 1l5-1l6-6l6-4l5-3l6-1l5 0l6 1l6 3l5 4l6 6l6 9l5 6l6-6l5-12l6-8l6-6l5-3l6-2l5-1l6 0l6 2l5 3l6 5l5 7l6 11l6 15l5-10l6-8l5-5l6-4l6-2l5-1l6-1l5 1l6 1l6 3l5 4l6 9l6 6l5 0l6-1l5-1l6-2l6 0l5-1l6-5l5-4l6-3l6-2l5-2l6 0l5 0l6 0l4 5l0 125l-841 200z"/>
<path transform="translate(290.5,569.3)scale(.5)" fill="url(#h6)" d="M4,-15l-4-7l6-9l5-7l6-7l5-7l6-7l6-6l5-5l6-5l5-5l6-4l6-4l5-4l6-4l5-4l6-4l6-4l5-4l6-4l6-3l5-4l6-3l5-3l6-3l6-21l5-24l6-16l5-13l6-10l6-9l5-6l6-5l5-3l6-1l6 0l5 2l6 4l5 7l6 10l6-7l5-31l6-22l5-17l6-13l6-9l5-7l6-4l6-1l5 2l6 6l5 9l6 14l6-32l5-43l6-30l5-23l6-17l6-11l5-6l6-1l5 4l6 9l6 15l5 22l6 32l5 43l6-5l6-2l5 1l6 1l5 1l6 1l6 1l5 5l1 1l1 2l2 2l1 1l1 1l0 1l2 1l1 2l1 2l1 1l0 0l2 2l1 2l1 2l2 2l0 1l1 1l1 2l4 5l5 8l6 9l6 5l5 0l6 0l5-4l6-5l6-3l5-2l6-2l5-1l6 0l6 1l5 0l6-1l5-1l6-2l6-1l5-1l6 1l5 0l6 1l6-1l5-1l6-1l5 0l6 1l6 1l5 1l6 3l6 3l5 1l6-2l5-7l6-4l6-4l5-2l6-1l5-1l6 0l6 1l5 2l6 2l5 4l6 6l6 8l5-8l6-5l5-4l6-3l6-2l5-1l6 0l5 0l6 0l6 2l5 3l6 5l6 5l5-1l6-1l5-1l6-1l6-1l5-1l6-5l5-4l6-2l6-3l5-1l6-1l5 0l6 0l4 10l0 117l-841 200z"/>
<path transform="translate(292.3,570.0)scale(.5)" fill="url(#h6)" d="M4,-20l-4 4l6-10l5-8l6-8l5-6l6-6l6-6l5-5l6-4l5-5l6-4l6-4l5-4l6-3l5-4l6-4l6-3l5-4l6-3l6-3l5-3l6-3l5-3l6-3l6-18l5-18l6-13l5-11l6-8l6-7l5-6l6-4l5-3l6-2l6-1l5 1l6 3l5 4l6 7l6-2l5-23l6-16l5-12l6-10l6-8l5-5l6-4l6-2l5 1l6 4l5 5l6 9l6-37l5-36l6-25l5-20l6-14l6-9l5-6l6-1l5 3l6 7l6 13l5 18l6 25l5 40l6 10l6-2l5 0l6 0l5 1l6 0l6-1l5 3l1 1l1 1l2 0l1 1l1 1l0 0l2 1l1 0l1 1l1 1l0 0l2 1l1 1l1 1l2 1l0 0l1 1l1 1l4 3l5 4l6 4l6 3l5 0l6 0l5-1l6-3l6-1l5-1l6-1l5-1l6 0l6-1l5-2l6-1l5-1l6-1l6-1l5-1l6 0l5 0l6 0l6 0l5 1l6 0l5 1l6-1l6 0l5 0l6 1l6 0l5 1l6 0l5-4l6-3l6-1l5-2l6 0l5-1l6 0l6 0l5 1l6 1l5 1l6 3l6 3l5-5l6-3l5-3l6-2l6-2l5-1l6 0l5 0l6-1l6 1l5 1l6 3l6 2l5-1l6-1l5-1l6-2l6-1l5 0l6-5l5-3l6-2l6-3l5-1l6-1l5-1l6 0l4 7l0 112l-841 200z"/>
<path transform="translate(294.1,570.7)scale(.5)" fill="url(#h6)" d="M4,-25l-4 3l6-7l5-6l6-6l5-5l6-6l6-4l5-5l6-5l5-4l6-4l6-4l5-3l6-4l5-3l6-4l6-3l5-3l6-3l6-3l5-3l6-2l5-3l6-3l6-13l5-13l6-10l5-8l6-6l6-6l5-5l6-3l5-3l6-3l6-1l5 0l6 0l5 2l6 4l6-1l5-15l6-10l5-9l6-7l6-5l5-5l6-3l6-2l5-1l6 1l5 3l6 4l6-36l5-27l6-19l5-15l6-11l6-7l5-5l6-1l5 1l6 5l6 9l5 12l6 18l5 29l6 17l6-2l5-1l6 0l5-1l6-1l6-1l5 1l1 0l1 0l2 0l1 0l1 0l0 0l2 0l1 1l1 0l1 0l0 0l2 0l1 1l1 0l2 1l0 0l1 0l1 0l4 2l5 1l6 2l6 1l5 0l6 0l5-1l6-1l6-1l5-1l6-1l5 0l6-1l6-1l5-1l6-1l5-1l6 0l6-1l5-1l6 0l5 0l6-1l6 0l5 0l6 0l5 0l6 0l6 0l5-1l6 0l6 0l5 0l6 0l5-1l6-2l6-1l5-1l6 0l5-1l6 0l6 0l5 0l6 0l5 0l6 1l6 1l5-3l6-2l5-2l6-2l6-1l5 0l6-1l5-1l6 0l6-1l5 0l6 1l6 1l5-1l6-1l5-1l6-2l6-1l5-1l6-3l5-3l6-2l6-2l5-2l6-1l5-1l6 0l4 3l0 110l-841 200z"/>
<path transform="translate(295.9,571.5)scale(.5)" fill="url(#h6)" d="M4,-18l-4-8l6-6l5-5l6-4l5-4l6-5l6-5l5-4l6-5l5-4l6-4l6-4l5-3l6-4l5-3l6-3l6-4l5-3l6-3l6-2l5-3l6-2l5-3l6-3l6-9l5-9l6-7l5-5l6-6l6-4l5-4l6-4l5-2l6-3l6-2l5-2l6-1l5 0l6 0l6-1l5-9l6-7l5-6l6-5l6-4l5-4l6-3l6-3l5-1l6-1l5 1l6 0l6-27l5-17l6-13l5-11l6-7l6-6l5-4l6-2l5 1l6 2l6 4l5 7l6 11l5 17l6 13l6-1l5-2l6-1l5-2l6-1l6-2l5-1l1 0l1 0l2 0l1 0l1 0l0 0l2-1l1 0l1 0l1 0l0 0l2 0l1 0l1 0l2 0l0 0l1 0l1 1l4 0l5 0l6 1l6 0l5 0l6-1l5 0l6-1l6-1l5-1l6 0l5-1l6 0l6-1l5 0l6-1l5-1l6-1l6 0l5 0l6-1l5 0l6-1l6 0l5 0l6 0l5 0l6-1l6 0l5-1l6 0l6 0l5 0l6-1l5-1l6-1l6-1l5 0l6 0l5-1l6 0l6-1l5 0l6 0l5 0l6 0l6 0l5-2l6-2l5-1l6-1l6-1l5-1l6-1l5 0l6-1l6-1l5-1l6 0l6 0l5-1l6-1l5-1l6-2l6-1l5 0l6-3l5-2l6-2l6-2l5-1l6-2l5-1l6 0l4 5l0 106l-841 200z"/>
<path transform="translate(297.8,572.2)scale(.5)" fill="url(#h5)" d="M4,-9l-4-11l6-7l5-6l6-5l5-5l6-5l6-5l5-4l6-4l5-4l6-4l6-4l5-3l6-3l5-4l6-3l6-3l5-3l6-2l6-3l5-2l6-3l5-3l6-3l6-6l5-6l6-5l5-4l6-4l6-4l5-3l6-4l5-3l6-2l6-3l5-2l6-2l5-2l6-2l6-2l5-6l6-5l5-4l6-4l6-4l5-3l6-3l6-3l5-2l6-1l5-1l6-2l6-16l5-10l6-8l5-6l6-5l6-4l5-3l6-2l5-1l6 0l6 1l5 3l6 4l5 8l6 6l6-1l5-2l6-2l5-2l6-2l6-2l5-2l1 0l1 0l2-1l1 0l1 0l0 0l2-1l1 0l1 0l1-1l0 0l2 0l1 0l1 0l2 0l0 0l1 0l1 0l4 0l5 0l6 0l6-1l5 0l6-1l5 0l6-1l6 0l5-1l6-1l5 0l6 0l6-1l5-1l6 0l5-1l6 0l6-1l5 0l6-1l5 0l6-1l6-1l5 0l6 0l5 0l6 0l6-1l5-1l6 0l6 0l5 0l6-1l5-1l6-1l6 0l5-1l6 0l5 0l6-1l6 0l5-1l6 0l5-1l6 0l6-1l5-1l6-1l5-1l6-1l6-1l5-1l6-1l5 0l6-1l6-1l5-1l6-1l6-1l5 0l6-2l5-1l6-1l6-2l5 0l6-2l5-1l6-2l6-2l5-1l6-2l5-1l6-1l4 10l0 98l-841 200z"/>
<path transform="translate(299.6,572.9)scale(.5)" fill="url(#h4)" d="M4,-9l-4-2l6-8l5-8l6-6l5-6l6-5l6-4l5-4l6-4l5-4l6-4l6-3l5-3l6-3l5-3l6-3l6-3l5-3l6-2l6-3l5-2l6-3l5-3l6-3l6-4l5-4l6-4l5-4l6-3l6-3l5-4l6-3l5-2l6-3l6-3l5-2l6-3l5-2l6-3l6-2l5-5l6-4l5-3l6-4l6-3l5-3l6-3l6-3l5-2l6-2l5-1l6-3l6-8l5-6l6-4l5-4l6-4l6-3l5-2l6-2l5-2l6-1l6 0l5 0l6 0l5 2l6 2l6-2l5-2l6-2l5-2l6-3l6-2l5-2l1 0l1 0l2-1l1 0l1-1l0 0l2 0l1-1l1 0l1-1l0 0l2 0l1 0l1 0l2 0l0 0l1 0l1 0l4 0l5-1l6 0l6-1l5 0l6-1l5-1l6 0l6-1l5-1l6 0l5-1l6 0l6-1l5 0l6-1l5-1l6 0l6 0l5-1l6 0l5-1l6-1l6-1l5 0l6 0l5 0l6-1l6-1l5-1l6 0l6 0l5 0l6-1l5-1l6-1l6-1l5 0l6 0l5-1l6 0l6-1l5 0l6-1l5 0l6-1l6-1l5-1l6-1l5-1l6-1l6-1l5-1l6 0l5-1l6-1l6-2l5-1l6-1l6 0l5-1l6-2l5-1l6-1l6-2l5 0l6-2l5-1l6-1l6-2l5-2l6-1l5-1l6-1l4 8l0 92l-841 200z"/>
<path transform="translate(301.4,573.6)scale(.5)" fill="url(#h3)" d="M4,-13l-4 2l6-7l5-7l6-5l5-6l6-4l6-4l5-4l6-4l5-3l6-4l6-3l5-3l6-3l5-3l6-2l6-3l5-3l6-2l6-2l5-3l6-3l5-2l6-4l6-3l5-4l6-3l5-3l6-3l6-3l5-3l6-3l5-3l6-3l6-2l5-3l6-3l5-2l6-3l6-3l5-3l6-4l5-3l6-3l6-4l5-3l6-3l6-2l5-2l6-2l5-2l6-3l6-4l5-4l6-3l5-3l6-2l6-3l5-2l6-2l5-2l6-1l6-2l5-1l6-1l5-1l6-1l6-2l5-2l6-2l5-2l6-2l6-3l5-2l1 0l1 0l2-1l1 0l1-1l0 0l2 0l1-1l1 0l1-1l0 0l2 0l1 0l1 0l2 0l0 0l1 0l1 0l4-1l5 0l6-1l6-1l5 0l6-1l5 0l6-1l6-1l5-1l6 0l5-1l6 0l6-1l5 0l6-1l5-1l6 0l6-1l5 0l6-1l5-1l6-1l6-1l5 0l6 0l5 0l6-1l6-1l5-1l6-1l6 0l5 0l6 0l5-1l6-1l6-1l5-1l6 0l5 0l6-1l6-1l5 0l6-1l5-1l6 0l6-1l5-1l6-1l5-1l6-1l6-1l5-1l6-1l5-1l6-1l6-1l5-1l6-1l6-1l5-1l6-2l5-1l6-1l6-2l5-1l6-1l5 0l6-2l6-1l5-2l6-2l5 0l6-1l4 3l0 90l-841 200z"/>
<path transform="translate(303.2,574.4)scale(.5)" fill="url(#h3)" d="M4,-10l-4-4l6-6l5-5l6-4l5-4l6-5l6-4l5-4l6-3l5-4l6-3l6-4l5-2l6-3l5-3l6-2l6-3l5-2l6-3l6-2l5-3l6-3l5-3l6-3l6-3l5-4l6-3l5-3l6-3l6-3l5-3l6-3l5-2l6-3l6-3l5-2l6-3l5-3l6-2l6-3l5-3l6-4l5-3l6-3l6-3l5-3l6-3l6-3l5-2l6-2l5-2l6-3l6-3l5-3l6-2l5-2l6-3l6-2l5-3l6-2l5-2l6-1l6-2l5-2l6-2l5-2l6-1l6-2l5-2l6-2l5-2l6-3l6-2l5-2l1-1l1 0l2 0l1-1l1 0l0 0l2-1l1 0l1-1l1 0l0 0l2 0l1 0l1-1l2 0l0 0l1 0l1 0l4 0l5-1l6-1l6 0l5-1l6-1l5 0l6-1l6-1l5 0l6-1l5-1l6 0l6-1l5 0l6-1l5-1l6-1l6 0l5-1l6 0l5-1l6-1l6-1l5 0l6 0l5-1l6 0l6-1l5-2l6 0l6 0l5 0l6-1l5-1l6-1l6-1l5-1l6 0l5 0l6 0l6-1l5-1l6-1l5 0l6-1l6-1l5-1l6-1l5-1l6-1l6-1l5-1l6-1l5 0l6-2l6-1l5-1l6-2l6-1l5-1l6-1l5-1l6-2l6-1l5-1l6-1l5-1l6-1l6-2l5-1l6-2l5-1l6 0l4 3l0 88l-841 200z"/>
<path transform="translate(305.0,575.1)scale(.5)" fill="url(#h2)" d="M4,-7l-4-4l6-6l5-5l6-4l5-5l6-4l6-4l5-4l6-4l5-3l6-4l6-3l5-3l6-2l5-3l6-2l6-3l5-3l6-2l6-3l5-2l6-3l5-4l6-3l6-3l5-3l6-3l5-3l6-3l6-2l5-3l6-3l5-3l6-3l6-2l5-3l6-3l5-2l6-3l6-3l5-3l6-3l5-3l6-3l6-3l5-4l6-3l6-3l5-2l6-2l5-2l6-3l6-2l5-2l6-3l5-2l6-2l6-2l5-3l6-2l5-2l6-2l6-2l5-2l6-2l5-2l6-2l6-2l5-2l6-2l5-2l6-3l6-2l5-2l1 0l1-1l2 0l1-1l1 0l0 0l2-1l1 0l1 0l1-1l0 0l2 0l1 0l1 0l2 0l0 0l1-1l1 0l4 0l5-1l6-1l6 0l5-1l6 0l5-1l6-1l6 0l5-1l6-1l5 0l6-1l6-1l5 0l6-1l5-1l6-1l6 0l5-1l6 0l5-1l6-1l6-1l5-1l6 0l5 0l6-1l6-1l5-1l6-1l6 0l5 0l6 0l5-1l6-2l6-1l5 0l6 0l5-1l6 0l6-1l5-1l6-1l5 0l6-1l6 0l5-1l6-2l5-1l6-1l6-1l5-1l6 0l5-1l6-2l6-1l5-2l6-1l6-1l5-1l6-1l5-2l6-1l6-2l5-1l6 0l5-1l6-2l6-1l5-2l6-1l5-1l6-1l4 7l0 83l-841 200z"/>
<path transform="translate(306.8,575.8)scale(.5)" fill="url(#h1)" d="M4,-7l-4-1l6-5l5-5l6-5l5-4l6-5l6-3l5-4l6-4l5-3l6-3l6-3l5-3l6-2l5-3l6-2l6-3l5-3l6-2l6-3l5-3l6-3l5-3l6-3l6-3l5-3l6-3l5-2l6-3l6-3l5-2l6-3l5-3l6-2l6-3l5-3l6-2l5-3l6-2l6-3l5-3l6-2l5-3l6-3l6-4l5-3l6-3l6-3l5-2l6-2l5-2l6-3l6-2l5-2l6-2l5-2l6-2l6-3l5-2l6-2l5-2l6-2l6-2l5-2l6-3l5-2l6-2l6-2l5-2l6-1l5-3l6-2l6-3l5-1l1-1l1 0l2-1l1 0l1 0l0 0l2-1l1 0l1-1l1 0l0 0l2 0l1 0l1 0l2-1l0 0l1 0l1 0l4 0l5-1l6-1l6-1l5 0l6-1l5 0l6-1l6-1l5-1l6 0l5-1l6-1l6 0l5-1l6-1l5-1l6-1l6 0l5-1l6-1l5-1l6-1l6-1l5 0l6-1l5 0l6-1l6-1l5-1l6-1l6 0l5 0l6-1l5-1l6-1l6-1l5-1l6 0l5 0l6-1l6-1l5-1l6-1l5 0l6 0l6-1l5-1l6-1l5-2l6-1l6-1l5 0l6-1l5-1l6-2l6-1l5-2l6-1l6-1l5-1l6-2l5-1l6-2l6-1l5-1l6-1l5-1l6-1l6-2l5-2l6-1l5 0l6-1l4 8l0 76l-841 200z"/>
<path transform="translate(308.6,576.5)scale(.5)" d="M4,-8l-4 0l6-4l5-4l6-4l5-4l6-4l6-3l5-4l6-3l5-3l6-4l6-3l5-2l6-2l5-3l6-2l6-3l5-3l6-3l6-2l5-3l6-3l5-3l6-3l6-3l5-3l6-2l5-2l6-3l6-2l5-3l6-3l5-2l6-3l6-2l5-3l6-2l5-3l6-2l6-3l5-2l6-3l5-3l6-3l6-2l5-3l6-3l6-3l5-2l6-3l5-2l6-2l6-3l5-2l6-2l5-1l6-3l6-2l5-2l6-3l5-2l6-1l6-2l5-3l6-2l5-3l6-2l6-1l5-2l6-1l5-2l6-3l6-2l5-2l1 0l1-1l2 0l1 0l1-1l0 0l2 0l1 0l1-1l1 0l0 0l2 0l1-1l1 0l2 0l0 0l1 0l1 0l4-1l5-1l6-1l6 0l5-1l6 0l5-1l6-1l6-1l5 0l6-1l5-1l6 0l6-1l5-1l6-1l5-1l6-1l6-1l5 0l6-1l5-1l6-2l6-1l5 0l6-1l5 0l6-1l6-1l5-2l6-1l6 0l5 0l6 0l5-1l6-1l6-2l5-1l6 0l5 0l6 0l6-1l5-2l6-1l5 0l6 0l6-1l5-1l6-1l5-2l6-1l6-1l5-1l6-1l5-1l6-1l6-2l5-1l6-2l6-1l5-1l6-1l5-2l6-1l6-2l5-1l6-1l5-1l6-1l6-2l5-1l6-2l5 0l6-1l4 3l0 75l-841 200z"/>
<path transform="translate(310.4,577.2)scale(.5)" d="M4,-6l-4-3l6-3l5-3l6-3l5-3l6-4l6-3l5-4l6-3l5-3l6-3l6-3l5-3l6-2l5-3l6-2l6-3l5-3l6-3l6-3l5-2l6-3l5-3l6-3l6-3l5-3l6-2l5-2l6-2l6-3l5-2l6-3l5-3l6-2l6-2l5-3l6-3l5-2l6-3l6-2l5-3l6-2l5-3l6-2l6-3l5-3l6-3l6-3l5-2l6-2l5-3l6-2l6-2l5-2l6-2l5-2l6-2l6-2l5-3l6-2l5-2l6-2l6-2l5-2l6-3l5-2l6-2l6-2l5-1l6-2l5-2l6-2l6-3l5-1l1 0l1-1l2 0l1 0l1-1l0 0l2 0l1-1l1 0l1 0l0 0l2 0l1-1l1 0l2 0l0 0l1 0l1 0l4-1l5-1l6-1l6-1l5 0l6 0l5-1l6-1l6-1l5-1l6 0l5-1l6-1l6-1l5-1l6-1l5-1l6-1l6 0l5-1l6-1l5-1l6-1l6-1l5-1l6 0l5-1l6-1l6-1l5-2l6-1l6 0l5 0l6 0l5-2l6-1l6-1l5-1l6 0l5 0l6 0l6-2l5-1l6-2l5 0l6 0l6-1l5-1l6-1l5-2l6-1l6-1l5-1l6-1l5-1l6-1l6-2l5-2l6-1l6-1l5-1l6-1l5-2l6-1l6-2l5-1l6-1l5-1l6-1l6-2l5-2l6-2l5 0l6-1l4 2l0 74l-841 200z"/>
<path transform="translate(312.2,578.0)scale(.5)" d="M4,-5l-4-3l6-3l5-2l6-3l5-3l6-4l6-3l5-3l6-3l5-3l6-3l6-3l5-3l6-2l5-3l6-3l6-2l5-4l6-3l6-2l5-3l6-3l5-3l6-3l6-3l5-2l6-2l5-2l6-2l6-3l5-3l6-2l5-3l6-2l6-3l5-2l6-3l5-3l6-2l6-3l5-2l6-3l5-2l6-3l6-3l5-2l6-3l6-3l5-2l6-2l5-3l6-2l6-2l5-2l6-2l5-2l6-2l6-2l5-3l6-2l5-2l6-2l6-2l5-2l6-3l5-2l6-2l6-2l5-1l6-2l5-2l6-2l6-3l5-1l1 0l1-1l2 0l1 0l1-1l0 0l2 0l1 0l1-1l1 0l0 0l2 0l1 0l1 0l2-1l0 0l1 0l1 0l4-1l5-1l6-1l6-1l5 0l6 0l5-1l6-1l6-1l5-1l6-1l5 0l6-1l6-1l5-1l6-1l5-1l6-1l6-1l5 0l6-1l5-1l6-1l6-2l5 0l6-1l5 0l6-1l6-2l5-1l6-2l6 0l5 0l6 0l5-1l6-2l6-1l5-1l6 0l5 0l6 0l6-1l5-2l6-2l5 0l6 0l6 0l5-2l6-1l5-2l6-1l6-1l5-1l6-1l5-1l6-2l6-2l5-1l6-1l6-1l5-1l6-2l5-1l6-2l6-1l5-1l6-1l5-2l6-1l6-2l5-2l6-2l5-1l6-1l4 5l0 71l-841 200z"/>
<path transform="translate(314.0,578.7)scale(.5)" d="M4,-7l-4 0l6-2l5-3l6-3l5-3l6-2l6-3l5-3l6-3l5-3l6-3l6-3l5-2l6-2l5-3l6-3l6-3l5-3l6-3l6-3l5-2l6-3l5-3l6-2l6-3l5-2l6-2l5-2l6-3l6-2l5-3l6-2l5-3l6-2l6-2l5-3l6-3l5-3l6-3l6-2l5-2l6-3l5-2l6-3l6-2l5-3l6-3l6-3l5-2l6-2l5-2l6-2l6-2l5-2l6-2l5-2l6-2l6-2l5-3l6-2l5-2l6-1l6-2l5-2l6-3l5-2l6-2l6-2l5-1l6-2l5-2l6-2l6-3l5-1l1-1l1 0l2 0l1 0l1-1l0 0l2 0l1 0l1-1l1 0l0 0l2 0l1 0l1 0l2 0l0 0l1-1l1 0l4-1l5-1l6-2l6 0l5 0l6-1l5 0l6-1l6-2l5-1l6 0l5-1l6-1l6-1l5-1l6-1l5-1l6-1l6 0l5-1l6-1l5-1l6-1l6-1l5-1l6-1l5 0l6-1l6-2l5-2l6-1l6 0l5 0l6-1l5-1l6-1l6-2l5-1l6 0l5 1l6-1l6-1l5-2l6-2l5 0l6 0l6-1l5-1l6-1l5-2l6-2l6-1l5-1l6-1l5-1l6-2l6-1l5-2l6-1l6-1l5-1l6-1l5-2l6-1l6-2l5-1l6-1l5-1l6-2l6-2l5-2l6-2l5-1l6-1l4 6l0 66l-841 200z"/>
<path transform="translate(315.8,579.4)scale(.5)" d="M4,-9l-4 0l6-2l5-1l6-2l5-2l6-2l6-3l5-2l6-3l5-2l6-3l6-2l5-3l6-2l5-3l6-2l6-3l5-3l6-3l6-3l5-2l6-2l5-3l6-2l6-3l5-2l6-2l5-2l6-2l6-3l5-3l6-2l5-3l6-2l6-2l5-2l6-3l5-3l6-3l6-3l5-2l6-2l5-3l6-2l6-3l5-3l6-2l6-3l5-1l6-2l5-2l6-2l6-2l5-2l6-2l5-2l6-2l6-2l5-2l6-2l5-2l6-2l6-1l5-2l6-3l5-3l6-2l6-1l5-1l6-2l5-2l6-2l6-3l5-2l1 0l1 0l2 0l1 0l1-1l0 0l2 0l1 0l1 0l1-1l0 0l2 0l1 0l1 0l2 0l0 0l1 0l1-1l4-1l5-1l6-2l6 0l5-1l6 0l5-1l6-1l6-1l5-2l6 0l5-1l6-1l6-1l5-1l6-1l5-1l6-1l6 0l5-1l6-1l5-1l6-1l6-1l5-1l6-1l5 0l6-2l6-1l5-2l6-1l6 0l5-1l6 0l5-2l6-1l6-2l5-1l6 0l5 0l6 0l6-1l5-2l6-2l5-1l6 1l6-1l5-1l6-2l5-2l6-2l6-1l5-1l6 0l5-2l6-2l6-1l5-2l6-1l6-1l5-1l6-1l5-2l6-1l6-2l5-1l6-1l5-1l6-2l6-2l5-2l6-2l5-2l6-1l4 4l0 63l-841 200z"/>
<path transform="translate(317.6,580.1)scale(.5)" d="M4,-10l-4 0l6-1l5-2l6-1l5-1l6-2l6-2l5-2l6-2l5-2l6-3l6-2l5-2l6-2l5-3l6-2l6-3l5-3l6-3l6-2l5-2l6-2l5-3l6-2l6-3l5-2l6-2l5-2l6-2l6-3l5-3l6-3l5-2l6-2l6-2l5-3l6-3l5-3l6-3l6-2l5-2l6-3l5-2l6-3l6-3l5-2l6-3l6-2l5-2l6-2l5-1l6-2l6-2l5-2l6-1l5-2l6-2l6-2l5-2l6-2l5-2l6-2l6-1l5-2l6-2l5-3l6-2l6-1l5-1l6-2l5-2l6-3l6-3l5-1l1-1l1 0l2 0l1 0l1 0l0 0l2-1l1 0l1 0l1 0l0 0l2 0l1 0l1-1l2 0l0 0l1 0l1 0l4-1l5-2l6-2l6 0l5-1l6 0l5-1l6-1l6-2l5-1l6-1l5 0l6-1l6-1l5-1l6-1l5-1l6-1l6-1l5 0l6-1l5-1l6-2l6-1l5-1l6 0l5-1l6-1l6-2l5-1l6-2l6 0l5 0l6-1l5-2l6-1l6-3l5 0l6 0l5 0l6 0l6-2l5-2l6-2l5 0l6 0l6-1l5-1l6-2l5-2l6-2l6-1l5-1l6 0l5-2l6-2l6-1l5-2l6-1l6-1l5-1l6-1l5-2l6-1l6-2l5-1l6-1l5-2l6-1l6-2l5-3l6-2l5-1l6-2l4 3l0 61l-841 200z"/>
<path transform="translate(319.5,580.9)scale(.5)" d="M4,-8l-4-3l6-1l5-1l6-1l5-1l6-1l6-1l5-2l6-1l5-2l6-3l6-2l5-2l6-2l5-2l6-3l6-3l5-2l6-3l6-2l5-2l6-2l5-2l6-2l6-3l5-2l6-2l5-2l6-3l6-3l5-3l6-3l5-2l6-2l6-2l5-3l6-3l5-3l6-3l6-3l5-2l6-3l5-2l6-3l6-3l5-3l6-2l6-2l5-2l6-1l5-2l6-2l6-2l5-1l6-2l5-1l6-2l6-2l5-2l6-2l5-2l6-1l6-2l5-2l6-2l5-2l6-2l6-1l5-2l6-1l5-3l6-3l6-3l5-1l1 0l1-1l2 0l1 0l1 0l0 0l2 0l1-1l1 0l1 0l0 0l2 0l1 0l1 0l2-1l0 0l1 0l1 0l4-1l5-2l6-2l6-1l5 0l6 0l5-1l6-2l6-1l5-2l6 0l5-1l6 0l6-1l5-2l6-1l5-1l6 0l6-1l5-1l6-1l5-1l6-1l6-1l5-1l6-1l5 0l6-1l6-2l5-2l6-1l6 0l5-1l6 0l5-2l6-2l6-2l5-1l6 0l5 0l6 0l6-2l5-2l6-2l5-1l6 1l6-1l5-1l6-2l5-3l6-2l6-1l5 0l6-1l5-1l6-2l6-2l5-2l6 0l6-1l5-1l6-2l5-1l6-2l6-2l5-1l6-1l5-2l6-1l6-2l5-3l6-2l5-2l6-2l4 5l0 58l-841 200z"/>
<path transform="translate(321.3,581.6)scale(.5)" d="M4,-5l-4-4l6-2l5-1l6-2l5-1l6-1l6-1l5-1l6-1l5-1l6-1l6-2l5-2l6-2l5-2l6-3l6-2l5-3l6-2l6-2l5-2l6-1l5-3l6-2l6-2l5-3l6-2l5-2l6-3l6-3l5-3l6-3l5-2l6-2l6-3l5-2l6-3l5-3l6-3l6-3l5-2l6-3l5-2l6-3l6-3l5-3l6-2l6-3l5-1l6-2l5-1l6-2l6-1l5-2l6-1l5-2l6-2l6-1l5-3l6-1l5-2l6-1l6-1l5-2l6-2l5-3l6-2l6-1l5-1l6-2l5-2l6-3l6-4l5-1l1 0l1 0l2-1l1 0l1 0l0 0l2 0l1 0l1-1l1 0l0 0l2 0l1 0l1 0l2 0l0 0l1-1l1 0l4-1l5-2l6-3l6 0l5 0l6 0l5-1l6-2l6-2l5-2l6 0l5 0l6-1l6-1l5-1l6-1l5-1l6-1l6 0l5-1l6-1l5-1l6-2l6-1l5-1l6 0l5-1l6-1l6-2l5-1l6-1l6-1l5 0l6-1l5-2l6-2l6-3l5 0l6 0l5 0l6-1l6-2l5-2l6-2l5 0l6 0l6 0l5-2l6-2l5-3l6-3l6 0l5 0l6-1l5-1l6-2l6-2l5-2l6 0l6-1l5-1l6-2l5-2l6-1l6-2l5-1l6-2l5-1l6-2l6-2l5-2l6-3l5-1l6-3l4 7l0 53l-841 200z"/>
<path transform="translate(323.1,582.3)scale(.5)" d="M4,-3l-4-4l6-2l5-2l6-2l5-1l6-1l6-1l5-2l6-1l5-1l6-1l6-1l5-1l6-1l5-2l6-1l6-3l5-2l6-2l6-2l5-1l6-2l5-2l6-2l6-3l5-2l6-2l5-2l6-3l6-3l5-3l6-3l5-3l6-2l6-2l5-2l6-3l5-3l6-3l6-2l5-3l6-2l5-3l6-3l6-3l5-3l6-2l6-2l5-1l6-2l5-1l6-2l6-1l5-2l6-1l5-1l6-2l6-2l5-2l6-2l5-1l6-1l6-1l5-2l6-2l5-3l6-2l6-1l5-1l6-1l5-3l6-3l6-3l5-2l1 0l1 0l2 0l1 0l1 0l0-1l2 0l1 0l1 0l1 0l0 0l2 0l1-1l1 0l2 0l0 0l1 0l1-1l4-1l5-3l6-2l6 0l5 0l6 0l5-1l6-2l6-3l5-2l6 0l5 0l6 0l6-1l5-2l6-1l5-1l6 0l6-1l5-1l6-1l5-1l6-1l6-2l5 0l6-1l5-1l6-1l6-2l5-1l6-1l6-1l5 0l6-1l5-2l6-2l6-3l5-1l6 0l5 0l6 0l6-3l5-2l6-3l5 0l6 1l6-1l5-1l6-3l5-3l6-3l6 1l5 0l6-1l5-1l6-2l6-3l5-1l6-1l6 0l5-1l6-2l5-2l6-2l6-2l5-1l6-1l5-2l6-2l6-2l5-2l6-2l5-2l6-3l4 7l0 48l-841 200z"/>
<path transform="translate(324.9,583.0)scale(.5)" d="M4,-1l-4-3l6-3l5-2l6-2l5-2l6-1l6-2l5-1l6-1l5-1l6-2l6-1l5-1l6-1l5-2l6-1l6-1l5-2l6-1l6-1l5 0l6-2l5-2l6-2l6-3l5-2l6-2l5-3l6-2l6-3l5-3l6-4l5-2l6-2l6-2l5-2l6-3l5-3l6-3l6-2l5-2l6-2l5-3l6-3l6-3l5-3l6-2l6-2l5-1l6-2l5-1l6-2l6-1l5-1l6-2l5-1l6-2l6-2l5-2l6-1l5-2l6-1l6-1l5-2l6-2l5-2l6-2l6-1l5-1l6-1l5-3l6-3l6-3l5-2l1 0l1 0l2 0l1 0l1 0l0 0l2 0l1-1l1 0l1 0l0 0l2 0l1 0l1 0l2-1l0 0l1 0l1-1l4-1l5-3l6-3l6 1l5 0l6 0l5-2l6-2l6-2l5-2l6 0l5 0l6 0l6-1l5-2l6-1l5-2l6 0l6 0l5-1l6-2l5-1l6-1l6-2l5 0l6-1l5-1l6-1l6-2l5-1l6-1l6-1l5 0l6-1l5-2l6-2l6-3l5-1l6 0l5 0l6-1l6-2l5-3l6-3l5 0l6 1l6 0l5-2l6-3l5-3l6-3l6 0l5 0l6 0l5-1l6-3l6-2l5-2l6 0l6-1l5-1l6-2l5-2l6-2l6-1l5-2l6-1l5-1l6-2l6-2l5-2l6-3l5-1l6-3l4 5l0 45l-841 200z"/>
<path transform="translate(326.7,583.8)scale(.5)" d="M4,-2l-4-1l6-2l5-2l6-3l5-2l6-1l6-2l5-1l6-1l5-2l6-1l6-1l5-2l6-1l5-1l6-2l6-1l5-1l6-1l6-1l5-1l6-1l5-1l6-2l6-2l5-1l6-2l5-3l6-2l6-3l5-3l6-3l5-2l6-2l6-2l5-3l6-2l5-3l6-3l6-2l5-2l6-2l5-3l6-3l6-3l5-3l6-2l6-2l5-1l6-1l5-2l6-2l6-1l5-1l6-2l5-1l6-2l6-2l5-2l6-1l5-2l6-1l6-1l5-2l6-2l5-2l6-2l6-1l5-1l6-1l5-3l6-2l6-4l5-1l1 0l1 0l2 0l1-1l1 0l0 0l2 0l1 0l1 0l1 0l0 0l2-1l1 0l1 0l2 0l0-1l1 0l1-1l4-1l5-3l6-3l6 1l5 0l6 0l5-1l6-3l6-2l5-2l6 0l5 0l6 0l6-1l5-2l6-2l5-1l6 0l6-1l5 0l6-2l5-2l6-1l6-1l5-1l6-1l5-1l6-1l6-1l5-2l6-1l6-1l5 0l6-1l5-2l6-2l6-3l5-1l6 0l5 0l6-1l6-2l5-3l6-3l5 0l6 0l6 0l5-1l6-3l5-4l6-3l6 1l5 0l6 0l5-2l6-2l6-3l5-2l6 0l6-1l5-1l6-2l5-2l6-2l6-2l5-1l6-1l5-1l6-2l6-2l5-3l6-1l5-2l6-2l4 5l0 41l-841 200z"/>
<path transform="translate(328.5,584.5)scale(.5)" d="M4,-3l-4 0l6-2l5-1l6-3l5-1l6-2l6-1l5-2l6-2l5-1l6-2l6-1l5-1l6-2l5-1l6-1l6-2l5-1l6-1l6-1l5-1l6-1l5-2l6-2l6-2l5-1l6-1l5-1l6-2l6-2l5-2l6-3l5-2l6-1l6-2l5-3l6-3l5-3l6-3l6-1l5-2l6-1l5-3l6-3l6-3l5-3l6-2l6-2l5-1l6-1l5-2l6-2l6-1l5-2l6-1l5-2l6-2l6-1l5-2l6-2l5-1l6-1l6-2l5-2l6-2l5-2l6-1l6-1l5-1l6-2l5-2l6-3l6-3l5-1l1 0l1 0l2 0l1 0l1 0l0 0l2-1l1 0l1 0l1 0l0 0l2 0l1 0l1-1l2 0l0 0l1-1l1 0l4-2l5-3l6-3l6 0l5 1l6 0l5-1l6-3l6-3l5-2l6 1l5 0l6 0l6-1l5-2l6-2l5-2l6 0l6 0l5-1l6-2l5-1l6-2l6-1l5-1l6-1l5-1l6-1l6-2l5-1l6-1l6-1l5 0l6-1l5-2l6-2l6-3l5-1l6 0l5 0l6-1l6-3l5-3l6-3l5 0l6 1l6 0l5-2l6-3l5-4l6-3l6 1l5 0l6 0l5-2l6-3l6-3l5-2l6 0l6 0l5-1l6-2l5-3l6-2l6-2l5-1l6-1l5-1l6-2l6-2l5-2l6-2l5-2l6-1l4 6l0 36l-841 200z"/>
<path transform="translate(330.3,585.2)scale(.5)" d="M4,-4l-4 0l6-1l5-1l6-2l5-1l6-2l6-1l5-2l6-2l5-1l6-2l6-2l5-1l6-1l5-2l6-1l6-2l5-1l6-1l6-1l5-1l6-2l5-2l6-2l6-2l5-1l6-1l5-2l6-1l6-2l5-1l6-3l5 0l6-1l6-1l5-1l6-3l5-3l6-3l6-1l5-1l6-1l5-3l6-3l6-3l5-2l6-2l6-2l5-1l6-1l5-2l6-2l6-2l5-1l6-2l5-1l6-2l6-2l5-2l6-2l5-1l6-1l6-1l5-2l6-3l5-2l6-1l6-1l5-1l6-1l5-2l6-3l6-3l5-1l1 0l1 0l2 0l1 0l1 0l0 0l2 0l1 0l1-1l1 0l0 0l2 0l1 0l1 0l2-1l0 0l1-1l1 0l4-2l5-3l6-4l6 1l5 1l6 0l5-1l6-3l6-3l5-2l6 1l5 0l6 0l6-1l5-3l6-2l5-2l6 1l6-1l5-1l6-2l5-1l6-2l6-1l5-1l6-1l5-1l6-1l6-2l5-2l6-1l6 0l5-1l6-1l5-1l6-3l6-2l5-1l6 0l5 0l6-2l6-2l5-4l6-3l5 1l6 0l6 0l5-2l6-3l5-4l6-3l6 1l5 0l6 0l5-2l6-3l6-3l5-3l6 1l6-1l5 0l6-3l5-2l6-3l6-1l5-1l6-1l5-1l6-2l6-2l5-3l6-1l5-2l6-1l4 6l0 31l-841 200z"/>
<path transform="translate(332.1,586.0)scale(.5)" d="M4,-4l-4-2l6 0l5-1l6-1l5-1l6-1l6-1l5-2l6-2l5-2l6-2l6-1l5-2l6-1l5-2l6-1l6-2l5-1l6-1l6-2l5-1l6-2l5-2l6-2l6-2l5-2l6-1l5-1l6-1l6-2l5-1l6-2l5-1l6 0l6-1l5-1l6-2l5-3l6-2l6 0l5 0l6 0l5-2l6-3l6-3l5-3l6-1l6-1l5-2l6-1l5-2l6-3l6-1l5-1l6-2l5-1l6-2l6-2l5-2l6-2l5-1l6-1l6-2l5-2l6-2l5-2l6-2l6-1l5 0l6-2l5-2l6-2l6-3l5 0l1 0l1 0l2 0l1 0l1-1l0 0l2 0l1 0l1 0l1 0l0 0l2 0l1 0l1-1l2 0l0 0l1-1l1-1l4-1l5-4l6-3l6 1l5 1l6 0l5-2l6-3l6-3l5-2l6 1l5 1l6 0l6-2l5-3l6-3l5-1l6 0l6 0l5-1l6-2l5-2l6-2l6-1l5 0l6-1l5-1l6-2l6-1l5-2l6-1l6-1l5-1l6-1l5-1l6-2l6-3l5 0l6-1l5 0l6-1l6-3l5-3l6-4l5 1l6 0l6 0l5-2l6-4l5-4l6-3l6 1l5 1l6 0l5-2l6-4l6-4l5-2l6 1l6 0l5-1l6-3l5-2l6-3l6-1l5-1l6 0l5-2l6-2l6-2l5-2l6-2l5-1l6-2l4 6l0 27l-841 200z"/>
<path transform="translate(333.9,586.7)scale(.5)" d="M4,-3l-4-2l6-1l5-1l6-1l5-1l6-1l6-1l5-1l6-2l5-2l6-2l6-2l5-2l6-1l5-2l6-1l6-2l5-1l6-2l6-1l5-2l6-2l5-2l6-2l6-2l5-1l6-2l5-1l6-1l6-1l5-2l6-2l5 0l6 0l6-1l5-1l6-3l5-2l6-2l6 0l5 0l6 0l5-2l6-2l6-2l5-1l6 0l6-1l5-1l6-2l5-2l6-2l6-2l5-1l6-2l5-1l6-2l6-2l5-2l6-1l5-1l6-2l6-1l5-2l6-2l5-3l6-1l6-1l5-1l6-1l5-2l6-3l6-3l5 0l1 0l1 0l2 0l1 0l1 0l0 0l2 0l1 0l1 0l1 0l0 0l2 0l1 0l1-1l2 0l0 0l1-1l1 0l4-2l5-4l6-3l6 1l5 1l6 0l5-2l6-3l6-4l5-2l6 2l5 1l6 0l6-2l5-4l6-3l5-1l6 0l6 0l5-1l6-2l5-2l6-2l6-1l5 0l6-1l5-1l6-2l6-2l5-2l6-1l6 0l5-1l6-1l5-2l6-2l6-2l5-1l6 0l5 0l6-2l6-3l5-3l6-3l5 0l6 1l6 0l5-3l6-4l5-4l6-3l6 1l5 1l6 0l5-3l6-4l6-4l5-2l6 1l6 0l5-1l6-2l5-4l6-3l6-1l5 1l6-1l5-1l6-2l6-3l5-2l6-1l5-1l6-2l4 6l0 23l-841 200z"/>
<path transform="translate(335.7,587.4)scale(.5)" d="M4,-3l-4-2l6-1l5-1l6-1l5-1l6-1l6-1l5-1l6-2l5-2l6-2l6-2l5-2l6-1l5-2l6-1l6-2l5-1l6-2l6-2l5-1l6-2l5-2l6-2l6-2l5-2l6-1l5-1l6-1l6-2l5-1l6-2l5 0l6-1l6 0l5-2l6-2l5-2l6-2l6 0l5 0l6-1l5-1l6-2l6-2l5-1l6 0l6 0l5-2l6-1l5-3l6-3l6-1l5-1l6-1l5-1l6-2l6-2l5-2l6-1l5-1l6-1l6-2l5-2l6-2l5-2l6-1l6-1l5-1l6-2l5-2l6-2l6-2l5 0l1 0l1 0l2 0l1 0l1 0l0 0l2 0l1 0l1 0l1 0l0 0l2 0l1 0l1-1l2 0l0 0l1-1l1-1l4-1l5-4l6-3l6 1l5 1l6 1l5-2l6-4l6-4l5-2l6 2l5 1l6 1l6-3l5-4l6-3l5-1l6 1l6 0l5-1l6-2l5-2l6-3l6 0l5 0l6 0l5-1l6-2l6-2l5-2l6-1l6-1l5-1l6-1l5-1l6-2l6-3l5 0l6 0l5-1l6-1l6-3l5-3l6-3l5 0l6 1l6-1l5-2l6-4l5-5l6-3l6 1l5 1l6 0l5-3l6-5l6-4l5-2l6 1l6 0l5 0l6-3l5-3l6-4l6 0l5 0l6 0l5-1l6-3l6-2l5-3l6-1l5-1l6-1l4 6l0 19l-841 200z"/>
<path transform="translate(337.5,588.1)scale(.5)" d="M4,-4l-4-1l6-1l5-2l6-1l5-1l6-1l6-1l5-1l6-2l5-2l6-2l6-1l5-2l6-1l5-2l6-1l6-2l5-2l6-1l6-2l5-1l6-2l5-2l6-2l6-2l5-2l6-1l5-1l6-1l6-2l5-1l6-2l5 0l6-1l6 0l5-2l6-2l5-2l6-2l6 0l5 0l6-1l5-2l6-2l6-2l5-1l6 0l6 0l5-1l6-2l5-3l6-3l6-1l5-1l6 0l5-2l6-1l6-2l5-2l6-1l5-1l6-1l6-1l5-2l6-2l5-3l6-1l6-1l5-1l6-2l5-2l6-2l6-2l5 0l1 0l1 0l2 0l1 0l1 0l0 0l2 0l1 0l1 0l1 0l0 0l2 0l1 0l1-1l2 0l0-1l1 0l1-1l4-1l5-4l6-2l6 1l5 0l6 1l5-3l6-3l6-4l5-2l6 2l5 1l6 1l6-4l5-4l6-4l5 0l6 1l6 1l5-1l6-2l5-3l6-2l6 0l5 0l6 0l5-1l6-2l6-2l5-2l6-1l6-1l5 0l6-2l5-2l6-2l6-1l5-1l6 0l5 0l6-2l6-2l5-3l6-3l5 0l6 1l6 0l5-2l6-4l5-4l6-2l6 1l5 1l6 0l5-3l6-5l6-5l5-2l6 2l6 0l5 0l6-3l5-4l6-4l6 0l5 1l6 0l5-1l6-3l6-3l5-2l6-1l5-1l6-1l4 5l0 16l-841 200z"/>
<path transform="translate(339.4,588.9)scale(.5)" d="M4,-5l-4 0l6-2l5-2l6-2l5 0l6-1l6-1l5-1l6-2l5-2l6-2l6-1l5-1l6-1l5-2l6-1l6-2l5-2l6-1l6-2l5-1l6-2l5-2l6-2l6-1l5-2l6-1l5-1l6-1l6-2l5-2l6-2l5 0l6-1l6 0l5-2l6-2l5-2l6-2l6 0l5 0l6-1l5-2l6-2l6-3l5-1l6 0l6 0l5-1l6-2l5-3l6-3l6-1l5 0l6-1l5-1l6-2l6-2l5-1l6-1l5-1l6-1l6-1l5-2l6-2l5-2l6-1l6-1l5-1l6-2l5-2l6-2l6-3l5 0l1 0l1 0l2 0l1 0l1 0l0 0l2 0l1 0l1 0l1 0l0 0l2 0l1-1l1 0l2-1l0 0l1 0l1-1l4-1l5-3l6-3l6 1l5 1l6 0l5-3l6-3l6-5l5-1l6 2l5 1l6 0l6-3l5-5l6-4l5 0l6 2l6 1l5-1l6-2l5-3l6-3l6 0l5 1l6 0l5-1l6-2l6-2l5-2l6-1l6 0l5-1l6-2l5-2l6-1l6-2l5-1l6 0l5-1l6-1l6-2l5-3l6-2l5 0l6 0l6 0l5-2l6-4l5-4l6-2l6 1l5 1l6 1l5-4l6-4l6-5l5-1l6 2l6 2l5 0l6-3l5-5l6-4l6 1l5 1l6 0l5-1l6-3l6-4l5-3l6 0l5-1l6-1l4 4l0 14l-841 200z"/>
<path transform="translate(341.2,589.6)scale(.5)" d="M4,-7l-4 0l6-2l5-2l6-1l5-1l6-1l6 0l5-1l6-2l5-2l6-2l6-1l5-1l6-1l5-1l6-2l6-1l5-2l6-1l6-1l5-2l6-2l5-1l6-2l6-1l5-1l6-1l5-2l6-1l6-2l5-2l6-2l5-1l6 0l6-1l5-2l6-2l5-2l6-1l6-1l5 0l6-1l5-3l6-2l6-3l5-1l6 0l6 0l5-1l6-3l5-3l6-3l6 0l5 0l6 0l5-1l6-2l6-2l5-2l6 0l5 0l6-1l6-2l5-1l6-2l5-2l6-1l6-1l5-1l6-2l5-2l6-3l6-2l5 0l1 0l1 0l2-1l1 0l1 0l0 0l2 0l1 0l1 0l1 0l0 0l2 0l1-1l1 0l2-1l0 0l1 0l1-1l4-1l5-3l6-2l6 1l5 0l6 0l5-3l6-3l6-5l5-1l6 2l5 1l6 0l6-4l5-4l6-5l5 1l6 1l6 2l5-1l6-3l5-3l6-3l6 1l5 1l6 1l5-2l6-2l6-2l5-2l6 0l6-1l5-1l6-1l5-2l6-2l6-2l5-1l6 0l5-1l6-1l6-2l5-3l6-2l5 0l6 0l6 0l5-2l6-4l5-4l6-2l6 2l5 1l6 0l5-4l6-4l6-5l5-1l6 3l6 1l5 0l6-3l5-4l6-4l6 1l5 2l6 1l5-2l6-3l6-3l5-3l6 0l5-1l6-1l4 3l0 12l-841 200z"/>
<path transform="translate(343.0,590.3)scale(.5)" d="M4,-8l-4 0l6-2l5-2l6-2l5-1l6 0l6-1l5-1l6-1l5-2l6-2l6-1l5 0l6-1l5-1l6-2l6-1l5-2l6-1l6-1l5-1l6-2l5-1l6-2l6-1l5-1l6-1l5-1l6-2l6-1l5-3l6-1l5-2l6-1l6-1l5-1l6-2l5-3l6-1l6-1l5 0l6-1l5-3l6-3l6-3l5-1l6 0l6 0l5-1l6-3l5-3l6-3l6 0l5 1l6 0l5-1l6-2l6-2l5-2l6 0l5 0l6-1l6-1l5-2l6-2l5-1l6-1l6-1l5-1l6-2l5-2l6-2l6-3l5 0l1-1l1 0l2 0l1 0l1 0l0 0l2 0l1 0l1-1l1 0l0 0l2 0l1 0l1-1l2 0l0-1l1 0l1 0l4-2l5-3l6-1l6 0l5 1l6-1l5-3l6-3l6-5l5-1l6 2l5 1l6-1l6-3l5-5l6-5l5 1l6 3l6 1l5 0l6-3l5-4l6-4l6 2l5 1l6 1l5-2l6-2l6-2l5-3l6 1l6 0l5-1l6-2l5-2l6-2l6-2l5 0l6-1l5-1l6-1l6-2l5-3l6-1l5 0l6 0l6-1l5-2l6-4l5-4l6-1l6 1l5 1l6 0l5-4l6-4l6-6l5 1l6 2l6 2l5 0l6-4l5-4l6-5l6 2l5 2l6 1l5-2l6-3l6-4l5-3l6 1l5 0l6-1l4 1l0 13l-841 200z"/>
<path transform="translate(344.8,591.0)scale(.5)" d="M4,-6l-4-3l6-2l5-2l6-2l5 0l6-1l6-1l5-1l6-1l5-2l6-2l6 0l5-1l6 0l5-1l6-2l6-1l5-2l6-1l6-1l5-1l6-1l5-1l6-2l6-1l5 0l6-1l5-2l6-1l6-2l5-2l6-2l5-1l6-2l6-1l5-2l6-2l5-2l6-2l6 0l5-1l6-1l5-3l6-3l6-3l5-1l6 0l6-1l5-1l6-2l5-3l6-3l6 0l5 1l6 0l5-1l6-2l6-2l5-2l6 0l5 0l6 0l6-2l5-2l6-2l5-1l6 0l6-1l5-1l6-2l5-2l6-2l6-2l5-1l1 0l1-1l2 0l1 0l1 0l0 0l2-1l1 0l1 0l1 0l0 0l2-1l1 0l1 0l2-1l0 0l1 0l1-1l4-1l5-3l6-2l6 1l5 0l6 0l5-3l6-4l6-5l5 0l6 1l5 1l6-1l6-3l5-5l6-5l5 2l6 2l6 2l5-1l6-3l5-4l6-4l6 2l5 2l6 0l5-1l6-3l6-3l5-2l6 1l6 0l5 0l6-2l5-2l6-3l6-1l5-1l6-1l5 0l6-2l6-2l5-2l6-2l5 0l6 0l6-1l5-2l6-3l5-4l6-1l6 1l5 0l6 0l5-4l6-4l6-5l5 1l6 2l6 2l5-1l6-4l5-4l6-5l6 2l5 2l6 1l5-2l6-4l6-4l5-3l6 1l5 0l6 0l4 0l0 14l-841 200z"/>
<path transform="translate(346.6,591.8)scale(.5)" d="M4,-4l-4-4l6-1l5-3l6-2l5-1l6-1l6-1l5-1l6-2l5-1l6-2l6 0l5-1l6 0l5-1l6-2l6-1l5-2l6 0l6-1l5-1l6-2l5-1l6-1l6-1l5 0l6-1l5-2l6-1l6-2l5-2l6-2l5-1l6-2l6-1l5-2l6-3l5-2l6-1l6-1l5-1l6-1l5-3l6-3l6-3l5-1l6 0l6 0l5-2l6-3l5-3l6-3l6 1l5 1l6 1l5-1l6-2l6-3l5-2l6 0l5 0l6 0l6-2l5-2l6-2l5-1l6 0l6 0l5-2l6-1l5-2l6-2l6-2l5-1l1 0l1 0l2-1l1 0l1 0l0 0l2-1l1 0l1 0l1 0l0 0l2-1l1 0l1-1l2 0l0 0l1-1l1 0l4-2l5-3l6-1l6 0l5 0l6 0l5-3l6-4l6-4l5-1l6 1l5 1l6 0l6-4l5-5l6-5l5 2l6 3l6 2l5-1l6-4l5-4l6-4l6 2l5 2l6 0l5-1l6-3l6-3l5-2l6 1l6 0l5 0l6-2l5-2l6-2l6-2l5 0l6-1l5-1l6-2l6-2l5-2l6-1l5-1l6 0l6 0l5-3l6-3l5-4l6 0l6 0l5 1l6-1l5-3l6-5l6-5l5 2l6 2l6 2l5-1l6-5l5-4l6-6l6 3l5 2l6 1l5-2l6-4l6-5l5-3l6 1l5 1l6-1l4 1l0 14l-841 200z"/>
<path transform="translate(348.4,592.5)scale(.5)" d="M4,-2l-4-4l6-2l5-2l6-3l5-1l6-1l6-1l5-1l6-2l5-2l6-2l6 0l5 0l6-1l5-1l6-1l6-2l5-1l6-1l6-1l5-1l6-1l5-1l6-1l6-1l5-1l6-1l5-2l6-1l6-2l5-1l6-2l5-1l6-2l6-2l5-2l6-2l5-3l6-1l6-1l5 0l6-2l5-2l6-3l6-3l5-1l6 0l6-1l5-1l6-3l5-3l6-3l6 1l5 1l6 1l5-1l6-3l6-3l5-2l6 0l5 0l6 0l6-2l5-2l6-2l5-1l6 0l6 0l5-2l6-1l5-1l6-2l6-2l5-1l1 0l1 0l2-1l1 0l1 0l0 0l2 0l1-1l1 0l1 0l0 0l2-1l1 0l1-1l2 0l0-1l1 0l1-1l4-1l5-3l6-1l6 0l5 0l6-1l5-3l6-3l6-5l5 0l6 1l5 1l6-1l6-4l5-4l6-5l5 2l6 3l6 2l5-2l6-4l5-5l6-3l6 2l5 2l6 1l5-2l6-4l6-3l5-2l6 2l6 1l5-1l6-1l5-3l6-2l6-1l5-1l6 0l5-1l6-2l6-2l5-3l6-1l5 0l6-1l6 0l5-3l6-2l5-4l6-1l6 1l5 0l6-1l5-3l6-4l6-5l5 2l6 2l6 1l5-1l6-4l5-6l6-4l6 2l5 2l6 1l5-2l6-5l6-5l5-3l6 2l5 0l6-1l4 1l0 15l-841 200z"/>
<path transform="translate(350.2,593.2)scale(.5)" d="M4,-2l-4-2l6-2l5-3l6-2l5-1l6-1l6-2l5-1l6-2l5-2l6-2l6 0l5 0l6-1l5-1l6-2l6-2l5-1l6-1l6-1l5-1l6-1l5-1l6-1l6-1l5-1l6-1l5-2l6-1l6-1l5-2l6-1l5-2l6-1l6-2l5-2l6-3l5-2l6-1l6-1l5-1l6-1l5-3l6-2l6-4l5 0l6 0l6-1l5-1l6-3l5-3l6-3l6 2l5 0l6 1l5-2l6-3l6-3l5-2l6 0l5 1l6-1l6-2l5-2l6-2l5-1l6 0l6 0l5-1l6-2l5-1l6-2l6-1l5-1l1 0l1-1l2 0l1 0l1-1l0 0l2 0l1 0l1-1l1 0l0 0l2 0l1-1l1 0l2-1l0 0l1 0l1-1l4-1l5-3l6-1l6 0l5-1l6-1l5-2l6-4l6-4l5 0l6 1l5 1l6-1l6-4l5-5l6-4l5 3l6 2l6 1l5-1l6-5l5-5l6-3l6 2l5 2l6 1l5-2l6-4l6-4l5-1l6 2l6 1l5-1l6-1l5-3l6-2l6-1l5 0l6-1l5-1l6-2l6-2l5-2l6-1l5-1l6 0l6-1l5-2l6-3l5-3l6-1l6 1l5 0l6-1l5-3l6-5l6-4l5 2l6 1l6 2l5-2l6-4l5-6l6-4l6 2l5 2l6 1l5-2l6-5l6-6l5-3l6 2l5 0l6 0l4 1l0 15l-841 200z"/>
<path transform="translate(352.0,593.9)scale(.5)" d="M4,-3l-4 0l6-2l5-3l6-2l5-1l6-1l6-1l5-2l6-2l5-2l6-2l6 0l5 0l6-1l5-2l6-2l6-2l5-1l6-1l6-1l5-1l6-1l5-1l6-2l6-1l5-1l6-1l5-1l6-1l6-2l5-1l6-2l5-1l6-1l6-2l5-2l6-2l5-2l6-2l6-1l5-1l6-1l5-2l6-3l6-3l5 0l6 0l6 0l5-2l6-3l5-3l6-2l6 1l5 1l6 0l5-2l6-3l6-4l5-2l6 0l5 1l6 0l6-3l5-2l6-3l5-1l6 1l6 0l5-1l6-2l5-1l6-2l6-1l5-1l1 0l1-1l2 0l1 0l1 0l0-1l2 0l1 0l1-1l1 0l0 0l2 0l1 0l1-1l2 0l0 0l1 0l1-1l4-1l5-3l6-1l6-1l5 0l6-1l5-3l6-3l6-4l5 0l6 1l5 1l6-2l6-3l5-5l6-4l5 3l6 2l6 0l5-1l6-5l5-5l6-3l6 2l5 2l6 1l5-3l6-4l6-4l5-1l6 2l6 2l5-1l6-1l5-3l6-3l6 0l5 0l6 0l5-2l6-1l6-2l5-3l6-1l5 0l6-1l6-1l5-2l6-2l5-4l6 0l6 0l5 0l6-1l5-3l6-4l6-4l5 1l6 2l6 1l5-2l6-5l5-5l6-4l6 2l5 2l6 2l5-4l6-5l6-5l5-3l6 2l5 0l6 0l4 2l0 14l-841 200z"/>
<path transform="translate(353.8,594.6)scale(.5)" d="M4,-4l-4 0l6-2l5-2l6-2l5 0l6-1l6-1l5-1l6-3l5-2l6-1l6-1l5 0l6-1l5-2l6-2l6-3l5-1l6-1l6-1l5-1l6-1l5-2l6-2l6-1l5-1l6-1l5-1l6-2l6-1l5-1l6-1l5-1l6-1l6-2l5-2l6-2l5-2l6-1l6-1l5-1l6-2l5-2l6-2l6-3l5 0l6 0l6 0l5-2l6-2l5-3l6-3l6 1l5 1l6-1l5-2l6-3l6-4l5-3l6 1l5 1l6 0l6-3l5-3l6-3l5 0l6 0l6 0l5 0l6-2l5-2l6-2l6 0l5-1l1 0l1 0l2-1l1 0l1 0l0 0l2-1l1 0l1 0l1-1l0 0l2 0l1 0l1-1l2 0l0 0l1 0l1 0l4-2l5-2l6-1l6-1l5-1l6-1l5-3l6-3l6-3l5 0l6 1l5 0l6-1l6-4l5-4l6-4l5 2l6 2l6 1l5-2l6-5l5-6l6-3l6 3l5 2l6 2l5-4l6-4l6-5l5 0l6 2l6 2l5 0l6-3l5-3l6-2l6 0l5 0l6 0l5-1l6-2l6-2l5-2l6-1l5-1l6 0l6-2l5-2l6-2l5-3l6 0l6 0l5 0l6-2l5-3l6-3l6-4l5 1l6 1l6 1l5-2l6-5l5-5l6-4l6 2l5 3l6 1l5-4l6-5l6-6l5-2l6 2l5 1l6 0l4 2l0 13l-841 200z"/>
<path transform="translate(355.6,595.4)scale(.5)" d="M4,-6l-4 0l6-1l5-1l6-1l5-1l6 0l6-1l5-1l6-2l5-3l6-1l6-1l5-1l6-1l5-2l6-2l6-3l5-1l6-1l6-1l5-1l6-2l5-1l6-2l6-2l5-1l6-1l5-1l6-2l6-1l5-2l6 0l5-1l6-1l6-1l5-2l6-2l5-2l6-1l6-1l5-1l6-1l5-2l6-3l6-2l5 0l6 0l6 0l5-2l6-2l5-3l6-3l6 1l5 0l6-1l5-2l6-4l6-4l5-2l6 1l5 1l6 0l6-3l5-3l6-4l5 0l6 1l6 0l5-1l6-2l5-2l6-2l6 0l5 0l1 0l1 0l2-1l1 0l1 0l0 0l2-1l1 0l1 0l1 0l0 0l2-1l1 0l1 0l2-1l0 0l1 0l1 0l4-1l5-3l6-1l6-1l5 0l6-2l5-2l6-3l6-3l5 0l6 1l5 0l6-2l6-3l5-5l6-3l5 2l6 2l6 0l5-3l6-5l5-5l6-3l6 3l5 2l6 2l5-4l6-5l6-4l5-1l6 3l6 1l5 1l6-3l5-3l6-3l6 0l5 1l6 0l5-1l6-2l6-2l5-2l6-1l5 0l6-1l6-1l5-2l6-3l5-2l6-1l6 0l5 0l6-2l5-2l6-4l6-3l5 1l6 0l6 1l5-3l6-4l5-6l6-3l6 3l5 2l6 1l5-4l6-5l6-6l5-2l6 3l5 1l6 0l4 2l0 12l-841 200z"/>
<path transform="translate(357.4,596.1)scale(.5)" d="M4,-5l-4-2l6-1l5-1l6-1l5 1l6-1l6 0l5-2l6-2l5-2l6-2l6 0l5-1l6-1l5-3l6-2l6-3l5-1l6-1l6-1l5-1l6-2l5-2l6-2l6-1l5-2l6-1l5-1l6-2l6-2l5-1l6-1l5 0l6-1l6-1l5-1l6-2l5-2l6-1l6-1l5-1l6-1l5-2l6-2l6-2l5 0l6-1l6 0l5-1l6-3l5-3l6-2l6 0l5 1l6-1l5-3l6-4l6-5l5-1l6 1l5 1l6 0l6-3l5-4l6-3l5-1l6 1l6 1l5-1l6-3l5-2l6-2l6 0l5 0l1 0l1 0l2 0l1 0l1 0l0 0l2 0l1-1l1 0l1 0l0 0l2-1l1 0l1 0l2-1l0 0l1 0l1 0l4-1l5-3l6 0l6-1l5-1l6-1l5-3l6-3l6-2l5 0l6 0l5 0l6-1l6-4l5-4l6-3l5 1l6 2l6 0l5-3l6-5l5-6l6-2l6 3l5 3l6 1l5-4l6-5l6-5l5 0l6 3l6 2l5 0l6-4l5-3l6-4l6 1l5 2l6 0l5-1l6-2l6-2l5-2l6 0l5-1l6-1l6-1l5-2l6-2l5-3l6 0l6 0l5-1l6-1l5-3l6-4l6-3l5 1l6 0l6 1l5-3l6-5l5-5l6-3l6 3l5 2l6 1l5-4l6-5l6-6l5-1l6 2l5 2l6 0l4 2l0 11l-841 200z"/>
<path transform="translate(359.2,596.8)scale(.5)" d="M4,-4l-4-2l6-1l5-1l6-1l5 0l6 0l6-1l5-1l6-2l5-3l6-1l6-1l5-1l6-1l5-3l6-3l6-2l5-2l6 0l6-1l5-1l6-2l5-2l6-3l6-1l5-1l6-1l5-2l6-2l6-2l5-1l6-1l5 0l6-1l6-1l5-1l6-1l5-2l6-1l6-1l5-1l6-1l5-2l6-2l6-2l5 0l6 0l6-1l5-1l6-3l5-3l6-2l6 0l5 0l6 0l5-4l6-4l6-4l5-2l6 2l5 1l6 0l6-3l5-4l6-4l5 0l6 1l6 1l5-1l6-3l5-3l6-3l6 1l5 0l1 0l1 0l2 1l1 0l1-1l0 0l2 0l1 0l1 0l1 0l0 0l2-1l1 0l1-1l2 0l0 0l1 0l1-1l4-1l5-2l6 0l6-1l5-1l6-1l5-2l6-3l6-2l5-1l6 1l5-1l6-1l6-4l5-4l6-3l5 1l6 2l6 0l5-4l6-5l5-5l6-2l6 3l5 3l6 1l5-4l6-5l6-6l5 1l6 3l6 2l5-1l6-3l5-4l6-4l6 1l5 2l6 1l5-1l6-2l6-3l5-2l6 0l5 0l6-1l6-1l5-2l6-2l5-2l6-1l6 0l5-1l6-1l5-3l6-3l6-3l5 0l6 0l6 1l5-3l6-5l5-5l6-2l6 2l5 2l6 1l5-4l6-5l6-6l5-1l6 3l5 2l6 0l4 2l0 10l-841 200z"/>
<path transform="translate(361.1,597.5)scale(.5)" d="M4,-3l-4-2l6-2l5-1l6-1l5-1l6 0l6 0l5-2l6-2l5-2l6-2l6-1l5-1l6-1l5-3l6-2l6-3l5-1l6 0l6-1l5-1l6-2l5-2l6-3l6-1l5-1l6-1l5-2l6-2l6-2l5-2l6 0l5-1l6-1l6-1l5-1l6-1l5-1l6-1l6-1l5-1l6-1l5-2l6-2l6-2l5 0l6 0l6-1l5-1l6-3l5-3l6-2l6-1l5 0l6 0l5-4l6-4l6-4l5-1l6 2l5 1l6 0l6-3l5-4l6-5l5 1l6 1l6 1l5-1l6-4l5-3l6-3l6 1l5 1l1 0l1 0l2 0l1 0l1 0l0 0l2 0l1 0l1-1l1 0l0 0l2 0l1-1l1 0l2-1l0 0l1 0l1-1l4-1l5-1l6 0l6-1l5-1l6-1l5-2l6-3l6-2l5 0l6 0l5-1l6-1l6-4l5-4l6-2l5 1l6 0l6 1l5-4l6-5l5-5l6-1l6 2l5 3l6 1l5-4l6-6l6-5l5 1l6 3l6 2l5-1l6-4l5-4l6-5l6 2l5 3l6 1l5-1l6-3l6-2l5-3l6 1l5 0l6-1l6-1l5-2l6-2l5-2l6 0l6-1l5-1l6-1l5-3l6-3l6-2l5 0l6 0l6-1l5-2l6-5l5-4l6-2l6 2l5 1l6 1l5-4l6-5l6-6l5 0l6 3l5 2l6-1l4 3l0 9l-841 200z"/>
<path transform="translate(362.9,598.3)scale(.5)" d="M4,-3l-4-1l6-2l5-2l6-1l5-1l6 0l6-1l5-2l6-2l5-2l6-2l6-1l5-1l6-1l5-2l6-3l6-2l5-1l6-1l6 0l5-1l6-2l5-2l6-3l6-1l5-1l6-1l5-1l6-2l6-3l5-1l6-1l5-1l6-1l6-1l5-1l6-1l5-1l6-1l6-1l5-1l6-1l5-2l6-2l6-2l5 0l6-1l6 0l5-2l6-3l5-3l6-2l6 0l5-1l6 0l5-4l6-3l6-5l5 0l6 2l5 1l6 0l6-3l5-5l6-4l5 1l6 1l6 1l5-1l6-4l5-3l6-4l6 1l5 1l1 0l1 0l2 0l1 0l1 0l0 0l2 0l1 0l1 0l1-1l0 0l2 0l1-1l1 0l2-1l0 0l1 0l1 0l4-1l5-2l6 0l6 0l5-1l6-1l5-2l6-2l6-2l5-1l6 0l5-1l6-1l6-4l5-3l6-3l5 1l6 0l6 0l5-3l6-5l5-5l6-1l6 3l5 2l6 1l5-5l6-5l6-6l5 2l6 3l6 2l5-1l6-4l5-5l6-5l6 3l5 2l6 1l5-1l6-3l6-3l5-2l6 1l5 1l6-1l6-1l5-2l6-2l5-2l6 0l6-1l5-1l6-1l5-3l6-3l6-2l5 0l6 0l6-1l5-2l6-4l5-5l6-1l6 2l5 1l6 0l5-4l6-5l6-6l5 1l6 3l5 2l6-1l4 3l0 8l-841 200z"/>
<path transform="translate(364.7,599.0)scale(.5)" d="M4,-4l-4 0l6-2l5-2l6-2l5-1l6 0l6-1l5-2l6-2l5-3l6-1l6-1l5-1l6-1l5-2l6-3l6-2l5 0l6-1l6 0l5-1l6-2l5-2l6-3l6 0l5-1l6-1l5-1l6-3l6-2l5-2l6-1l5-1l6-1l6-1l5-1l6-2l5-1l6 0l6-1l5-1l6-1l5-2l6-2l6-1l5-1l6-1l6-1l5-2l6-3l5-3l6-2l6 0l5 0l6-1l5-3l6-4l6-4l5 0l6 2l5 1l6 0l6-3l5-5l6-5l5 2l6 2l6 1l5-2l6-3l5-4l6-4l6 1l5 1l1 0l1 0l2 0l1 0l1 0l0 0l2 0l1 0l1-1l1 0l0 0l2-1l1 0l1-1l2 0l0 0l1-1l1 0l4-1l5-2l6 1l6 0l5-1l6-1l5-2l6-2l6-2l5 0l6-1l5 0l6-3l6-2l5-4l6-2l5 0l6 0l6 0l5-3l6-4l5-6l6 0l6 3l5 2l6 0l5-4l6-6l6-6l5 2l6 3l6 2l5 0l6-5l5-5l6-6l6 3l5 3l6 1l5-1l6-3l6-4l5-2l6 2l5 0l6 0l6-1l5-2l6-3l5-1l6 0l6-1l5-1l6-1l5-3l6-2l6-2l5-1l6 0l6 0l5-3l6-3l5-5l6-1l6 2l5 1l6 0l5-4l6-5l6-6l5 1l6 2l5 3l6-1l4 2l0 8l-841 200z"/>
<path transform="translate(366.5,599.7)scale(.5)" d="M4,-5l-4-1l6-1l5-2l6-1l5-1l6-1l6-2l5-1l6-3l5-2l6-1l6-1l5-1l6-1l5-2l6-2l6-2l5-1l6 0l6 0l5-1l6-2l5-2l6-3l6 0l5 0l6-1l5-1l6-2l6-3l5-2l6-1l5-1l6-1l6-2l5-1l6-2l5-1l6 0l6-1l5-1l6-1l5-2l6-2l6-1l5-1l6-1l6-1l5-2l6-3l5-4l6-1l6-1l5 0l6-1l5-2l6-4l6-4l5 1l6 1l5 2l6-1l6-3l5-5l6-5l5 2l6 2l6 1l5-1l6-4l5-4l6-4l6 1l5 1l1 0l1 1l2 0l1 0l1 0l0 0l2-1l1 0l1-1l1 0l0 0l2-1l1 0l1-1l2-1l0 0l1 0l1-1l4-1l5-2l6 1l6 1l5-1l6-1l5-2l6-2l6-2l5 0l6-1l5 0l6-2l6-3l5-4l6-2l5 1l6 0l6-1l5-3l6-4l5-4l6-1l6 3l5 1l6 0l5-4l6-6l6-6l5 2l6 3l6 3l5-1l6-5l5-6l6-5l6 3l5 3l6 1l5-1l6-4l6-4l5-3l6 3l5 1l6 0l6-1l5-3l6-2l5-2l6 1l6-1l5-1l6-1l5-2l6-3l6-2l5 0l6 0l6-1l5-2l6-3l5-4l6-1l6 1l5 1l6-1l5-4l6-5l6-6l5 1l6 3l5 2l6-1l4 1l0 9l-841 200z"/>
<path transform="translate(368.3,600.5)scale(.5)" d="M4,-6l-4-1l6-1l5-1l6-2l5-1l6-1l6-1l5-2l6-3l5-2l6-1l6-1l5-1l6-1l5-1l6-2l6-2l5 0l6 0l6-1l5-1l6-2l5-2l6-2l6-1l5 0l6 0l5-1l6-2l6-2l5-2l6-1l5-1l6-2l6-2l5-2l6-1l5-2l6 0l6-1l5-1l6-1l5-2l6-2l6-1l5-1l6-1l6-2l5-2l6-2l5-4l6-1l6-1l5 0l6 0l5-3l6-3l6-4l5 1l6 1l5 1l6 0l6-4l5-5l6-5l5 2l6 2l6 2l5-2l6-4l5-4l6-4l6 2l5 1l1 0l1 0l2 0l1 0l1 0l0 0l2 0l1 0l1-1l1-1l0 0l2-1l1 0l1-1l2-1l0 0l1 0l1-1l4-2l5-1l6 1l6 0l5 0l6-1l5-2l6-2l6-1l5-1l6 0l5-1l6-2l6-3l5-3l6-2l5 0l6 0l6 0l5-3l6-4l5-4l6 0l6 2l5 1l6 0l5-5l6-5l6-7l5 3l6 3l6 2l5-1l6-5l5-6l6-6l6 4l5 3l6 2l5-3l6-4l6-4l5-3l6 3l5 2l6 0l6-2l5-2l6-3l5-1l6 0l6 0l5 0l6-2l5-2l6-3l6-1l5 0l6-1l6-1l5-2l6-2l5-4l6-1l6 1l5 0l6-1l5-3l6-5l6-6l5 1l6 2l5 1l6-1l4 1l0 10l-841 200z"/>
<path transform="translate(370.1,601.2)scale(.5)" d="M4,-5l-4-3l6-1l5-1l6-1l5-1l6-1l6-2l5-2l6-2l5-2l6-2l6 0l5-1l6-1l5-1l6-2l6-2l5 0l6 0l6 0l5-2l6-2l5-2l6-2l6 0l5 0l6 0l5-2l6-1l6-2l5-2l6-1l5-1l6-1l6-2l5-3l6-2l5-1l6-1l6-1l5-1l6-1l5-2l6-1l6-2l5-1l6-1l6-2l5-2l6-2l5-3l6-2l6 0l5 0l6-1l5-2l6-3l6-4l5 1l6 1l5 1l6-1l6-4l5-5l6-5l5 2l6 3l6 1l5-1l6-4l5-5l6-4l6 2l5 2l1 0l1 0l2 0l1 0l1 0l0 0l2 0l1-1l1 0l1-1l0 0l2-1l1-1l1-1l2 0l0-1l1 0l1-1l4-2l5-2l6 2l6 0l5 0l6-1l5-2l6-2l6-2l5 0l6 0l5-1l6-2l6-3l5-2l6-2l5 0l6 0l6 0l5-3l6-3l5-5l6 0l6 2l5 1l6-1l5-4l6-6l6-6l5 2l6 3l6 2l5-1l6-5l5-6l6-6l6 4l5 3l6 2l5-2l6-5l6-5l5-3l6 3l5 2l6 1l6-2l5-3l6-3l5-1l6 1l6 0l5 0l6-2l5-2l6-2l6-2l5 0l6 0l6-1l5-2l6-3l5-3l6-1l6 0l5 1l6-2l5-3l6-5l6-6l5 1l6 2l5 1l6-2l4 1l0 11l-841 200z"/>
<path transform="translate(371.9,601.9)scale(.5)" d="M4,-4l-4-2l6-1l5-2l6-1l5-1l6-2l6-1l5-2l6-3l5-2l6-1l6-1l5 0l6-1l5-1l6-2l6-2l5 0l6 0l6-1l5-1l6-3l5-2l6-2l6 0l5 0l6 0l5-1l6-2l6-2l5-2l6 0l5-1l6-1l6-2l5-2l6-3l5-2l6-1l6-1l5-1l6-1l5-2l6-1l6-2l5-1l6-1l6-1l5-2l6-3l5-2l6-2l6 0l5 0l6-1l5-2l6-2l6-4l5 0l6 1l5 1l6-1l6-4l5-5l6-6l5 3l6 2l6 1l5-1l6-4l5-5l6-4l6 3l5 2l1 0l1 0l2 0l1 0l1 0l0 0l2 0l1 0l1-1l1-1l0 0l2-1l1-1l1-1l2-1l0 0l1-1l1-1l4-2l5-2l6 2l6 0l5 1l6-2l5-3l6-2l6-1l5 0l6 0l5-1l6-2l6-2l5-3l6-1l5 0l6 0l6-1l5-2l6-3l5-4l6 0l6 1l5 0l6-1l5-4l6-5l6-7l5 3l6 3l6 2l5-2l6-5l5-6l6-5l6 4l5 3l6 2l5-3l6-5l6-5l5-3l6 3l5 2l6 1l6-2l5-3l6-3l5-1l6 1l6 0l5 0l6-2l5-2l6-2l6-1l5 0l6-1l6-1l5-2l6-2l5-3l6-1l6 0l5 0l6-2l5-2l6-5l6-6l5 1l6 1l5 1l6-3l4 1l0 12l-841 200z"/>
<path transform="translate(373.7,602.6)scale(.5)" d="M4,-2l-4-3l6-1l5-2l6-1l5-2l6-1l6-2l5-2l6-2l5-2l6-1l6-1l5 0l6-1l5-1l6-2l6-2l5 0l6-1l6 0l5-2l6-2l5-3l6-2l6 0l5 0l6 0l5-1l6-2l6-2l5-2l6 0l5 0l6-2l6-1l5-2l6-3l5-2l6-1l6-1l5-1l6-2l5-1l6-2l6-1l5-1l6-2l6-1l5-2l6-2l5-2l6-1l6-1l5 0l6 0l5-2l6-3l6-3l5 0l6 0l5 0l6-1l6-4l5-5l6-5l5 2l6 2l6 2l5-2l6-4l5-5l6-4l6 3l5 2l1 1l1 0l2 0l1 0l1 0l0-1l2 0l1 0l1-1l1 0l0 0l2-1l1-1l1-1l2-1l0-1l1 0l1-1l4-3l5-2l6 2l6 1l5 0l6-2l5-3l6-2l6-1l5 0l6 0l5-1l6-1l6-3l5-2l6-1l5 0l6-1l6-1l5-1l6-3l5-4l6 0l6 0l5 0l6-1l5-3l6-6l6-6l5 3l6 2l6 2l5-2l6-5l5-6l6-5l6 4l5 3l6 2l5-3l6-5l6-6l5-2l6 3l5 2l6 1l6-2l5-4l6-3l5-1l6 2l6 0l5 0l6-2l5-2l6-3l6 0l5 0l6-1l6-1l5-2l6-1l5-3l6-1l6 0l5-1l6-1l5-3l6-5l6-5l5 0l6 1l5 0l6-2l4 0l0 13l-841 200z"/>
<path transform="translate(375.5,603.4)scale(.5)" d="M4,-2l-4-2l6-1l5-2l6-1l5-2l6-1l6-2l5-1l6-2l5-2l6-1l6-1l5-1l6 0l5-2l6-2l6-2l5-1l6 0l6-1l5-2l6-2l5-3l6-2l6 0l5 0l6 0l5-2l6-2l6-2l5-1l6 0l5 0l6-1l6-2l5-2l6-2l5-2l6-1l6-1l5-2l6-1l5-2l6-2l6-1l5-1l6-1l6-1l5-2l6-2l5-2l6-1l6 0l5 0l6-1l5-2l6-2l6-4l5 0l6 0l5 0l6-2l6-4l5-5l6-5l5 2l6 2l6 2l5-2l6-5l5-5l6-3l6 3l5 3l1 0l1 0l2 0l1 0l1 0l0 0l2-1l1 0l1 0l1-1l0 0l2-1l1-1l1-1l2-1l0 0l1-1l1-1l4-3l5-2l6 2l6 1l5 0l6-2l5-3l6-3l6 0l5 0l6 0l5-1l6-1l6-2l5-2l6-1l5 0l6-1l6-2l5-1l6-2l5-4l6 0l6 0l5-1l6-1l5-3l6-5l6-6l5 2l6 2l6 2l5-2l6-5l5-6l6-5l6 4l5 3l6 2l5-2l6-6l6-6l5-2l6 3l5 3l6 1l6-3l5-4l6-4l5-1l6 2l6 2l5-1l6-2l5-2l6-3l6 0l5 0l6-1l6-1l5-2l6-1l5-3l6-1l6 0l5-1l6-1l5-3l6-4l6-5l5-1l6 1l5 0l6-3l4 0l0 14l-841 200z"/>
<path transform="translate(377.3,604.1)scale(.5)" d="M4,-3l-4 0l6-2l5-2l6-1l5-1l6-1l6-2l5-1l6-2l5-2l6-1l6 0l5-1l6-1l5-2l6-2l6-2l5-1l6-1l6-1l5-2l6-2l5-3l6-2l6 0l5 0l6-1l5-1l6-2l6-3l5-1l6 0l5 0l6 0l6-2l5-2l6-2l5-2l6-1l6-1l5-1l6-2l5-2l6-2l6-1l5-1l6-1l6-1l5-1l6-2l5-2l6-1l6 0l5-1l6-1l5-1l6-3l6-3l5-1l6 0l5 0l6-2l6-4l5-4l6-5l5 2l6 1l6 2l5-2l6-5l5-5l6-3l6 3l5 3l1 0l1 1l2-1l1 0l1 0l0 0l2-1l1 0l1 0l1-1l0 0l2 0l1-1l1-1l2-1l0-1l1-1l1-1l4-3l5-2l6 2l6 2l5 0l6-3l5-3l6-3l6-1l5 1l6 1l5-2l6-1l6-2l5-2l6-1l5 0l6-1l6-2l5-1l6-2l5-3l6-1l6 0l5-1l6-1l5-3l6-4l6-6l5 2l6 2l6 1l5-2l6-5l5-5l6-5l6 3l5 4l6 1l5-2l6-5l6-6l5-3l6 3l5 3l6 1l6-3l5-4l6-4l5-1l6 2l6 2l5-1l6-2l5-3l6-2l6-1l5 1l6-1l6-1l5-2l6-1l5-3l6-1l6-1l5 0l6-2l5-2l6-4l6-5l5 0l6 0l5-1l6-3l4 1l0 14l-841 200z"/>
<path transform="translate(379.1,604.8)scale(.5)" d="M4,-4l-4-1l6-1l5-1l6-1l5-1l6-1l6-1l5-1l6-2l5-1l6-1l6-1l5-1l6-1l5-2l6-2l6-2l5-2l6-1l6-1l5-2l6-2l5-3l6-2l6 0l5-1l6 0l5-2l6-2l6-3l5-1l6 0l5 0l6 0l6-1l5-2l6-2l5-2l6 0l6-1l5-2l6-2l5-2l6-2l6-1l5-1l6 0l6-1l5-2l6-1l5-2l6-1l6 0l5-2l6-1l5-1l6-2l6-4l5-1l6 0l5 0l6-2l6-4l5-4l6-5l5 2l6 2l6 1l5-2l6-5l5-5l6-4l6 4l5 2l1 1l1 0l2 0l1 0l1 0l0 0l2 0l1-1l1 0l1 0l0 0l2-1l1-1l1-1l2-2l0 0l1-1l1-1l4-3l5-2l6 3l6 1l5 0l6-2l5-4l6-4l6 0l5 1l6 1l5-1l6-2l6-2l5-2l6-1l5 0l6-1l6-2l5-1l6-2l5-3l6-1l6 0l5 0l6-2l5-3l6-4l6-5l5 2l6 1l6 1l5-1l6-5l5-6l6-5l6 4l5 3l6 1l5-2l6-5l6-6l5-3l6 4l5 3l6 0l6-2l5-5l6-5l5-1l6 3l6 2l5-1l6-2l5-3l6-3l6 0l5 0l6 0l6-1l5-2l6-2l5-2l6-1l6-1l5-1l6-1l5-3l6-3l6-5l5 0l6-1l5-1l6-3l4 2l0 14l-841 200z"/>
<path transform="translate(380.9,605.5)scale(.5)" d="M4,-6l-4 0l6-1l5-1l6-1l5 0l6-1l6-1l5-1l6-1l5-1l6-1l6-1l5-2l6-1l5-1l6-3l6-2l5-2l6-1l6-1l5-2l6-2l5-3l6-2l6 0l5-1l6 0l5-2l6-3l6-3l5-2l6 1l5 0l6 0l6-1l5-2l6-2l5-1l6 0l6-1l5-1l6-2l5-3l6-2l6-1l5-1l6 0l6-1l5-2l6-1l5-1l6-1l6-1l5-1l6-2l5-1l6-2l6-4l5-1l6-1l5 0l6-2l6-3l5-4l6-4l5 1l6 2l6 1l5-2l6-5l5-5l6-4l6 3l5 3l1 0l1 1l2 0l1 0l1 0l0 0l2 0l1-1l1 0l1-1l0 0l2-1l1-1l1-1l2-1l0 0l1-1l1-1l4-3l5-2l6 3l6 2l5-1l6-2l5-4l6-4l6-1l5 2l6 1l5-1l6-2l6-2l5-3l6 0l5 0l6-1l6-1l5-2l6-2l5-3l6-1l6 0l5-1l6-1l5-3l6-4l6-4l5 1l6 1l6 2l5-2l6-5l5-6l6-4l6 3l5 3l6 1l5-1l6-6l6-6l5-3l6 4l5 3l6 0l6-2l5-5l6-5l5-1l6 3l6 1l5 0l6-2l5-4l6-3l6 0l5 1l6 0l6-1l5-2l6-2l5-3l6-1l6 0l5-1l6-2l5-2l6-3l6-4l5-1l6 0l5-1l6-3l4 2l0 13l-841 200z"/>
<path transform="translate(382.8,606.2)scale(.5)" d="M4,-5l-4-2l6-1l5-1l6 0l5-1l6 0l6-1l5-1l6-1l5-1l6-1l6-1l5-2l6-1l5-1l6-3l6-3l5-1l6-1l6-2l5-1l6-2l5-3l6-2l6 0l5-1l6-1l5-2l6-2l6-3l5-2l6 0l5 0l6 0l6-2l5-2l6-2l5 0l6 0l6 0l5-1l6-2l5-3l6-2l6-1l5-1l6 0l6-1l5-1l6-2l5-1l6-1l6-1l5-1l6-2l5-1l6-3l6-3l5-1l6-1l5-1l6-1l6-3l5-3l6-4l5 1l6 1l6 1l5-2l6-5l5-5l6-4l6 3l5 2l1 1l1 0l2 1l1 0l1 0l0 0l2 0l1-1l1 0l1-1l0 0l2-1l1-1l1-2l2-1l0 0l1-1l1-1l4-3l5-2l6 3l6 3l5-1l6-2l5-4l6-5l6 0l5 2l6 1l5-1l6-2l6-3l5-2l6 0l5 0l6-1l6-1l5-2l6-2l5-3l6-1l6 0l5-1l6-1l5-3l6-3l6-4l5 1l6 1l6 1l5-2l6-4l5-6l6-5l6 3l5 3l6 1l5-2l6-5l6-6l5-3l6 4l5 3l6 0l6-2l5-5l6-6l5-1l6 3l6 2l5 0l6-2l5-4l6-4l6 0l5 2l6 0l6-1l5-2l6-3l5-2l6-1l6 0l5-1l6-2l5-2l6-3l6-3l5-1l6-1l5-1l6-2l4 2l0 12l-841 200z"/>
<path transform="translate(384.6,607.0)scale(.5)" d="M4,-4l-4-2l6-1l5-1l6-1l5 0l6-1l6-1l5-1l6-1l5-1l6-1l6-1l5-2l6-1l5-2l6-3l6-2l5-2l6-1l6-1l5-2l6-2l5-2l6-2l6 0l5-1l6-1l5-2l6-2l6-4l5-2l6 0l5 0l6 0l6-2l5-2l6-2l5-1l6 1l6 0l5 0l6-3l5-2l6-2l6-1l5-1l6 0l6-1l5-2l6-1l5-2l6-1l6 0l5-1l6-2l5-2l6-3l6-3l5-1l6-1l5 0l6-1l6-3l5-3l6-4l5 1l6 1l6 1l5-2l6-5l5-5l6-4l6 2l5 3l1 0l1 1l2 0l1 0l1 1l0 0l2 0l1-1l1-1l1-1l0 0l2-1l1-1l1-1l2-1l0-1l1-1l1-1l4-3l5-2l6 4l6 2l5 0l6-2l5-5l6-4l6-1l5 2l6 2l5-1l6-2l6-3l5-3l6 0l5 0l6 0l6-1l5-2l6-3l5-2l6-1l6-1l5 0l6-1l5-3l6-3l6-3l5 0l6 1l6 1l5-2l6-4l5-5l6-5l6 3l5 2l6 2l5-3l6-5l6-6l5-4l6 5l5 3l6 0l6-2l5-6l6-6l5-1l6 4l6 2l5 0l6-3l5-4l6-4l6 0l5 2l6 1l6-1l5-3l6-2l5-3l6 0l6-1l5 0l6-2l5-2l6-2l6-3l5-1l6-1l5-1l6-2l4 2l0 11l-841 200z"/>
<path transform="translate(386.4,607.7)scale(.5)" d="M4,-3l-4-2l6-1l5-2l6-1l5 0l6-1l6-1l5-1l6-2l5-1l6-1l6-1l5-2l6-1l5-3l6-2l6-2l5-2l6-1l6-1l5-1l6-2l5-2l6-2l6 0l5-1l6 0l5-2l6-3l6-3l5-3l6 0l5 0l6-1l6-2l5-2l6-2l5-1l6 1l6 0l5 0l6-2l5-2l6-3l6-1l5 0l6 0l6-1l5-2l6-2l5-1l6-1l6-1l5-1l6-2l5-2l6-3l6-2l5-1l6-1l5 0l6-1l6-3l5-3l6-3l5 1l6 0l6 1l5-2l6-4l5-5l6-5l6 2l5 3l1 0l1 0l2 1l1 0l1 0l0 0l2 0l1-1l1-1l1-1l0 0l2-1l1-1l1-1l2-1l0-1l1 0l1-2l4-3l5-2l6 4l6 3l5 0l6-2l5-5l6-5l6-1l5 3l6 1l5 0l6-2l6-4l5-3l6 0l5 1l6 0l6-2l5-2l6-2l5-3l6 0l6-1l5 0l6-1l5-2l6-3l6-3l5 0l6 0l6 1l5-2l6-4l5-4l6-5l6 2l5 2l6 2l5-3l6-5l6-6l5-4l6 4l5 4l6 0l6-2l5-6l6-6l5-2l6 4l6 3l5 0l6-3l5-4l6-5l6 0l5 3l6 1l6-1l5-3l6-3l5-3l6 0l6 0l5 0l6-2l5-1l6-3l6-3l5-1l6 0l5-1l6-2l4 2l0 10l-841 200z"/>
<path transform="translate(388.2,608.4)scale(.5)" d="M4,-3l-4-1l6-2l5-1l6-1l5-1l6-1l6-1l5-2l6-1l5-2l6-1l6-1l5-2l6-2l5-2l6-2l6-2l5-1l6-1l6-1l5-1l6-2l5-1l6-3l6 0l5 0l6-1l5-2l6-3l6-3l5-2l6-1l5 0l6-1l6-2l5-3l6-2l5-1l6 0l6 1l5 0l6-2l5-2l6-2l6-1l5 0l6 0l6-1l5-2l6-2l5-2l6-1l6-1l5-1l6-2l5-2l6-2l6-3l5-1l6 0l5 0l6-1l6-2l5-3l6-3l5 0l6 1l6 0l5-1l6-5l5-5l6-4l6 2l5 2l1 0l1 0l2 1l1 0l1 0l0 0l2 0l1-1l1-1l1-1l0 0l2-1l1-1l1-1l2-2l0 0l1-1l1-1l4-4l5-2l6 4l6 3l5 1l6-3l5-5l6-5l6-1l5 3l6 2l5 0l6-3l6-3l5-4l6 0l5 1l6 1l6-2l5-2l6-2l5-3l6 0l6 0l5-1l6-1l5-2l6-2l6-3l5 0l6 0l6 0l5-2l6-3l5-5l6-4l6 2l5 1l6 1l5-2l6-5l6-6l5-4l6 4l5 3l6 2l6-3l5-6l6-7l5-1l6 4l6 3l5 0l6-3l5-5l6-5l6 1l5 2l6 2l6-1l5-3l6-3l5-3l6 0l6 1l5-1l6-1l5-2l6-2l6-3l5-1l6 0l5-2l6-2l4 3l0 9l-841 200z"/>
<path transform="translate(390.0,609.1)scale(.5)" d="M4,-5l-4 0l6-1l5-2l6-1l5-1l6-1l6-1l5-1l6-2l5-2l6-1l6-2l5-1l6-2l5-2l6-2l6-2l5-1l6 0l6-1l5-1l6-1l5-2l6-2l6-1l5 0l6-1l5-1l6-3l6-3l5-2l6-1l5 0l6-1l6-3l5-3l6-3l5-1l6 1l6 0l5 0l6-1l5-2l6-3l6-1l5 1l6-1l6 0l5-2l6-3l5-2l6-1l6-1l5-1l6-1l5-3l6-2l6-2l5 0l6 0l5-1l6 0l6-2l5-3l6-3l5 0l6 0l6 1l5-2l6-4l5-5l6-4l6 1l5 2l1 0l1 0l2 1l1 0l1 0l0 0l2 0l1-1l1-1l1-1l0 0l2-1l1-1l1-1l2-2l0 0l1-1l1-1l4-4l5-3l6 4l6 3l5 2l6-3l5-5l6-6l6-1l5 4l6 2l5 0l6-3l6-4l5-4l6 1l5 1l6 0l6-1l5-2l6-2l5-3l6 0l6 0l5 0l6-1l5-2l6-2l6-3l5-1l6 0l6 0l5-1l6-3l5-5l6-4l6 1l5 2l6 0l5-2l6-5l6-6l5-4l6 4l5 3l6 1l6-3l5-6l6-6l5-2l6 4l6 3l5 1l6-3l5-5l6-5l6 0l5 3l6 1l6 0l5-3l6-3l5-3l6 0l6 1l5 0l6-2l5-1l6-3l6-2l5-1l6-1l5-1l6-2l4 3l0 8l-841 200z"/>
<path transform="translate(391.8,609.9)scale(.5)" d="M4,-6l-4 0l6-1l5-2l6 0l5-1l6-1l6-1l5-2l6-2l5-2l6-1l6-2l5-1l6-2l5-2l6-1l6-2l5-1l6 0l6-1l5 0l6-2l5-2l6-2l6 0l5-1l6-1l5-1l6-2l6-3l5-2l6-1l5 0l6-1l6-3l5-3l6-3l5-2l6 0l6 1l5 0l6-2l5-2l6-2l6-1l5 0l6 0l6 0l5-3l6-2l5-2l6-2l6 0l5-1l6-1l5-2l6-2l6-2l5 0l6 0l5-1l6-1l6-1l5-3l6-3l5 0l6 0l6 0l5-2l6-3l5-5l6-4l6 1l5 2l1 0l1 0l2 0l1 0l1 1l0 0l2-1l1 0l1-1l1-1l0 0l2-1l1-2l1-1l2-1l0-1l1-1l1-1l4-4l5-3l6 3l6 3l5 2l6-3l5-5l6-6l6-1l5 4l6 3l5 0l6-3l6-4l5-4l6 0l5 2l6 0l6 0l5-3l6-2l5-3l6 0l6 1l5-1l6-1l5-1l6-3l6-2l5-1l6 0l6-1l5-1l6-3l5-4l6-4l6 1l5 1l6 1l5-3l6-4l6-6l5-5l6 3l5 3l6 2l6-3l5-6l6-6l5-3l6 4l6 4l5 1l6-3l5-5l6-6l6 0l5 3l6 2l6 0l5-3l6-3l5-4l6 1l6 1l5 0l6-1l5-2l6-2l6-3l5 0l6-1l5-1l6-1l4 2l0 7l-841 200z"/>
<path transform="translate(393.6,610.6)scale(.5)" d="M4,-7l-4-1l6 0l5-2l6 0l5 0l6-1l6-1l5-2l6-2l5-2l6-2l6-1l5-2l6-1l5-2l6-1l6-1l5-1l6 0l6-1l5-1l6-1l5-2l6-2l6-1l5-1l6 0l5-2l6-2l6-2l5-3l6 0l5 0l6-1l6-2l5-4l6-3l5-3l6 1l6 0l5 0l6-2l5-2l6-3l6-1l5 1l6 0l6 0l5-3l6-2l5-3l6-1l6 0l5-1l6-1l5-2l6-1l6-2l5 0l6 0l5-1l6-1l6-1l5-3l6-3l5 0l6-1l6 0l5-1l6-4l5-4l6-4l6 1l5 1l1 0l1 1l2 0l1 0l1 0l0 0l2 0l1-1l1-1l1-1l0 0l2-1l1-1l1-1l2-1l0-1l1-1l1-1l4-4l5-4l6 3l6 3l5 2l6-3l5-5l6-6l6-2l5 4l6 3l5 1l6-3l6-4l5-5l6 0l5 2l6 2l6-1l5-2l6-3l5-3l6 1l6 0l5-1l6-1l5-1l6-2l6-3l5 0l6-1l6-1l5-1l6-2l5-4l6-4l6 1l5 0l6 1l5-2l6-5l6-5l5-5l6 3l5 2l6 2l6-3l5-6l6-6l5-3l6 4l6 4l5 1l6-3l5-6l6-6l6 0l5 4l6 2l6 0l5-3l6-3l5-4l6 0l6 2l5 0l6-1l5-1l6-3l6-2l5-1l6 0l5-1l6-1l4 1l0 7l-841 200z"/>
<path transform="translate(395.4,611.3)scale(.5)" d="M4,-5l-4-3l6-1l5-1l6-1l5 0l6 0l6-2l5-1l6-2l5-2l6-2l6-1l5-1l6-2l5-1l6-1l6-1l5-1l6 0l6-1l5-1l6-1l5-2l6-3l6-1l5 0l6-1l5-2l6-1l6-3l5-2l6 0l5 0l6-1l6-2l5-3l6-4l5-2l6-1l6 0l5 0l6-2l5-2l6-3l6-1l5 1l6 0l6 0l5-3l6-2l5-3l6-1l6 0l5 0l6-1l5-2l6-1l6-2l5 0l6 0l5-1l6-1l6-2l5-2l6-3l5-1l6 0l6-1l5-1l6-3l5-4l6-4l6 1l5 1l1 0l1 0l2 1l1 0l1 0l0 0l2 0l1-1l1-1l1-1l0 0l2-1l1-1l1-1l2-1l0-1l1-1l1-1l4-4l5-4l6 3l6 2l5 2l6-3l5-5l6-6l6-2l5 4l6 3l5 1l6-3l6-5l5-5l6 0l5 3l6 2l6-1l5-2l6-3l5-3l6 1l6 1l5-2l6-1l5-1l6-2l6-2l5-1l6 0l6-2l5-1l6-2l5-3l6-4l6 0l5 1l6 0l5-2l6-4l6-5l5-5l6 2l5 2l6 2l6-3l5-5l6-7l5-3l6 4l6 4l5 1l6-3l5-6l6-6l6-1l5 4l6 3l6 0l5-2l6-5l5-4l6 1l6 2l5 0l6-1l5-1l6-3l6-3l5 0l6 0l5-1l6-2l4 1l0 8l-841 200z"/>
<path transform="translate(397.2,612.0)scale(.5)" d="M4,-3l-4-4l6-1l5-2l6 0l5-1l6 0l6-1l5-2l6-2l5-2l6-1l6-2l5-1l6-1l5-1l6-1l6-1l5 0l6-1l6-1l5-1l6-2l5-2l6-2l6-1l5-1l6-1l5-1l6-2l6-2l5-2l6 0l5 0l6-1l6-1l5-3l6-4l5-3l6 0l6-1l5 0l6-2l5-3l6-3l6-2l5 1l6 1l6 0l5-2l6-3l5-3l6-1l6 0l5 0l6 0l5-2l6-1l6-2l5 0l6-1l5-1l6-1l6-2l5-1l6-3l5-1l6-1l6 0l5-2l6-3l5-3l6-4l6 1l5 1l1 0l1 0l2 0l1 0l1 0l0 0l2 0l1-1l1 0l1-1l0 0l2-1l1-1l1-1l2-1l0 0l1-1l1-1l4-4l5-5l6 2l6 3l5 2l6-3l5-6l6-6l6-3l5 4l6 4l5 2l6-4l6-5l5-5l6-1l5 3l6 3l6-1l5-2l6-3l5-3l6 0l6 1l5-1l6-1l5-1l6-2l6-2l5-1l6 0l6-2l5-1l6-2l5-2l6-4l6 0l5 0l6 0l5-1l6-4l6-5l5-5l6 2l5 2l6 1l6-2l5-6l6-6l5-4l6 4l6 4l5 2l6-4l5-5l6-7l6-2l5 5l6 3l6 0l5-2l6-5l5-5l6 1l6 2l5 1l6-1l5-1l6-3l6-3l5-1l6 0l5 0l6-2l4 0l0 9l-841 200z"/>
<path transform="translate(399.0,612.8)scale(.5)" d="M4,-1l-4-4l6-2l5-2l6-1l5 0l6-1l6-1l5-2l6-2l5-2l6-1l6-1l5 0l6-1l5-1l6-1l6-1l5-1l6-1l6-1l5-1l6-2l5-2l6-3l6-1l5-1l6-1l5-1l6-2l6-2l5-2l6 0l5 0l6-1l6-1l5-2l6-4l5-3l6 0l6 0l5-1l6-2l5-3l6-4l6-2l5 1l6 1l6 0l5-2l6-3l5-3l6-1l6 1l5 0l6 0l5-2l6-1l6-2l5-1l6-1l5-1l6-1l6-2l5-1l6-3l5-1l6-1l6 0l5-2l6-2l5-3l6-4l6 0l5 1l1 0l1 0l2 1l1-1l1 0l0 0l2 0l1-1l1 0l1 0l0 0l2-1l1-1l1-1l2-1l0 0l1-1l1-1l4-3l5-6l6 3l6 2l5 1l6-2l5-6l6-6l6-4l5 4l6 4l5 2l6-3l6-6l5-5l6-2l5 4l6 3l6-1l5-1l6-4l5-4l6 0l6 2l5 0l6-2l5-1l6-2l6-2l5-1l6 0l6-2l5-1l6-1l5-3l6-3l6 0l5 0l6-1l5-1l6-3l6-5l5-5l6 2l5 1l6 1l6-2l5-5l6-6l5-4l6 3l6 4l5 2l6-3l5-6l6-7l6-2l5 4l6 4l6 0l5-2l6-5l5-5l6-1l6 3l5 2l6-1l5-2l6-3l6-3l5-1l6 1l5-1l6-2l4 0l0 10l-841 200z"/>
<path transform="translate(400.8,613.5)scale(.5)" d="M4,-1l-4-2l6-2l5-3l6-2l5 0l6-1l6 0l5-2l6-2l5-2l6-1l6-1l5 0l6-1l5-1l6-1l6-1l5-1l6-1l6-2l5-1l6-2l5-2l6-2l6-2l5-1l6-1l5-1l6-2l6-2l5-2l6 0l5 0l6-1l6-1l5-2l6-3l5-3l6 0l6 0l5-1l6-2l5-3l6-4l6-2l5 0l6 1l6 0l5-2l6-3l5-3l6-1l6 1l5 0l6 0l5-1l6-2l6-2l5-1l6-1l5-1l6-1l6-2l5-1l6-3l5-1l6-1l6 0l5-2l6-2l5-3l6-3l6 0l5 0l1 0l1 1l2 0l1-1l1 0l0 0l2 0l1 0l1-1l1 0l0 0l2 0l1-1l1-1l2-1l0 0l1-1l1-1l4-3l5-5l6 2l6 2l5 1l6-2l5-6l6-6l6-4l5 4l6 3l5 2l6-3l6-6l5-6l6-1l5 3l6 3l6 1l5-2l6-4l5-5l6 0l6 2l5 1l6-2l5-1l6-2l6-3l5 0l6 0l6-2l5-1l6-1l5-3l6-2l6-1l5 0l6-1l5-1l6-3l6-4l5-4l6 1l5 1l6 1l6-2l5-5l6-6l5-5l6 4l6 3l5 2l6-3l5-6l6-7l6-3l5 5l6 3l6 1l5-2l6-6l5-5l6-1l6 3l5 3l6-1l5-2l6-4l6-4l5 0l6 1l5-1l6-2l4 0l0 11l-841 200z"/>
<path transform="translate(402.6,614.2)scale(.5)" d="M4,-2l-4 0l6-3l5-3l6-2l5 0l6 0l6-1l5-2l6-2l5-2l6-1l6 0l5 0l6-1l5-1l6-1l6-2l5-1l6-1l6-2l5-1l6-2l5-2l6-2l6-2l5-1l6-1l5-1l6-2l6-2l5-2l6-1l5 0l6 0l6-1l5-2l6-2l5-3l6 0l6 0l5-1l6-2l5-3l6-4l6-3l5 1l6 0l6 0l5-2l6-3l5-3l6-2l6 2l5 1l6-1l5-1l6-2l6-3l5-1l6 0l5-1l6-1l6-2l5-2l6-2l5-1l6-1l6 0l5-2l6-2l5-2l6-3l6-1l5 1l1 0l1 0l2 0l1 0l1-1l0 0l2 0l1 0l1-1l1 0l0 0l2 0l1-1l1 0l2-1l0 0l1-1l1-1l4-3l5-5l6 2l6 2l5 0l6-1l5-6l6-6l6-5l5 4l6 3l5 2l6-3l6-5l5-7l6-2l5 4l6 3l6 1l5-3l6-4l5-5l6 0l6 2l5 2l6-2l5-1l6-3l6-3l5 0l6 0l6-1l5-1l6-1l5-2l6-3l6-1l5 0l6-1l5-1l6-2l6-3l5-5l6 1l5 1l6 0l6-1l5-5l6-5l5-5l6 3l6 2l5 2l6-2l5-6l6-7l6-4l5 4l6 4l6 2l5-3l6-6l5-6l6-1l6 3l5 3l6 0l5-3l6-4l6-4l5-1l6 1l5 0l6-2l4 0l0 12l-841 200z"/>
<path transform="translate(404.5,615.0)scale(.5)" d="M4,-3l-4 0l6-3l5-2l6-2l5 0l6-1l6 0l5-2l6-2l5-1l6-1l6 0l5-1l6 0l5-2l6-1l6-1l5-2l6-1l6-2l5-2l6-2l5-2l6-2l6-1l5-1l6-1l5-2l6-1l6-2l5-2l6-1l5-1l6 0l6-1l5-1l6-3l5-2l6 0l6 0l5-1l6-1l5-4l6-3l6-4l5 1l6 0l6 1l5-3l6-3l5-3l6-2l6 1l5 2l6-1l5-1l6-3l6-3l5-1l6 0l5 0l6-1l6-3l5-2l6-2l5-1l6 0l6-1l5-1l6-2l5-2l6-3l6 0l5 0l1 0l1 0l2 0l1 0l1-1l0 0l2 0l1 0l1-1l1 0l0 0l2 0l1-1l1 0l2-1l0 0l1 0l1-1l4-3l5-4l6 1l6 1l5 0l6-1l5-4l6-7l6-5l5 3l6 3l5 2l6-2l6-6l5-7l6-3l5 4l6 4l6 1l5-3l6-5l5-5l6-1l6 3l5 2l6-1l5-2l6-3l6-3l5 0l6 1l6 0l5-2l6-1l5-2l6-3l6 0l5-1l6-1l5-1l6-1l6-4l5-3l6 0l5 0l6 0l6-1l5-3l6-6l5-5l6 2l6 3l5 1l6-2l5-6l6-6l6-5l5 4l6 4l6 2l5-3l6-6l5-7l6-2l6 4l5 3l6 0l5-3l6-5l6-4l5-1l6 1l5 0l6-2l4 0l0 14l-841 200z"/>
<path transform="translate(406.3,615.7)scale(.5)" d="M4,-5l-4 0l6-1l5-3l6-1l5-1l6 0l6 0l5-2l6-2l5-1l6-1l6 0l5-1l6 0l5-2l6-1l6-2l5-2l6-2l6-1l5-2l6-2l5-2l6-1l6-1l5-1l6-1l5-2l6-1l6-2l5-2l6-2l5 0l6-1l6-1l5-1l6-2l5-3l6 1l6 0l5-1l6-1l5-3l6-4l6-3l5 0l6 1l6 0l5-2l6-4l5-3l6-3l6 2l5 1l6 0l5-2l6-3l6-3l5-2l6 1l5-1l6 0l6-3l5-2l6-2l5-1l6 0l6 0l5-1l6-1l5-3l6-2l6-1l5 0l1 0l1 0l2 0l1 0l1 0l0-1l2 0l1 0l1-1l1 0l0 0l2 0l1 0l1-1l2-1l0 0l1 0l1-1l4-2l5-4l6 0l6 2l5-1l6-1l5-3l6-6l6-6l5 3l6 2l5 2l6-2l6-6l5-6l6-5l5 5l6 3l6 2l5-3l6-5l5-6l6-1l6 3l5 2l6 0l5-3l6-3l6-3l5 0l6 1l6 0l5-1l6-1l5-2l6-3l6 0l5-1l6-1l5-1l6-1l6-3l5-3l6-1l5 1l6-1l6-1l5-3l6-4l5-6l6 2l6 2l5 1l6-2l5-5l6-7l6-5l5 4l6 3l6 3l5-3l6-6l5-7l6-3l6 4l5 3l6 1l5-4l6-5l6-6l5-1l6 1l5 1l6-1l4-1l0 16l-841 200z"/>
<path transform="translate(408.1,616.4)scale(.5)" d="M4,-5l-4-2l6-1l5-1l6-2l5 0l6 0l6 0l5-2l6-2l5-2l6-1l6 0l5 0l6-1l5-1l6-2l6-3l5-2l6-1l6-2l5-1l6-2l5-1l6-2l6-1l5-1l6-1l5-1l6-1l6-2l5-2l6-2l5-1l6-1l6-1l5-1l6-2l5-2l6 0l6 0l5 0l6-1l5-3l6-4l6-3l5 0l6 1l6 0l5-2l6-4l5-4l6-2l6 1l5 2l6 0l5-2l6-4l6-4l5-2l6 1l5 0l6 0l6-2l5-3l6-2l5 0l6 0l6 0l5-1l6-1l5-2l6-3l6-1l5 0l1 0l1 0l2-1l1 0l1 0l0 0l2 0l1 0l1 0l1-1l0 0l2 0l1 0l1-1l2-1l0 0l1 0l1-1l4-2l5-4l6 1l6 1l5-1l6-1l5-3l6-5l6-7l5 3l6 3l5 1l6-2l6-5l5-7l6-5l5 4l6 4l6 2l5-3l6-5l5-6l6-3l6 4l5 2l6 1l5-3l6-4l6-3l5-1l6 2l6 1l5-1l6-1l5-3l6-2l6-1l5 0l6-1l5-1l6-1l6-3l5-3l6 0l5 0l6-1l6-1l5-2l6-4l5-6l6 1l6 2l5 1l6-1l5-6l6-6l6-6l5 4l6 3l6 3l5-3l6-6l5-7l6-4l6 4l5 3l6 1l5-3l6-7l6-6l5-3l6 2l5 1l6 0l4 1l0 16l-841 200z"/>
<path transform="translate(409.9,617.1)scale(.5)" d="M4,-4l-4-2l6-1l5-2l6-2l5 0l6 0l6 0l5-2l6-2l5-2l6-1l6 0l5-1l6-1l5-1l6-3l6-2l5-2l6-2l6-1l5-1l6-2l5-1l6-1l6-1l5-1l6-1l5-1l6-1l6-2l5-2l6-2l5-1l6-1l6-1l5-2l6-2l5-2l6 0l6 0l5 0l6-1l5-2l6-4l6-3l5 0l6 0l6 1l5-2l6-4l5-4l6-3l6 2l5 1l6 0l5-2l6-4l6-4l5-2l6 1l5 0l6 0l6-2l5-2l6-2l5-1l6 1l6 0l5-1l6-1l5-2l6-3l6-1l5 0l1 0l1 0l2-1l1 0l1 0l0 0l2 0l1 0l1 0l1-1l0 0l2 0l1-1l1 0l2-1l0 0l1 0l1-1l4-2l5-3l6 0l6 0l5 0l6-1l5-2l6-6l6-6l5 2l6 2l5 2l6-1l6-6l5-7l6-5l5 4l6 3l6 3l5-3l6-6l5-6l6-3l6 4l5 3l6 0l5-2l6-4l6-4l5-1l6 2l6 1l5 0l6-2l5-2l6-2l6-1l5 0l6-1l5-1l6-1l6-2l5-3l6-1l5 0l6-1l6-1l5-2l6-4l5-5l6 1l6 1l5 1l6-1l5-5l6-6l6-7l5 4l6 3l6 2l5-2l6-6l5-7l6-5l6 5l5 3l6 1l5-4l6-6l6-8l5-4l6 2l5 3l6 0l4 1l0 17l-841 200z"/>
<path transform="translate(411.7,617.9)scale(.5)" d="M4,-4l-4-2l6-1l5-2l6-2l5 0l6 0l6 0l5-2l6-2l5-2l6-2l6 0l5-1l6-1l5-2l6-2l6-3l5-2l6-1l6-1l5-1l6-1l5-1l6-1l6-1l5-1l6-1l5-1l6-1l6-2l5-2l6-1l5-2l6-1l6-1l5-3l6-2l5-2l6-1l6 1l5 0l6-1l5-2l6-3l6-4l5 1l6 0l6 0l5-1l6-4l5-4l6-3l6 1l5 1l6 1l5-2l6-4l6-5l5-2l6 1l5 1l6 0l6-2l5-2l6-3l5 0l6 0l6 1l5-1l6-1l5-2l6-3l6-1l5 0l1 0l1 0l2-1l1 0l1 0l0 0l2 0l1 0l1-1l1 0l0 0l2 0l1-1l1 0l2-1l0 0l1 0l1-1l4-2l5-3l6-1l6 1l5 0l6-1l5-2l6-5l6-6l5 1l6 2l5 2l6-1l6-6l5-6l6-7l5 5l6 3l6 3l5-3l6-5l5-7l6-4l6 4l5 3l6 2l5-3l6-4l6-5l5-1l6 3l6 1l5 0l6-2l5-2l6-3l6-1l5 1l6-1l5-1l6-1l6-2l5-3l6-1l5 0l6-1l6-1l5-2l6-3l5-5l6 0l6 1l5 1l6-1l5-5l6-6l6-6l5 3l6 3l6 2l5-2l6-5l5-7l6-6l6 4l5 4l6 1l5-4l6-7l6-9l5-6l6 3l5 4l6 1l4 1l0 18l-841 200z"/>
<path transform="translate(413.5,618.6)scale(.5)" d="M4,-5l-4-1l6-1l5-2l6-2l5 0l6 0l6 0l5-2l6-2l5-2l6-3l6 0l5-1l6-1l5-2l6-2l6-3l5-2l6-1l6 0l5-1l6-1l5-1l6-1l6-1l5-1l6 0l5-1l6-2l6-2l5-1l6-2l5-1l6-2l6-1l5-2l6-3l5-2l6-1l6 0l5 0l6-1l5-2l6-3l6-3l5 0l6 1l6 0l5-1l6-3l5-4l6-5l6 2l5 1l6 0l5-2l6-4l6-4l5-3l6 2l5 1l6 1l6-2l5-3l6-2l5-2l6 1l6 1l5-1l6-1l5-2l6-3l6-1l5 0l1 0l1 0l2 0l1-1l1 0l0 0l2 0l1 0l1-1l1 0l0 0l2 0l1-1l1 0l2-1l0 0l1 0l1-1l4-2l5-3l6-1l6 1l5 0l6-1l5-3l6-4l6-5l5 0l6 2l5 2l6-1l6-5l5-6l6-7l5 3l6 4l6 3l5-2l6-6l5-7l6-5l6 5l5 3l6 2l5-2l6-5l6-5l5-2l6 3l6 2l5 0l6-2l5-3l6-2l6-1l5 0l6 1l5-2l6-1l6-2l5-3l6-1l5 0l6-1l6-1l5-2l6-3l5-4l6-1l6 1l5 0l6-1l5-4l6-5l6-6l5 2l6 3l6 2l5-1l6-6l5-7l6-6l6 4l5 4l6 2l5-5l6-8l6-10l5-7l6 3l5 4l6 4l4 0l0 19l-841 200z"/>
<path transform="translate(415.3,619.3)scale(.5)" d="M4,-6l-4 0l6-2l5-1l6-2l5 0l6 0l6-1l5-1l6-2l5-3l6-2l6-1l5 0l6-1l5-2l6-3l6-2l5-2l6-1l6 0l5 0l6-1l5-1l6-2l6-1l5 0l6-1l5-1l6-2l6-1l5-2l6-2l5-1l6-1l6-2l5-2l6-2l5-3l6-2l6 0l5 0l6-1l5-2l6-2l6-3l5 0l6 0l6 1l5-1l6-3l5-4l6-5l6 1l5 2l6 0l5-2l6-4l6-4l5-3l6 2l5 2l6 1l6-2l5-3l6-3l5-2l6 1l6 1l5 0l6-2l5-2l6-3l6-1l5 0l1 0l1 0l2 0l1-1l1 0l0 0l2 0l1 0l1-1l1 0l0 0l2 0l1-1l1 0l2-1l0 0l1 0l1-1l4-1l5-3l6-2l6 0l5 0l6-1l5-2l6-4l6-5l5 0l6 2l5 1l6 0l6-5l5-6l6-6l5 2l6 4l6 2l5-1l6-6l5-6l6-6l6 4l5 4l6 3l5-2l6-5l6-6l5-3l6 4l6 2l5 0l6-2l5-3l6-3l6-1l5 1l6 0l5-1l6-1l6-2l5-3l6-1l5 0l6-1l6-1l5-2l6-3l5-4l6-1l6 1l5 0l6-1l5-3l6-5l6-6l5 1l6 3l6 2l5-1l6-5l5-7l6-7l6 4l5 4l6 2l5-4l6-10l6-11l5-9l6 3l5 6l6 5l4 1l0 19l-841 200z"/>
<path transform="translate(417.1,620.0)scale(.5)" d="M4,-7l-4-1l6-1l5-1l6-2l5 0l6 0l6 0l5-1l6-2l5-3l6-3l6 0l5-1l6-1l5-1l6-3l6-2l5-2l6 0l6 0l5 0l6-1l5-1l6-2l6-1l5-1l6-1l5-1l6-2l6-1l5-2l6-1l5-1l6-2l6-1l5-2l6-3l5-2l6-2l6-1l5-1l6-1l5-1l6-3l6-2l5-1l6 1l6 0l5 0l6-3l5-4l6-5l6 1l5 1l6 1l5-1l6-4l6-4l5-4l6 2l5 2l6 2l6-2l5-3l6-3l5-3l6 2l6 0l5 0l6-2l5-2l6-3l6-1l5 0l1 0l1 0l2 0l1 0l1-1l0 0l2 0l1 0l1 0l1-1l0 0l2 0l1 0l1-1l2 0l0-1l1 0l1 0l4-2l5-3l6-1l6-1l5 0l6-1l5-2l6-4l6-4l5-1l6 2l5 1l6-1l6-3l5-6l6-6l5 2l6 3l6 2l5-1l6-5l5-7l6-6l6 4l5 4l6 3l5-2l6-5l6-5l5-4l6 3l6 3l5 1l6-2l5-4l6-4l6-1l5 1l6 1l5-1l6-1l6-3l5-2l6-1l5-1l6 0l6-2l5-1l6-3l5-3l6-2l6 1l5 0l6-1l5-3l6-4l6-5l5 0l6 2l6 2l5-1l6-4l5-7l6-7l6 3l5 4l6 2l5-4l6-10l6-13l5-10l6 3l5 7l6 6l4 2l0 19l-841 200z"/>
<path transform="translate(418.9,620.8)scale(.5)" d="M4,-7l-4-1l6-1l5-2l6-1l5-1l6 1l6-1l5 0l6-2l5-3l6-3l6 0l5-1l6 0l5-2l6-2l6-3l5-1l6 0l6 0l5 0l6-1l5-1l6-2l6-2l5 0l6-2l5-1l6-1l6-2l5-2l6-1l5-1l6-1l6-1l5-2l6-3l5-2l6-2l6-1l5-1l6-2l5-2l6-2l6-2l5-1l6 0l6 1l5 0l6-3l5-4l6-4l6 0l5 1l6 1l5-1l6-3l6-5l5-4l6 3l5 2l6 1l6-1l5-3l6-4l5-3l6 2l6 0l5 0l6-2l5-2l6-3l6-2l5 1l1 0l1 0l2 0l1 0l1 0l0 0l2-1l1 0l1 0l1 0l0 0l2-1l1 0l1 0l2-1l0 0l1-1l1 0l4-2l5-2l6-2l6-1l5 0l6-1l5-2l6-3l6-4l5-1l6 1l5 1l6-1l6-3l5-5l6-6l5 1l6 3l6 2l5 0l6-5l5-7l6-7l6 4l5 4l6 3l5-1l6-5l6-6l5-5l6 4l6 3l5 1l6-2l5-4l6-4l6-2l5 2l6 1l5-1l6-1l6-3l5-2l6-2l5 0l6 0l6-2l5-1l6-3l5-3l6-1l6 0l5 0l6-1l5-2l6-4l6-5l5 0l6 2l6 1l5-1l6-4l5-6l6-7l6 3l5 3l6 2l5-4l6-10l6-13l5-12l6 3l5 7l6 9l4 2l0 18l-841 200z"/>
<path transform="translate(420.7,621.5)scale(.5)" d="M4,-5l-4-4l6 0l5-2l6-1l5-1l6 0l6 0l5 0l6-2l5-3l6-3l6 0l5-1l6 0l5-1l6-3l6-2l5-1l6 0l6 1l5 0l6-2l5-1l6-2l6-2l5-1l6-1l5-2l6-1l6-2l5-2l6-1l5-1l6-1l6-1l5-1l6-2l5-3l6-2l6-1l5-2l6-1l5-2l6-2l6-3l5-1l6 0l6 1l5 0l6-3l5-3l6-5l6 0l5 2l6 1l5-1l6-4l6-4l5-4l6 2l5 3l6 0l6-1l5-3l6-4l5-3l6 1l6 2l5-1l6-1l5-3l6-3l6-2l5 0l1 0l1 1l2 0l1 0l1 0l0 0l2-1l1 0l1 0l1 0l0 0l2-1l1 0l1 0l2-1l0 0l1 0l1-1l4-1l5-3l6-1l6-1l5-1l6-1l5-2l6-3l6-3l5-2l6 1l5 1l6 0l6-3l5-5l6-6l5 0l6 3l6 2l5 0l6-5l5-6l6-7l6 3l5 4l6 3l5-1l6-5l6-6l5-6l6 4l6 4l5 1l6-2l5-4l6-4l6-3l5 2l6 2l5-1l6-1l6-3l5-2l6-2l5 0l6 0l6-2l5-1l6-2l5-3l6-2l6 0l5 0l6-1l5-1l6-4l6-4l5-1l6 1l6 1l5 0l6-4l5-6l6-7l6 2l5 3l6 2l5-3l6-11l6-13l5-13l6 4l5 8l6 9l4 2l0 17l-841 200z"/>
<path transform="translate(422.5,622.2)scale(.5)" d="M4,-2l-4-4l6-1l5-2l6-2l5-1l6 0l6-1l5 0l6-2l5-3l6-2l6-1l5 0l6 0l5-1l6-2l6-2l5-2l6 1l6 0l5-1l6-1l5-2l6-2l6-2l5-1l6-1l5-2l6-1l6-2l5-2l6-1l5-1l6 0l6-1l5-2l6-2l5-2l6-1l6-2l5-1l6-2l5-2l6-2l6-3l5-1l6 0l6 0l5 0l6-3l5-3l6-4l6-1l5 2l6 1l5 0l6-4l6-4l5-5l6 2l5 3l6 1l6-2l5-2l6-5l5-4l6 2l6 1l5 0l6-1l5-3l6-4l6-2l5 1l1 0l1 0l2 0l1 0l1 0l0 0l2 0l1 0l1 0l1 0l0 0l2-1l1 0l1 0l2 0l0-1l1 0l1 0l4-2l5-2l6-2l6-1l5 0l6-2l5-1l6-3l6-3l5-2l6 1l5 0l6 0l6-3l5-4l6-5l5-1l6 2l6 2l5 0l6-4l5-6l6-7l6 2l5 4l6 3l5-1l6-5l6-6l5-7l6 5l6 3l5 2l6-2l5-4l6-5l6-3l5 2l6 2l5 0l6-1l6-3l5-3l6-1l5 0l6 0l6-1l5-2l6-2l5-2l6-2l6 0l5 0l6-1l5-2l6-3l6-4l5-1l6 1l6 0l5 0l6-4l5-5l6-6l6 0l5 3l6 2l5-3l6-10l6-13l5-12l6 3l5 8l6 9l4 2l0 16l-841 200z"/>
<path transform="translate(424.3,622.9)scale(.5)" d="M4,0l-4-4l6-1l5-2l6-3l5-1l6-1l6 0l5-1l6-2l5-2l6-3l6-1l5 0l6 0l5-1l6-2l6-1l5-2l6 0l6 0l5 0l6-2l5-2l6-2l6-3l5-1l6-1l5-1l6-1l6-2l5-2l6-2l5 0l6-1l6 0l5-2l6-1l5-2l6-1l6-1l5-2l6-2l5-2l6-2l6-2l5-2l6-1l6 0l5 0l6-2l5-3l6-4l6-1l5 1l6 1l5 0l6-3l6-5l5-4l6 1l5 3l6 1l6-2l5-3l6-4l5-5l6 2l6 2l5 0l6-1l5-3l6-4l6-3l5 2l1 0l1 0l2 0l1 0l1 0l0 0l2 0l1 0l1 0l1 0l0 0l2-1l1 0l1 0l2 0l0-1l1 0l1 0l4-2l5-2l6-2l6 0l5 0l6-2l5-1l6-3l6-3l5-1l6 0l5 0l6-1l6-2l5-4l6-5l5-1l6 2l6 1l5 0l6-4l5-5l6-7l6 1l5 4l6 3l5-1l6-5l6-6l5-7l6 4l6 4l5 2l6-2l5-4l6-5l6-5l5 4l6 2l5 0l6-1l6-3l5-3l6-2l5 1l6 0l6-1l5-1l6-2l5-3l6-1l6 0l5-1l6-1l5-1l6-3l6-4l5-2l6 1l6 1l5-1l6-3l5-5l6-6l6 0l5 2l6 2l5-3l6-9l6-12l5-12l6 2l5 8l6 8l4 2l0 16l-841 200z"/>
<path transform="translate(426.1,623.6)scale(.5)" d="M4,0l-4-1l6-2l5-2l6-3l5-2l6-1l6-1l5-1l6-1l5-3l6-3l6-1l5 1l6 0l5-1l6-2l6-2l5-2l6 1l6-1l5 0l6-2l5-3l6-2l6-3l5-1l6-1l5 0l6-1l6-2l5-2l6-2l5-1l6 0l6 0l5-2l6-1l5-1l6-1l6-1l5-2l6-1l5-2l6-2l6-3l5-2l6-1l6 0l5 0l6-2l5-4l6-4l6-1l5 1l6 1l5 0l6-3l6-4l5-5l6 1l5 2l6 1l6-1l5-4l6-4l5-6l6 2l6 3l5 1l6-1l5-4l6-4l6-3l5 2l1 0l1 0l2 1l1 0l1 0l0 0l2 0l1 0l1 0l1 0l0 0l2 0l1-1l1 0l2 0l0 0l1-1l1 0l4-2l5-2l6-2l6 1l5-1l6-1l5-2l6-2l6-2l5-2l6 0l5 0l6-2l6-1l5-4l6-4l5-2l6 1l6 1l5 0l6-3l5-6l6-6l6 0l5 3l6 3l5 0l6-5l6-6l5-7l6 3l6 4l5 3l6-2l5-4l6-5l6-6l5 4l6 2l5 1l6-1l6-3l5-4l6-2l5 1l6 1l6-1l5-1l6-2l5-2l6-2l6 0l5-1l6-1l5-1l6-2l6-4l5-2l6 0l6 1l5-1l6-3l5-4l6-6l6-1l5 2l6 1l5-2l6-7l6-11l5-11l6 1l5 6l6 8l4 2l0 15l-841 200z"/>
<path transform="translate(428.0,624.4)scale(.5)" d="M4,-2l-4 1l6-2l5-2l6-2l5-2l6-2l6-1l5 0l6-2l5-3l6-3l6-1l5 1l6 0l5-1l6-2l6-2l5-2l6 0l6 0l5-2l6-1l5-3l6-2l6-3l5-1l6-1l5 0l6-1l6-1l5-3l6-2l5 0l6 0l6-1l5-1l6-2l5-1l6 0l6-1l5-1l6-2l5-1l6-2l6-2l5-3l6-1l6-1l5 0l6-2l5-3l6-4l6-2l5 1l6 1l5 0l6-3l6-4l5-5l6 0l5 2l6 1l6 0l5-5l6-4l5-6l6 2l6 2l5 2l6 0l5-4l6-4l6-4l5 2l1 0l1 1l2 0l1 0l1 1l0 0l2 0l1 0l1 0l1 0l0 0l2 0l1-1l1 0l2 0l0 0l1-1l1 0l4-2l5-2l6-2l6 1l5-1l6-1l5-2l6-1l6-2l5-2l6 0l5-1l6-2l6-1l5-3l6-4l5-2l6 0l6 2l5-1l6-3l5-5l6-6l6-1l5 3l6 3l5 0l6-5l6-6l5-7l6 2l6 4l5 3l6-1l5-4l6-6l6-6l5 4l6 3l5 1l6-1l6-3l5-4l6-3l5 2l6 1l6-1l5-1l6-2l5-2l6-1l6 0l5-2l6-1l5-1l6-2l6-3l5-2l6 0l6 0l5-1l6-2l5-5l6-5l6-2l5 2l6 1l5-1l6-7l6-10l5-10l6 0l5 6l6 6l4 2l0 15l-841 200z"/>
<path transform="translate(429.8,625.1)scale(.5)" d="M4,-4l-4 1l6-1l5-1l6-2l5-2l6-2l6-1l5 0l6-2l5-3l6-3l6-1l5 1l6 0l5-1l6-2l6-3l5-2l6 0l6-1l5-1l6-2l5-2l6-3l6-2l5-1l6-1l5 0l6 0l6-2l5-2l6-3l5 0l6 0l6 0l5-2l6-1l5-1l6-1l6 0l5-1l6-2l5-1l6-1l6-2l5-2l6-2l6-1l5-1l6-1l5-4l6-3l6-3l5 1l6 1l5 0l6-3l6-5l5-4l6-1l5 2l6 1l6-1l5-4l6-5l5-5l6 1l6 3l5 2l6 0l5-4l6-4l6-4l5 2l1 0l1 1l2 0l1 1l1 0l0 0l2 0l1 1l1 0l1 0l0 0l2 0l1-1l1 0l2 0l0 0l1-1l1 0l4-2l5-3l6-2l6 1l5 0l6-1l5-2l6-1l6-1l5-2l6-1l5-1l6-2l6-1l5-2l6-4l5-3l6 1l6 1l5-1l6-2l5-5l6-6l6-2l5 3l6 2l5 0l6-4l6-6l5-8l6 2l6 4l5 4l6-1l5-4l6-6l6-6l5 3l6 3l5 2l6-1l6-4l5-4l6-3l5 2l6 2l6-1l5-1l6-1l5-3l6-2l6 1l5-2l6-1l5-1l6-2l6-3l5-2l6 0l6 0l5-1l6-2l5-4l6-5l6-2l5 1l6 1l5-1l6-6l6-8l5-9l6-1l5 5l6 4l4 2l0 15l-841 200z"/>
<path transform="translate(431.6,625.8)scale(.5)" d="M4,-7l-4 1l6 1l5-1l6-1l5-2l6-2l6-1l5 0l6-2l5-3l6-3l6-1l5 0l6 1l5-1l6-3l6-3l5-2l6 0l6-1l5-2l6-2l5-2l6-2l6-2l5-1l6-1l5 1l6-1l6-1l5-3l6-2l5 0l6 0l6-1l5-1l6-2l5-1l6-1l6 1l5-2l6-1l5-1l6-1l6-2l5-2l6-2l6-1l5 0l6-2l5-3l6-4l6-3l5 1l6 1l5 0l6-3l6-5l5-5l6-1l5 2l6 1l6-1l5-4l6-4l5-6l6 1l6 3l5 2l6 1l5-4l6-5l6-4l5 2l1 1l1 0l2 1l1 0l1 0l0 1l2 0l1 0l1 1l1 0l0 0l2 0l1-1l1 0l2 0l0 0l1-1l1-1l4-1l5-3l6-3l6 2l5 0l6-1l5-2l6-1l6-1l5-2l6-1l5-1l6-2l6-1l5-2l6-3l5-3l6 0l6 1l5-1l6-2l5-5l6-5l6-2l5 2l6 2l5 0l6-4l6-6l5-7l6 0l6 5l5 3l6 0l5-4l6-6l6-7l5 3l6 4l5 2l6-1l6-4l5-4l6-5l5 3l6 2l6 0l5-1l6-2l5-2l6-2l6 0l5-1l6-1l5-1l6-2l6-3l5-2l6 0l6 0l5-1l6-2l5-3l6-5l6-2l5 1l6 0l5-1l6-5l6-7l5-8l6-2l5 4l6 3l4 1l0 16l-841 200z"/>
<path transform="translate(433.4,626.5)scale(.5)" d="M4,-8l-4 0l6 0l5 1l6-1l5-2l6-2l6-1l5 0l6-1l5-3l6-3l6-2l5 1l6 0l5-1l6-3l6-3l5-2l6-1l6-1l5-2l6-2l5-1l6-2l6-2l5-2l6 0l5 1l6 0l6-2l5-2l6-3l5 0l6 0l6 0l5-2l6-3l5-1l6 0l6 0l5-1l6-1l5-1l6-1l6-1l5-2l6-2l6-1l5-1l6-1l5-3l6-4l6-3l5 1l6 1l5 0l6-4l6-4l5-5l6-1l5 1l6 1l6 0l5-4l6-5l5-5l6 0l6 3l5 3l6 0l5-3l6-5l6-5l5 2l1 1l1 0l2 1l1 0l1 1l0 0l2 0l1 1l1 0l1 1l0 0l2 0l1-1l1 0l2 0l0-1l1 0l1-1l4-2l5-3l6-3l6 2l5 1l6-1l5-2l6-1l6-1l5-2l6-1l5-1l6-2l6-1l5-2l6-3l5-2l6 0l6 0l5-1l6-2l5-4l6-5l6-3l5 2l6 2l5 0l6-4l6-6l5-7l6 0l6 4l5 3l6 1l5-5l6-6l6-6l5 2l6 4l5 3l6-1l6-4l5-5l6-5l5 3l6 3l6 0l5-1l6-2l5-3l6-2l6 1l5-1l6-1l5-1l6-2l6-3l5-2l6 0l6 0l5-2l6-1l5-3l6-4l6-3l5 1l6 0l5-1l6-4l6-6l5-8l6-2l5 2l6 3l4 0l0 17l-841 200z"/>
<path transform="translate(435.2,627.3)scale(.5)" d="M4,-9l-4-1l6 1l5 1l6 0l5-2l6-3l6 0l5 0l6-1l5-3l6-4l6-1l5 0l6 1l5-2l6-3l6-3l5-2l6-1l6-1l5-2l6-2l5-1l6-1l6-3l5-1l6-1l5 1l6 1l6-2l5-3l6-3l5 0l6 1l6 0l5-3l6-3l5-1l6-1l6 1l5-1l6-2l5-1l6 0l6 0l5-3l6-2l6-1l5 0l6-1l5-3l6-4l6-3l5 1l6 1l5-1l6-3l6-5l5-4l6-1l5 1l6 1l6-1l5-3l6-4l5-6l6 0l6 2l5 3l6 1l5-4l6-5l6-5l5 2l1 1l1 0l2 1l1 1l1 0l0 0l2 1l1 0l1 1l1 0l0 0l2 0l1 0l1 0l2 0l0-1l1 0l1-1l4-2l5-4l6-3l6 2l5 1l6 0l5-2l6-1l6-2l5-2l6 0l5-1l6-2l6-1l5-2l6-3l5-2l6 0l6 0l5-1l6-2l5-3l6-5l6-3l5 2l6 1l5 0l6-3l6-6l5-7l6-1l6 4l5 3l6 1l5-5l6-6l6-7l5 2l6 5l5 3l6-1l6-4l5-5l6-6l5 3l6 3l6 1l5-1l6-3l5-3l6-3l6 2l5 0l6-1l5-2l6-2l6-2l5-2l6 0l6-1l5-1l6-1l5-3l6-3l6-3l5 0l6 0l5-1l6-3l6-6l5-7l6-3l5 2l6 1l4 1l0 17l-841 200z"/>
<path transform="translate(437.0,628.0)scale(.5)" d="M0,0l0-11l6 1l5 1l6 0l5-3l6-2l6-1l5 1l6 0l5-3l6-4l6-2l5 1l6 1l5-2l6-4l6-4l5-1l6-1l6-1l5-2l6-2l5-1l6 0l6-3l5-2l6-1l5 2l6 1l6-2l5-4l6-4l5 1l6 2l6 0l5-3l6-4l5-2l6 0l6 1l5-2l6-2l5-1l6 0l6 1l5-3l6-3l6-1l5 0l6 0l5-3l6-4l6-2l5 1l6 1l5-1l6-4l6-4l5-3l6-2l5 1l6 1l6-1l5-3l6-4l5-5l6-1l6 2l5 3l6 1l5-4l6-5l6-6l5 2l1 1l1 0l2 1l1 1l1 1l0 0l2 0l1 1l1 1l1 0l0 0l2 0l1 0l1 0l2 0l0-1l1 0l1-1l4-3l5-4l6-3l6 2l5 1l6 1l5-2l6-2l6-2l5-2l6 0l5 0l6-2l6-1l5-2l6-3l5-2l6 0l6 0l5-1l6-1l5-4l6-4l6-3l5 1l6 1l5 0l6-3l6-5l5-7l6-1l6 3l5 3l6 1l5-5l6-6l6-7l5 2l6 4l5 3l6 0l6-4l5-6l6-5l5 2l6 3l6 2l5-1l6-3l5-4l6-3l6 1l5 1l6 0l5-2l6-2l6-2l5-2l6 0l6-1l5-1l6-1l5-2l6-3l6-3l5 0l6 0l5-1l6-3l6-6l5-6l6-4l5 1l6 1l0 11l0 0l-841 200z"/>
</g>
<path fill="#000214" fill-opacity="0.085" fill-rule="evenodd" d="M429,623l0 1l8 3l8-2l-2-3l-3 0l-1-1l-7 0zM450,620l0 3l1 1l1-1l7-1l0-1l-3-2l-5 0zM458,612l1 2l5 2l2 4l8-2l0-1l-3-2zM417,610l10 4l4 0l1 1l2-1l-5-2l-4 0l-4-2zM489,609l-3 0l-1 1l-5 1l1 5l8-1zM493,608l2 5l5-1l-2-5l-4 0zM438,607l5 2l5 0l-1-2zM390,607l1 2l4 1l0-4zM501,604l1 2l4 0l2 4l9-2l-3-4l-5 0l-1 1l-4-2l-2 0zM461,602l1 1l3 0l-1-2l-2 0zM378,603l3 2l2 0l1-1l-2-3l-2 0zM515,600l4 2l2 0l2 2l0 2l4 0l1-1l5-1l-5-4l-6 0l-1-1l-5 0zM365,598l4 2l2 0l-1-4l-3 0zM575,594l-3-2l-7 0l-2 1l-2 3l-2-1l-6 0l-1 1l-11 1l-4 2l0 3l1 1l2 0l1-1l3 0l1-1l3 0l1-1l3 0l5-2l4 0l1-1l3 0l1-1l3 0l1-1zM353,593l5 2l0-3l-1-1l-2 0zM486,589l1 2l6 0l1 1l4 0l1-1l-7-1l-1-1zM329,584l4 1l0-2l-3 0zM412,582l0 1l2 1l3 0zM600,582l0 6l11-2l0-2l-2-2l-3 0l-1-1zM437,581l1 2l4 2l9 2l0-2l-3-2l-2 0l-4-2zM468,581l3 2l5-1l0-1l-2-1l-5 0zM560,579l2 3l8 4l2 0l3 2l4 1l2 2l0 2l5-1l1-1l3 0l0-2l-3-2l-8-2l-5-3l-2 0l-6-3zM495,579l2 2l4 0l1 1l2-1l-1-2l-2 0l-1-1l-4 0zM619,578l0 6l1-1l4 0l1-1l5-1l-2-3l-4-2l-4 0zM316,575l-2 3l2 0l3 2l0-4l-1-1zM578,573l0 2l5 3l4 0l0-1l-4-4zM508,573l2 3l9 2l15 7l7 1l7 3l5 0l1-1l0-1l-4-2l-12-3l-13-6l-3 0l-7-3zM638,574l0 5l11-2l-1-2l-6-3l-2 0zM657,575l1-1l8-1l1-1l-4-2l-4 0l-2 2zM443,571l1 1l10-1l-1-1l-8 0zM529,571l3 2l3 0l11 4l4 0l-1-2l-4-2l-5-1l-2-2l-2 0l-1-1l-2 0zM483,561l0 2l3 2l6 0l0-1l-3-2zM422,559l1 2l6 1l0-1l-3-2zM657,558l4 4l8 4l3 0l2 2l0 3l1-1l3 0l1-1l5-1l-2-1l-8 0l-2-3l0-2l-4-3l-6-1l-1-1l-3 0zM682,555l2 3l10 5l2 2l8-1l1-1l-12-6l-2 0l-4-2zM441,555l1 2l4 2l5 0l0-1l-4-3zM714,555l1 6l5-1l1-1l4 0l0-1l-4-3l-2 0l-1-1l-3 0zM588,554l0 1l5 5l12 6l8 2l6 3l9 0l-6-4l-2 0l-3-2l-5-1l-6-3l-9-6l-2 0l-1-1zM617,553l1 3l2 2l7 4l17 5l3 2l4 0l-3-2l-4-5l-10-1l-6-5l-6-3zM465,553l5 3l5 0l1-1l0-2l-2-1l-7 0zM734,551l0 5l11-2l-2-3l-4-2l-3 0zM483,548l8 4l9 7l7 1l1 1l9 0l-1-2l-2-1l-5 0l-1-1l-2 0l-5-5l-7-5l-6-1zM506,545l0 1l4 3l2 0l6 3l6 1l9 7l10 5l9 2l8 5l0-1l-3-2l-1-3l-3-3l-7-1l-9-7l-6-3l-5-1l-7-4l-2 0l-4-2zM753,545l0 7l11-3l-7-6l-2 0zM531,544l1 2l6 1l3 2l5 1l12 6l5 4l6 3l11 2l4 5l5 0l13 5l4-1l-2-3l-4-2l-17-3l-7-6l-8-4l-5-1l-10-5l-5-4l-2 0l-1-1l-7 0l-5-2zM563,544l1 2l6 3l6 0l-1-4l-3-2l-4 0l-2-1zM772,541l0 6l11-2l0-1l-4-3l-2 0l-1-1l-3 0zM537,531l2 3l5 2l3 0l2-2l-2-2zM702,527l0 2l2 2l12 7l2 0l3 2l3 0l1 1l6 0l1-1l-1-2l-7-2l-14-8l-2 0l-1-1zM792,526l3 4l9 5l4 1l2 2l11-2l-4-3l-8-2l-5-3l-2 0l-4-2l-3 0l-1-1zM760,525l0 2l3 3l4 2l2 0l13 7l6 1l2 3l10-2l1-1l3 0l-3-2l-3 0l-1-1l-7 0l-9-6zM730,525l0 2l4 4l8 5l2 0l13 5l6 0l1-1l0-2l-5-3l-4 0l-1-1l-5-1l-12-7zM822,524l0 2l9 7l3 0l5-2l-1-2l-6-3l-2 0l-4-2zM667,524l0 1l4 4l11 7l2 0l9 5l10 0l0-1l-4 0l-2-1l-7-6l-12-6l-2 0l-6-3zM639,524l2 4l7 6l8 4l10 3l3 2l4 0l1-1l0-1l-4-4l-4-2l-7-1l-6-5l-9-5zM187,527l7 2l0-3l-2-2l-2 0zM603,519l0 2l9 8l15 7l8 6l6 0l0-1l-1 0l-12-11l-2 0l-7-3l-3-3l-9-5zM617,514l0 2l2 2l2 0l7 3l5 0l-1-2l-5-3zM162,517l2 0l6 3l1-4l-4-2l-1 1l-2 0zM635,512l3 3l5 2l6 0l1-1l-9-5l-5 0zM234,510l-6 0l-3 2l-3 0l-4 2l-1 2l4 1l4-2l6-1l2-1zM837,509l12 13l1 7l5-1l1-1l0-4l-6-2l-4-3l-8-9zM828,506l-10 5l6-1l2-1zM655,508l3 3l5 2l4 3l4 0l1-1l0-1l-2-1l-5-6l-4-2l-3 0zM137,507l2 0l3 2l4 1l0-3l-2-2l-5 0zM124,501l3 2l4 1l0-4l-2-1l-3 0zM570,498l0 2l-1 1l1 8l4 11l4 4l3 1l10 8l18 10l2 0l1 1l8 0l0-1l-4-3l-2 0l-8-4l-11-9l-6-3l-5-1l-4-4l0-2l-4-7l0-2zM120,500l0-6l-3 2l-4 0l0 1zM128,490l6 4l5 0l1-1l-2-2l-1 1l-5 0zM547,488l-1 1l0 3l5 9l2 8l4 8l0 7l-1 1l1 1l0 2l8 6l10 3l4 6l9 1l6 3l6 0l0-1l-5-4l-7-1l-1-1l-3 0l-5-2l-7-8l-10-6l-3-7l0-3l-1-1l-1-5l-2-2l-3-10zM762,487l3 3l5 2l6 5l5 2l2 2l13 5l9 7l8 0l1-1l2 0l-3-2l-5-1l-8-4l-3-4l-12-2l-13-9l-5-1l-1-1l-3 0zM158,488l-1-2l-1 1l-5 0l2 1zM752,483l0 2l1 1l2 0l0-1zM506,480l1 5l1 1l2 0l0-3zM263,480l-14 0l-1 1l-6 0l-1 1l-18 1l0 1l16-1l1-1l12 0l1-1l9 0zM168,480l4 3l2 0l1 1l2-1l0-2l-7 0zM523,475l0 5l4 6l2 9l5 6l0-5l-5-9l-1-8l-4-4zM222,473l-2-2l-2 0l-4 2zM228,466l2 2l7 3l3 0l1-1l-3-4l-1 1l-7 0zM500,465l0 3l3 3l1-1l0-2l-1-2zM247,461l1 2l5 3l6 0l3-2l-2-2l-2 1l-7 0zM558,456l1-1l1 2l-1 1zM282,459l-2-3l-4 2l-5 0l-1-1l-2 0l7 3zM734,454l2-2l3 4l-2 1zM288,451l2 2l5 2l5 0l1-1l-2-3l-4 2l-1-1l-4 0zM308,447l3 2l4 0l1-1l-1 1l-1-1zM527,445l4 6l0 2l2 4l0 2l-1 1l-4-4l-2-4l0-4l-1-1zM571,444l3 6l-1 2l-2-2l0-2l-1-1l0-2zM543,444l3 3l0 2l2 4l0 3l-1 1l-3-3l-2-5l0-4zM537,444l2 2l0 2l1 1l0 4l1 1l-1 2l-3-2l0-2l-1-1l0-6zM553,442l4 5l0 2l2 4l0 2l-1 1l-4-5l-1-6l-1-1zM539,434l2 4l-1 2l-3-4zM505,428l2 5l0 4l-1 1l-2-4l0-5zM546,419l2 2l0 2l1 1l0 4l1 1l0 4l1 1l0 4l-1 1l-3-3l-1-6l-1-1l0-9zM553,410l1 0l2 3l0 4l-1 1l-3-5l0-2zM633,396l3 3l1 4l5 7l0 5l-4 3l-2 0l-3-3l0-2l-3-7l0-7zM421,379l0 5l2 3l0-5zM464,352l0 3l1 1l0 8l1 1l1 12l1 1l0 7l1 1l0 8l1 1l0 6l1 1l1 14l1 1l1 10l1 1l0 11l1 1l1 12l1 1l0 4l2 5l0 4l1 1l1 7l3 2l2 0l0-5l-2-2l-2-5l-1-10l-1-1l-1-8l-1-1l0-3l-1-1l0-3l-1-1l0-3l-2-5l0-6l-1-1l0-7l-1-1l0-8l-1-1l-1-15l-2-4l-1-12l-1-1l0-5l-1-1l0-7l-1-1l0-4zM471,343l-1 1l0 2l1 1l0 3l2 5l1 13l6 16l1-2l0-10l-4-11l0-4l-1-1l0-8l-1-1l0-2l-2-2zM430,307l-1 0l-2 3l1 0zM437,297l-2 3l2 2l1 6l1 1l4-1l2 2l1 5l1 1l1 10l5 5l2 4l3-8l-1 1l-2-2l0-3l-2 1l-2-2l-1-7l-1-1l0-3l1-1l-1-2l-4-3l-2 1l-2-2l-1-7zM486,239l1 2l1 16l1 1l1 17l1 1l0 6l1 1l0 7l1 1l0 10l1 1l0 17l1 1l1 27l1 1l0 15l1 1l0 17l-1 1l-3-5l-1-6l-2-3l0-2l-2-2l-3 6l0 4l4 6l0 2l2 4l0 3l1 1l0 3l1 1l1 10l1 1l0 5l1 1l0 7l1 1l0 10l1 1l0 8l1 1l0 4l5 9l2 10l5 6l2-1l0-4l-5-7l-1-11l2-1l5 5l3-2l3 4l2 9l5 7l2 8l2 4l3 3l4 9l3 3l1 0l0-2l-3-6l-1-8l-5-8l-2-9l1-1l7 7l0 1l0-3l1-2l2-1l2 3l2 9l4 6l3 6l0 2l2 3l5 5l1 0l0-5l-5-9l-1-6l-4-5l-3-8l0-2l1-1l2 1l4 8l1 5l4 4l4 7l0-8l-6-16l0-3l1-1l4 4l0 3l2 4l0 3l1 1l4 14l6 9l1 3l3 2l-2-10l-6-11l0-2l-2-4l-4-5l0-5l-1-1l0-2l1-1l3 3l2 7l2 4l3 3l1 4l4 8l3 3l2 5l3 2l0-5l-1-1l-1-6l-2-3l-4-13l-4-5l0-2l-1-1l0-3l1-1l2 2l3 8l4 4l1 7l3 3l0-7l-2-4l1-1l2 2l5 11l4 5l3 7l7 8l0-4l-1-1l-3-11l-4-7l-1-5l-2-3l1-2l3 3l0 2l4 6l3 2l0-5l1-1l4 3l5 11l4 6l4 4l0-4l-5-12l0-2l1-1l3 5l4 4l1-1l-1-8l-3-6l-1-6l-1-1l0-2l1-1l4 7l6 6l1 3l4 4l1 0l11 12l1-1l-1-5l-4-8l-1-5l-5-9l2-1l13 12l12 18l2 5l4 3l9 4l5 5l5 0l1-1l0-3l-12-9l-8-4l-4-8l0-2l-3-4l-7-15l2-1l7 7l2 0l0-4l-2-3l0-1l2-1l3 5l0 2l2 2l9 17l6 7l23 14l10 1l2-1l-1-2l-9-4l-13-9l-4-2l-2 0l-4-4l-7-12l0-3l4-2l-1-7l-3-4l1-1l3 2l16 24l15 12l23 12l6 0l2-2l-2-2l-2 0l-4-2l-8-6l-2 0l-6-3l-5-4l-5-2l-6-6l-7-12l1-5l1-1l-1-4l-2-2l1-2l14 15l2 4l8 10l5 1l8 4l11 9l12 7l3 0l1 1l7 1l1 1l5-1l-3-4l-7-3l-3 0l-4-2l-6-5l-21-9l-8-8l-3-5l-6-6l-1-2l1-2l4 1l1-3l1-1l2 0l2 1l6 7l2 0l0-2l-4-5l0-5l1-1l4 2l-2-2l0-2l-2-3l-5-4l-3-6l-1 0l-4-4l-3-7l-4-3l-4-10l-4-4l-3-8l-3 0l-2-2l-2-5l-4 0l-3-2l-4 0l-1-1l-5 0l-1 1l-3 0l-4 2l-3 0l-1 1l-5 1l-2 2l-5 0l-2-2l-3-7l-4-4l-3-1l-4-4l-6-3l-6 0l-5 3l-4 0l-1 1l-2-2l0-3l-6-15l-12-15l-5-1l2 3l0 3l1 1l-1 2l-2 0l-3-5l0-2l-4 4l3 4l1 5l1 1l2 0l3 3l0 7l1 1l0 5l1 1l1 10l1 1l0 7l-4 7l0 9l-2 2l-6-7l-2-5l0-4l-1-1l-1-19l-2-2l0-2l-1-1l0-10l-1-1l0-5l2-4l-4 5l-2-2l-2-10l-1-1l0-3l-1-1l-2-8l-6-10l-1-5l-3-6l-3-3l-4 1l-1 4l2 4l1 6l3 2l3 4l0 5l1 1l0 11l1 1l1 25l1 1l1 20l1 1l0 5l-1 1l-1 0l-2-3l0-3l-3-7l0-5l-1-1l-1-8l0 22l1 1l0 7l-2 3l-7-9l-3-7l-1-7l-2-3l0-7l-1-1l0-7l-1-1l0-7l-1-1l1-20l-2-3l0 2l-2 2l-2-2l0-5l-1-1l-2-17l-1-1l-2-11l-5-12l0-4l-1-1l0-3l-1-1l0-3l-1-1l-1-5l-3-5l-2 0l-1 1l2 3l0 3l1 1l1 10l5 8l0 6l1 1l1 37l1 1l0 18l1 1l0 14l1 1l0 11l1 1l0 9l1 1l0 15l-1 1l-2 0l0 11l1 1l1 12l-2 1l-3-3l-3-8l0-3l-2-4l-1 0l0 18l-1 1l-4-5l-2-10l-2-4l-3-2l-3-7l0-3l-4-8l-1-23l-1-1l0-12l-1-1l1-9l-2-3l0-12l-1 1l-2-2l-1-22l-1-1l0-7l-1-1l-1-14l-1-1l0-8l-1-1l0-8l-1-1l0-7l-1-1l0-7l-1-1l0-8l-1-1l-1-13zM480,226l-3 4l2 4l0 3l2 5l0 4l1 1l1 22l1 1l0 6l1 1l1 6l1-1l0-7l-1-1l0-7l-1-1l0-4l-1-1l0-4l-1-1l0-15l-1-1l1-8l-1-1l0-3l-1-2z"/>
<path fill="#000214" fill-opacity="0.085" fill-rule="evenodd" d="M431,624l0 1l2 0l4 2l6-1l-2-2l-6 0l-1-1l-1 1zM468,618l0 2l1-1l3 0l0-1l-2-1zM510,610l5-2l-1-1l-3 0l-1 1zM525,604l0 2l6-1l-2-2l-3 0zM559,598l-4-1l-1 1l-3 0l-3 2l-2-1l-5 0l-1 1l0 3l1-1l3 0l1-1l3 0l1-1zM566,596l7-1l-5-1zM583,589l0 3l6-1l-3-2zM602,588l7-2l-2-2l-4 0l-1 1zM621,579l0 4l7-1l0-2l-4-2l-2 0zM640,575l0 4l1-1l4 0l2-1l-3-2zM659,574l6-1l-5-1zM698,563l1 2l1-1l2 0l-1-1zM595,558l6 3l-2-2zM717,557l0 3l7-1l-3-2zM736,551l0 5l7-2l-4-3zM755,546l0 5l7-1l0-1l-4-3zM774,543l0 4l7-2l-5-3zM793,540l0 2l7-1l-1-1zM810,534l2 2l0 2l5-1l0-1zM709,531l6 3l-2-2zM679,531l6 3l-2-2zM736,529l2 2l4 2l2 0l-4-3zM829,528l4 4l0 1l4-1l-2-2l-4-2zM562,529l5 3l2 0l-5-4zM645,527l0 2l2 2l4 2l2 0l-2-3zM587,526l0 1l5 4l4 2l2 0l-7-6zM609,523l4 4l2 0l-3-3zM851,521l1 7l3 0l1-1l0-4zM679,504l3 2l2 0l0-1l-2-1zM785,499l3 2l5 0l-1-1zM755,498l0 1l4 4l9 4l0-1l-4-4l-5-3zM697,498l6 5l11 5l0-1l-6-5l-6-3zM113,496l0 1l4 2l1-2l-1-1zM721,495l3 4l6 4l11 4l0-1l-4-3l-2 0l-10-7zM773,491l6 5l4 1zM533,474l1 4l2 0zM550,473l0 2l3 3l-1-4zM592,465l1 4l2 2l5 12l3 2l-5-9l0-3l-2-5zM683,459l0 1l2 1l0-1zM525,458l1 3l4 4l-1-5l-2-2zM568,451l0 4l6 9l0 3l2 5l4 4l1 0l-1-5l-5-6l-2-9zM703,450l1-1l1 2l-1 1zM518,441l-1 1l5 5l-1-4zM503,440l-1 1l1 1l0 2l2 2l0-3zM527,439l1 4l4 4l1-1l-1-3l-4-4zM554,436l1 4l3 2l-1-4zM544,436l0 5l6 9l1 7l4 4l0 1l2 0l0-2l-2-4l-4-5l-1-8zM638,434l5 5l0 2l2 4l5 6l3 7l3 4l-1 2l-1 0l-4-4l-6-12l-4-4l-1-4l-2-3l0-2zM714,434l1-1l2 3l-1 1zM509,422l0 4l2 3l2 0l1-1l0-2zM695,420l2-1l3 3l0 2l-1 1l-4-3zM578,420l0 9l1 1l0 3l2 5l2 1l0-2l-2-3l0-3l-1-1l-1-9zM705,417l4 5l-1 2l-4-4l0-2zM567,416l-1 1l0 4l1 1l0 5l2 5l0 4l7 11l1 6l5 5l1 0l0-3l-5-8l-1-7l-5-7l-2-11zM644,400l1 0l3 4l0 2l-1 1l-4-5zM640,391l1-1l2 3l-2 1l-1-1zM545,379l1 19l1 1l0 11l2 5l1 0l0-8l-1-1l0-5l-2-4l1-5l-2-3l0-8zM600,352l2 3l1 4l4 1l3 4l0 4l1 1l1 8l1 1l0 5l1 1l1 12l1 1l0 17l-1 1l-4-10l0-3l-2-3l0-2l-1 0l0 20l1 1l0 6l1 1l1 6l7 13l1 4l5 6l3 7l9 11l3 1l9 11l-1-6l-4-6l0-2l-3-6l-4-5l-1-4l-2-1l0 2l-1 1l-3-3l-1-3l-4-5l-5-12l-2-2l0-2l-1-1l0-5l-1-1l0-7l1-1l1 1l0 4l2 4l0 3l4 8l2 2l4 9l3 3l0-4l1-1l2 1l14 22l3 3l4 1l4 4l5 9l4 4l0-2l-4-6l0-2l-6-10l0-3l-3-5l0-5l2-1l4 4l6 9l1 0l0-3l-2-5l-4-6l0-2l-5-6l0-2l-1-1l2-2l5 5l2 3l1 4l6 7l2 4l5 5l0-5l-2-5l-4-6l-1-4l-4-5l-7-14l1-2l4 4l2 4l0 2l7 8l1 4l2 2l3-2l2 0l3 3l6 10l10 12l-1-6l-5-9l0-2l-5-7l-2-5l-4-5l-2-4l1-1l1 0l6 7l2 5l5 5l2 5l2 1l4-3l12 13l0-3l-5-9l0-2l-2-4l-2-2l0-2l1-1l3 3l2 4l7 6l0-8l-5-7l0-2l1-1l6 5l1 4l3 2l3-3l2 0l0-1l-2-3l-1 0l-4-4l-3-7l-4-3l-2-4l0-2l-2-4l-4-4l-3-8l-3 0l-2-2l-2-5l-4 0l-3-2l-4 0l-1-1l-9 1l0 2l5 0l2 2l1 3l6 6l0 2l-3 2l-8-7l-1-3l-2-2l-4 1l-2-2l0-2l-7 2l-2 2l-5 0l-2-2l-3-7l-4-4l-3-1l-4-4l-6-3l-5 0l3 4l-1 2l-2 0l-2-2l0-2l-1-1l-4 2l5 6l3 0l3 3l1 5l5 7l2 17l6 8l0 5l2 4l3 3l0 5l-1 1l-3-3l-4-10l-8-10l0-2l-8-7l-2-4l0-2l-2-4l0-3l-1-1l0-5l-3-5l0-8l-2 1l-2-2l0-3l-6-15l-7-8l-2-4l-3-3zM543,352l-1 2l1 1l0 2l1-2l0-2zM574,338l0 5l1 1l0 4l1 1l0 4l1 1l1 12l1 1l0 6l1 1l1 14l1 1l0 5l-1 1l1 28l1 1l2 10l7 12l2 7l4 4l3 6l0 2l3 4l2 0l-4-8l-1-6l-5-6l-3-10l-5-7l0-9l1-1l4 6l0 2l3 7l5 6l2 7l6 7l1 3l0-8l1-1l6 11l0 2l9 13l0-4l-1-1l-1-5l-2-4l-3-3l-2-7l-5-5l-1 0l0 3l-1 1l-4-5l-1-5l-7-12l-2-10l-6-7l0-2l-2-4l-1-13l-1-1l0-2l-3-7l0-4l-1-1l0-8l-2-4l0-2l1-1l-1-7l-1-1l-1-7zM558,317l4 6l0 6l6 5l2 0l1-1l-2-3l-2-7l0 2l-2 2l-3-3l0-8zM523,273l1 4l2 3l0-2z"/>
<path fill="#000214" fill-opacity="0.085" fill-rule="evenodd" d="M622,581l0 2l5-1l-2-2l-2 0zM641,577l0 1l4 0l0-1l-2 0l-1-1zM737,556l5-2l-4-2l-1 1zM756,548l0 3l5-1l-3-2zM775,544l0 3l1-1l3 0l0-1zM853,522l1 2l0 4l1 0l1-1l0-4zM638,444l0 3l5 6l2 6l4 4l0-2l-4-5l-3-8zM571,436l2 4l2 1l-1-3zM680,435l1 4l3 4l4 9l8 10l-3-9l-5-6l-2-5l-6-6zM640,431l0 2l5 6l2 4l0 2l4 4l0-2l-4-6l-1-5l-3-4zM614,431l0 3l4 6l3 8l2 3l4 3l-1-1l0-2l-5-6l-3-10zM596,430l1 6l4 4l0-2zM624,429l0 4l3 3l0-2zM697,427l0 3l3 4l0-4zM703,423l0 7l10 15l5 5l0 1l2 1l0-4l-4-5l-3-7l-4-4l-3-7zM591,418l0 2l4 7l0-6l-2-3zM668,412l1-1l1 2l-1 1zM623,408l1 1l0 2l-1 1l-1-1l0-2zM680,406l-1 2l3 5l1 0l0-3zM686,398l3 3l2 0l2-2l3 3l1 3l2 2l2 0l3 3l1 4l6 8l3 7l6 7l1 3l5 4l1-1l0-3l-3-6l-4-3l-2-4l0-2l-2-4l-4-4l-3-8l-3 0l-2-2l-2-5l-4 0l-3-2zM643,387l1 1l0 2l3 4l0 4l5 11l0 4l1 1l0 4l1 1l1 7l8 16l6 8l2 5l4 4l0-3l-2-2l-3-6l0-2l-4-5l-4-8l0-2l-2-2l-3-6l0-5l-1-1l0-4l-2-5l0-4l1-1l4 5l4 15l2 4l6 7l1 3l2 2l-1-11l2-1l-2-5l0-4l2-1l4 4l3 6l3 2l5 9l4 4l4 6l-1-7l-4-5l-3-7l-2-3l-4-3l-2-4l0-2l-2-2l-2 0l-3-3l0-2l-1-1l0-2l1-1l-1-1l0-2l-1-1l-4 1l0 3l-1 1l-2-2l-5 0l-2-2l-3-7l-4-4l0 4l1 1l0 3l-1 1l-5-6l1-5l-3-3zM610,362l3 6l3 3l2 5l0 3l1 1l0 7l-2 1l0 5l1 1l0 4l1 1l0 4l1 1l0 10l1 1l0 3l1 1l0 2l0-8l1-1l2 1l5 16l1 1l0 2l3 5l1 0l-3-7l0-2l2-2l0-2l-4-6l0-3l-3-8l0-4l-4-10l0-5l-2-2l0-3l-1-1l-1-5l-2-3l0-2l-2-4zM602,353l2 3l4 3l-2-3z"/>
<path fill="#000214" fill-opacity="0.085" fill-rule="evenodd" d="M708,433l1 3l3 3l0-2zM679,417l0 2l3 3l1 4l6 6l-1-4l-6-5l-1-4zM671,402l0 8l4 5l-2-3l0-8l-1-2zM696,400l1 3l3 3l3 0l1 1l4 10l5 6l2 5l2 3l4 4l1 0l0-2l-4-5l-2-7l-4-5l-3-8l-3 0l-5-7zM653,393l1 5l6 9l0 2l2 3l4 14l3 4l2 0l-2-5l0-4l1-2l-4-4l-1-10l-4 0l-2-2l-3-7z"/>
<path fill="#000214" fill-opacity="0.085" fill-rule="evenodd" d="M706,408l0 2l4 8l4 3l-1-3l-3-3l-2-4l0-3zM697,400l2 4l2 0l-1-3l-2 0zM655,395l2 7l3 3l3 7l1 0l0-7l-3 0l-2-2z"/>
<path fill="#fff" fill-opacity="0.075" fill-rule="evenodd" d="M421,383l1-1l1 2l-1 1zM481,369l0 4l2 2l0-3zM599,352l-4 3l2 3l0 3l1 1l0 3l-1 1l-3-2l-1-5l-1-1l-4 2l-5 5l-1 0l1 3l2 2l0 12l1 2l3 0l1-1l2 2l0 12l3 7l2 1l2-3l1-4l2-2l-1-10l-1-1l0-20l1-1l3 0l3 2l1-2l0-2l-2-2l-2 0l-3-3l0-4zM558,319l-2 1l-3 8l-5 6l0 11l-1 1l0 17l1 1l0 3l2-2l1-3l2-2l1 1l-1 23l-1 1l0 11l1 1l2 8l-5 2l0 4l3 2l4-5l1 1l3 0l0-13l-1-1l0-6l-1-1l0-13l-1-1l0-19l1-1l0-2l3-3l2 0l0-2l1-1l0-12l-4-3l-2-4zM449,308l0 3l2 4l0 3l1 1l1 5l1-1l0-4zM440,297l-1 0l0 2l2 4l0 4l-1 1l-2-2l-1-6l-1-1l-2 2l0 2l-4 4l-1 0l-4 7l0 2l-4 10l-1 7l-3 5l0 2l-3 6l-2 10l-2 2l-3-2l-5 0l-3 3l-5 0l-2 2l-5 9l0 2l-5 6l-3 6l0 2l-2 3l0 2l-2 4l0 3l-4 7l-1 4l-4 4l-4-3l-7 0l-13 11l-13 21l-5 5l-2 0l-6 5l-4 2l-8 8l-1 2l1 2l5 0l3 2l2 0l5-3l1 1l4 0l5 3l3 0l3-2l9 1l-1-5l1-1l2 0l7 6l6 0l3 2l3 0l7-4l3 0l2-2l5 0l3-3l1-4l1-1l4 1l2-4l4 3l1 3l2 2l3 0l3-2l4 0l5-6l5 0l4-4l2 0l2-2l1-16l-1-1l-1-18l-1-1l0-8l1-1l2 1l3 8l1 24l1 1l0 6l1 1l2 8l2 2l3 0l7-6l1-4l2-3l3 2l2 0l1-1l0-3l1-1l0-15l-1-1l-1-26l-1-1l0-15l-1-1l0-16l-1-1l-1-31l-1-1l0-2l-1 0l-4-5l-2-17l-3-6zM522,273l-1 0l-3 4l0 2l-3 7l0 3l-1 1l0 4l-3 6l0 10l-1 1l-1 18l-1 1l0 20l-1 1l1 16l1 0l1-5l1-1l1 1l0 36l1 1l0 5l-2 2l-3 0l-1 2l5 6l2 4l0 5l4 3l2 0l1-1l0-28l1-1l1 1l1 6l2 4l0-7l-1-1l-1-14l-1-1l0-75l1-1l1-5l3-3l0-6l-6-7zM477,229l-1 3l-2 2l0 3l-1 1l-1 6l-3 8l0 5l-1 1l0 5l-1 1l0 5l-1 1l0 5l-1 1l0 6l-1 1l0 8l-1 1l0 7l-1 1l0 7l-1 1l0 8l-1 1l0 5l-1 1l0 6l-2 2l0 2l9 24l2 17l1 1l0 2l4 10l0 4l1 1l1 12l1 1l0 6l1 1l0 8l1 2l0-12l-1-1l0-35l-1-1l-1-7l-2-4l-1-11l-1-1l0-7l1-1l1 0l4 4l1-2l0-40l1-1l0-8l3-4l0-6l1-1l-1-13l-1-1l-1-12l-1-1l0-23zM483,218l0 5l-3 4l2 4l0 4l1 1l0 5l1 1l0 4l1 1l1 8l1-16l-1-1l0-4l-1-1l-1-14z"/>
<path fill="#fff" fill-opacity="0.075" fill-rule="evenodd" d="M404,378l0 2l-1 1l-3 0l-1 1l-2-1l1-2l3 0l2-2zM402,356l-3 3l-3 0l-4 2l-5 9l0 2l-5 6l-3 6l0 2l-3 6l-1 7l-4 9l0 8l2 3l0 2l-3 2l-3-3l0-3l-2-5l-2-1l-4 1l-2-2l-1 1l-2 0l-14 13l-5 10l-4 5l-3 6l-3 3l-3 0l-5 5l-2 0l-4 4l5 0l6 4l2 0l3-5l5 3l5 0l1-1l0-2l-4-1l-2-3l0-5l1-1l5 5l4 0l5 6l5-1l3 5l3 0l1-1l7 1l4-4l2 0l5-6l4 0l1-2l0-8l-1-2l-3-2l-3-8l0-7l2-2l4 3l0 6l2 4l4 2l3 3l1 6l2 2l3 0l5 6l4-4l4-1l2-4l0-4l1-1l-1-31l2-2l3 8l1-2l0-14l1-1l0-6l-6-12l-1-10l-2-2l-4 0l-1-1l-1-8zM553,345l-1 0l-1 2l0 5l2-3zM556,332l-2 0l-1 1l0 2l-1 1l0 4l1 1l2-4zM434,301l0 2l-3 3l-1 4l-1 1l-2 0l-2 3l0 2l-4 10l-1 7l-3 6l0 5l-3 6l2 3l0 7l1-1l0-3l2-4l1-6l1-1l1 1l-1 27l3 4l2-2l1 1l1 19l5 8l0 3l1 1l0 11l1 1l0 12l1 1l1 8l1 2l2 1l7-12l0-11l-1-1l0-24l-1-1l0-34l1-1l0-6l2-2l2 0l0-4l1-1l0-14l-6-9l-1-11l-1-1l-4 1l-3-3l0-4zM524,295l-2 1l-2 4l-5 1l0 7l1 0l9-10l0-2zM519,276l-3 8l3-5zM471,246l-1 5l-1 1l0 5l-1 1l0 5l-1 1l0 5l-1 1l0 5l-1 1l0 6l-1 1l-1 16l-1 1l1 30l-2 3l2 5l3 4l-1 6l4 10l1 16l4 6l0-10l-4-9l-1-15l-1-1l0-5l1-1l0-5l1-1l0-8l4-8l0-5l1-1l0-24l-1-1l0-5l-1-1l0-5l-1-1l0-6l-1-1zM475,234l-1 0l-1 7l2-1l1-2z"/>
<path fill="#fff" fill-opacity="0.075" fill-rule="evenodd" d="M355,411l-13 11l-4 6l-3 7l-2 2l-1 5l2 0l4 5l6-3l2 3l1 4l2 0l2-2l3-1l2 2l0 3l4 3l5 0l6-3l3-6l2-2l4 0l0-5l-4-4l-2-4l0-5l-1-2l-4-1l-3-3l-2-9l-3 2l-2 0l-2-3zM442,363l-1 1l-1 8l-1 1l0 5l-1 1l0 10l-1 1l0 41l1 2l2 0l1-2l-1-1l-1-29l1-1l0-11l1-1l0-8l1-1zM401,357l-3 2l0 2l-3 2l-3-2l-5 9l0 4l4 3l0 4l-2 2l-3-6l-2 0l-5 7l-3 10l5-1l1 2l6-10l1 1l0 6l-1 1l0 5l-1 1l0 5l-1 1l0 7l-1 1l0 13l-1 1l2 2l2-3l0-4l2-5l0-4l1-1l0-4l1-1l1-8l1-1l1-5l1-1l1 1l0 5l-2 5l0 5l-1 1l0 5l-1 1l-1 20l2 3l4 0l2 4l2 1l6-5l0-13l1-1l-1-19l1-1l0-3l-6-8l-1-7l-1-1l-2 2l-2-1l-3-6l-2-10l2-2l2 0l2 2l1 5l3 0l1-1l4 4l1 2l0 6l1 1l0 6l3 3l3 0l1-7l-5-7l0-2l-1-1l0-8l-1-2l-4 0l-3-3zM434,308l-1 0l-1 3l-4 4l-1 0l0 3l1 1l0 6l-1 1l0 13l1 0l2-4l0-2l2-3l0-2l3-7l1-1l1 1l0 12l-1 1l0 4l-1 1l-1 12l-1 1l0 6l-1 1l0 6l-1 1l0 14l2-4l1-12l1-1l0-5l1-1l1-6l6-10l5-1l0-2l1-1l0-2l-1-1l-3 3l-1-1l1-9l-2-4l0-5l-1-1l0-2l-4 0l-2-2z"/>
<path fill="#fff" fill-opacity="0.075" fill-rule="evenodd" d="M349,430l1 1l0 2l-2 2l-1-1l0-2zM405,420l-2 3l0 4l-1 1l0 4l1 1l2-5l0-4l1-1l0-2zM355,411l-14 13l-7 14l4-1l2 4l6-3l2 3l0 4l1 1l4-1l4-4l1 1l0 4l1 0l1-3l2-1l3 3l0 6l2 1l4-3l2-5l2-2l1 1l3 0l0-2l-4-4l-1 0l-2 4l-2 0l-3-4l0-7l1-1l4 0l0-3l-3 0l-4-3l-1 1l0 2l-3 2l-2-3l0-5l2-2l2 1l1-3l-1-1l-2 0l-1 1l-2-1l-2-4zM401,395l-1 2l0 4l-1 1l0 4l-1 1l-1 7l-1 1l0 11l1 0l1-6l1-1l0-8l1-1l0-3l3-3l4-2l0-2zM411,386l-1 2l0 4l3 2l1-1l0-5zM393,384l0 2l-1 1l1 2l1-1l0-3zM392,365l-4 3l0 4l2 0l0-5zM399,363l-2 3l3 4l2 1z"/>
<path fill="#fff" fill-opacity="0.075" fill-rule="evenodd" d="M364,433l-2 3l1 2l2 0l0-4zM342,432l-1 1l0 4l2 1l1-1l0-4zM349,417l-3 2l-4 5l2 4l2 1l5-5l1 0l1 1l0 4l3 2l1 3l2-1l1-2l-3-4l0-3l-1-1l1-6l-1-1l0 4l-2 2l-1 0l-4-4zM354,412l-1 1l2 1l0-2z"/>
<path fill="#62b0ff" fill-opacity="0.110" fill-rule="evenodd" d="M489,612l0 3l1-1l3 0l0-2l-1-1l-2 0zM421,612l2-2l3 2l-1 1l-3 0zM445,607l0-1l5-4l5 0l1 1l-4 6l-4 0zM370,593l1-1l3 0l1 1l-2 2zM421,598l6-3l2-5l2 0l1 1l8 0l1 1l2 0l2 2l0 2l-1 1l-2 0l-5-3l-3 0l-6 3l-2 2l-4 0zM399,588l1-1l3 0l1 2l-2 1zM387,589l2-3l2 2l-2 2zM507,586l2-1l2 3l-2 1zM420,586l1-1l2 1l-1 1zM447,585l3-2l3 0l5 5l-1 1l-2 0zM480,579l1 2l-1 1l0 2l-2 1l-3-4zM501,579l1-1l2 0l2 2l0 2l-2 1zM400,577l1-1l10 1l5 5l3 1l2 2l-2 1l-4-2l-6 0l-1-1l-2 0l-4-4l-1 0zM368,578l1-1l4 0l1-1l7 0l4 5l-1 1l-3 0l-5-3l-7 0zM413,575l3-2l1 1l15-1l1 1l0 3l-1 1l-3 0l-4-2l-7 0l-1 1l-3 0zM379,570l1-2l9 0l1 1l-4 3l-4 0zM460,569l2-4l4 0l1 1l3 0l1 1l3 0l1 1l5 1l2 2l-2 2l-2 0l-1-1l-3 0l-5-2l-8 1zM609,565l1-1l9 1l5 2l3 3l-1 1l-8-1l-1-1l-5-1zM577,571l2-2l-1-2l0-2l1-1l8 2l4 3l-1 1l-5 1l-3 2l-3 0zM502,558l1-1l2 1l-1 1zM445,556l1-1l6 0l1 1l2 0l2 2l0 2l1 1l-1 1l-5-1l-4-2zM493,549l2-1l3 3l-2 1zM471,553l5-2l3-3l4-1l1 1l-4 4l0 5l5 5l5 2l8 0l4 5l8 3l9 0l1-2l-2-5l-7-6l3-2l2 1l6 7l5 3l9 0l1-1l2 0l2-1l-1-4l1-1l2 0l4 2l7 0l4 2l4 4l4 2l4 0l1 1l-6 4l-3 0l-4-5l-8-5l-5 0l-2 1l0 5l-1 1l-13-1l-7 3l-12 1l-2 1l-10-7l-7-2l-8-4zM595,544l2-1l1 2l-1 1zM498,544l4-3l4 0l12 6l2 3l-2 1l-7-4l-3 0l-1-1l-7 0zM687,535l1-1l2 0l16 6l-2 2l-2 0l-4 2l-5 0l-2-2l-1-4zM599,535l1-1l3 0l1 1l6 1l2 2l11 6l-1 1l-3 0l-1-1l-14-2l-3-3zM715,534l2-1l4 2l20 4l3 2l-1 1l-19 0l-1-1l-3 0zM653,533l1-1l6 1l1 1l8 2l9 5l3 0l2 2l-2 2l-7 0l-9-5l-8-1zM623,531l1-1l3 0l4 4l5 3l7 1l1 1l7 0l1 1l2 0l1 2l-2 2l-17 0l-4-3l-1-3zM567,531l2-1l9 5l2 2l5 2l2 2l-2 2l-6 0l-1 1l-2 0l-1 2l-3 2l-6-4l2-2l5 0l2-2l-2-4zM151,508l-2 1l0 2zM526,503l3 2l0 2l1 1l-1 2l-1 0l-2-3l0-2l-1-1zM227,505l-1-1l-7 0l-5 2l-4 3l-1 2l2 1l1-1l9-1l5-2l1-1zM732,502l1-1l5 0l11 8l2 0l1 1l6 0l1 1l3 0l3-2l0-2l-2-3l1-1l5 1l4 2l10 1l6 5l1 3l-1 1l-3 0l-6-3l-9 0l-4 2l-9 1l-1 1l-10-1l-1-1l-3 0l-2-2l-1-4zM506,508l2-1l2 2l4 11l6 7l3 7l2 1l4 5l7 4l12 0l2-1l1-4l-6-5l-4-2l-2 0l-4-4l0-2l-3-5l0-3l1-1l4 2l0-6l-5-7l0-3l-1-1l0-5l1-1l4 4l2 4l1 8l3 6l0 2l1 1l0 5l3 6l4 1l3 3l0 3l4 2l2 0l1 2l-4 2l-3 0l-5 4l-6-1l-1-1l-12 0l-3-2l0-5l-3-3l-3-1l-5-7l-2-7l-3-4zM502,492l2 3l0 3l-1 1l-2-2l0-4zM252,492l-3 4l-6 4l-2 0l-1 1l-8 0l-2 1l0 2l2 1l3 4l-5 5l-4 2l-3 0l-1 1l-10 2l-3-2l0-2l-2-1l-6 0l-1 1l-4 0l-1 1l-5 0l-1-1l-11 0l-1-1l2-2l4 0l6-3l3-3l4-2l8 0l4-2l4 0l1-1l5-1l7-4l2 0l5-4l11-1l1-1l7 1zM511,488l2 2l0 4l-1 1l-2-3l0-3zM520,485l1 0l2 3l0 3l-1 1l-1 0l-2-3l0-3zM569,485l-1 1l0 4l5 4l1-1l0-4l-2-3zM525,481l2 0l4 6l0 4l1 1l0 2l-1 1l-7-7l0-6zM536,479l2 0l1 1l5-1l4 4l1 2l0 7l6 9l1 6l6 11l2 8l2 3l-1 1l-7-3l-3-4l-2-5l-2-2l0-2l-2-3l-1-4l-5-6l-1-7l-5-6l-2-4l0-4zM613,477l-1 1l0 5l4 2l1-1l0-4zM604,477l-1 1l0 5l3 3l3 0l1-2l-1-3zM621,476l-1 1l1 4l2 2l2 0l1-1l-1-4zM724,472l2 1l5-1l3 3l1 4l5 8l0 4l-1 1l-4-2l-2-5l-10-11zM504,472l2 2l0 2l1 1l-1 2l-3-2l0-4zM739,470l1-1l3 1l3 4l-1 1l-3-1zM278,469l-3 4l-6 3l-5 5l-6 0l-1-1l2-2l3-1l3-4l11-5zM683,466l0 1l2 1l0-2zM512,467l1-1l4 1l2-2l2 0l3 3l0 2l1 1l0 5l-1 1l-2 0l-3-2l-3 2l-3-3zM529,463l5 4l2 4l-2 4l-1 0l-5-6l0-5zM714,462l1-1l5 3l2 3l0 2l-2 1l-5-4zM724,461l2-1l3 3l0 2l-1 1l-2 0l-2-2zM537,463l2-2l4 1l0-1l2-1l6 6l0 2l1 1l-1 4l-1 1l-3-2l-3 0l-3 2l-4-4zM733,460l1-1l2 3l-2 1l-1-1zM665,459l5 5l0 3l-1 1l-3-1l-3-4zM578,464l0 5l-1 1l-4-3l-3 0l-3 4l-1-1l-3 0l-2 3l-1 0l-6-6l0-6l1-1l4 2l3 0l2-3l5 1l2-3l1 0zM674,456l4 3l3 0l2-2l3 2l1 2l0 5l7 8l0 4l-2 3l3 5l0 3l3 6l0 2l-1 1l-4-3l-1-3l-6-8l-2-5l-4-4l-1-2l0-4l-6-8l0-4zM598,454l7 6l-2 5l-3-1l-4-3l0-3zM691,453l7 5l1 6l3 2l5-1l3 3l1 7l3 3l2 4l0 3l3 5l0 2l-1 1l-2 0l-2-2l-4-7l-4-4l-1-3l-7-7l-2-7l-4-3l-2-3l0-3zM583,452l0 2l1 1l2 0l0-2l-1-1zM700,452l1-1l3 2l2 0l2-4l5 4l1 5l-2 1l-2-2l-2 0l-1-1l-1 2l-3 2l-3-2zM624,452l1-1l2 1l4 0l0-1l2-1l2 2l3 1l1-1l0-3l2-1l8 7l0 5l2 2l3 0l2-2l4 4l1 0l1 1l0 6l2 4l4 4l2 7l3 3l3 5l1 4l5 6l8 2l7 4l12 3l2-1l0-3l-4-5l2-1l5 3l6 1l1 1l5 1l3 2l5 1l4 2l1 2l-2 2l-3 0l-4-2l-14 0l-1 1l-15-1l-1 1l-3 0l-5 2l-6-1l-1-2l3-2l-1-4l-10-6l-3-3l-4-8l-2-2l-3-7l-2-2l-4-1l-2-2l-1-4l-2-3l-5-4l-1-2l0-5l-3-3l-5-2l-1 2l0 4l6 7l1 7l6 7l1 5l4 6l4 10l3 3l5 0l1 1l2 0l2 4l6 4l-3 2l-3 0l-1 1l-7 0l-2-2l-1-5l-3-2l-5-1l-3-3l0-2l-6-8l-1-6l-7-6l0-7l-6-7l0-5l-2-4l-5-4zM718,447l5 5l0 3l-1 1l-5-4l0-4zM658,446l6 5l0 5l-1 1l-5-1l-3 4l-6-5l0-4l2-4l3 2l2 0zM667,445l3 1l4 4l0 5l-1 1l-7-6l0-4zM550,444l4 5l0 6l-1 1l-7-4l-1 1l0 2l-2 2l-2 0l-1-1l-3 3l-6-6l-1-6l2-2l4 2l3-2l2 0l4 3l2-5zM703,437l5 5l-1 4l-2 1l-2-2l-2 0l-1 3l-2 1l-5-5l0-4l2-1l2 2l4 1l0-2zM559,438l0 2l2 1l1-2l-1-1zM584,437l0 2l1 1l3 0l0-2l-1-1zM621,431l-3 0l-2 5l-5-4l-2 0l-2 2l-5-1l-3 4l-5-4l-3 0l-1 2l1 4l6 5l0 7l-1 1l-3-2l-3 0l-2 3l1 2l7 6l-1 2l0 5l1 2l5 4l2 0l1-5l1-1l3 2l3 0l2-4l3 2l2 0l0-3l-1-1l-2 0l-2 2l-7-7l0-7l-8-8l1-2l0-4l1-1l4 3l2 0l3-2l2 2l3 1l3-6l2 3l3 2l2 0l1-1l0-4zM686,427l1 0l5 5l1 2l0 3l-1 1l-6-5l-1-2l0-3zM695,428l2-2l4 0l2-2l2 0l4 5l0 4l1 2l1 0l4 4l1 5l-2 1l-5-4l0-4l-3-3l-3 0l-2 2l-6-5zM689,419l1-1l2 0l1 2l-2 1zM698,411l4 3l0 3l-2 2l-4-2l0-4zM552,408l-1 1l0 3l2 1l2-3zM653,401l-1 1l1 3l4 2l1-2l-3-4zM595,399l-2 2l0 8l2 3l0 7l1 2l4 3l0-4l1-1l0-2l-1-1l0-14l-3-3zM852,528l0-6l-6-4l-5-5l0-1l-7-6l-1 0l-1 5l-5 5l-4 2l-3 0l-1-1l-11 0l-5-3l-1-5l1-1l3 0l4 2l1-1l-5-4l-3-1l-3-3l-3 0l2 4l-2 1l-9-5l-8-6l-3-1l-5-4l-7 0l-1-1l-2 0l-5 3l-2 0l-2-2l1-1l0-6l-3-3l3-3l-12-18l0-2l-2-3l-5-4l-3-6l-2-1l-3 1l-7-6l0-4l-1-2l-1 0l-6-6l0-6l1-1l4 3l-4-5l0 1l-2 1l-7-6l0-5l1-1l-3-6l-1 0l1 1l0 2l-1 1l-2 0l-3-3l0-2l-1-1l-4 0l-1-1l-1 1l-1-1l-7 1l-4 2l-3 0l-1 1l-5 1l-3 2l2 4l4-2l3 2l2 3l0 3l-1 1l-3 0l3 4l1 0l2-3l3 0l2 2l2 4l0 2l-1 1l-2 0l-4-2l-1 1l0 3l6 6l0 5l1 2l1 0l4 4l1 2l0 3l-1 1l-4-2l-3 0l-2 2l-2 0l-2-2l0-5l2-1l3 2l1-1l0-2l-2-2l-2 0l0 2l-1 1l-3-2l-5-5l-1-7l-5-4l-3 2l0 3l7 8l0 3l-2 2l-3-2l-3 0l-2 3l-5-2l-2 5l-8-6l0-5l1-1l7 2l3-4l2 0l1 1l1-1l0-3l-1-1l-6 1l-6-4l-3 7l-2-1l-3 0l-1 1l1 4l5 5l0 3l-2 3l-3-2l-2 0l-3 2l-6-3l-2 4l-6-4l-2 0l-1 1l0 5l6 6l2 9l6 6l0 6l7 7l0 7l5 7l2 8l4 3l5 7l-1 2l-6 0l-9-5l-2-2l-2-5l-6-7l0-2l-2-4l-4-3l-2 4l1 1l0 2l4 5l0 7l8 9l-1 1l-3 0l-4-2l-6 0l-2-2l-1-5l-2-2l-5-12l-5-6l-1-8l-3-3l-3-1l-1 1l0 5l6 7l0 5l1 1l0 2l4 6l0 3l-1 1l-2 0l1 9l-4 2l-2 0l-1-1l0-3l-2-4l-5-5l-1-6l-2-3l-1 2l1 1l0 2l2 2l0 3l-1 1l-2 0l-4-7l-4-4l-1 0l0 5l5 9l0 2l3 7l-2 2l-3-1l-3-3l-6-9l-1-3l-8-9l-3-10l-6-6l0-5l2-1l6 6l2 8l3 1l1-1l0-3l-5-6l1-6l1-1l5 1l0-1l2-1l6 5l0 6l1 1l0 2l4 4l2 1l1-1l0-6l-6-7l0-5l2-2l3 3l4 0l2-3l4 1l1-1l0-3l-2-2l-5 1l-5-4l-1-2l0-7l-8-9l1-6l1-1l4 3l3 0l1-4l-5-4l-3 2l0 2l-1 1l-4-4l-4 0l-1 4l7 8l0 6l-2 2l-2-1l-5 1l-3-2l-3-4l0-9l-7-7l-1 0l-1 5l-1 1l-2 0l-1-1l-8 1l-3-2l-3 4l-3-1l-4-5l0-12l-3-6l-4 2l-2 3l7 10l0 12l6 6l1 2l0 6l-1 1l-6-3l-3 3l-5-5l0-11l-5-4l-1 1l0 5l6 8l-1 7l-2 1l-4-5l-3-13l-3-3l-2 0l-1 1l0 7l3 6l1 8l-2 1l-2-2l-2-5l0-8l-1-2l-3-2l0 6l3 8l0 4l-2 3l-3-5l0-4l-1-1l-1-7l-4-8l-2-2l-1 2l0 11l4 11l0 7l-1 1l-3-3l-3-7l-1 0l-1 5l-1 1l-2-2l-1-5l-1-1l0-4l-1-1l-1 0l-1 2l1 10l-2 3l-2-5l0-5l-1-1l-1-7l-3-8l-2 0l-3 4l-6-7l-7-3l-2 0l-2 2l0 2l-1 1l0 18l-1 1l-2-1l-4-13l-7 0l-2-1l-4 2l-5-4l-6 0l-1-1l-11-1l-2 2l0 5l-1 1l0 2l-3 2l-4-4l0-1l-2-1l-3 2l-6-4l-4 0l-1 1l-5 1l-1-1l-3 0l-3-2l-9 0l-4-3l-4 0l-2-2l0-4l2-3l0-2l4-7l13-12l4-1l-3 0l-16 14l-4 8l-4 4l0 1l-11 10l-5 2l-1-1l-3 0l-1-1l-5-1l-6 5l2 3l-2 2l-3-1l-3-3l-8-1l-6 5l6 1l5 4l-6 4l-9-6l-2 0l-3-2l-5 0l-7 6l6 0l1-1l2 0l2 2l-4 3l-5 0l-7-4l-2 0l-4-2l-9 5l0 1l2 1l9 1l3 3l-4 2l-1-1l-10-1l-4-4l0-1l-3 0l-4-2l-4 4l-7 4l-6-1l-3-2l-9 7l-1-1l-6 0l-4-2l-4 4l-4 2l0 1l4 3l-1 2l-1-1l-2 0l-5-4l-3 0l-4-2l-5 5l-4 2l1 1l8 0l2 2l-1 1l-5 0l-1-1l-4 0l-2 1l-2-1l-1-2l-2 0l-4-2l-4 4l-3 1l-2 2l-5 0l-4-2l-3 0l-6 5l2 0l3 3l0 2l7 0l1 1l0 4l7 2l2-2l10-2l4-2l6 0l1-1l4 0l4-2l6 0l1-1l6-1l8-4l2-2l8-2l0-3l2-2l14 0l3 2l-3 3l-6 2l-3 4l-2 0l-5 3l-4 0l-1-1l-7 1l-3 2l-6 1l-9 4l-3 0l-5 3l-3 0l-4 3l-1 4l7 3l5 0l2-1l1 1l0 3l4 1l5 3l5 1l5 3l1-1l2 2l2 0l5 3l2 0l3 2l2 0l3 2l2 0l3 2l2 0l3 2l2 0l13 6l5 1l5 3l5 1l5 3l5 1l5 3l2 0l3 2l2 0l3 2l2 0l3 2l2 0l3 2l2 0l3 2l2 0l3 2l2 0l3 2l2 0l13 6l2 0l1-1l2 3l2 0l8 4l5-1l3 4l2 0l0-2l2-2l3 0l1 1l-2 4l1 2l2 0l8 4l1-1l3 0l1 1l0 2l2 0l3 2l4-2l2 0l2 5l5 2l7-1l1 1l-1 1l0 2l2 0l3 2l2 0l2-2l0-3l-1-1l2-2l12 0l3-2l6 0l1 2l-6 4l1 2l-1 1l-5-2l-8 0l-2 1l-1 4l2 0l8 4l4 0l1 2l5 2l3-2l2 0l1 1l0 2l-1 1l7 2l3 2l4 0l1-1l10 0l1 1l2 0l0-3l1-1l6 0l3 2l3 0l1-1l6-1l-1-3l2-2l3 0l2 3l7-1l-9-11l-10-5l2-2l3-1l4-5l12 2l4 3l-1 2l-12 0l-1 2l5 6l2 1l7 0l4-3l2-4l6 0l2 2l0 2l-1 1l1 1l0 4l2 0l5-2l0-3l-1-1l0-2l1-1l5 1l4 4l7-1l0-2l-2-3l-7 0l-1-1l-2 0l-2-2l1-1l8 1l1 1l3 0l1-1l7 0l1 1l0 5l1-1l6-1l-2-3l2-2l6 0l1-1l12 0l2-1l3-4l2 1l4 0l1 1l8 0l1-1l4 0l-1-1l0-2l2-2l3 0l4 3l1-1l3 0l5-2l4 0l-1-1l0-3l2-3l2 0l2 2l1 3l2 0l1-1l10-2l0-3l2-2l4 3l4 0l1-1l7-1l-1-1l0-2l2-3l4 1l3 3l8-2l-2-3l-5 0l-10-9l1-1l7 1l4 4l5 2l13 0l1-1l0-3l-1-1l1-2l4 2l4 0l1 1l4 0l1 1l7 1l1-1l5-1l-1-2l0-2l1-1l4 1l3 2l4 0l1-1l3 0l1-1l5-1l0-2l2-2l4 3l5-1l1-1l3 0l1-1l3 0l0-3l2-2l3 1l2 2l10-2l0-4l2-2l2 0l4 3l9-1l1-2l-2-3l-6 0l-1-1l-4 0l-1-1l-3 0l-1-1l-5-1l-5-5l1-1l5 0l1 1l5 0l1 1l8 1l6 4l10 0l1-1l-5-6l1-1l2 0l3 2l2 0l4 2l15 1l1-1l0-3l-1-1l1-1l4 0l11 4l5 0l1-1l7-1l0-3l1-1l4 2l4 0l1-1l8-1zM633,384l-5 3l-4 0l0 2l2 2l0 4l1 2l2 0l1 1l0 2l-2 3l0 5l1 1l1 5l6 8l3-2l3 0l1-1l1-11l1-1l3 0l1-1l0-3l-2-2l-2 0l-3 3l-3-1l-3-5l-1-5l-4 1l-2-2l-1-4l2-2l4 0l1-2z"/>
<path fill="#62b0ff" fill-opacity="0.110" fill-rule="evenodd" d="M422,618l0 3l5 2l9-1l4-2l-3-3l-4-2l-6 0zM439,611l6 5l10 2l1 1l2 0l2 2l3 0l-1-4l-9-5l-7-1l-1-1zM504,607l-2 0l0 5l1-1l2 0l0-3zM396,609l1 2l7 3l0-1l4-3l0-1l-3-2l-7 0zM457,607l2 3l4 2l7 0l1-1l-1-3l-6-4l-4 0zM478,603l0 2l3 2l2 0l3-2l0-1l-2-1zM416,604l1 2l2 0l1 1l5 0l2-2l-1-2l-2-1l-3 0zM448,590l3 6l2 2l6 0l3-2l-1-2l-6-3zM404,595l-3-3l-4-2l-3 0l-9 6l-2 0l-1 1l-6 0l-1 1l0 4l5-2l2-2l21 0l1-1zM409,587l1 5l4 3l7 0l3-2l0-1l-5-4l-2 0l-1-1zM345,590l8 3l3-2l3 0l3-4l-4-3l-7-1l-5 3zM365,584l0 2l1 1l7 3l8 0l2-1l0-3l-3-3l-5-2l-8 1zM422,581l6 5l4 2l12 0l-7-4l-4-1l-4-3l-6 0zM390,580l0 3l1 1l4 1l4-2l0-1l-4-3l-4 0zM631,578l0 3l5-1l-2-3l-2 0zM483,582l0 2l4 4l5 1l1 1l6 0l1-1l3 0l2-2l-4-5l-7-5l2-2l-1-1l-3 0l1 2l-1 2l-7 2zM619,574l-5-1l0 2l-4 6l1 5l1-1l3 0l1-1l5-1l0-2l-1-1l0-5zM437,576l1 2l6 3l7 0l2-1l0-3l-2-2l-5-2l-6 1zM601,576l-1-2l-3-2l-9 0l-5 4l-5-1l-1-1l-4 1l-5 4l0 2l-1 1l-2 0l-5-2l-15-2l-7-3l-5 0l-2 1l1 2l12 6l-2 2l-4 1l-7 7l-6-3l-2-2l2-2l5-2l0-2l-2-2l-6-3l-9 0l-1 1l-2 0l-1 1l0 2l6 6l0 1l-2 2l-3 1l0 2l6 3l11 0l4-3l6 1l1 1l15 0l1-1l2 0l0-2l-8-6l-3-1l-1-1l1-1l6 0l1 1l2 0l4 3l10 4l7 0l2-1l-1-4l2-2l2 0l1 1l10-1l2 1l2 3l3 0l2-1l0-4l-2-4zM457,575l2 2l6 3l0 1l-5 4l3 3l8 3l8 0l-1-4l-9-6l2-2l5-1l1-1l0-2l-3-2l-3 0l-1-1l-10 1zM548,570l2 3l4 1l0-2l-1-1zM504,564l0 2l4 3l7 0l1-1l-1-3l-4-3l-4 0zM456,565l-7-4l-8-1l-3 6l-7-1l-3-2l-7 0l-1 1l-2 0l-3 4l-4 0l-1-1l-9 1l-3 2l0 2l6 1l5-4l8 0l5 2l8 0l1-1l6-1l3-2l2 0l1 1l11 0l2-1zM461,558l0 2l5 3l6 1l1 1l5 0l0-3l-7-6l-6 0zM520,556l0 4l6 5l2 0l1 1l7 0l2-2l-2-4l-7-6l-7 0zM482,554l1 4l4 3l2 0l1 1l4 0l1-1l2 0l2-2l-1-1l0-2l-4-4l-4-2l-3 0zM501,549l0 2l4 4l5 0l2-2l0-2l-3-2l-2 0l-1-1l-4 0zM734,546l-4-1l-6 7l0 3l2 3l3 0l1-1l5-1l0-9zM604,566l-6-6l-6-3l-4-4l4-3l0-3l-3-2l-10 0l-2 2l1 4l-2 2l-2 0l-1 1l-8-7l-3 0l-1-1l-1 1l-5 0l-2 2l1 1l0 2l-1 1l-3 0l-5-2l-11 0l0 2l6 5l5 2l7 0l1 1l3 0l7 6l5 2l6 0l1-1l0-2l-4-4l-10-6l1-1l6 0l9 6l2 0l8 4l9 1l1 1l6 0zM717,560l-2-5l-3-3l2-2l0-3l-4-3l-5 0l-8 3l-10 0l-5 3l-10-1l-8-6l-2 0l-4 5l-2 0l-1 1l-21-2l-9 4l-1 1l0 3l1 1l-1 1l-3-1l-8-9l-2-1l-6 0l0 4l-6 5l1 3l2 2l6 1l1 1l4 0l1 1l11 1l6 4l6 1l1 1l1-1l2 0l0-1l-6-4l-5-1l-4-4l1-1l12 1l1 1l8 0l6 6l2 0l1 1l5 0l1 1l2 0l3-2l-4-5l-6-4l1-1l4 0l14 7l12 1l1 1l2 0l1-2l-4-4l-1-2l1-1l4 0l1 1l8 2l6 4l1-1l3 0zM632,529l0 2l6 5l2 0l1 1l10 0l-1-4l-9-8l-5 0zM651,526l1 2l4 2l12 3l10 6l5 0l1 1l2-1l0-2l-5-4l-5-2l-9-7l-11 0zM479,524l0 5l1 2l4 3l1-1l-1-1l0-3l-1-2zM596,525l0 3l5 4l12 2l7 5l3 0l1 1l3 0l1-1l-3-4l-3-2l-5-1l-9-8l-4-2l-2 0zM613,521l0 2l2 2l7 0l0-2l-3-2zM680,525l5 4l9 5l2 0l7 3l10 1l0-2l-12-10l1-2l5-1l0-2l-2-1l-7 0l-1 1l-2 0l-2 2l-8 0l-3 2zM762,523l4 2l4 0l1 1l5 1l6 4l10 4l9 0l1-1l-6-7l1-2l16 5l1 1l2 0l1 1l3 0l5 3l1-1l4 0l1-1l0-2l-8-7l-10-4l-10-1l-11 5l-10-4l-7-1l-5 2l-4 0zM741,525l0 3l5 3l9 1l1 1l8 0l9 5l3 0l1-1l-3-3l-4-1l-5-3l-7-8l-2 0l-3-2l-5-1zM715,527l0 1l6 5l10 2l1 1l9 0l0-2l-12-9l-4-6l-5 0l0 5zM172,521l2 0l5 3l5 1l3 2l4-3l2 2l0 3l19 8l1-2l0-4l7-11l-3 0l-6 3l-9 0l-3-2l0-2l-1-1l-14 0l-1 1l-10-1zM461,516l1-1l1 2l-1 1zM591,515l-2 0l-4 2l0 4l1 1l4 0l3-4zM158,515l4 2l9-5l-1-1l-9 0l-3 2zM838,510l-1 5l-4 7l0 3l6 3l2 3l5-1l1-1l3 0l0-8l-4-3l-7-8zM523,510l-1 1l0 4l-2 2l-3-1l0 3l1 1l4 0l5 4l2 7l3 3l0 5l1 1l5 2l9 0l1-1l0-2l-3-3l-4-2l-4 0l-4-4l0-2l-2-2l-2-5l0-4l-2-4zM458,507l3 3l0 2l1 1l0 2l-1 1l-3-3l0-2l-1-1l0-2zM541,506l0 4l6 10l0 6l1 1l0 2l3 2l2 0l3 3l0 3l2 2l3 0l1 1l9 0l1-1l-4-5l-11-5l-2-2l-7-11l-1-6l-4-4zM558,503l0 4l6 8l1 7l3 5l5 1l4 4l8 5l2 0l1 1l8 0l0-2l-6-6l-6-3l-7 0l-3-3l-1-4l-7-6l-3-8l-3-3zM800,501l2 3l5 2l-4-2zM466,500l5 6l1 4l-2 2l-4-5l0-4l-1-1zM746,502l1 3l5 3l3 0l1 1l4 0l2-1l0-2l-7-7l-6-1zM765,498l0 2l1 1l5 2l3 0l1 1l6 0l1-1l2 0l8 8l4 2l2 0l1-1l0-2l-1-1l-3-1l-5-4l-4 0l-4-4l0-1l-7-2l-2-2l-4 0zM526,495l0 2l2 1l0-2zM443,495l1-1l2 3l-1 1zM517,492l-1 2l0 5l5 6l1-1l0-7zM163,495l-2-2l-4-1l-1 1l-2 0l-3 4l2 1l7 0l2-1zM121,493l8 4l7 0l0-1l-3-1l-3-4l-2-1l-3 0zM534,489l0 6l4 4l2 0l0-5l-5-5zM184,491l-4-2l-2 1l0 3l3 0zM551,488l0 4l1 2l4 3l1-2l-1-4l-3-3zM578,485l1 3l2 0l0-1zM150,487l-4-2l-4 4l-4 2l1 1l4 0l5-2zM654,484l0 4l5 6l2 7l2 3l2 1l7 0l0-2l-3-6l-5-6l-1-4l-2-2zM596,483l0 2l2 1l-1-3zM160,484l1 1l12 0l-2-4l-5-2l-5 5zM671,480l0 4l5 6l2 4l0 2l3 5l5 2l4 0l4 3l4 1l3 2l6 0l0-1l-5-5l-6-3l-2 0l-2-2l0-2l-3-6l-4-4l-3-7l-3-1l-2 3zM738,476l0 4l3 4l2 6l1 1l4 0l4-3l0-4l-4-2l-5-5zM546,475l-1 1l3 3l1-1l0-2l-1-1zM470,475l0 5l3 3l1-1l0-5l-2-2zM631,474l-1 1l0 2l1 2l3 1l1-2l-1-2zM527,474l0 5l4 4l2 0l0-5l-1-2l-3-2zM180,479l2 2l5 2l3 0l1 1l5-1l0-3l-4-4l-2 0l-4-2zM696,473l0 5l3 4l-1 10l4 6l2 1l4-1l7 6l10 2l1 1l3 0l5 2l0-2l-4-2l-9-8l-2-1l-6 0l-1-1l0-5l-1-2l-7-8l-1-3l-4-4zM647,471l-1 2l1 3l3 3l2 0l1-1l-1-4l-2-2zM554,471l0 4l4 3l1-1l-1-4zM571,470l0 3l3 2l1-1l0-3l-1-1zM478,470l-2 3l0 3l5 7l2 10l6 7l2 9l4 4l2 0l2-2l2 0l3 4l0 9l6 6l2 6l5 5l3 0l0-1l-4-3l-4-8l-1-6l-7-10l0-7l-2-4l-2-2l-2 0l-3 2l-3-4l0-6l1-1l4 1l1-2l0-4l1-1l8 9l0 7l2 4l2 2l3 1l0-6l-7-9l0-9l-3-3l-4-1l0 4l-2 2l-3-3l-2 0l-1 5l-1 1l-2-1l-4-5l-1-8zM204,472l1 1l-1 2l0 4l4 2l19 0l1-1l11 0l1-1l4 0l3-2l-4-2l-5 0l-1-1l-3 0l-5 2l-7 0l-6-3l-7-1l-3-2zM714,469l-1 1l0 4l5 6l0 4l2 5l2 2l0 2l2 2l2 0l3 2l4 0l0-2l-1-1l1-5l-5-8l-7-6l-2-4zM665,469l-1 1l0 2l4 4l1 0l1-2l-1-1l0-2zM580,468l1 4l2 1l2-2l-2-3zM732,467l1 3l3 0l-1-3zM673,466l0 3l3 2l0-3zM598,465l-1 1l0 2l4 3l1-1l0-2zM486,465l0 7l4 5l2 1l1-1l0-2l2-2l5 1l1-5l-2-3l-4-1l-3 4zM231,467l-5-2l-6 5l1 1l7 0l1-1l2 0zM606,465l1 2l3 0l-1-3l-2 0zM690,462l-1 1l1 3l2 2l3 1l0-4l-3-3zM740,461l1 5l1 1l3 0l1-1l0-2l-2-2zM251,466l-1-4l-2 0l-1-1l-3 1l-4 3l1 1zM708,460l0 2l3 2l0-3l-1-1zM624,460l-1 1l0 3l3 3l2 0l1-1l-1-3zM514,460l0 3l2 1l1-2zM641,459l-1 1l0 2l3 3l2 0l0-3zM521,459l0 3l4 3l1-2l-3-4zM503,459l-1 1l0 6l7 8l0 8l3 4l4 2l1-5l-1-1l0-2l-6-7l0-8l-6-6zM530,457l-1 1l1 1l0 2l4 3l1-1l0-3l-3-3zM268,457l-3 0l-4 4l-1 0l6-1l2-1zM717,456l-1 1l1 3l4 1l-1-4zM547,456l0 3l4 3l1-1l0-2l-3-3zM667,455l-1 1l1 2l3 2l1-1l0-2l-2-2zM556,455l0 2l2 2l3 0l0-2l-2-2zM726,454l0 3l1 1l2 0l1-2l-2-2zM591,453l1 2l2 0l-1-2zM684,452l0 2l3 2l1-1l-2-3zM574,452l-1 1l0 3l4 3l1-1l0-3zM734,450l-1 1l0 4l6 3l1-1l0-3zM600,450l0 2l2 2l2 0l-1-3zM693,449l0 2l2 2l2 0l0-2l-2-2zM617,448l-1 2l3 3l2 0l0-3zM482,447l-1 2l3 7l0-6zM710,446l1 3l3 1l0-2l-2-2zM643,446l2 3l2 0l-2-3zM661,444l0 1l2 1l0-1zM499,444l1 5l1-2zM719,442l0 3l4 3l1-1l0-2l-3-3zM669,441l2 4l3 0l-1-3zM533,441l0 2l1 1l2 0l0-2l-1-1zM522,441l0 2l4 4l2 0l0-3l-3-3zM541,440l-1 2l3 2l1-2l-1-2zM686,438l0 1l4 3l0-2l-2-2zM549,438l0 3l4 3l1-1l0-3l-2-2zM577,437l0 2l2 0l0-1zM567,437l0 3l1 1l2 0l0-2zM593,436l0 2l3 2l0-3l-1-1zM610,435l1 2l2 0l-1-2zM620,434l0 2l2 1l0-2zM712,431l0 2l4 4l1 0l0-3l-2-2zM645,430l0 2l2 2l2 0l0-2l-2-2zM663,428l0 2l3 2l0-2zM704,418l0 2l3 3l2 0l1-1l-3-4zM493,526l-4-5l-2-11l-5-7l-1-9l-1-2l-5-4l-3 3l-3-3l-1-7l-5-6l-2-4l-1 0l-1 2l0 8l5 8l0 2l1 1l0 6l-1 1l-4-4l-2-5l0-5l-6-8l-3-8l0-10l-4-5l-3-7l-2-2l-2 2l0 3l-1 1l0 10l1 1l0 6l1 1l0 5l1 1l0 5l1 1l0 7l-1 1l-5-6l-2-10l-1-1l-1-6l-2-5l-2 1l0 2l-2 2l-1-1l0-2l-3-3l-5 3l-3-4l-1-3l-3-3l-3 1l-4-4l-2 0l-2 2l0 15l1 1l0 6l1 1l0 6l1 1l-2 2l-3-5l-3-12l-1-1l-1 1l0 2l-1 1l1 5l-1 1l-2-2l0-4l-2-2l0-2l-2-4l-2-2l-3 3l-2 0l-8-7l0-4l-1-1l-3 0l-1 1l-7 0l-3 2l-2 0l-3-3l-4 0l-1 1l0 7l-1 1l-5-6l-4 0l-6-7l1-4l8-13l0-2l2-3l13-13l-13 12l-4 8l-4 4l0 1l-11 10l-5 2l-1-1l-3 0l-1-1l-5-1l-4 4l-1 0l3 1l2 3l-3 3l-4 2l-2 0l-3-3l-2-4l-2-1l-4 0l-3 3l1 1l11 2l2 3l-4 4l-8 3l-2 4l-5 2l-13 10l-18 0l-3 2l-9 2l1 1l12 0l1 1l6 0l2 3l-10 9l-4 2l-3 3l-1 3l-10 10l-8 11l-2 9l11 5l2 0l3 2l5 1l5 3l5 1l5 3l5 1l5 3l2 0l3 2l2 0l13 6l2 0l3 2l2 0l3 2l2 0l3 2l2 0l3 2l2 0l3 2l2 0l3 2l2-3l4-1l1 1l-1 5l4 2l5 1l1-1l10-1l1-1l13 0l1-1l3 0l3-2l0-2l-6-2l-1-1l2-2l12 0l5-4l4-1l2-3l5 3l9 0l6-3l7 1l3-2l6-1l3-4l3 0l5 2l10-1l1-1l0-4l-1-1l1-2l2 0l1 1l6 0l4 3l6 0l1-1l0-4l-2-3l0-3l3-4l-3-8l0-3l1-1l4 3l1 4l2 3l6 6l1 5l2 2l2 0l1-2l-6-5l-1-7l-5-9l0-3l-1-1l0-4l1-1l8 8l2 5l2 2l0-3l-3-4l0-5l3-2l3 3l1-1l0-3l2-2l1 0l4 4l2 7l3 4l2 0zM632,404l-1 1l0 2l1 1l0 5l2 3l3 1l3-3l0-2l-3 0l-1-1l0-2l1-1l2 0l1 1l0-2l-6-3zM675,402l1 5l3-2l3 0l4 3l0 2l5 3l2-1l0-1l-7-6l0-3l-2 0l-1 1l-2-1l-1-2l-2 0z"/>
<path fill="#62b0ff" fill-opacity="0.110" fill-rule="evenodd" d="M423,621l5 2l3-2l4 0l2-1l0-1l-2-2l-7-1l-2 1zM447,613l0 1l2 1l4 0l-3-2zM397,611l4 2l2 0l3-3l-2-2l-5 0zM460,606l0 2l2 2l6 0l-3-4l-2-1l-1 1zM391,594l0 1l3 2l6 0l1-1l0-2l-2-2l-2 0l-1-1l-3 1zM513,593l1 2l2 0l1 1l9 0l1-1l-2-3l-4-2l-6 1zM412,589l0 2l5 3l4-1l0-2l-3-2zM536,592l1 2l2 0l1 1l5 0l1-1l6 1l2-1l-2-3l-8-4l-4 1zM359,587l-4-3l-3 0l-1 1l-2 0l-2 2l-1 3l3 2l4 0l3-2l2 0l1-1zM464,585l2 3l2 0l1 1l7 0l0-2l-6-4l-4 0zM368,584l0 2l5 3l7 0l1-1l0-2l-4-3l-8 0zM555,583l6 5l4 2l8 0l0-3l-5-3l-6-1l-1-1l-5 0zM511,581l0 2l6 4l5 0l6-3l-1-2l-6-3l-6 0zM484,583l3 4l5 1l1 1l6 0l4-2l0-2l-2-2l-7-4l-6 1zM618,577l-2 0l-4 4l0 3l1 1l6-1l1-1l-1-1l0-4zM571,579l3 4l2 0l1 1l6 0l2-2l0-3l-5-3l-5 0zM440,577l3 2l3 0l1 1l4-1l0-2l-3-2l-6 0zM587,574l0 3l3 2l4 0l4-2l0-2l-2-2l-7 0zM462,575l0 1l3 2l8 0l2-1l-2-3l-3 0l-1-1l-2 1l-4 0zM507,565l0 1l3 2l3-1l0-2l-1-1l-4 0zM420,566l2 3l9 0l1-1l-1-2l-5-2l-2 0zM443,565l1 1l8 0l0-1l-3-2l-4 0zM653,559l1 5l3 2l4 0l1 1l4-1l0-1l-4-4l-4-2zM559,559l1 3l4 4l5 2l4-1l0-2l-4-3l-6-3zM465,559l0 1l3 2l7 0l-1-3l-4-2l-2 0zM522,557l0 4l4 3l3 0l1 1l5 0l1-1l0-2l-6-6l-2-1l-4 0zM578,557l0 2l7 4l3 0l5 2l6 0l1-1l-3-3l-12-7l-3 0zM540,555l4 3l4 0l1-1l0-1l-5-1l-1-1l-2 0zM733,552l-3 0l-2 2l0 4l5-1zM670,554l0 3l3 3l4 2l5 0l1 1l6 0l1-1l-11-9l-6-1zM602,556l0 1l4 3l3 0l5 2l10 0l0-2l-3-3l-9-6l-3 0l-4 2zM484,554l0 3l4 3l5 1l4-2l0-2l-2-3l-5-3l-2 0zM627,553l0 2l1 1l5 1l1 1l8 0l1-1l2 0l0-3l-5-4l-4 0l-1 1l-3 0zM504,550l0 2l1 1l3 0l1-1l-2-2zM557,549l1 2l4 0l-1-2zM701,549l0 2l1 1l0 2l-1 1l3 3l4 2l1 2l7-1l-1-3l-3-3l-4-2l0-5l-1-1l-4 0zM579,547l2 3l6 0l1-1l0-2l-2-1l-5 0zM422,540l1 0l2 3l0 3l-1 1l-3-3l0-3zM535,537l0 2l1 1l4 0l1 1l4 0l1-1l0-1l-5-4l-4 0zM560,533l-1 2l0 2l1 1l9 1l0-2l-3-3zM669,530l8 7l6 1l-3-4l-4-2l-2 0l-3-2zM581,530l3 4l5 2l4 0l0-1l-4-4l-4-2l-3 0zM416,527l2 3l-1 2l-2-1l0-3zM692,529l1 2l5 3l6 1l1 1l5 0l-2-3l-10-6l-4 0zM635,530l0 3l3 2l2 0l1 1l8 0l0-2l-6-6l-5-1zM721,528l0 3l4 2l7 1l1 1l5 0l0-2l-8-6l-4-1zM810,526l8 4l5 1l4 3l3 0l-3-4l-7-4l-2 0l-1-1l-6 0zM783,526l0 3l3 3l5 1l1 1l7 0l0-2l-4-4l-6-3l-5 0zM599,526l0 3l3 2l8 0l-1-4l-3-2l-5 0zM744,527l1 2l6 1l1 1l9 0l0-2l-5-5l-4-2l-4 1zM568,521l0 2l1 1l2 0l1-1l-1-2zM507,521l0 2l1 1l1-1l-1-2zM842,519l-2 4l2 7l7-1l0-4l-1-2zM182,523l0 2l2 0l1 1l4-3l5 0l1 1l0 2l-1 1l0 2l1 1l7 3l0-2l2-2l1 1l0 4l5 2l1-6l2-3l0-2l-7 3l-2-4l-7 0l-2-2l0-2l-1-1l-7 0zM440,512l1 0l4 4l0 4l-1 1l-1 0l-3-4l0-3l-1-1zM474,511l0 3l1 1l2 0l0-3l-1-1zM450,510l2 0l2 3l-2 4l-3-2l0-4zM481,506l-1 4l1 2l4 3l1-1l0-4l-4-4zM417,505l4 5l0 4l-1 1l-4-5l0-4zM492,504l0 4l3 2l1-1l0-2zM697,503l1 2l4 1l-2-2l-2 0zM500,503l-1 1l0 2l1 1l2 0l0-2zM384,500l1 1l0 3l-1 1l-1-1l0-3zM749,502l0 3l3 2l4 0l1 1l2 0l1-1l0-2l-6-5l-3 0zM509,500l1 4l2 0l0-3l-1-1zM715,500l0 1l3 2l6 0l-2-3l-4-2zM665,497l-1 1l0 3l4 2l1-2l-1-2zM518,496l0 4l2 1l1-1l0-2zM433,495l5 5l0 4l1 1l0 3l-1 1l-1 0l-4-4l0-2l-1-1l0-6zM383,495l1 1l0 4l-1 1l-1-1l0-4zM535,492l1 4l2 1l0-4l-1-1zM553,490l-1 1l2 3l1-2zM128,490l-3 0l-3 3l6 0zM679,490l0 5l4 6l5 0l3-3l0-2l-2-4l-4-4l-2 0l-2 2zM656,487l0 1l3 2l0-3zM410,486l2 1l2 5l0 9l-1 1l-4-6l0-9zM494,485l0 4l2 0l0-3zM149,486l-2 0l-1-1l-4 4l-3 1l1 1l6-1l2-1zM484,484l-1 1l0 5l1 2l5 5l1 0l0-7zM673,483l0 2l3 3l2 0l-1-4l-1-1zM502,482l-1 1l0 3l3 3l2 0l0-4zM680,481l0 2l2 1l0-2zM740,479l1 3l2 2l1 5l2 1l1-1l2 0l2-2l0-2l-1-1l-5-2l-3-3zM169,480l-2 0l-1-1l-4 4l5 1l1-1l2 0zM510,478l1 5l2 2l2 0l0-4l-3-3zM461,477l-1 2l1 4l6 7l0 2l-1 1l1 6l3 3l3 0l2-3l3 0l1 1l1-1l0-5l-4-3l-4 3l-2-1l-3-3l0-8l-1-2l-3-3zM528,476l0 2l3 3l1-1l0-2l-2-2zM698,475l-1 2l4 6l0 3l-2 4l1 4l3 3l4 0l4-4l0-3l-8-10l-3-5zM181,478l5 3l3 0l1 1l4-1l-3-5l-5-2l-4 4zM648,473l0 2l3 2l0-2zM555,473l0 2l2 1l0-2zM207,475l0 3l4 2l10 0l4-2l13 0l1-1l-16 1l-7-3l-2-2l-5 0zM479,472l-1 1l0 4l5 5l0-6l-1-2zM715,471l-1 2l5 5l1 8l2 2l2 5l5 0l2-2l0-4l-1-2l-10-9l-1-3l-2-2zM487,468l0 4l4 3l1-1l0-3l-2-2zM495,467l0 3l2 2l2 0l0-4l-1-1zM229,466l-2 0l-1-1l-4 4l-1 0l2 0l1 1l5-1zM691,464l2 3l1-1l-1-2zM625,462l-1 1l1 2l2 0l0-2zM504,462l-1 1l0 2l4 4l1 0l1-1l-1-4zM249,462l-3-1l-5 4l7 0l1-1zM314,460l2-1l1 1l0 2l-1 1zM531,459l2 3l1-1zM267,457l-2 0l-2 2l2 0zM735,452l0 2l1 1l2 0l0-2l-1-1zM283,453l1 1l5 0l0-2l-1-1l-3 0zM229,523l0 1l1-1l2 0l3 5l3 0l1 2l2 1l1-1l2 0l1 1l0 4l1 1l0 14l1 1l0-9l2-4l2-1l2 2l0 4l1 1l0 7l-1 1l1 2l1-2l0-9l3-2l1 1l0 4l1 1l0 7l-1 1l3 2l0-8l1-2l3-2l1 1l0 13l4 1l0-9l1-1l2 2l0 10l2 0l1 1l0-7l1-2l2-1l2 2l0 10l2 1l1-1l0-5l1-2l2-1l2 5l-1 6l2 0l1 1l0-6l3-3l1 1l0 9l3 2l2 0l11 5l2 0l0-1l4-3l3 0l1-1l1 1l4 0l1 2l-5 2l-2 3l6 3l2-2l2 0l1-1l6 0l2-2l0-1l-8-3l-1-1l1-1l6 0l4-2l5 1l4-3l16-1l1-1l0-3l3-3l2 0l1-1l0-6l-1-1l0-2l1-1l8 7l3-2l3 1l2 2l-1 6l5 0l1-1l0-2l-1 0l-4-4l1-2l0-4l-1-1l0-2l-3-4l0-3l2-2l3 3l2 6l6 7l1 6l2 1l4 0l8-3l0-3l-5-7l0-5l1-1l3 1l3 3l2 5l3 3l2 1l9 0l1-1l0-4l-1-1l0-3l-3-5l0-3l2-1l3 3l1 3l3 2l0-3l-3-5l0-4l2-3l4 4l2 7l9 10l1-1l-2-3l0-7l-5-9l0-5l1-1l1 1l3 0l2-4l2 0l3 2l2-1l0-3l-2-4l-4-4l0-9l1-1l7 7l1 6l4 5l2-1l0-4l-4-4l-2-4l0-6l-7-7l0-8l-2-4l-4-1l-3 2l-3-3l0-2l-1-1l-1-19l-2-4l-2 1l0 10l1 1l0 5l2 5l0 10l2 5l4 3l4-5l4 3l0 9l-2 1l-4-3l-2 4l-2 1l-4-4l-2-9l-6-6l-1 0l-1 2l0 5l-1 1l-6-3l-1 2l-3 2l-3-4l-5-25l-3-3l-4 1l-5-6l-1 1l0 12l1 1l0 5l1 1l0 5l1 1l0 6l1 1l0 9l-2 1l-2-2l-3-8l0 9l1 1l0 4l-2 4l-3-3l-2-5l0-3l-4-11l-3-15l-2 0l0 14l1 1l0 9l-1 1l-1-1l0-4l-3-8l-1-10l-3-3l-2 1l-2-1l-3-5l-1-4l-1-1l-3 0l-1-1l0-2l-3 0l-8 5l0 5l-2 1l-4-2l-4-4l-2-5l-7-2l-4 3l-5-4l-4 0l-1-1l0-2l5-2l0-1l6-5l2-4l5-6l2-4l0-2l2-3l6-6l-6 6l-4 8l-4 4l0 1l-11 10l-4 2l-4 0l-2-2l-5-1l-3 3l5 3l0 2l-3 3l-4 2l-2 3l-8 4l-4 1l-2 2l0 2l-1 1l-4 1l-5 4l-3 1l-8 7l-11 0l-1-1l-5 1l0 1l3 2l7 0l2 2l0 2l-17 15l-2 4z"/>
<path fill="#62b0ff" fill-opacity="0.110" fill-rule="evenodd" d="M426,622l1-1l8-1l0-1l-2-2l-4 0l-3 3zM400,609l-2 2l4 2l2-3l-1-1zM393,594l3 2l2 0l1-1l0-1l-3-2zM516,593l0 1l2 1l6 0l1-1l-4-3l-2 0zM539,591l0 2l7 0l1 1l4 0l1-1l-3-3l-5-2zM561,585l5 4l4 0l0-2l-1-1l-2 0l-1-1zM358,587l-3-2l-6 1l-2 3l0 2l4 1l3-2l2 0zM466,586l3 2l5 0l0-1l-4-3l-2 0zM369,585l4 3l6 0l0-2l-3-2l-6 0zM512,582l1 2l4 2l4 0l1-1l2 0l2-2l-2-2l-2 0l-1-1l-6 0zM485,583l2 3l4 2l9 0l2-1l0-2l-2-2l-6-3l-3 0zM617,579l-3 2l0 4l5-1zM573,580l2 2l3 0l1 1l1-1l2 0l1-2l-3-3l-4 0zM444,577l1 1l4 0l0-1l-2-1l-2 0zM337,578l-3-2l-3 0l-3 2l-4 0l-1 1l0 2l1 1l2 0l5-3l5 0zM465,575l1 2l6 0l1-1l-1-1zM589,575l0 2l2 1l5-1l0-2l-1-1l-5 0zM425,567l2 1l2-1l-2-1zM563,561l0 2l3 3l2 0l1 1l2-1l-2-3l-4-2zM655,561l1 3l2 1l2 0l1 1l2 0l1-1l0-1l-4-3l-2 0l-1-1zM710,558l2 4l1-1l2 0l-3-4zM583,558l0 1l4 3l2 0l1 1l6 0l-1-2l-7-4l-4 0zM523,558l0 2l3 3l2 0l1 1l5 0l1-1l0-1l-7-6l-3 0zM674,557l0 2l4 2l4 0l1 1l3 0l1-1l-8-6l-3 0zM630,554l1 2l6 0l0-1l-2-1zM605,556l0 2l5 2l3 0l1 1l5 0l2-1l-2-3l-5-3l-6 0zM485,555l1 3l4 2l2 0l4-2l-1-3l-4-3l-3 0zM409,551l-2 3l-4 0l0 4l2 2l5-2l3 0l0-3zM429,544l0 4l2 1l0-2zM347,543l2-1l2 4l-2 1l-2-2zM538,537l1 2l2 0l1 1l2-1l0-1l-3-2l-2 0zM563,536l1 1l3 0l-3-2zM698,530l2 3l2 1l4 0l-2-2l-4-2zM725,530l0 1l4 2l7 1l0-1l-5-4l-5 0zM637,530l0 3l1 1l2 0l1 1l6 0l0-2l-3-3l-2-1l-4 0zM209,529l-2 2l0 4l2-1zM844,528l0 2l4-1l-1-2l-2 0zM786,528l0 2l3 2l2 0l1 1l5 0l-3-4l-4-2l-3 0zM749,527l1 2l7 0l0-1l-4-3zM196,525l-1 5l5 2l2-4l0-3zM391,519l1 0l3 4l0 3l1 1l-1 2l-1 0l-4-4l0-5zM188,522l4 0l1-2l-4 0zM448,517l-1 1l0 4l2 2l2 0l1-1l0-2l-1-2zM456,516l-1 1l0 2l4 3l1-2l-1-2zM401,515l2 2l0 3l-1 1l-2-2l0-3zM465,513l1 4l2 1l1-2zM408,511l4 4l0 5l-1 1l-5-4l0-4zM482,509l0 2l1 1l2 0l-1-3zM343,508l2 3l0 2l-1 1l-2-2l0-3zM426,502l2 0l3 3l-3 6l-4-3l0-2zM751,502l0 2l2 2l3 0l1 1l2-1l-2-3l-4-2zM440,501l0 8l6 5l3-8l3 2l2-1l0-3l-2-2l-2 0l-1 1l0 3l-1 1zM458,497l-1 1l0 3l5 5l1-1l0-4l-4-4zM479,494l-1-1l-3 0l-2 3l-3-2l-2 0l-1 1l0 2l1 2l3 2l3-4l5 0zM687,491l-3 0l-3 3l1 4l3 2l4-2l0-4zM127,490l-2 0l-2 2l4 0zM434,488l-1 2l1 4l5 5l1 0l0-6l-3-4zM485,487l-1 1l0 2l4 5l1-1l0-4zM336,486l2 4l0 5l-1 1l-2-4l0-5zM148,486l-2-1l-4 4l-3 1l5 0l2-1zM745,484l0 4l4 0l1-1l-2-3zM502,484l1 3l2 0l0-2l-1-1zM453,482l-2 1l-1 2l-2 0l-4-2l-1 4l4 5l2-1l0-2l2-2l5 1l0-2zM721,480l0 5l5 7l2 0l2-2l-1-5l-4-4zM511,480l1 3l2 1l0-3l-1-1zM345,479l2 1l0 7l-1 1l-2-3l0-5zM329,479l2-1l2 2l-2 1zM168,480l-2-1l-3 3l5 0zM462,478l-1 2l1 1l0 2l3 2l1-3l-1-2zM699,476l0 2l3 3l-1 12l2 3l3 0l4-3l0-3l-9-10l0-2zM479,474l1 4l2 0l-1-4zM209,475l0 3l2 0l1 1l7 0l-2-3l-4-2zM183,477l4 3l5 0l-3-5l-2 0l-1-1zM412,473l-1 1l0 3l3 7l0-6zM488,470l0 2l1 1l2 0l0-2l-1-1zM496,468l0 1l2 1l0-2zM228,466l-2-1l-3 3l1 1l2 0l2-1zM505,464l0 2l2 1l0-2zM402,464l-1 1l0 3l1 1l0 4l1 1l1 11l2 5l1-1l0-6l-1-1l0-4l-2-5l0-5zM248,462l-2-1l-4 3l5 0zM284,452l1 1l2 0l0-2l-2 0zM239,515l0 2l2 0l1 1l1 4l3 0l2 2l0 9l1 0l4-4l1 1l1 7l4-3l2 3l0 6l1 1l4-4l1 0l1 1l0 5l1 2l1 0l3-4l2 2l0 5l1 2l1 0l1-2l3-2l1 1l1 7l1 1l3-3l2 0l1 1l1 6l1-2l3-2l3 4l0 9l1 0l0-2l3-3l1 1l0 6l10 4l0-1l5-4l10 0l3-2l16-1l1-1l0-2l-3-4l0-2l-1-1l1-1l2 0l7 8l3 0l3-2l1 1l3 0l2-3l0-3l2-2l4 0l0-4l-2-4l0-3l2-2l2 1l5 6l2 0l0-2l-1-1l0-5l5-4l2-4l1 0l6 6l1 5l5 5l2 0l0-2l2-3l2 0l1 1l1-2l0-4l-1-2l-3-2l-1 4l-1 1l-2 0l-4-5l0-5l1-1l5 3l1 0l3-4l3 1l1 1l2 8l4 3l2 0l0-6l-1-2l-4-3l0-2l-1-1l0-5l1-1l1 0l5 5l1 7l3 3l4 2l1-5l2-2l4 1l1-5l-5-4l-1 2l-3 2l-4-5l0-4l1-1l4 2l2 0l2-3l2 0l3 3l0 4l1 2l7 6l2 7l2 2l2-1l-1-4l-3-3l0-2l-1-1l0-6l-1-2l-4-3l-3-10l-7-6l1-2l0-6l-2-3l-4 0l-2 3l-2 0l-5-3l0 9l7 8l0 7l-1 1l-1 0l-5-5l-1-2l0-4l-2-4l-4-3l-2 0l-1 3l-3 3l-1-1l-2 0l-1 1l0 3l-2 2l-2-1l-6-7l0 11l-1 1l-2 0l-4-4l-2 0l-2 3l-3-4l-1-8l-1-1l0-3l-1-1l0-3l-2-5l0-4l-1-1l-1-12l-3-6l-2 0l-3 2l-4-5l-2 0l-1 1l-1 5l-2 4l0 3l1 1l0 4l-1 1l-2-2l0-9l-1-2l-5-4l-4 0l-3 2l-2-2l-1-3l-3 0l-7-5l-2 0l-1 1l1 2l0 4l5 2l2 3l0 2l-2 1l-1-1l-5-1l-5-6l-4 1l-2-2l-2-4l2-2l4 2l3-3l0-4l3-3l3-1l2-2l0-2l-4 3l-2 3l-6 0l-4-4l-2 0l-2 2l5 2l2 2l-1 2l-3 3l-3 1l-4 5l-4 1l-3 2l-5 1l-2 2l0 3l-1 1l-4 0l-3 3l-6 3l-7 7l-3 1l-1 4l-3 5l-6 4l-9 9zM338,426l-3 6l-8 9l-1 3l2-2l1-3l5-5z"/>
<path fill="#62b0ff" fill-opacity="0.110" fill-rule="evenodd" d="M402,610l-2 0l-1 2l2 1l1-1zM519,593l0 1l4 0l-1-1zM542,591l1 1l6 1l-2-3l-4 0zM349,591l7-2l1-2l-2-1l-4 0l-2 1zM372,585l0 1l4 1l0-1zM514,582l2 3l5 0l3-2l-3-2l-6 0zM486,583l1 2l3 2l5 0l1 1l5-2l-2-3l-4-2l-5 0zM576,580l1 1l2 0l1-2l-3 0zM590,576l3 1l1-2l-3 0zM566,563l1 2l2 0zM657,562l1 2l4 1l0-2zM588,559l1 2l3 0zM678,558l0 1l2 1l3 0l-3-2zM525,558l0 3l4 2l5 0l0-1l-4-4l-2-1l-2 0zM608,557l0 1l2 1l8 0l-3-3l-6 0zM487,554l0 3l3 2l2 0l3-2l-1-2l-3-2l-3 0zM340,546l3 3l0 4l-1 1l-4-3l0-3zM396,541l0 4l4 3l0-4zM346,538l6 5l0 6l-1 1l-5-4l0-3l-1-1l0-3zM365,534l3 2l0 3l-1 1l-3-2l0-3zM413,534l-1 1l0 2l1 2l3 2l1-1l0-3zM638,532l3 2l5 0l-1-2l-3-2l-2 0zM341,529l4 3l0 2l1 1l0 3l-1 1l-5-5l0-4zM789,529l1 2l4 1l0-2zM373,529l1-1l2 0l3 3l0 2l-2 2l-3-3zM430,528l0 3l1 1l2 0l0-3l-1-1zM201,526l-4 0l-2 4l4 2l1-1zM350,522l5 4l0 3l-2 3l-1 0l-3-4l0-5zM358,521l3 3l0 2l-1 1l-2 0l-2-2zM448,520l0 1l2 1l0-2zM367,510l2 0l3 4l0 8l-1 1l-2 0l-2-2l0-2l-1-1l0-7zM390,510l0 5l6 7l1 7l2 2l3 1l4-4l5 1l0-6l-2-2l-3-1l-2 3l-2 1l-4-4l0-6l-1-2l-5-3zM424,512l0 2l-1 1l1 1l0 2l5 1l2-3l3 1l3 3l0 5l3 4l4 1l0-5l-1-2l-1 0l-4-4l0-5l-1-1l0-2l-2-2l-3-1l-4 5l-1-1zM441,504l0 5l4 3l2-4l-1-2l-3-2zM753,503l1 2l3 0l-2-2zM451,503l-1 2l1 1l2 0l0-2zM400,507l0 5l2 2l2 0l3-5l6 5l0 6l2 3l1 0l4 4l1 2l0 5l3 3l2 0l1-1l0-4l-6-6l0-6l-1-2l-6-5l0-7l-4-4l-2 0l-3 5zM458,499l0 2l4 3l0-3l-2-2zM468,495l0 3l3 2l1-1l0-2l-2-2zM476,494l0 1l2 1l0-2zM429,494l-3 0l-3 4l-5-2l-1 1l0 5l4 4l1 0l3-6l3 0l1 1l1-1l0-4zM685,493l-1 3l1 1l2 0l1-2l-1-2zM485,489l0 2l3 2l0-3l-1-1zM435,489l-1 1l1 4l4 2l0-4zM309,488l1 0l4 4l0 7l-2 3l-3-3l0-2l-1-1l0-7zM704,485l-2 4l0 4l2 2l2 0l3-2l0-4l-4-4zM445,485l-1 1l0 2l2 2l2 0l0-4zM147,486l-1-1l-4 4l-1 0l4 0zM452,484l0 2l2 1l1-2l-1-1zM723,481l-1 1l0 3l4 5l3 0l1-2l-2-3zM463,480l-1 1l2 2l0-3zM211,476l0 1l2 1l3 0l-1-2zM186,474l-1 2l4 3l0-2zM227,466l-1-1l-3 3l3 0zM324,461l-2 0l0 2l1 1l1-1zM247,461l-4 2l2 1l2-1zM250,514l0 13l5-6l1 1l0 9l1 1l4-4l1 1l0 9l1 1l1 0l4-6l2 1l0 5l-1 1l1 4l6-6l1 1l0 5l-1 1l1 4l1 0l5-6l1 1l0 10l1 1l6-6l1 1l-1 2l0 6l5-1l2 2l1 5l1 1l4-2l1 1l0 2l-1 1l0 7l2 0l1 1l2-3l1 1l0 3l2 1l3-4l4-2l9 0l2-2l16-1l0-3l-3-4l0-5l-1-1l1-2l4 3l6 6l0 1l2 0l0-2l-2-2l0-5l1-1l1 0l4 4l0 3l2 2l2 0l1-1l0-4l-2-4l2-2l2 0l4 4l0-3l-1-1l0-8l2-1l5 3l2 0l1-4l2-2l3-1l0-2l1-1l-4-5l0-3l2-2l3 3l0 4l4 4l3 2l2 0l0-6l-6-7l-1-7l-5-4l-4 3l-3 0l-3-3l0-3l-1-1l0-7l-1-1l-1-7l-3-8l0-10l-1-1l0-4l-2-3l-6 3l-3-5l-2 1l-1 5l1 1l0 3l3 3l0 11l-2 2l-1-1l-2 0l0 6l3 4l1 7l-1 2l-2 1l-4-4l0-8l-1-1l0-2l-6-9l0-12l2-3l2 0l1-1l0-3l-5-3l-4 3l-2 0l-4-4l0-1l-3 0l-1 1l0 2l2 4l0 4l3 2l8 9l0 2l1 1l0 10l6 10l0 9l-1 1l-3-2l-3-5l-1-7l-4-6l0-2l-2-4l-1-10l-6-5l-3-6l-3 0l-6-6l-4 0l-5-5l0-2l-2 0l-2 3l-4 3l-2 0l-3 2l-4 0l-2 2l0 4l-2 2l-4-1l-5 4l-3 1l-7 7l-2 4l-3 3l-3 6l0 2zM315,451l-2 0l-4 4l2 0l3-2zM322,445l-3 2l0 1l3-1z"/>
<path fill="#62b0ff" fill-opacity="0.110" fill-rule="evenodd" d="M350,589l1 1l1-1l2 0l1-2l-4 0zM515,583l1 1l5 0l0-2l-5 0zM487,584l2 2l2 0l1 1l7 0l1-1l-2-3l-4-2l-5 1zM526,558l0 2l3 2l4 0l-4-4zM489,554l-1 2l4 2l1-1l0-2zM324,542l1-1l2 1l-1 1zM357,537l3 2l0 3l-1 1l-2 0l-2-2l0-2zM414,536l0 3l2 0zM422,530l0 4l3 2l1-1l0-2l-1-2zM198,526l-2 2l0 2l3 2l1-5zM438,522l1 5l4 2l1-2l-1-1l0-2l-3-2zM411,525l-1-2l-3-2l-3 4l-2 0l-4-2l-1 1l0 3l2 3l3 1l3-4l5 1zM414,516l0 4l1 2l3 2l2 0l0-5l-2-2zM334,515l3 4l0 3l-1 1l-4-3l0-3zM391,511l-1 2l1 1l0 2l3 3l3 1l0-6l-3-3zM437,513l-1-2l-3-2l-4 5l-4-1l-1 1l0 2l2 2l2 0l2-4l6 3l1-1zM401,508l-1 1l1 3l1 1l2 0l1-2l-1-3zM442,505l-1 1l1 3l1 1l3 0l-1-4zM409,503l-2 2l0 2l3 3l3 1l0-5l-1-2zM300,501l3 2l0 5l-1 1l-1 0l-2-3l0-4zM459,500l2 3l0-2zM418,498l-1 1l1 3l2 2l2 0l1-1l0-4zM367,498l0 5l1 2l2 0l-2-7zM469,496l0 2l2 0l0-1zM343,496l0 4l1 2l2 1l0-3l-2-4zM426,495l0 4l3 0l1-1l-1-3zM272,493l1-1l1 2l-1 1zM435,491l0 2l1 1l2 0l0-2l-1-1zM705,486l-2 5l1 2l2 1l2-1l1-2zM445,486l0 2l2 1l1-1zM146,485l-4 4l-1 0l4-1l1-1zM723,483l3 5l2 1l-1-4l-2-2zM289,473l3-2l3 4l4 0l3 3l1 5l-1 1l-5-6l-4 1zM307,470l3 2l1 4l2 2l2 0l2 3l0 4l1 1l-1 1l0 11l-2 3l0 2l-2 2l-4-3l-3-8l0-7l-4-3l2-1l5 3l3 0l1-2l-1-4l-4-2l-2-3l0-4zM329,467l1 1l0 6l1 2l3 1l3 3l2 0l2-8l4-2l-2-2l-2 0l-4 3zM267,485l0 2l2 3l-5 9l-1 8l-3 8l0 4l-1 1l-1 7l2-3l0-3l2-3l0-3l1-1l1-5l5-7l1 2l-1 1l0 4l-4 11l0 4l-1 1l0 5l-1 1l0 2l1 2l1 0l4-7l0-2l3-3l1 1l0 3l-2 5l0 8l2-1l4-8l2-1l1 1l0 4l-2 5l0 5l1 0l4-4l0-1l3-2l1 1l0 3l-2 5l0 4l2 0l5-5l2 0l1 1l-3 6l0 3l5-1l5 6l3 0l2 2l-2 4l0 7l1 0l0-1l4-3l2 2l0 4l0-1l5-4l10-1l3-2l6 0l2-4l2 0l2 2l2 0l-2-4l0-5l-6-7l1-4l1-1l4 1l2 2l0 4l1 2l5 3l2-4l-2-3l-5-3l0-5l-2-4l-4-3l0-7l1-1l3 1l2 2l1 5l2 4l1 0l4 4l0 5l1 1l0 2l5 3l1 0l1-3l2-2l3 0l1 1l1-1l0-6l-6-6l0-2l2-3l1 0l4 4l1 4l3 3l2 0l1 1l2-2l1-5l1-1l1 1l2 0l0-3l-1-1l-2 1l0 2l-1 1l-6-4l0-2l-1-1l0-4l1-1l5 3l1 0l3-4l4 1l1 1l0 5l3 4l4 1l0-4l-1-2l-5-4l0-6l-3-4l-4 0l0 1l-3 2l-4-1l-1 1l0 6l-1 1l-2-1l-5-6l0-11l-1-1l0-5l-2-3l0-3l-1-1l0-5l3-7l0-5l1-1l0-3l-2-2l-1 0l-3 4l0 7l-1 1l0 3l1 1l0 2l-1 1l0 16l-4 7l-5 0l0 6l5 3l2-3l2-1l4 3l0 6l-1 1l-4 0l-3 4l-2 0l-3-2l-1-2l0-5l-2-4l-1 0l-4-4l-2-4l-1-7l-6-10l0-7l-1-1l0-3l-7-7l-1-4l-4 0l-5-6l-3 0l-1 1l-6-8l-2 1l-1 3l-2 2l-5 0l-2 2l-4 0l-2 2l1 4l-2 2l-6-1l-3 3l-3 1z"/>
<path fill="#fff" d="M111.5,494.5L112.0,494.7L112.4,494.7L112.9,494.8L113.4,494.9L113.8,495.0L114.3,495.1L114.8,495.1L115.2,495.2L115.7,495.2L116.2,495.3L116.6,495.3L117.1,495.4L117.6,495.4L118.0,495.6L118.5,495.9L119.0,496.3L119.4,496.7L119.9,497.0L120.3,497.4L120.8,497.7L121.3,498.1L121.7,498.5L122.2,498.8L122.7,499.2L123.1,499.6L123.6,499.9L124.1,500.3L124.5,500.4L125.0,500.4L125.5,500.5L125.9,500.5L126.4,500.6L126.9,500.6L127.3,500.7L127.8,500.7L128.3,500.8L128.7,500.8L129.2,500.9L129.7,501.0L130.1,501.0L130.6,501.2L131.1,501.6L131.5,502.0L132.0,502.4L132.5,502.8L132.9,503.2L133.4,503.6L133.9,503.9L134.3,504.3L134.8,504.7L135.2,505.1L135.7,505.4L136.2,505.8L136.6,506.2L137.1,506.3L137.6,506.3L138.0,506.3L138.5,506.3L139.0,506.2L139.4,506.2L139.9,506.2L140.4,506.1L140.8,506.1L141.3,506.1L141.8,506.0L142.2,505.9L142.7,505.9L143.2,505.9L143.6,506.2L144.1,506.4L144.6,506.7L145.0,507.0L145.5,507.3L146.0,507.6L146.4,507.9L146.9,508.2L147.4,508.5L147.8,508.8L148.3,509.2L148.8,509.5L149.2,509.9L149.7,510.1L150.2,510.1L150.6,510.2L151.1,510.3L151.5,510.4L152.0,510.5L152.5,510.7L152.9,510.8L153.4,510.9L153.9,511.1L154.3,511.3L154.8,511.4L155.3,511.6L155.7,511.7L156.2,512.2L156.7,512.7L157.1,513.1L157.6,513.6L158.1,514.0L158.5,514.4L159.0,514.8L159.5,515.2L159.9,515.6L160.4,516.0L160.9,516.3L161.3,516.6L161.8,516.9L162.3,517.0L162.7,516.9L163.2,516.8L163.7,516.7L164.1,516.6L164.6,516.4L165.1,516.3L165.5,516.2L166.0,516.0L166.4,515.8L166.9,515.7L167.4,515.5L167.8,515.4L168.3,515.2L168.8,515.4L169.2,515.7L169.7,515.9L170.2,516.1L170.6,516.4L171.1,516.7L171.6,517.0L172.0,517.3L172.5,517.7L173.0,518.0L173.4,518.4L173.9,518.8L174.4,519.3L174.8,519.6L175.3,519.7L175.8,519.9L176.2,520.1L176.7,520.3L177.2,520.5L177.6,520.7L178.1,520.9L178.6,521.1L179.0,521.3L179.5,521.5L180.0,521.7L180.4,521.9L180.9,522.0L181.3,522.5L181.8,523.0L182.3,523.4L182.7,523.8L183.2,524.2L183.7,524.6L184.1,525.0L184.6,525.3L185.1,525.6L185.5,525.9L186.0,526.1L186.5,526.3L186.9,526.6L187.4,526.6L187.9,526.5L188.3,526.3L188.8,526.1L189.3,525.9L189.7,525.8L190.2,525.6L190.7,525.4L191.1,525.2L191.6,525.0L192.1,524.9L192.5,524.7L193.0,524.6L193.5,524.5L193.9,524.6L194.4,524.8L194.9,525.1L195.3,525.3L195.8,525.6L196.3,525.9L196.7,526.3L197.2,526.6L197.6,527.0L198.1,527.4L198.6,527.8L199.0,528.2L199.5,528.6L200.0,529.0L200.4,529.1L200.9,529.3L201.4,529.4L201.8,529.5L202.3,529.6L202.8,529.8L203.2,529.9L203.7,530.0L204.2,530.1L204.6,530.2L205.1,530.3L205.6,530.3L206.0,530.4L206.5,530.7L207.0,531.1L207.4,531.4L207.9,531.7L208.4,532.0L208.8,532.3L209.3,532.6L209.8,532.8L210.2,533.0L210.7,533.2L211.2,533.4L211.6,533.5L212.1,533.7L212.5,533.8L213.0,533.7L213.5,533.6L213.9,533.5L214.4,533.3L214.9,533.2L215.3,533.1L215.8,533.0L216.3,532.9L216.7,532.8L217.2,532.7L217.7,532.6L218.1,532.4L218.6,532.3L219.1,532.4L219.5,532.7L220.0,532.9L220.5,533.2L220.9,533.5L221.4,533.8L221.9,534.1L222.3,534.5L222.8,534.8L223.3,535.1L223.7,535.5L224.2,535.8L224.7,536.1L225.1,536.3L225.6,536.3L226.1,536.3L226.5,536.2L227.0,536.2L227.5,536.1L227.9,536.1L228.4,536.1L228.8,536.1L229.3,536.1L229.8,536.1L230.2,536.1L230.7,536.1L231.2,536.1L231.6,536.3L232.1,536.6L232.6,536.9L233.0,537.1L233.5,537.4L234.0,537.6L234.4,537.7L234.9,537.8L235.4,537.9L235.8,537.9L236.3,538.0L236.8,538.0L237.2,538.2L237.7,538.3L238.2,538.3L238.6,538.4L239.1,538.6L239.6,538.8L240.0,539.0L240.5,539.2L241.0,539.2L241.4,539.2L241.9,538.9L242.4,538.5L242.8,538.0L243.3,537.4L243.7,536.8L244.2,536.5L244.7,536.5L245.1,536.7L245.6,537.2L246.1,537.9L246.5,538.8L247.0,539.7L247.5,540.6L247.9,541.4L248.4,541.9L248.9,542.1L249.3,542.0L249.8,541.7L250.3,541.1L250.7,540.2L251.2,539.4L251.7,538.8L252.1,538.5L252.6,538.6L253.1,539.1L253.5,539.9L254.0,540.9L254.5,542.0L254.9,542.9L255.4,543.6L255.9,543.9L256.3,543.8L256.8,543.3L257.3,542.7L257.7,542.0L258.2,541.2L258.7,540.6L259.1,540.3L259.6,540.4L260.0,541.0L260.5,542.0L261.0,543.3L261.4,544.8L261.9,546.3L262.4,547.6L262.8,548.6L263.3,548.8L263.8,548.5L264.2,547.8L264.7,546.8L265.2,545.6L265.6,544.5L266.1,543.6L266.6,543.1L267.0,543.0L267.5,543.4L268.0,544.3L268.4,545.4L268.9,546.7L269.4,548.1L269.8,549.4L270.3,550.3L270.8,550.7L271.2,550.7L271.7,550.3L272.2,549.5L272.6,548.7L273.1,548.0L273.6,547.6L274.0,547.6L274.5,548.0L274.9,549.0L275.4,550.3L275.9,551.8L276.3,553.2L276.8,554.5L277.3,555.6L277.7,556.2L278.2,556.4L278.7,556.0L279.1,555.3L279.6,554.3L280.1,553.2L280.5,552.2L281.0,551.6L281.5,551.3L281.9,551.7L282.4,552.7L282.9,554.0L283.3,555.6L283.8,557.2L284.3,558.6L284.7,559.7L285.2,560.4L285.7,560.5L286.1,560.1L286.6,559.4L287.1,558.5L287.5,557.6L288.0,556.8L288.5,556.2L288.9,555.9L289.4,556.1L289.8,556.8L290.3,557.8L290.8,558.9L291.2,560.1L291.7,561.0L292.2,561.7L292.6,561.8L293.1,561.6L293.6,561.0L294.0,560.1L294.5,559.2L295.0,558.6L295.4,558.3L295.9,558.3L296.4,558.8L296.8,559.7L297.3,560.9L297.8,562.4L298.2,564.0L298.7,565.5L299.2,566.7L299.6,567.7L300.1,568.3L300.6,568.7L301.0,568.5L301.5,568.1L302.0,567.7L302.4,567.3L302.9,567.2L303.4,567.3L303.8,567.6L304.3,568.2L304.8,568.9L305.2,569.7L305.7,570.5L306.1,571.1L306.6,571.6L307.1,571.9L307.5,572.2L308.0,572.4L308.5,572.4L308.9,572.4L309.4,572.4L309.9,572.5L310.3,572.7L310.8,572.9L311.3,573.3L311.7,573.7L312.2,574.2L312.7,574.6L313.1,575.1L313.6,575.3L314.1,575.3L314.5,575.3L315.0,575.2L315.5,575.1L315.9,575.0L316.4,574.9L316.9,574.9L317.3,574.9L317.8,574.9L318.3,575.0L318.7,575.0L319.2,575.1L319.7,575.3L320.1,575.7L320.6,576.2L321.0,576.7L321.5,577.2L322.0,577.7L322.4,578.2L322.9,578.7L323.4,579.2L323.8,579.7L324.3,580.3L324.8,580.8L325.2,581.3L325.7,581.8L326.2,582.2L326.6,582.4L327.1,582.5L327.6,582.7L328.0,582.8L328.5,582.9L329.0,583.0L329.4,583.1L329.9,583.1L330.4,583.2L330.8,583.2L331.3,583.2L331.8,583.2L332.2,583.1L332.7,583.4L333.2,583.6L333.6,583.9L334.1,584.1L334.6,584.4L335.0,584.6L335.5,584.8L336.0,585.1L336.4,585.3L336.9,585.5L337.3,585.7L337.8,586.0L338.3,586.2L338.7,586.3L339.2,586.3L339.7,586.2L340.1,586.2L340.6,586.1L341.1,586.1L341.5,586.1L342.0,586.1L342.5,586.2L342.9,586.2L343.4,586.2L343.9,586.3L344.3,586.4L344.8,586.4L345.3,586.8L345.7,587.2L346.2,587.6L346.7,588.1L347.1,588.5L347.6,588.9L348.1,589.4L348.5,589.8L349.0,590.2L349.5,590.6L349.9,591.1L350.4,591.5L350.9,591.9L351.3,592.2L351.8,592.3L352.2,592.3L352.7,592.4L353.2,592.4L353.6,592.4L354.1,592.5L354.6,592.5L355.0,592.5L355.5,592.5L356.0,592.5L356.4,592.5L356.9,592.5L357.4,592.5L357.8,592.7L358.3,593.0L358.8,593.4L359.2,593.7L359.7,594.0L360.2,594.3L360.6,594.6L361.1,594.9L361.6,595.3L362.0,595.6L362.5,595.9L363.0,596.2L363.4,596.6L363.9,596.8L364.4,596.9L364.8,596.9L365.3,596.9L365.8,596.9L366.2,596.9L366.7,597.0L367.2,597.0L367.6,597.0L368.1,597.1L368.5,597.1L369.0,597.1L369.5,597.2L369.9,597.2L370.4,597.5L370.9,597.8L371.3,598.2L371.8,598.6L372.3,599.0L372.7,599.3L373.2,599.7L373.7,600.1L374.1,600.4L374.6,600.8L375.1,601.2L375.5,601.6L376.0,601.9L376.5,602.3L376.9,602.3L377.4,602.3L377.9,602.4L378.3,602.4L378.8,602.4L379.3,602.5L379.7,602.5L380.2,602.5L380.7,602.5L381.1,602.6L381.6,602.6L382.1,602.6L382.5,602.6L383.0,602.8L383.4,603.1L383.9,603.4L384.4,603.7L384.8,604.1L385.3,604.4L385.8,604.7L386.2,605.0L386.7,605.3L387.2,605.6L387.6,605.9L388.1,606.2L388.6,606.5L389.0,606.8L389.5,606.8L390.0,606.8L390.4,606.8L390.9,606.8L391.4,606.8L391.8,606.8L392.3,606.8L392.8,606.8L393.2,606.8L393.7,606.8L394.2,606.9L394.6,606.9L395.1,607.0L395.6,607.2L396.0,607.6L396.5,608.0L397.0,608.5L397.4,608.9L397.9,609.3L398.3,609.7L398.8,610.2L399.3,610.6L399.7,611.1L400.2,611.5L400.7,611.9L401.1,612.4L401.6,612.8L402.1,612.9L402.5,613.0L403.0,613.1L403.5,613.1L403.9,613.2L404.4,613.2L404.9,613.2L405.3,613.2L405.8,613.2L406.3,613.2L406.7,613.2L407.2,613.1L407.7,613.1L408.1,613.1L408.6,613.4L409.1,613.6L409.5,613.9L410.0,614.1L410.5,614.3L410.9,614.5L411.4,614.8L411.9,615.0L412.3,615.2L412.8,615.4L413.3,615.7L413.7,615.9L414.2,616.2L414.6,616.2L415.1,616.1L415.6,616.1L416.0,616.1L416.5,616.1L417.0,616.2L417.4,616.2L417.9,616.3L418.4,616.4L418.8,616.5L419.3,616.6L419.8,616.7L420.2,616.9L420.7,617.2L421.2,617.7L421.6,618.2L422.1,618.7L422.6,619.2L423.0,619.7L423.5,620.2L424.0,620.7L424.4,621.2L424.9,621.7L425.4,622.2L425.8,622.7L426.3,623.1L426.8,623.5L427.2,623.7L427.7,623.7L428.2,623.7L428.6,623.7L429.1,623.7L429.5,623.6L430.0,623.5L430.5,623.4L430.9,623.2L431.4,623.1L431.9,622.9L432.3,622.7L432.8,622.5L433.3,622.3L433.7,622.4L434.2,622.4L434.7,622.5L435.1,622.5L435.6,622.6L436.1,622.6L436.5,622.6L437.0,622.7L437.0,629.0L437.0,633.0L434.0,631.0L108.5,500.5z"/>
<path fill="#fff" d="M437.0,622.7L437.6,622.5L438.2,622.6L438.8,622.7L439.4,622.9L440.0,623.0L440.6,623.2L441.2,623.3L441.8,623.4L442.4,623.5L443.0,623.6L443.6,623.7L444.2,623.8L444.8,623.9L445.4,623.6L446.0,623.3L446.6,623.0L447.2,622.7L447.8,622.4L448.4,622.1L449.0,621.9L449.6,621.6L450.2,621.4L450.8,621.1L451.4,620.8L452.0,620.5L452.6,620.6L453.2,620.7L453.8,620.7L454.4,620.8L455.0,620.9L455.6,621.0L456.3,621.1L456.9,621.1L457.5,621.2L458.1,621.2L458.7,621.2L459.3,621.2L459.9,620.8L460.5,620.5L461.1,620.1L461.7,619.7L462.3,619.3L462.9,618.9L463.5,618.5L464.1,618.0L464.7,617.6L465.3,617.2L465.9,616.8L466.5,616.3L467.1,616.3L467.7,616.4L468.3,616.5L468.9,616.6L469.5,616.7L470.1,616.8L470.7,616.9L471.3,617.0L471.9,617.1L472.5,617.3L473.1,617.4L473.7,617.4L474.3,617.2L474.9,616.9L475.5,616.7L476.1,616.3L476.7,616.0L477.3,615.6L477.9,615.1L478.5,614.7L479.1,614.2L479.7,613.8L480.3,613.3L480.9,612.8L481.5,612.6L482.1,612.5L482.7,612.3L483.3,612.2L483.9,612.0L484.5,611.9L485.1,611.7L485.7,611.5L486.3,611.5L486.9,611.6L487.5,611.7L488.1,611.8L488.7,611.6L489.3,611.4L489.9,611.1L490.5,610.9L491.1,610.6L491.7,610.4L492.3,610.1L492.9,609.9L493.5,609.6L494.1,609.4L494.8,609.1L495.4,608.9L496.0,608.8L496.6,608.8L497.2,608.8L497.8,608.8L498.4,608.7L499.0,608.7L499.6,608.6L500.2,608.6L500.8,608.5L501.4,608.4L502.0,608.4L502.6,608.3L503.2,608.0L503.8,607.5L504.4,607.1L505.0,606.6L505.6,606.4L506.2,606.3L506.8,606.2L507.4,606.0L508.0,605.9L508.6,605.8L509.2,605.6L509.8,605.5L510.4,605.6L511.0,605.8L511.6,606.0L512.2,606.2L512.8,606.4L513.4,606.5L514.0,606.7L514.6,606.8L515.2,606.9L515.8,606.9L516.4,606.8L517.0,606.8L517.6,606.5L518.2,606.1L518.8,605.7L519.4,605.3L520.0,604.9L520.6,604.5L521.2,604.0L521.8,603.6L522.4,603.2L523.0,602.8L523.6,602.4L524.2,601.9L524.8,602.0L525.4,602.2L526.0,602.4L526.6,602.5L527.2,602.7L527.8,602.9L528.4,603.0L529.0,603.2L529.6,603.3L530.2,603.5L530.8,603.6L531.4,603.7L532.0,603.5L532.7,603.2L533.3,603.0L533.9,602.7L534.5,602.3L535.1,601.9L535.7,601.5L536.3,601.1L536.9,600.7L537.5,600.3L538.1,599.9L538.7,599.5L539.3,599.3L539.9,599.3L540.5,599.2L541.1,599.2L541.7,599.1L542.3,599.1L542.9,599.1L543.5,599.0L544.1,599.2L544.7,599.3L545.3,599.4L545.9,599.6L546.5,599.5L547.1,599.2L547.7,599.0L548.3,598.8L548.9,598.6L549.5,598.4L550.1,598.1L550.7,597.9L551.3,597.7L551.9,597.5L552.5,597.2L553.1,597.0L553.7,596.9L554.3,597.0L554.9,597.0L555.5,597.1L556.1,597.1L556.7,597.2L557.3,597.2L557.9,597.2L558.5,597.2L559.1,597.3L559.7,597.3L560.3,597.3L560.9,597.0L561.5,596.7L562.1,596.4L562.7,596.0L563.3,595.8L563.9,595.5L564.5,595.3L565.1,595.0L565.7,594.7L566.3,594.5L566.9,594.2L567.5,594.0L568.1,593.9L568.7,594.0L569.3,594.0L569.9,594.1L570.5,594.1L571.2,594.2L571.8,594.2L572.4,594.3L573.0,594.2L573.6,594.2L574.2,594.1L574.8,594.1L575.4,593.8L576.0,593.4L576.6,593.0L577.2,592.6L577.8,592.2L578.4,591.8L579.0,591.4L579.6,591.0L580.2,590.6L580.8,590.1L581.4,589.7L582.0,589.3L582.6,589.2L583.2,589.3L583.8,589.5L584.4,589.6L585.0,589.7L585.6,589.8L586.2,589.9L586.8,590.0L587.4,590.1L588.0,590.2L588.6,590.3L589.2,590.5L589.8,590.4L590.4,590.2L591.0,590.1L591.6,589.8L592.2,589.5L592.8,589.1L593.4,588.7L594.0,588.2L594.6,587.8L595.2,587.3L595.8,586.8L596.4,586.3L597.0,585.9L597.6,585.6L598.2,585.2L598.8,584.9L599.4,584.5L600.0,584.1L600.6,583.6L601.2,583.3L601.8,583.5L602.4,583.7L603.0,583.9L603.6,584.1L604.2,584.2L604.8,584.2L605.4,584.2L606.0,584.2L606.6,584.2L607.2,584.3L607.8,584.3L608.4,584.3L609.1,584.3L609.7,584.3L610.3,584.3L610.9,584.1L611.5,583.9L612.1,583.6L612.7,583.3L613.3,583.0L613.9,582.6L614.5,582.2L615.1,581.8L615.7,581.3L616.3,580.8L616.9,580.3L617.5,579.8L618.1,579.3L618.7,578.7L619.3,577.9L619.9,577.2L620.5,576.8L621.1,577.0L621.7,577.3L622.3,577.6L622.9,577.9L623.5,578.1L624.1,578.4L624.7,578.6L625.3,578.9L625.9,579.2L626.5,579.5L627.1,579.8L627.7,580.1L628.3,580.4L628.9,580.6L629.5,580.8L630.1,580.8L630.7,580.5L631.3,580.1L631.9,579.7L632.5,579.3L633.1,578.8L633.7,578.3L634.3,577.7L634.9,577.1L635.5,576.5L636.1,575.9L636.7,575.3L637.3,574.7L637.9,574.1L638.5,573.5L639.1,572.9L639.7,572.7L640.3,573.1L640.9,573.5L641.5,574.0L642.1,574.4L642.7,574.8L643.3,575.2L643.9,575.5L644.5,575.9L645.1,576.2L645.7,576.4L646.3,576.7L646.9,576.9L647.6,577.1L648.2,577.2L648.8,577.1L649.4,577.0L650.0,576.7L650.6,576.3L651.2,575.9L651.8,575.5L652.4,575.1L653.0,574.6L653.6,574.2L654.2,573.7L654.8,573.3L655.4,572.9L656.0,572.4L656.6,572.0L657.2,571.6L657.8,571.2L658.4,570.8L659.0,570.8L659.6,571.1L660.2,571.4L660.8,571.6L661.4,571.9L662.0,572.1L662.6,572.3L663.2,572.4L663.8,572.6L664.4,572.7L665.0,572.8L665.6,572.9L666.2,572.9L666.8,572.9L667.4,572.8L668.0,572.6L668.6,572.5L669.2,572.3L669.8,572.2L670.4,572.1L671.0,571.8L671.6,571.6L672.2,571.3L672.8,571.0L673.4,570.8L674.0,570.5L674.6,570.2L675.2,570.0L675.8,569.7L676.4,569.4L677.0,569.2L677.6,568.9L678.2,568.8L678.8,568.9L679.4,568.9L680.0,568.9L680.6,568.9L681.2,568.9L681.8,568.9L682.4,568.9L683.0,568.8L683.6,568.8L684.2,568.7L684.8,568.6L685.4,568.5L686.1,568.3L686.7,568.2L687.3,568.0L687.9,567.9L688.5,567.7L689.1,567.6L689.7,567.4L690.3,567.3L690.9,567.0L691.5,566.8L692.1,566.5L692.7,566.2L693.3,566.0L693.9,565.7L694.5,565.4L695.1,565.1L695.7,564.8L696.3,564.5L696.9,564.2L697.5,564.1L698.1,564.0L698.7,564.0L699.3,564.0L699.9,564.0L700.5,564.0L701.1,564.0L701.7,564.0L702.3,564.0L702.9,564.0L703.5,564.0L704.1,564.0L704.7,563.9L705.3,563.8L705.9,563.6L706.5,563.5L707.1,563.3L707.7,563.2L708.3,563.1L708.9,562.8L709.5,562.5L710.1,562.1L710.7,561.8L711.3,561.4L711.9,561.0L712.5,560.5L713.1,560.1L713.7,559.6L714.3,559.1L714.9,558.6L715.5,558.0L716.1,557.5L716.7,557.4L717.3,557.5L717.9,557.7L718.5,557.8L719.1,557.9L719.7,558.0L720.3,558.1L720.9,558.3L721.5,558.4L722.1,558.5L722.7,558.7L723.3,558.8L724.0,558.9L724.6,559.0L725.2,558.9L725.8,558.7L726.4,558.5L727.0,558.4L727.6,558.0L728.2,557.5L728.8,557.0L729.4,556.4L730.0,555.9L730.6,555.3L731.2,554.6L731.8,554.0L732.4,553.3L733.0,552.6L733.6,551.9L734.2,551.1L734.8,550.4L735.4,549.6L736.0,549.8L736.6,550.2L737.2,550.6L737.8,550.9L738.4,551.3L739.0,551.6L739.6,551.9L740.2,552.3L740.8,552.6L741.4,552.9L742.0,553.2L742.6,553.5L743.2,553.8L743.8,554.0L744.4,554.0L745.0,553.9L745.6,553.7L746.2,553.4L746.8,552.9L747.4,552.4L748.0,551.8L748.6,551.2L749.2,550.5L749.8,549.9L750.4,549.2L751.0,548.5L751.6,547.8L752.2,547.0L752.8,546.3L753.4,545.5L754.0,544.7L754.6,544.0L755.2,544.6L755.8,545.1L756.4,545.7L757.0,546.2L757.6,546.7L758.2,547.2L758.8,547.6L759.4,548.0L760.0,548.5L760.6,548.8L761.2,549.2L761.8,549.5L762.5,549.8L763.1,550.0L763.7,549.9L764.3,549.8L764.9,549.7L765.5,549.4L766.1,548.9L766.7,548.4L767.3,547.9L767.9,547.3L768.5,546.7L769.1,546.1L769.7,545.5L770.3,544.9L770.9,544.3L771.5,543.7L772.1,543.1L772.7,542.5L773.3,541.9L773.9,541.5L774.5,541.9L775.1,542.4L775.7,542.8L776.3,543.2L776.9,543.6L777.5,543.9L778.1,544.3L778.7,544.6L779.3,544.9L779.9,545.1L780.5,545.3L781.1,545.5L781.7,545.7L782.3,545.5L782.9,545.4L783.5,545.2L784.1,545.1L784.7,545.0L785.3,544.8L785.9,544.4L786.5,544.0L787.1,543.6L787.7,543.2L788.3,542.8L788.9,542.4L789.5,542.0L790.1,541.6L790.7,541.2L791.3,540.9L791.9,540.5L792.5,540.1L793.1,539.9L793.7,540.1L794.3,540.3L794.9,540.5L795.5,540.6L796.1,540.7L796.7,540.8L797.3,540.9L797.9,541.0L798.5,541.0L799.1,541.1L799.7,541.1L800.4,541.1L801.0,540.9L801.6,540.7L802.2,540.6L802.8,540.4L803.4,540.2L804.0,540.1L804.6,539.9L805.2,539.8L805.8,539.5L806.4,539.3L807.0,539.0L807.6,538.7L808.2,538.5L808.8,538.2L809.4,538.0L810.0,537.7L810.6,537.4L811.2,537.2L811.8,536.9L812.4,536.8L813.0,536.8L813.6,536.8L814.2,536.8L814.8,536.8L815.4,536.8L816.0,536.8L816.6,536.8L817.2,536.8L817.8,536.7L818.4,536.7L819.0,536.6L819.6,536.5L820.2,536.3L820.8,536.2L821.4,536.1L822.0,535.9L822.6,535.8L823.2,535.7L823.8,535.5L824.4,535.4L825.0,535.2L825.6,534.9L826.2,534.6L826.8,534.3L827.4,534.0L828.0,533.6L828.6,533.3L829.2,532.9L829.8,532.5L830.4,532.1L831.0,531.7L831.6,531.5L832.2,531.5L832.8,531.4L833.4,531.4L834.0,531.4L834.6,531.4L835.2,531.4L835.8,531.4L836.4,531.4L837.0,531.4L837.6,531.4L838.2,531.3L838.9,531.3L839.5,531.2L840.1,531.0L840.7,530.8L841.3,530.6L841.9,530.3L842.5,530.1L843.1,529.7L843.7,529.2L844.3,528.7L844.9,528.1L845.5,527.5L846.1,526.9L846.7,526.3L847.3,525.6L847.9,524.9L848.5,524.2L849.1,523.5L849.7,522.7L850.3,521.9L850.9,521.6L851.5,521.7L852.1,521.8L852.7,521.9L853.3,521.9L853.9,522.0L854.5,522.1L855.1,522.2L855.7,522.3L856.3,522.3L856.9,522.4L857.5,522.4L859.5,532.0L439.0,633.0L437.0,629.0z"/>
<g stroke="#9aa4a6" stroke-width="1.3" fill="none">
<path d="M111.5,497.5L111.5,218.5"/>
<path d="M111.5,497.5L437.0,628.0L857.5,528.0" stroke="#b4b8b8"/>
<path d="M111.5,497.5l-9,-3.5"/>
<path d="M111.5,441.7l-9,-3.5"/>
<path d="M111.5,385.9l-9,-3.5"/>
<path d="M111.5,330.1l-9,-3.5"/>
<path d="M111.5,274.3l-9,-3.5"/>
<path d="M111.5,218.5l-9,-3.5"/>
<path d="M111.5,497.5l-8,1.9" stroke="#b4b8b8"/>
<path d="M437.0,628.0l8,3.2" stroke="#b4b8b8"/>
<path d="M192.9,530.1l-8,1.9" stroke="#b4b8b8"/>
<path d="M542.1,603.0l8,3.2" stroke="#b4b8b8"/>
<path d="M274.2,562.8l-8,1.9" stroke="#b4b8b8"/>
<path d="M647.2,578.0l8,3.2" stroke="#b4b8b8"/>
<path d="M355.6,595.4l-8,1.9" stroke="#b4b8b8"/>
<path d="M752.4,553.0l8,3.2" stroke="#b4b8b8"/>
<path d="M437.0,628.0l-8,1.9" stroke="#b4b8b8"/>
<path d="M857.5,528.0l8,3.2" stroke="#b4b8b8"/>
</g>
<g font-family="'Liberation Sans',Arial,sans-serif" font-size="39" fill="#161616" stroke="#161616" stroke-width="0.55" text-anchor="middle">
<text transform="translate(99.5,507.5) scale(.94,1)" text-anchor="end">0</text>
<text transform="translate(99.5,451.7) scale(.94,1)" text-anchor="end">0.2</text>
<text transform="translate(99.5,395.9) scale(.94,1)" text-anchor="end">0.4</text>
<text transform="translate(99.5,340.1) scale(.94,1)" text-anchor="end">0.6</text>
<text transform="translate(99.5,284.3) scale(.94,1)" text-anchor="end">0.8</text>
<text transform="translate(99.5,228.5) scale(.94,1)" text-anchor="end">1</text>
<text transform="translate(87.6,539.0) scale(.94,1)">8</text>
<text transform="translate(168.9,571.5) scale(.94,1)">4</text>
<text transform="translate(249.8,602.2) scale(.94,1)">0</text>
<text transform="translate(324.5,633.8) scale(.94,1)">-4</text>
<text transform="translate(405.3,667.2) scale(.94,1)">-8</text>
<text transform="translate(466.0,667.8) scale(.94,1)">-8</text>
<text transform="translate(572.4,645.5) scale(.94,1)">-4</text>
<text transform="translate(671.0,618.8) scale(.94,1)">0</text>
<text transform="translate(774.5,593.8) scale(.94,1)">4</text>
<text transform="translate(881.0,568.8) scale(.94,1)">8</text>
</g>
<g font-family="'Liberation Sans',Arial,sans-serif" font-size="36" fill="#2b2b2b" stroke="#2b2b2b" stroke-width="0.25">
<text x="131.5" y="686.4">α (×10<tspan font-size="27" dy="-17">-4</tspan><tspan dy="17">)</tspan></text>
<text x="623" y="686.4" font-size="36.5">τ (ns)</text>
<text transform="translate(33.5,441.5) rotate(-90)" font-size="36.5">&lt;χ(τ,α,0)&gt;</text>
</g>
</svg>
</body></html>
